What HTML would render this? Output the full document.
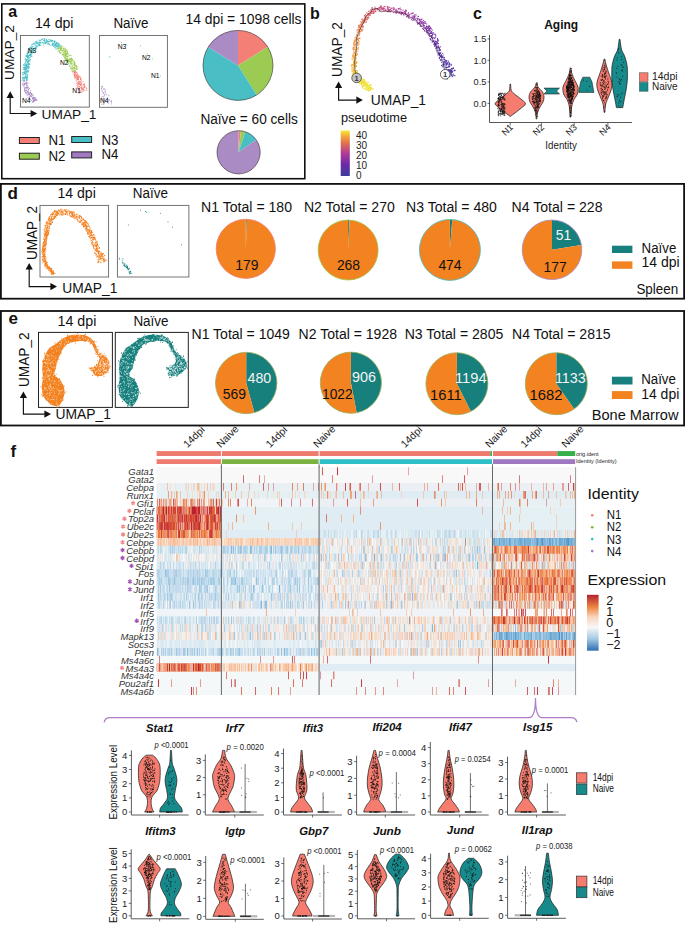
<!DOCTYPE html>
<html><head><meta charset="utf-8"><title>Figure</title>
<style>html,body{margin:0;padding:0;background:#fff;}svg{display:block;}text{font-family:"Liberation Sans",sans-serif;}</style>
</head><body>
<svg width="685" height="931" viewBox="0 0 685 931" font-family="Liberation Sans, sans-serif" fill="#111">
<rect width="685" height="931" fill="#fff"/>
<rect x="1.8" y="3.9" width="303" height="174.8" fill="none" stroke="#111" stroke-width="1.6" />
<text x="8.3" y="17" font-size="16" font-weight="bold">a</text>
<text x="35" y="28" font-size="14" textLength="38.5" lengthAdjust="spacingAndGlyphs">14 dpi</text>
<text x="113.4" y="27.7" font-size="14" textLength="35" lengthAdjust="spacingAndGlyphs">Na&#239;ve</text>
<rect x="20.5" y="35.5" width="68.8" height="71.6" fill="#fff" stroke="#666" stroke-width="0.9" />
<rect x="99.5" y="35.5" width="67.9" height="71.8" fill="#fff" stroke="#666" stroke-width="0.9" />
<path d="M30.5 96.1h0M33.0 98.7h0M26.2 87.7h0M33.5 100.8h0M27.7 91.4h0M31.1 93.5h0M33.8 101.6h0M26.3 92.4h0M34.9 100.6h0M30.6 92.3h0M35.1 99.7h0M35.7 98.8h0M30.5 92.6h0M25.0 84.5h0M33.6 98.9h0M30.0 98.8h0M24.6 89.9h0M26.9 80.9h0M26.9 90.4h0M31.0 93.4h0M26.8 79.8h0M36.0 99.5h0M26.2 83.9h0M29.4 97.7h0M34.5 97.6h0M34.6 98.6h0M32.3 94.1h0M24.2 84.8h0M32.5 98.2h0M28.6 90.0h0M26.9 89.2h0M31.3 93.7h0M25.0 91.0h0M35.2 99.6h0M33.8 100.9h0M32.7 97.8h0M27.6 87.4h0M26.8 94.9h0M28.2 97.3h0M28.5 89.7h0M28.5 92.2h0M29.8 96.5h0M23.7 85.1h0M25.7 87.5h0M29.6 98.5h0M25.3 90.8h0M25.5 92.5h0M24.7 83.4h0M27.3 86.6h0M31.8 95.2h0M27.0 80.2h0M33.1 99.7h0M30.5 92.9h0M27.6 85.5h0M33.7 98.2h0M28.1 92.4h0M34.3 101.0h0M26.2 88.2h0M24.0 87.0h0M29.4 88.8h0M26.6 83.5h0M31.0 95.6h0M24.5 88.2h0M26.3 90.7h0M24.9 90.9h0M28.7 92.3h0M27.9 83.4h0M23.4 81.9h0M30.5 91.0h0M26.3 87.7h0M34.1 100.7h0M26.2 87.4h0M27.8 88.0h0M26.4 79.8h0M24.3 84.5h0M30.9 96.4h0M28.8 94.5h0M28.4 87.3h0M35.0 100.5h0M28.3 92.8h0M30.1 99.7h0M34.8 97.9h0M33.2 101.9h0M26.5 85.8h0M33.2 100.0h0M32.9 95.8h0M29.3 94.2h0M27.4 83.2h0M34.2 101.1h0M28.3 93.9h0M27.1 91.3h0M24.9 82.9h0M26.4 84.6h0M25.6 83.5h0M31.1 96.3h0M29.8 92.9h0M29.3 94.7h0M22.8 83.2h0M26.1 80.9h0M31.5 100.6h0M33.6 97.3h0M29.9 99.2h0M29.6 99.1h0M25.7 93.0h0M25.6 90.2h0M31.5 96.9h0M37.0 100.1h0M27.9 93.7h0M29.5 94.9h0M24.8 91.1h0M24.7 81.2h0M25.2 88.0h0M27.5 91.6h0M24.5 89.9h0M24.4 88.6h0M32.3 102.3h0M26.3 82.4h0M24.1 85.9h0M26.7 82.7h0M23.1 85.0h0M27.6 95.0h0M29.6 93.8h0M35.1 98.9h0M27.3 88.0h0M33.1 101.8h0M35.8 99.7h0M33.1 97.3h0M32.4 98.7h0M31.5 94.3h0M35.9 99.6h0M36.6 100.4h0M33.2 99.0h0M32.9 101.4h0M29.8 94.6h0M36.2 100.3h0M24.2 83.4h0M29.1 88.4h0M33.8 98.3h0M33.2 95.6h0M31.8 94.2h0M28.7 94.8h0M35.3 97.9h0M22.6 84.3h0M24.2 80.2h0M27.9 92.7h0M26.2 93.4h0M34.3 99.5h0M33.5 100.3h0M31.1 94.4h0M29.6 97.4h0" stroke="#AA8BC3" stroke-width="1.0" stroke-linecap="round" fill="none" opacity="1.0"/>
<path d="M26.7 69.3h0M24.9 69.4h0M29.2 67.2h0M54.3 45.1h0M33.4 50.8h0M27.7 66.3h0M54.9 42.0h0M60.4 45.9h0M30.9 52.5h0M26.1 71.4h0M28.8 68.6h0M25.7 74.2h0M29.1 58.3h0M25.3 74.1h0M26.2 65.4h0M28.1 63.5h0M36.2 48.0h0M54.1 40.9h0M45.0 41.7h0M29.7 55.0h0M27.7 53.7h0M31.3 47.2h0M28.8 56.6h0M30.5 59.3h0M25.5 76.1h0M28.4 62.1h0M57.2 46.3h0M24.3 72.6h0M30.0 47.6h0M35.6 41.8h0M51.8 41.1h0M27.3 66.4h0M28.0 63.7h0M28.7 64.8h0M31.9 55.9h0M31.1 52.7h0M57.1 44.7h0M52.3 40.2h0M53.8 41.0h0M23.1 78.7h0M27.3 78.3h0M42.6 42.8h0M52.6 45.1h0M28.8 49.2h0M36.1 45.9h0M23.5 80.2h0M30.4 56.0h0M53.7 46.5h0M49.4 44.5h0M52.6 40.6h0M59.5 44.2h0M28.9 64.8h0M25.9 73.2h0M24.9 70.1h0M32.3 48.9h0M40.2 42.5h0M55.9 45.4h0M43.7 44.9h0M38.7 42.6h0M46.3 39.7h0M33.0 52.4h0M31.6 45.1h0M23.7 77.5h0M47.0 41.2h0M27.1 65.7h0M55.6 43.6h0M38.9 42.7h0M26.7 60.3h0M24.7 72.1h0M28.9 64.2h0M38.9 44.3h0M41.3 40.0h0M26.4 73.1h0M26.7 75.1h0M33.5 48.6h0M36.2 46.9h0M28.5 56.0h0M26.5 66.3h0M37.4 46.6h0M24.6 79.0h0M28.7 61.4h0M31.1 52.0h0M59.0 43.8h0M36.8 41.1h0M52.8 44.4h0M32.8 51.6h0M23.8 64.6h0M27.2 64.0h0M56.4 46.5h0M41.2 39.4h0M26.8 60.7h0M26.4 78.2h0M30.9 48.6h0M40.3 43.3h0M27.0 53.3h0M29.3 64.0h0M39.2 40.6h0M55.3 45.3h0M28.5 66.3h0M26.2 77.8h0M25.4 58.4h0M27.0 53.5h0M41.3 42.7h0M28.9 68.4h0M47.9 41.4h0M44.3 43.5h0M30.3 47.6h0M27.5 67.7h0M55.9 48.1h0M29.8 61.1h0M49.5 44.5h0M23.6 65.2h0M27.9 65.9h0M45.6 43.4h0M25.7 61.0h0M57.0 45.0h0M32.4 50.0h0M26.9 68.4h0M28.9 66.2h0M30.8 54.9h0M39.2 40.1h0M58.1 43.9h0M28.4 71.5h0M27.5 55.2h0M26.0 67.3h0M57.4 46.5h0M26.6 71.2h0M27.6 77.0h0M27.4 76.7h0M30.9 56.0h0M54.2 41.8h0M54.2 41.3h0M43.0 38.6h0M57.6 48.5h0M55.8 44.6h0M27.6 59.4h0M23.7 67.4h0M57.2 44.1h0M44.9 38.8h0M22.4 78.0h0M39.8 43.2h0M27.0 55.6h0M26.1 55.5h0M29.8 59.7h0M26.3 69.3h0M22.2 80.2h0M25.8 61.6h0M27.6 58.1h0M58.5 44.1h0M24.2 71.8h0M58.3 44.0h0M25.7 66.4h0M27.6 57.2h0M48.8 44.0h0M49.3 44.7h0M28.6 52.6h0M26.5 77.3h0M29.6 49.6h0M30.4 57.2h0M56.3 42.3h0M25.3 67.6h0M26.5 56.4h0M53.9 43.9h0M22.5 77.7h0M30.3 54.8h0M48.7 41.6h0M46.3 40.3h0M23.0 77.4h0M26.1 78.0h0M23.1 75.7h0M53.9 45.1h0M24.6 63.2h0M44.8 40.6h0M54.4 42.6h0M30.3 59.8h0M29.9 63.7h0M56.8 45.9h0M36.1 42.8h0M29.4 63.9h0M42.1 39.3h0M25.1 59.0h0M28.1 63.7h0M24.9 80.2h0M45.2 41.8h0M56.3 43.4h0M39.3 45.5h0M57.7 43.4h0M26.6 79.0h0M24.9 64.8h0M29.4 50.2h0M55.1 47.3h0M58.0 45.4h0M27.3 55.3h0M29.6 64.6h0M28.4 52.2h0M32.9 51.1h0M56.8 42.7h0M24.7 68.2h0M48.6 39.8h0M44.9 39.2h0M48.8 43.3h0M46.7 40.6h0M34.8 43.1h0M27.9 59.4h0M29.1 60.3h0M27.3 56.8h0M47.1 40.4h0M27.9 74.8h0M28.9 67.9h0M44.6 39.8h0M28.2 64.4h0M25.7 76.1h0M26.9 77.7h0M35.2 48.0h0M28.1 59.9h0M58.4 46.9h0M52.8 43.3h0M59.1 46.2h0M29.5 64.1h0M23.4 74.5h0M25.5 74.4h0M31.3 48.2h0M42.4 42.0h0M31.4 52.8h0M23.8 64.2h0M30.8 54.5h0M36.0 43.3h0M40.8 45.3h0M44.4 38.9h0M51.4 40.8h0M40.1 45.1h0M26.0 72.6h0M49.3 44.6h0M26.8 61.0h0M32.3 44.3h0M28.9 56.1h0M43.9 40.3h0M24.6 67.3h0M26.7 64.2h0M26.8 64.7h0M25.6 70.2h0M54.3 42.2h0M36.3 46.8h0M25.4 59.2h0M31.8 56.4h0M59.9 45.5h0M32.7 49.5h0M25.7 65.4h0M48.2 41.7h0M39.5 45.6h0M58.2 47.9h0M24.1 73.7h0M30.1 50.4h0M49.6 44.6h0M50.6 41.3h0M54.8 44.4h0M23.4 78.0h0M27.4 61.7h0M26.0 72.4h0M24.5 67.8h0M57.0 46.9h0M35.6 45.2h0M55.4 45.4h0M27.7 56.4h0M52.0 44.1h0M29.2 51.8h0M24.8 63.2h0M46.1 42.8h0M55.4 46.0h0M26.1 73.0h0M35.8 45.0h0M36.5 42.2h0M26.0 66.5h0M27.4 56.3h0M27.6 71.1h0M26.8 67.5h0M29.1 64.1h0M37.0 45.8h0M38.7 44.3h0M28.3 67.9h0M27.8 79.8h0M26.7 59.3h0M40.3 42.3h0M25.8 68.4h0M28.0 60.5h0M26.3 67.0h0M47.6 44.0h0M32.7 46.2h0M27.1 76.3h0M25.3 73.6h0M29.0 55.2h0M33.8 46.9h0M39.4 44.5h0M24.5 73.5h0M24.5 69.6h0M40.4 40.6h0M29.4 54.6h0M28.1 62.9h0M28.3 61.2h0M58.8 43.8h0M29.8 60.9h0M35.6 47.6h0M27.4 57.0h0M30.6 54.5h0M50.9 45.5h0M59.8 46.0h0M28.6 57.2h0M24.8 67.2h0M42.7 39.1h0M24.8 67.0h0M26.5 79.6h0M53.5 46.3h0M31.7 54.5h0M49.0 44.1h0M30.1 54.9h0M52.3 45.3h0M32.5 52.9h0M23.1 69.2h0M26.5 78.8h0M34.1 46.9h0M38.1 42.9h0M53.5 46.3h0M27.2 74.6h0M36.3 42.9h0M28.1 56.2h0M34.2 50.7h0M26.9 71.3h0M27.4 62.5h0M33.7 49.5h0M56.1 44.0h0M24.0 72.6h0M29.7 48.2h0M47.9 41.6h0M59.0 44.0h0M26.9 67.7h0M25.4 71.6h0M57.9 43.0h0M58.6 45.2h0M29.9 49.1h0M25.8 76.4h0M57.0 42.7h0M30.1 55.6h0M55.1 41.8h0M38.4 45.6h0M49.6 41.5h0M25.3 69.3h0M47.0 42.5h0M28.4 66.3h0M27.1 54.5h0M50.5 40.6h0M50.0 39.5h0M23.9 68.5h0M24.4 65.7h0M27.3 54.5h0M31.1 46.8h0M27.4 55.3h0M23.1 72.3h0M26.0 64.3h0M43.7 43.1h0M53.9 43.1h0M27.3 77.9h0M33.0 44.1h0M45.5 42.2h0M25.1 77.8h0M50.8 39.9h0M27.9 72.6h0M34.9 42.7h0M36.1 48.3h0M38.1 44.8h0M25.9 60.5h0M29.7 52.8h0M34.2 44.3h0M30.6 53.9h0M39.2 42.0h0M27.8 51.0h0M27.8 52.0h0M25.1 78.5h0M36.1 42.8h0M34.0 51.2h0M25.3 65.1h0M45.7 43.5h0M46.6 39.4h0M30.5 52.2h0M24.1 69.0h0M31.3 50.6h0M22.2 73.1h0M25.9 71.8h0M28.3 53.3h0M22.9 74.0h0M31.1 53.2h0M33.6 49.7h0M24.5 77.3h0M37.7 43.3h0M27.7 75.1h0M44.2 42.1h0M46.4 42.0h0M34.2 50.0h0M26.2 76.5h0M30.2 47.9h0M27.3 56.4h0M58.8 43.8h0M27.8 71.7h0M51.9 41.6h0M60.1 46.0h0M43.6 40.4h0M49.1 40.9h0M23.6 67.4h0M56.2 48.9h0M30.2 48.9h0M56.8 46.6h0M55.9 43.1h0M27.2 70.1h0M47.4 41.5h0M55.1 45.9h0M25.1 76.3h0M26.7 56.9h0M45.3 43.1h0M26.2 69.8h0M55.0 41.1h0M25.8 62.2h0M48.9 41.5h0M28.1 70.8h0M32.5 49.8h0M54.3 45.3h0M28.0 67.0h0M26.1 62.9h0M31.7 48.5h0M28.8 60.2h0M26.4 77.8h0M26.8 68.3h0M27.3 70.4h0M54.6 47.2h0M40.4 42.3h0M54.5 41.2h0M25.8 69.6h0M47.5 40.9h0M24.6 72.5h0M32.2 47.1h0M36.8 41.8h0M27.8 57.2h0M52.3 42.0h0M36.4 47.9h0M34.2 44.7h0M52.6 43.9h0M25.2 73.2h0M60.3 45.5h0M36.3 42.2h0M28.1 55.8h0M48.0 43.2h0M28.8 63.7h0M58.0 47.9h0M34.3 44.1h0M29.5 57.7h0M45.9 42.8h0M31.5 52.8h0M26.1 69.2h0M44.7 40.8h0M25.8 76.9h0M49.3 44.8h0M26.7 64.2h0M37.5 42.3h0M58.7 46.6h0M33.4 43.3h0M39.2 41.7h0M30.0 61.0h0M23.8 80.2h0M27.1 78.3h0M28.4 70.5h0M36.8 43.8h0M28.1 52.9h0M30.8 47.4h0M53.2 43.9h0M26.4 72.4h0M23.6 65.3h0M39.4 43.7h0M24.6 78.4h0M22.8 79.8h0M28.2 57.9h0M25.4 73.6h0M25.9 56.4h0" stroke="#49BFC5" stroke-width="1.05" stroke-linecap="round" fill="none" opacity="1.0"/>
<path d="M63.0 54.2h0M70.1 63.0h0M66.4 59.9h0M67.8 56.2h0M66.8 53.2h0M69.6 55.7h0M68.5 63.5h0M70.7 67.1h0M74.3 68.6h0M63.6 49.6h0M67.0 51.4h0M67.0 57.3h0M69.3 59.9h0M67.5 52.9h0M65.3 49.0h0M61.7 47.9h0M65.9 53.4h0M69.9 55.3h0M76.5 68.8h0M74.8 68.3h0M76.4 66.3h0M77.0 69.5h0M74.4 70.2h0M70.5 61.3h0M74.2 65.5h0M61.0 48.2h0M70.8 62.4h0M69.8 60.9h0M63.0 55.1h0M71.2 58.7h0M77.2 69.3h0M66.6 59.1h0M73.7 60.7h0M63.8 54.6h0M63.7 56.5h0M72.1 68.9h0M59.7 48.2h0M65.0 50.0h0M71.0 63.2h0M65.4 58.2h0M60.3 49.1h0M68.4 63.2h0M65.5 56.0h0M70.5 59.1h0M66.9 56.4h0M66.6 60.3h0M66.2 61.3h0M67.2 56.4h0M59.5 52.2h0M61.1 53.3h0M74.1 67.5h0M66.6 60.3h0M61.0 50.1h0M70.7 68.3h0M65.6 51.2h0M61.7 49.8h0M71.3 58.1h0M63.1 53.9h0M67.5 59.0h0M66.7 61.0h0M65.4 51.0h0M70.8 60.1h0M59.2 51.8h0M67.5 59.3h0M67.6 61.4h0M59.6 50.3h0M67.9 54.8h0M60.8 47.5h0M65.0 57.8h0M71.7 68.2h0M71.1 58.3h0M71.0 63.8h0M74.4 63.1h0M59.4 52.1h0M74.7 71.2h0M74.5 62.2h0M61.4 48.7h0M75.1 66.3h0M64.7 57.7h0M63.4 48.5h0M74.7 70.0h0M71.5 58.2h0M75.0 63.5h0M63.0 48.4h0M72.4 65.3h0M57.8 50.9h0M66.0 50.4h0M66.0 55.8h0M61.2 45.7h0M71.6 60.1h0M65.9 49.9h0M67.5 51.4h0M74.6 62.0h0M68.6 55.9h0M72.3 68.8h0M72.6 59.9h0M77.0 66.4h0M71.1 58.5h0M73.9 68.7h0M75.3 66.7h0M63.8 49.5h0M71.9 64.8h0M65.0 55.3h0M73.9 64.0h0M70.6 62.5h0M76.0 65.5h0M60.7 50.4h0M66.0 55.5h0M72.1 63.5h0M72.8 70.1h0M74.1 62.7h0M60.9 47.7h0M72.6 59.5h0M60.6 49.7h0M71.6 58.3h0M75.3 64.7h0M63.2 47.9h0M75.5 68.3h0M73.5 60.7h0M64.4 51.9h0M63.6 50.7h0M70.2 54.9h0M72.3 67.6h0M68.1 61.3h0M61.0 50.1h0M58.6 48.5h0M59.6 51.5h0M72.0 66.4h0M62.2 51.5h0M68.1 60.8h0M65.5 53.0h0M70.0 63.3h0M68.6 53.8h0M62.1 50.3h0M72.4 68.1h0M68.2 59.4h0M73.8 61.3h0M74.0 65.1h0M71.8 70.9h0M58.6 48.2h0M67.4 53.0h0M60.2 53.1h0M67.3 58.0h0M71.6 68.4h0M70.8 66.8h0M60.2 47.6h0M63.7 50.4h0M74.5 65.3h0M72.2 61.8h0M65.9 56.4h0M66.9 58.4h0M62.2 50.3h0M76.4 65.7h0M64.4 56.9h0M71.0 69.3h0M69.1 61.7h0M61.7 47.4h0M66.4 53.6h0M62.9 52.4h0M76.6 67.1h0M72.3 59.1h0M58.3 50.8h0M62.6 50.4h0M67.2 54.0h0M65.1 59.2h0M70.6 59.7h0M66.5 55.5h0M66.0 54.4h0M60.5 45.9h0M69.1 61.1h0M65.0 54.9h0M59.0 47.2h0M71.1 55.5h0M75.3 70.7h0M60.4 48.6h0M60.2 52.6h0M71.9 61.4h0M65.4 51.8h0M62.7 55.1h0M67.1 59.4h0M65.8 51.6h0M71.0 59.8h0M71.4 57.9h0M76.4 69.2h0M74.0 70.7h0M59.9 48.4h0M68.5 60.1h0M72.6 65.2h0M73.4 67.8h0M69.2 66.4h0M68.0 62.4h0M69.9 61.4h0M66.5 55.3h0M64.0 54.2h0M74.5 64.7h0M74.0 67.3h0M76.8 68.2h0M71.9 62.7h0M64.8 53.7h0M74.6 63.3h0M70.8 64.7h0M69.1 58.2h0M71.4 61.1h0M63.9 56.4h0M70.1 59.1h0M65.4 57.4h0M58.3 50.6h0M65.8 53.9h0M65.2 54.1h0M72.4 71.4h0M66.0 59.1h0M66.1 55.6h0M64.0 52.6h0M66.6 49.8h0M64.1 55.7h0M63.1 48.6h0M58.1 49.0h0M74.4 67.2h0M65.2 58.5h0M65.2 58.5h0M71.1 58.3h0M64.9 53.3h0M65.0 48.6h0M62.9 46.3h0M65.9 52.6h0M67.4 52.0h0M69.4 65.2h0M69.4 59.5h0M73.2 69.4h0M67.1 53.5h0M77.2 67.7h0M71.2 59.6h0M60.9 48.1h0M65.2 48.9h0M67.3 61.8h0M73.5 71.2h0M66.3 54.8h0M74.8 63.8h0M65.1 58.0h0M73.8 67.3h0M60.5 49.1h0M65.3 59.4h0M74.2 68.6h0M63.6 53.9h0M67.1 50.9h0M61.3 46.5h0M64.8 48.1h0M62.4 54.4h0M74.1 62.1h0M64.3 51.3h0M64.7 57.0h0M64.9 49.6h0M67.2 62.1h0M74.1 67.3h0M67.9 63.5h0M61.3 52.9h0M74.9 62.4h0M76.0 69.2h0M72.1 59.9h0M61.2 48.2h0" stroke="#9CCB54" stroke-width="1.05" stroke-linecap="round" fill="none" opacity="1.0"/>
<path d="M76.1 80.0h0M83.2 91.2h0M84.3 84.2h0M83.4 84.4h0M78.3 76.7h0M74.0 75.1h0M78.9 83.9h0M79.5 89.0h0M78.3 90.0h0M78.9 77.4h0M75.2 74.9h0M78.6 81.7h0M83.1 89.5h0M74.6 75.1h0M79.7 86.9h0M74.4 75.0h0M76.7 78.3h0M72.9 72.8h0M74.7 77.8h0M77.5 79.5h0M86.7 90.0h0M81.4 92.2h0M76.6 75.0h0M77.5 77.3h0M80.2 91.7h0M76.3 75.7h0M77.6 78.1h0M80.9 79.3h0M74.2 74.0h0M75.8 76.4h0M80.5 78.4h0M76.8 79.7h0M80.0 92.7h0M75.7 77.1h0M77.8 74.7h0M82.3 90.1h0M80.6 79.5h0M86.0 87.6h0M80.9 84.4h0M78.1 89.0h0M77.8 78.0h0M74.8 74.2h0M84.0 85.5h0M79.0 81.0h0M78.7 83.2h0M77.5 87.1h0M77.9 88.7h0M77.7 76.8h0M77.6 79.2h0M83.9 90.4h0M78.1 83.3h0M75.7 77.6h0M77.1 85.3h0M77.6 76.2h0M84.7 85.6h0M74.9 71.9h0M82.4 88.2h0M80.3 82.3h0M78.6 78.1h0M84.7 90.1h0M74.7 77.4h0M76.1 75.9h0M75.0 72.4h0M77.9 83.1h0M84.3 85.1h0M81.1 85.2h0M78.8 79.1h0M82.0 88.0h0M77.0 72.8h0M80.0 76.4h0M80.4 84.3h0M86.8 90.0h0M78.4 85.2h0M79.3 86.5h0M83.2 86.8h0M77.2 79.9h0M78.8 92.8h0M84.6 84.7h0M77.9 78.5h0M78.3 79.0h0M84.7 86.8h0M80.1 77.1h0M74.7 75.5h0M78.4 91.0h0M77.8 82.4h0M79.1 81.6h0M84.1 83.3h0M86.8 88.5h0M77.3 73.9h0M77.2 77.4h0M75.1 72.4h0M80.7 78.3h0M79.2 82.1h0M81.6 89.4h0M77.3 86.3h0M81.1 82.1h0M78.4 79.6h0M79.3 83.4h0M75.6 77.9h0M83.1 88.9h0M81.3 87.7h0M79.2 89.4h0M76.0 74.5h0M81.6 84.6h0M80.3 87.6h0M81.6 80.3h0M80.7 90.7h0M83.5 89.1h0M82.0 86.2h0M81.3 88.6h0M81.9 83.8h0M82.0 89.9h0M74.7 74.1h0M78.1 87.8h0M81.2 85.7h0M80.2 84.4h0M77.6 76.8h0M76.5 72.3h0M81.8 82.7h0M84.8 87.2h0M78.2 76.3h0M76.0 75.8h0M78.8 75.3h0M75.1 73.2h0M80.6 85.5h0M82.2 92.0h0M78.5 89.6h0M77.1 78.6h0M77.1 87.4h0M76.4 72.3h0M82.3 88.8h0M78.6 77.7h0M73.7 71.4h0M80.8 83.9h0M75.8 74.1h0M76.6 77.1h0M75.4 72.1h0M80.9 79.7h0M79.2 82.7h0M78.3 89.3h0M74.4 72.8h0M83.9 87.5h0M75.0 73.7h0M74.6 76.4h0M80.1 84.2h0M77.3 78.9h0M79.4 76.8h0M78.3 84.1h0M76.7 75.0h0M81.4 87.4h0M77.2 75.3h0M84.3 87.9h0M81.7 88.3h0M76.9 83.7h0M74.1 72.3h0M78.6 89.0h0M75.6 71.2h0M80.4 81.3h0M76.2 81.2h0M74.5 72.5h0M79.5 84.6h0M79.2 86.9h0M83.0 81.6h0M80.8 78.4h0M76.8 83.4h0M78.1 84.3h0M77.2 76.4h0M83.4 88.9h0M79.5 93.0h0M84.8 86.6h0" stroke="#F47F77" stroke-width="1.0" stroke-linecap="round" fill="none" opacity="1.0"/>
<text x="27.7" y="53.2" font-size="6.6" fill="#000" textLength="8.6" lengthAdjust="spacingAndGlyphs">N3</text>
<text x="59.9" y="65" font-size="6.6" fill="#000" textLength="8.6" lengthAdjust="spacingAndGlyphs">N2</text>
<text x="72.3" y="93.4" font-size="6.6" fill="#000" textLength="8.6" lengthAdjust="spacingAndGlyphs">N1</text>
<text x="21.9" y="103" font-size="6.6" fill="#000" textLength="8.6" lengthAdjust="spacingAndGlyphs">N4</text>
<path d="M121.5 42.6h0M125.5 44.5h0M126.8 44.7h0M140.5 45.8h0M109.8 56.9h0" stroke="#49BFC5" stroke-width="1.1" stroke-linecap="round" fill="none" opacity="1"/>
<path d="M147.5 54.0h0M152.5 59.0h0" stroke="#9CCB54" stroke-width="1.0" stroke-linecap="round" fill="none" opacity="1"/>
<path d="M160.5 76.0h0" stroke="#F47F77" stroke-width="1.0" stroke-linecap="round" fill="none" opacity="1"/>
<path d="M107.3 99.8h0M111.6 101.8h0M103.7 104.0h0M104.7 89.0h0M103.0 98.5h0M104.0 100.3h0M103.5 92.7h0M107.4 97.8h0M104.1 89.0h0M106.0 99.3h0M109.6 100.0h0M102.5 86.7h0M108.7 100.1h0M103.1 99.6h0M111.3 104.0h0M103.9 92.7h0M103.9 104.0h0M108.9 95.9h0M104.1 103.2h0M105.2 100.9h0M109.2 99.9h0M102.3 90.4h0M102.8 92.3h0M101.7 87.8h0M104.6 95.8h0M103.5 89.1h0M108.5 103.7h0M106.5 95.0h0M102.7 96.4h0M101.5 97.1h0M103.0 100.1h0M108.5 95.2h0M110.6 101.4h0M107.7 99.6h0M111.6 100.5h0M105.5 91.9h0M103.0 94.0h0M108.3 102.1h0M111.6 102.5h0M103.2 98.8h0M102.7 87.0h0M104.2 100.8h0M101.3 88.9h0M104.9 91.4h0M101.8 86.4h0M105.8 93.3h0M101.5 104.3h0M105.4 90.1h0M103.2 104.1h0M105.0 94.6h0M104.2 94.3h0M103.5 97.0h0M101.6 88.4h0M101.8 91.2h0M108.2 99.3h0" stroke="#AA8BC3" stroke-width="0.9" stroke-linecap="round" fill="none" opacity="1"/>
<text x="117.7" y="49" font-size="6.6" fill="#000" textLength="8.6" lengthAdjust="spacingAndGlyphs">N3</text>
<text x="142" y="60.2" font-size="6.6" fill="#000" textLength="8.6" lengthAdjust="spacingAndGlyphs">N2</text>
<text x="151" y="78.2" font-size="6.6" fill="#000" textLength="8.6" lengthAdjust="spacingAndGlyphs">N1</text>
<text x="100" y="103.3" font-size="6.6" fill="#000" textLength="8.6" lengthAdjust="spacingAndGlyphs">N4</text>
<text x="0" y="0" transform="translate(13.8 80) rotate(-90)" font-size="13.5" textLength="55" lengthAdjust="spacingAndGlyphs" >UMAP_2</text>
<path d="M10.2 97.4V113.5H31.1" fill="none" stroke="#111" stroke-width="1.15"/>
<path d="M10.2 91.3L6.6 97.9L13.8 97.9Z" fill="#111"/>
<path d="M37.2 113.5L30.6 109.9L30.6 117.1Z" fill="#111"/>
<text x="41.6" y="119" font-size="13.5" textLength="54.8" lengthAdjust="spacingAndGlyphs">UMAP_1</text>
<rect x="19.4" y="137.5" width="19.9" height="6" fill="#F47F77" stroke="#222" stroke-width="1" />
<text x="48.4" y="145" font-size="14" textLength="17" lengthAdjust="spacingAndGlyphs">N1</text>
<rect x="19.4" y="153.2" width="19.9" height="6" fill="#9CCB54" stroke="#222" stroke-width="1" />
<text x="48.4" y="160.8" font-size="14" textLength="17" lengthAdjust="spacingAndGlyphs">N2</text>
<rect x="71.7" y="136.5" width="19.9" height="6" fill="#49BFC5" stroke="#222" stroke-width="1" />
<text x="101.5" y="144.7" font-size="14" textLength="17" lengthAdjust="spacingAndGlyphs">N3</text>
<rect x="71.7" y="151.9" width="19.9" height="6" fill="#A27AC2" stroke="#222" stroke-width="1" />
<text x="101.5" y="159.3" font-size="14" textLength="17" lengthAdjust="spacingAndGlyphs">N4</text>
<text x="185.5" y="23.7" font-size="14" textLength="116" lengthAdjust="spacingAndGlyphs">14 dpi = 1098 cells</text>
<path d="M238.00 65.40L238.00 30.40A35.00 35.00 0 0 1 267.68 46.85Z" fill="#F47F77"/>
<path d="M238.00 65.40L267.68 46.85A35.00 35.00 0 0 1 256.70 94.98Z" fill="#9CCB54"/>
<path d="M238.00 65.40L256.70 94.98A35.00 35.00 0 0 1 208.16 47.11Z" fill="#49BFC5"/>
<path d="M238.00 65.40L208.16 47.11A35.00 35.00 0 0 1 238.00 30.40Z" fill="#AA8BC3"/>
<circle cx="238" cy="65.4" r="35" fill="none" stroke="#333" stroke-width="0.6"/>
<text x="200.4" y="123.7" font-size="14" textLength="97.4" lengthAdjust="spacingAndGlyphs">Na&#239;ve = 60 cells</text>
<path d="M238.60 152.30L238.60 130.70A21.60 21.60 0 0 1 240.86 130.82Z" fill="#F47F77"/>
<path d="M238.60 152.30L240.86 130.82A21.60 21.60 0 0 1 245.27 131.76Z" fill="#9CCB54"/>
<path d="M238.60 152.30L245.27 131.76A21.60 21.60 0 0 1 256.16 139.73Z" fill="#49BFC5"/>
<path d="M238.60 152.30L256.16 139.73A21.60 21.60 0 1 1 238.60 130.70Z" fill="#AA8BC3"/>
<circle cx="238.6" cy="152.3" r="21.6" fill="none" stroke="#333" stroke-width="0.6"/>
<text x="310" y="18.6" font-size="16" font-weight="bold">b</text>
<path d="M373.2 88.8h0M357.7 75.9h0M368.8 88.4h0M352.9 73.7h0M360.4 78.9h0M355.9 75.4h0M358.3 78.6h0M360.8 79.4h0M364.5 81.8h0M359.1 80.6h0M362.4 80.8h0M356.6 76.3h0M358.3 81.6h0M358.5 78.5h0M362.9 81.9h0M362.9 79.1h0M362.7 81.3h0M365.4 86.2h0M359.9 76.9h0M359.4 76.8h0M355.0 77.6h0M356.5 77.1h0M353.3 75.4h0M366.3 83.8h0M367.6 89.1h0M363.2 79.6h0M359.3 78.4h0M356.2 76.1h0M364.2 81.6h0M361.6 80.8h0M360.3 76.2h0M360.7 79.5h0M369.9 88.0h0M369.3 87.8h0M354.6 75.1h0M361.1 80.5h0M365.1 84.2h0M370.9 85.2h0M371.9 89.3h0M361.6 82.3h0M370.4 88.7h0M371.5 87.6h0M354.3 75.1h0M367.8 86.5h0M372.5 88.9h0M355.6 73.2h0M370.2 90.4h0M358.4 76.8h0M352.6 76.5h0M360.0 78.3h0M362.2 81.1h0M362.8 82.7h0M367.9 85.7h0M356.8 75.0h0M368.2 82.5h0M370.3 88.5h0M362.7 85.9h0M364.9 83.2h0M354.8 73.9h0M368.8 86.7h0M370.5 89.6h0M370.5 88.4h0M367.6 86.7h0M352.7 72.0h0M366.5 85.3h0M357.5 76.1h0M355.8 77.0h0M361.2 84.4h0M364.0 84.0h0M367.6 87.7h0M365.7 82.1h0M356.1 75.3h0M362.0 80.3h0M361.9 82.7h0M366.2 86.5h0M358.8 79.2h0M363.4 83.7h0M361.9 81.8h0M370.7 84.6h0M359.9 77.8h0M355.6 71.9h0M357.9 79.1h0M355.2 77.3h0M365.1 83.6h0M357.7 76.8h0M362.2 81.9h0M364.7 81.2h0M362.5 82.7h0M369.8 88.0h0M360.6 80.4h0M359.7 81.6h0M367.2 85.4h0M364.4 83.1h0M363.9 81.3h0M367.9 86.1h0M357.5 74.1h0M356.0 72.8h0M367.3 85.0h0M353.2 74.9h0M361.4 80.5h0M366.4 84.3h0M365.2 81.4h0M370.2 88.1h0M356.7 76.6h0M363.7 81.0h0M366.8 82.1h0M356.4 73.0h0M369.4 88.0h0M367.7 87.6h0M364.4 80.8h0M358.5 76.5h0M361.6 81.7h0M366.3 85.2h0M362.0 80.3h0M359.6 77.2h0M366.9 85.9h0M363.8 79.1h0M354.3 72.0h0M361.4 79.4h0M356.9 75.3h0M360.3 76.6h0M362.3 79.7h0M360.3 79.1h0M364.1 79.7h0M369.0 86.9h0M368.1 89.0h0M363.4 82.1h0M359.4 75.9h0M367.4 84.3h0M360.6 80.0h0M368.3 85.6h0M363.6 81.4h0M359.5 77.2h0M362.4 81.9h0M363.7 86.3h0M370.4 87.2h0M363.7 82.0h0M352.0 74.2h0M366.3 86.0h0M372.2 88.7h0M371.5 88.0h0M363.9 84.2h0M361.8 82.3h0M369.1 87.5h0M366.1 83.9h0M357.7 75.5h0M356.7 79.4h0M357.0 75.8h0M363.5 81.2h0M369.3 84.7h0M369.4 85.0h0M364.4 79.7h0M364.3 82.4h0M358.6 80.7h0M366.2 89.5h0M356.1 74.4h0M356.5 73.9h0M361.6 77.9h0M363.4 83.6h0M370.0 89.9h0" stroke="#eee436" stroke-width="1.3" stroke-linecap="round" fill="none" opacity="0.95"/>
<path d="M359.2 41.3h0M357.2 48.4h0M356.4 63.2h0" stroke="#f0a041" stroke-width="1.25" stroke-linecap="round" fill="none" opacity="0.95"/>
<path d="M435.2 41.9h0M434.8 38.7h0M429.0 29.4h0M430.6 33.1h0" stroke="#702aa7" stroke-width="1.25" stroke-linecap="round" fill="none" opacity="0.95"/>
<path d="M428.5 30.5h0M426.2 29.0h0M425.8 28.2h0" stroke="#802ca5" stroke-width="1.25" stroke-linecap="round" fill="none" opacity="0.95"/>
<path d="M361.7 24.9h0M362.7 26.1h0M361.1 29.4h0M358.5 26.6h0M364.0 20.0h0M363.6 21.5h0M359.5 26.2h0" stroke="#e67856" stroke-width="1.25" stroke-linecap="round" fill="none" opacity="0.95"/>
<path d="M385.2 9.7h0" stroke="#ba418a" stroke-width="1.25" stroke-linecap="round" fill="none" opacity="0.95"/>
<path d="M354.4 56.3h0M355.0 60.4h0" stroke="#f0b43d" stroke-width="1.25" stroke-linecap="round" fill="none" opacity="0.95"/>
<path d="M450.9 64.0h0M451.1 71.1h0M443.3 57.1h0M445.4 62.1h0M444.6 61.5h0M451.0 65.1h0M448.8 66.1h0M448.6 69.7h0M447.5 63.0h0M452.0 71.4h0" stroke="#5032a4" stroke-width="1.25" stroke-linecap="round" fill="none" opacity="0.95"/>
<path d="M399.0 13.2h0" stroke="#ad3a94" stroke-width="1.25" stroke-linecap="round" fill="none" opacity="0.95"/>
<path d="M361.5 82.8h0M357.0 75.7h0M364.9 85.4h0M356.7 77.5h0M367.0 83.4h0M356.7 76.0h0M359.6 82.8h0M371.0 85.5h0M369.0 88.9h0M370.2 85.1h0M361.4 81.2h0M368.2 91.3h0M363.1 83.8h0M365.1 89.7h0M368.0 88.4h0M366.6 86.8h0" stroke="#f0e832" stroke-width="1.25" stroke-linecap="round" fill="none" opacity="0.95"/>
<path d="M354.7 63.6h0M355.1 53.5h0M354.9 37.8h0" stroke="#f09e42" stroke-width="1.25" stroke-linecap="round" fill="none" opacity="0.95"/>
<path d="M424.9 23.2h0M427.2 26.6h0M428.9 25.7h0" stroke="#822da4" stroke-width="1.25" stroke-linecap="round" fill="none" opacity="0.95"/>
<path d="M366.5 17.2h0" stroke="#dc6566" stroke-width="1.25" stroke-linecap="round" fill="none" opacity="0.95"/>
<path d="M427.2 28.4h0M420.9 20.0h0M426.3 27.7h0M423.5 20.5h0" stroke="#862da4" stroke-width="1.25" stroke-linecap="round" fill="none" opacity="0.95"/>
<path d="M353.3 47.5h0M353.4 55.6h0M354.4 62.6h0M356.0 52.8h0M355.0 62.7h0M354.1 49.0h0M353.7 56.2h0" stroke="#f0a340" stroke-width="1.25" stroke-linecap="round" fill="none" opacity="0.95"/>
<path d="M434.1 43.7h0M435.4 41.1h0M436.3 44.1h0M429.2 35.2h0M435.4 43.3h0" stroke="#6628a9" stroke-width="1.25" stroke-linecap="round" fill="none" opacity="0.95"/>
<path d="M436.3 43.8h0M436.4 43.7h0M434.6 46.0h0M436.7 46.6h0" stroke="#6228a9" stroke-width="1.25" stroke-linecap="round" fill="none" opacity="0.95"/>
<path d="M356.7 75.6h0M365.1 83.8h0M355.3 77.6h0" stroke="#f0d735" stroke-width="1.25" stroke-linecap="round" fill="none" opacity="0.95"/>
<path d="M405.2 11.2h0M401.8 13.3h0M396.7 13.0h0M397.5 11.1h0M405.7 9.8h0" stroke="#a93798" stroke-width="1.25" stroke-linecap="round" fill="none" opacity="0.95"/>
<path d="M426.4 26.5h0" stroke="#782ba6" stroke-width="1.25" stroke-linecap="round" fill="none" opacity="0.95"/>
<path d="M435.6 44.5h0M437.5 38.7h0M438.2 47.1h0M435.2 44.2h0M432.0 42.1h0M436.4 50.2h0M435.0 45.9h0" stroke="#6129a9" stroke-width="1.25" stroke-linecap="round" fill="none" opacity="0.95"/>
<path d="M437.6 40.6h0M436.1 43.6h0M435.5 37.3h0" stroke="#6428a9" stroke-width="1.25" stroke-linecap="round" fill="none" opacity="0.95"/>
<path d="M353.5 47.1h0M353.7 49.3h0M355.1 57.4h0M355.4 53.0h0M353.1 48.9h0" stroke="#f0a540" stroke-width="1.25" stroke-linecap="round" fill="none" opacity="0.95"/>
<path d="M419.5 19.9h0M419.8 19.2h0M410.8 18.1h0M417.0 22.6h0" stroke="#912fa2" stroke-width="1.25" stroke-linecap="round" fill="none" opacity="0.95"/>
<path d="M401.1 9.5h0M406.5 16.5h0" stroke="#a6369a" stroke-width="1.25" stroke-linecap="round" fill="none" opacity="0.95"/>
<path d="M353.9 66.9h0M353.8 72.3h0M352.7 67.3h0" stroke="#f0b83c" stroke-width="1.25" stroke-linecap="round" fill="none" opacity="0.95"/>
<path d="M356.3 55.6h0M355.4 57.7h0" stroke="#f0a141" stroke-width="1.25" stroke-linecap="round" fill="none" opacity="0.95"/>
<path d="M403.4 14.8h0" stroke="#ab3897" stroke-width="1.25" stroke-linecap="round" fill="none" opacity="0.95"/>
<path d="M353.6 73.7h0" stroke="#f0c539" stroke-width="1.25" stroke-linecap="round" fill="none" opacity="0.95"/>
<path d="M414.9 15.6h0" stroke="#a1329f" stroke-width="1.25" stroke-linecap="round" fill="none" opacity="0.95"/>
<path d="M355.2 45.3h0M355.7 54.5h0M355.5 49.9h0M355.1 59.1h0M356.8 61.7h0M354.1 61.0h0" stroke="#f09d42" stroke-width="1.25" stroke-linecap="round" fill="none" opacity="0.95"/>
<path d="M358.1 42.0h0M357.8 38.9h0" stroke="#f08d45" stroke-width="1.25" stroke-linecap="round" fill="none" opacity="0.95"/>
<path d="M371.2 10.6h0M371.0 11.5h0M373.7 12.9h0M372.9 11.7h0" stroke="#d85c6d" stroke-width="1.25" stroke-linecap="round" fill="none" opacity="0.95"/>
<path d="M394.2 8.8h0M396.9 10.8h0M399.3 12.8h0M401.3 14.6h0M396.1 10.5h0" stroke="#ae3a94" stroke-width="1.25" stroke-linecap="round" fill="none" opacity="0.95"/>
<path d="M429.6 28.4h0M427.0 32.8h0M423.7 25.7h0M426.5 29.8h0M429.8 26.8h0" stroke="#7c2ca5" stroke-width="1.25" stroke-linecap="round" fill="none" opacity="0.95"/>
<path d="M430.5 27.7h0M428.2 27.3h0M429.8 30.9h0M427.7 31.9h0M423.4 29.1h0M420.6 26.1h0" stroke="#7d2ca5" stroke-width="1.25" stroke-linecap="round" fill="none" opacity="0.95"/>
<path d="M359.1 35.3h0M359.7 33.6h0M356.1 50.1h0M359.5 34.0h0M356.6 45.2h0M358.5 31.7h0" stroke="#ee8848" stroke-width="1.25" stroke-linecap="round" fill="none" opacity="0.95"/>
<path d="M412.9 20.6h0M417.6 19.8h0M417.1 20.0h0M419.7 22.1h0" stroke="#932fa2" stroke-width="1.25" stroke-linecap="round" fill="none" opacity="0.95"/>
<path d="M424.0 23.7h0M427.5 28.3h0M423.5 29.4h0M429.8 31.8h0M432.7 34.8h0" stroke="#7e2ca5" stroke-width="1.25" stroke-linecap="round" fill="none" opacity="0.95"/>
<path d="M410.9 13.9h0M411.6 19.7h0" stroke="#9d31a0" stroke-width="1.25" stroke-linecap="round" fill="none" opacity="0.95"/>
<path d="M443.3 64.0h0M439.4 48.7h0" stroke="#562ea6" stroke-width="1.25" stroke-linecap="round" fill="none" opacity="0.95"/>
<path d="M354.7 52.9h0M355.9 52.3h0M356.4 43.4h0M353.7 51.0h0" stroke="#f09943" stroke-width="1.25" stroke-linecap="round" fill="none" opacity="0.95"/>
<path d="M359.0 30.8h0M361.5 26.2h0M360.4 28.4h0" stroke="#e97f50" stroke-width="1.25" stroke-linecap="round" fill="none" opacity="0.95"/>
<path d="M419.2 19.9h0M420.2 23.6h0" stroke="#8b2ea3" stroke-width="1.25" stroke-linecap="round" fill="none" opacity="0.95"/>
<path d="M355.3 40.9h0M357.3 32.0h0M358.6 40.5h0M356.1 46.9h0" stroke="#f08e45" stroke-width="1.25" stroke-linecap="round" fill="none" opacity="0.95"/>
<path d="M353.3 62.8h0M354.6 70.0h0M352.1 64.4h0M353.9 57.8h0M355.3 63.5h0" stroke="#f0ad3e" stroke-width="1.25" stroke-linecap="round" fill="none" opacity="0.95"/>
<path d="M353.4 48.1h0M355.6 41.4h0M353.0 55.3h0" stroke="#f09a42" stroke-width="1.25" stroke-linecap="round" fill="none" opacity="0.95"/>
<path d="M432.4 38.5h0M435.8 36.0h0M429.1 34.2h0M430.0 36.3h0M434.2 34.2h0M431.4 28.8h0" stroke="#6f29a8" stroke-width="1.25" stroke-linecap="round" fill="none" opacity="0.95"/>
<path d="M439.2 48.2h0M441.6 57.1h0" stroke="#582da7" stroke-width="1.25" stroke-linecap="round" fill="none" opacity="0.95"/>
<path d="M429.1 26.7h0M434.0 37.5h0M432.6 37.3h0M430.3 30.5h0M428.8 35.2h0M427.2 32.0h0M429.6 28.9h0M428.9 27.0h0" stroke="#752aa7" stroke-width="1.25" stroke-linecap="round" fill="none" opacity="0.95"/>
<path d="M454.2 70.7h0M445.1 66.0h0M454.3 70.1h0M441.8 65.7h0M450.4 71.3h0" stroke="#4935a3" stroke-width="1.25" stroke-linecap="round" fill="none" opacity="0.95"/>
<path d="M438.6 40.8h0M435.3 43.8h0M432.9 41.7h0" stroke="#6728a9" stroke-width="1.25" stroke-linecap="round" fill="none" opacity="0.95"/>
<path d="M357.0 30.4h0M356.6 35.3h0M357.3 29.8h0" stroke="#e97e51" stroke-width="1.25" stroke-linecap="round" fill="none" opacity="0.95"/>
<path d="M358.7 29.8h0M360.3 27.7h0M358.2 27.8h0M354.4 40.4h0M359.3 38.1h0M359.1 32.2h0M359.6 30.4h0M361.8 27.3h0" stroke="#ec854b" stroke-width="1.25" stroke-linecap="round" fill="none" opacity="0.95"/>
<path d="M425.0 31.2h0M431.4 31.6h0M426.7 23.9h0M426.6 26.0h0" stroke="#792ba6" stroke-width="1.25" stroke-linecap="round" fill="none" opacity="0.95"/>
<path d="M360.1 82.9h0M358.1 77.1h0M357.0 76.5h0M354.0 77.3h0" stroke="#f0db34" stroke-width="1.25" stroke-linecap="round" fill="none" opacity="0.95"/>
<path d="M409.4 14.3h0M409.0 15.2h0" stroke="#9e31a0" stroke-width="1.25" stroke-linecap="round" fill="none" opacity="0.95"/>
<path d="M358.8 75.8h0" stroke="#f0d037" stroke-width="1.25" stroke-linecap="round" fill="none" opacity="0.95"/>
<path d="M361.5 83.6h0M362.4 81.1h0M363.2 85.2h0" stroke="#f0d935" stroke-width="1.25" stroke-linecap="round" fill="none" opacity="0.95"/>
<path d="M389.8 10.0h0M393.7 7.5h0M390.3 9.7h0" stroke="#b8408c" stroke-width="1.25" stroke-linecap="round" fill="none" opacity="0.95"/>
<path d="M355.1 64.2h0" stroke="#f0a640" stroke-width="1.25" stroke-linecap="round" fill="none" opacity="0.95"/>
<path d="M446.6 70.7h0M448.3 62.2h0" stroke="#4f33a4" stroke-width="1.25" stroke-linecap="round" fill="none" opacity="0.95"/>
<path d="M444.5 57.3h0M437.0 51.9h0M440.9 60.5h0M449.4 63.9h0M443.8 59.7h0M439.3 57.1h0M439.5 53.7h0" stroke="#572ea6" stroke-width="1.25" stroke-linecap="round" fill="none" opacity="0.95"/>
<path d="M379.0 7.9h0M381.2 6.1h0M382.1 9.4h0M382.3 9.4h0" stroke="#c74980" stroke-width="1.25" stroke-linecap="round" fill="none" opacity="0.95"/>
<path d="M355.6 70.7h0" stroke="#f0b53c" stroke-width="1.25" stroke-linecap="round" fill="none" opacity="0.95"/>
<path d="M388.3 10.7h0M387.4 11.5h0" stroke="#be4487" stroke-width="1.25" stroke-linecap="round" fill="none" opacity="0.95"/>
<path d="M391.4 10.3h0M387.8 8.0h0M388.8 11.8h0" stroke="#b9418b" stroke-width="1.25" stroke-linecap="round" fill="none" opacity="0.95"/>
<path d="M363.4 20.8h0M368.1 14.1h0M362.0 19.4h0M363.5 22.0h0M364.7 18.6h0" stroke="#e06d5f" stroke-width="1.25" stroke-linecap="round" fill="none" opacity="0.95"/>
<path d="M393.3 9.3h0M384.7 6.7h0" stroke="#c14585" stroke-width="1.25" stroke-linecap="round" fill="none" opacity="0.95"/>
<path d="M431.0 40.2h0M438.7 46.6h0M438.5 47.1h0M437.2 42.0h0M433.6 41.3h0M437.0 47.9h0M439.0 47.7h0M436.7 46.4h0" stroke="#6328a9" stroke-width="1.25" stroke-linecap="round" fill="none" opacity="0.95"/>
<path d="M356.8 72.8h0M354.2 69.2h0" stroke="#f0c838" stroke-width="1.25" stroke-linecap="round" fill="none" opacity="0.95"/>
<path d="M359.1 79.8h0M361.9 84.3h0M364.2 85.8h0" stroke="#f0d635" stroke-width="1.25" stroke-linecap="round" fill="none" opacity="0.95"/>
<path d="M368.6 18.1h0M365.5 14.3h0M363.8 20.9h0M373.6 12.9h0M366.6 19.8h0" stroke="#db6268" stroke-width="1.25" stroke-linecap="round" fill="none" opacity="0.95"/>
<path d="M383.6 8.6h0M382.2 8.9h0M388.2 7.5h0" stroke="#c24684" stroke-width="1.25" stroke-linecap="round" fill="none" opacity="0.95"/>
<path d="M358.9 43.2h0M358.1 49.6h0M354.6 47.9h0M355.4 55.5h0M357.9 51.2h0M354.0 49.3h0M354.5 46.1h0" stroke="#f09c42" stroke-width="1.25" stroke-linecap="round" fill="none" opacity="0.95"/>
<path d="M421.4 19.4h0M420.2 24.5h0M420.3 25.9h0M419.0 23.0h0M419.7 19.9h0" stroke="#892ea3" stroke-width="1.25" stroke-linecap="round" fill="none" opacity="0.95"/>
<path d="M356.2 49.4h0M358.7 44.2h0M355.1 44.5h0M353.9 42.5h0M354.4 40.1h0M355.9 44.6h0M353.6 44.9h0" stroke="#f09643" stroke-width="1.25" stroke-linecap="round" fill="none" opacity="0.95"/>
<path d="M359.5 29.4h0M363.0 21.2h0M360.7 24.1h0M362.1 26.7h0" stroke="#e67955" stroke-width="1.25" stroke-linecap="round" fill="none" opacity="0.95"/>
<path d="M425.0 28.9h0M417.6 23.0h0M423.2 24.5h0M418.2 16.4h0M413.2 18.0h0M419.1 22.7h0M421.2 22.9h0M419.4 23.7h0M415.4 18.8h0" stroke="#8c2ea3" stroke-width="1.25" stroke-linecap="round" fill="none" opacity="0.95"/>
<path d="M365.3 19.7h0M367.1 18.7h0M365.2 15.7h0M364.5 20.2h0M362.3 18.8h0M368.3 15.3h0" stroke="#de6863" stroke-width="1.25" stroke-linecap="round" fill="none" opacity="0.95"/>
<path d="M375.9 8.4h0M380.5 7.5h0M377.8 8.8h0" stroke="#cd4d7b" stroke-width="1.25" stroke-linecap="round" fill="none" opacity="0.95"/>
<path d="M448.1 67.2h0M442.2 56.7h0M441.7 55.6h0M449.3 73.1h0M448.1 60.9h0M449.8 72.3h0M443.9 63.8h0M444.8 64.8h0" stroke="#5131a5" stroke-width="1.25" stroke-linecap="round" fill="none" opacity="0.95"/>
<path d="M447.9 69.7h0M444.9 62.2h0M446.0 69.1h0M450.5 69.5h0M452.4 68.4h0M449.2 71.2h0M449.6 71.6h0M447.8 69.8h0M451.9 74.9h0M445.7 62.3h0" stroke="#4c34a3" stroke-width="1.25" stroke-linecap="round" fill="none" opacity="0.95"/>
<path d="M412.1 13.2h0M408.5 12.7h0M411.8 13.6h0M412.2 18.0h0" stroke="#9b31a0" stroke-width="1.25" stroke-linecap="round" fill="none" opacity="0.95"/>
<path d="M357.5 72.8h0M358.6 79.4h0" stroke="#f0cc37" stroke-width="1.25" stroke-linecap="round" fill="none" opacity="0.95"/>
<path d="M377.8 8.7h0M380.5 7.4h0" stroke="#c54882" stroke-width="1.25" stroke-linecap="round" fill="none" opacity="0.95"/>
<path d="M414.8 16.8h0M407.9 15.5h0M413.3 13.0h0M418.2 23.6h0M408.1 13.5h0" stroke="#9930a1" stroke-width="1.25" stroke-linecap="round" fill="none" opacity="0.95"/>
<path d="M355.9 37.2h0M355.1 50.9h0M355.1 43.5h0M356.2 47.1h0M353.1 48.9h0" stroke="#f09543" stroke-width="1.25" stroke-linecap="round" fill="none" opacity="0.95"/>
<path d="M362.8 85.9h0M359.9 80.7h0" stroke="#f0da34" stroke-width="1.25" stroke-linecap="round" fill="none" opacity="0.95"/>
<path d="M449.7 76.5h0M449.1 64.7h0M452.7 75.9h0M448.2 72.7h0M448.4 75.4h0" stroke="#4736a2" stroke-width="1.25" stroke-linecap="round" fill="none" opacity="0.95"/>
<path d="M443.6 65.9h0M442.6 66.8h0M447.3 70.0h0M446.4 67.0h0M446.2 64.8h0M449.3 63.7h0M451.9 70.0h0M444.6 69.2h0" stroke="#4e33a4" stroke-width="1.25" stroke-linecap="round" fill="none" opacity="0.95"/>
<path d="M351.7 69.0h0M354.3 71.4h0M353.7 64.8h0" stroke="#f0b63c" stroke-width="1.25" stroke-linecap="round" fill="none" opacity="0.95"/>
<path d="M380.0 9.5h0M375.2 9.6h0" stroke="#d35276" stroke-width="1.25" stroke-linecap="round" fill="none" opacity="0.95"/>
<path d="M412.2 13.4h0" stroke="#a3349c" stroke-width="1.25" stroke-linecap="round" fill="none" opacity="0.95"/>
<path d="M357.6 81.4h0M355.1 79.6h0" stroke="#f0d536" stroke-width="1.25" stroke-linecap="round" fill="none" opacity="0.95"/>
<path d="M432.9 33.1h0M427.7 32.6h0M429.4 29.9h0M428.2 26.5h0M427.0 32.6h0M432.3 30.1h0" stroke="#772ba6" stroke-width="1.25" stroke-linecap="round" fill="none" opacity="0.95"/>
<path d="M433.0 38.1h0M428.9 33.3h0M431.4 33.5h0M433.2 32.6h0M426.4 31.5h0M432.5 34.4h0" stroke="#712aa7" stroke-width="1.25" stroke-linecap="round" fill="none" opacity="0.95"/>
<path d="M375.5 11.7h0" stroke="#d45473" stroke-width="1.25" stroke-linecap="round" fill="none" opacity="0.95"/>
<path d="M355.5 76.1h0" stroke="#f0d236" stroke-width="1.25" stroke-linecap="round" fill="none" opacity="0.95"/>
<path d="M452.3 72.2h0" stroke="#4737a2" stroke-width="1.25" stroke-linecap="round" fill="none" opacity="0.95"/>
<path d="M362.7 81.2h0M361.4 81.8h0" stroke="#f0d336" stroke-width="1.25" stroke-linecap="round" fill="none" opacity="0.95"/>
<path d="M355.2 67.5h0M355.5 65.9h0M351.9 71.2h0M354.8 66.2h0" stroke="#f0b33d" stroke-width="1.25" stroke-linecap="round" fill="none" opacity="0.95"/>
<path d="M356.4 72.9h0M357.1 73.4h0M354.4 75.2h0" stroke="#f0ce37" stroke-width="1.25" stroke-linecap="round" fill="none" opacity="0.95"/>
<path d="M357.7 80.8h0M356.1 82.1h0M370.0 86.9h0" stroke="#f0dc34" stroke-width="1.25" stroke-linecap="round" fill="none" opacity="0.95"/>
<path d="M354.9 61.5h0M354.6 61.9h0" stroke="#f0be3a" stroke-width="1.25" stroke-linecap="round" fill="none" opacity="0.95"/>
<path d="M393.8 9.3h0M394.0 8.3h0" stroke="#b73f8d" stroke-width="1.25" stroke-linecap="round" fill="none" opacity="0.95"/>
<path d="M438.1 50.1h0M437.1 43.5h0M440.4 46.8h0M440.3 49.7h0" stroke="#6029a9" stroke-width="1.25" stroke-linecap="round" fill="none" opacity="0.95"/>
<path d="M352.7 59.3h0M354.7 60.4h0M353.8 68.4h0M353.7 63.2h0" stroke="#f0a740" stroke-width="1.25" stroke-linecap="round" fill="none" opacity="0.95"/>
<path d="M435.6 35.0h0M434.9 45.2h0M434.5 42.4h0M431.8 35.6h0M437.4 39.0h0" stroke="#6c29a8" stroke-width="1.25" stroke-linecap="round" fill="none" opacity="0.95"/>
<path d="M373.5 13.0h0M373.4 10.1h0M374.4 11.9h0M371.3 11.5h0" stroke="#d75b6e" stroke-width="1.25" stroke-linecap="round" fill="none" opacity="0.95"/>
<path d="M361.7 25.9h0M364.8 21.5h0M361.5 26.1h0" stroke="#e77a54" stroke-width="1.25" stroke-linecap="round" fill="none" opacity="0.95"/>
<path d="M355.0 44.8h0M359.8 38.5h0M358.6 45.0h0" stroke="#f09244" stroke-width="1.25" stroke-linecap="round" fill="none" opacity="0.95"/>
<path d="M451.0 73.3h0" stroke="#4537a2" stroke-width="1.25" stroke-linecap="round" fill="none" opacity="0.95"/>
<path d="M354.5 41.0h0M357.9 35.5h0M358.4 38.3h0M361.4 30.7h0M353.9 43.4h0M358.7 27.9h0" stroke="#ef8a47" stroke-width="1.25" stroke-linecap="round" fill="none" opacity="0.95"/>
<path d="M441.6 62.2h0M440.9 59.5h0M443.3 62.0h0M441.3 54.7h0M441.3 55.5h0M443.0 64.4h0M438.8 54.2h0" stroke="#552fa6" stroke-width="1.25" stroke-linecap="round" fill="none" opacity="0.95"/>
<path d="M445.5 63.0h0M449.2 73.5h0M445.1 67.3h0M451.4 73.0h0M447.0 64.4h0M451.6 70.9h0M452.1 69.8h0M449.7 66.6h0M443.9 63.1h0M446.8 67.5h0M446.2 67.8h0" stroke="#4f32a4" stroke-width="1.25" stroke-linecap="round" fill="none" opacity="0.95"/>
<path d="M408.0 14.7h0M414.9 16.7h0M418.2 16.4h0" stroke="#9f31a0" stroke-width="1.25" stroke-linecap="round" fill="none" opacity="0.95"/>
<path d="M379.8 8.6h0" stroke="#ce4d7a" stroke-width="1.25" stroke-linecap="round" fill="none" opacity="0.95"/>
<path d="M352.2 68.9h0M356.1 77.6h0" stroke="#f0c23a" stroke-width="1.25" stroke-linecap="round" fill="none" opacity="0.95"/>
<path d="M354.7 55.2h0M358.4 47.3h0" stroke="#f09e41" stroke-width="1.25" stroke-linecap="round" fill="none" opacity="0.95"/>
<path d="M452.7 71.6h0M449.0 73.0h0M449.8 76.2h0M453.3 74.0h0M441.8 65.4h0" stroke="#4b34a3" stroke-width="1.25" stroke-linecap="round" fill="none" opacity="0.95"/>
<path d="M354.7 73.5h0M354.5 75.1h0" stroke="#f0cb38" stroke-width="1.25" stroke-linecap="round" fill="none" opacity="0.95"/>
<path d="M438.1 45.6h0M438.3 53.4h0M439.0 52.1h0M439.8 57.6h0M439.6 49.3h0M442.6 57.7h0M439.8 53.0h0" stroke="#592da7" stroke-width="1.25" stroke-linecap="round" fill="none" opacity="0.95"/>
<path d="M354.0 42.1h0M358.2 48.6h0M353.1 57.2h0M354.5 40.8h0M355.8 55.3h0M353.3 53.7h0" stroke="#f09b42" stroke-width="1.25" stroke-linecap="round" fill="none" opacity="0.95"/>
<path d="M448.5 70.8h0M447.5 78.2h0M451.0 71.9h0M446.2 70.4h0M450.1 70.4h0M449.1 65.0h0M446.4 65.1h0M446.9 70.6h0M447.3 63.9h0M447.2 78.7h0" stroke="#4a35a3" stroke-width="1.25" stroke-linecap="round" fill="none" opacity="0.95"/>
<path d="M352.3 64.6h0M355.0 62.3h0M356.7 62.9h0" stroke="#f0b03e" stroke-width="1.25" stroke-linecap="round" fill="none" opacity="0.95"/>
<path d="M442.7 53.3h0M438.0 54.9h0M440.4 56.4h0" stroke="#5a2ca7" stroke-width="1.25" stroke-linecap="round" fill="none" opacity="0.95"/>
<path d="M355.1 59.7h0M356.5 65.7h0M353.1 67.2h0M354.5 66.1h0M353.7 60.6h0M354.4 70.2h0" stroke="#f0b23d" stroke-width="1.25" stroke-linecap="round" fill="none" opacity="0.95"/>
<path d="M360.9 24.6h0" stroke="#e2705c" stroke-width="1.25" stroke-linecap="round" fill="none" opacity="0.95"/>
<path d="M352.6 56.3h0M356.7 62.2h0M356.3 58.1h0" stroke="#f0a83f" stroke-width="1.25" stroke-linecap="round" fill="none" opacity="0.95"/>
<path d="M370.8 11.9h0" stroke="#dc6467" stroke-width="1.25" stroke-linecap="round" fill="none" opacity="0.95"/>
<path d="M437.5 47.7h0" stroke="#5d2ba8" stroke-width="1.25" stroke-linecap="round" fill="none" opacity="0.95"/>
<path d="M443.1 55.0h0M435.9 48.4h0" stroke="#5c2ba8" stroke-width="1.25" stroke-linecap="round" fill="none" opacity="0.95"/>
<path d="M402.4 12.4h0M406.2 10.8h0" stroke="#a83699" stroke-width="1.25" stroke-linecap="round" fill="none" opacity="0.95"/>
<path d="M367.5 89.7h0M354.3 78.1h0M362.0 82.8h0M369.8 88.3h0" stroke="#f0dd34" stroke-width="1.25" stroke-linecap="round" fill="none" opacity="0.95"/>
<path d="M431.5 37.2h0M433.9 40.3h0M431.5 32.9h0M433.9 44.5h0M432.4 40.8h0" stroke="#6828a9" stroke-width="1.25" stroke-linecap="round" fill="none" opacity="0.95"/>
<path d="M408.2 15.6h0" stroke="#a3339d" stroke-width="1.25" stroke-linecap="round" fill="none" opacity="0.95"/>
<path d="M359.4 27.4h0" stroke="#e47558" stroke-width="1.25" stroke-linecap="round" fill="none" opacity="0.95"/>
<path d="M356.5 40.1h0M354.0 44.2h0M356.6 42.8h0M353.9 53.2h0M356.5 38.0h0" stroke="#f09144" stroke-width="1.25" stroke-linecap="round" fill="none" opacity="0.95"/>
<path d="M363.6 20.3h0M371.3 13.3h0" stroke="#df6a61" stroke-width="1.25" stroke-linecap="round" fill="none" opacity="0.95"/>
<path d="M365.4 19.1h0M370.3 15.5h0" stroke="#dd6664" stroke-width="1.25" stroke-linecap="round" fill="none" opacity="0.95"/>
<path d="M360.8 21.9h0M362.1 23.7h0M362.4 20.3h0" stroke="#e2705d" stroke-width="1.25" stroke-linecap="round" fill="none" opacity="0.95"/>
<path d="M367.2 19.4h0M363.2 26.1h0M364.2 22.0h0" stroke="#e2715c" stroke-width="1.25" stroke-linecap="round" fill="none" opacity="0.95"/>
<path d="M357.1 71.7h0M356.9 73.6h0M354.5 71.7h0" stroke="#f0cd37" stroke-width="1.25" stroke-linecap="round" fill="none" opacity="0.95"/>
<path d="M446.6 63.6h0M451.5 70.1h0M446.2 60.7h0M451.4 64.8h0M440.6 53.3h0M449.1 66.7h0" stroke="#5231a5" stroke-width="1.25" stroke-linecap="round" fill="none" opacity="0.95"/>
<path d="M368.5 11.4h0M364.5 15.3h0" stroke="#db6367" stroke-width="1.25" stroke-linecap="round" fill="none" opacity="0.95"/>
<path d="M414.6 16.7h0M413.9 15.9h0M408.6 17.1h0" stroke="#9830a1" stroke-width="1.25" stroke-linecap="round" fill="none" opacity="0.95"/>
<path d="M444.4 59.7h0M446.4 61.1h0M440.3 60.2h0M446.5 70.2h0M442.7 57.2h0M446.4 70.4h0M450.6 70.5h0M444.0 58.3h0M445.4 60.0h0" stroke="#5330a5" stroke-width="1.25" stroke-linecap="round" fill="none" opacity="0.95"/>
<path d="M438.3 43.4h0" stroke="#5c2ca7" stroke-width="1.25" stroke-linecap="round" fill="none" opacity="0.95"/>
<path d="M428.6 30.2h0M422.1 21.6h0M426.8 30.0h0M423.9 25.9h0" stroke="#7b2ba6" stroke-width="1.25" stroke-linecap="round" fill="none" opacity="0.95"/>
<path d="M429.8 36.3h0M428.3 30.6h0M432.7 33.9h0M430.4 39.2h0M431.5 36.8h0" stroke="#722aa7" stroke-width="1.25" stroke-linecap="round" fill="none" opacity="0.95"/>
<path d="M436.5 46.2h0M439.4 50.4h0" stroke="#5e2ba8" stroke-width="1.25" stroke-linecap="round" fill="none" opacity="0.95"/>
<path d="M364.3 16.9h0" stroke="#de6963" stroke-width="1.25" stroke-linecap="round" fill="none" opacity="0.95"/>
<path d="M354.3 67.8h0M355.0 76.7h0" stroke="#f0c13a" stroke-width="1.25" stroke-linecap="round" fill="none" opacity="0.95"/>
<path d="M395.3 9.9h0M400.8 11.3h0" stroke="#b33d90" stroke-width="1.25" stroke-linecap="round" fill="none" opacity="0.95"/>
<path d="M359.2 25.0h0M363.1 21.6h0" stroke="#e87d51" stroke-width="1.25" stroke-linecap="round" fill="none" opacity="0.95"/>
<path d="M362.2 24.4h0M362.0 21.6h0M361.5 22.9h0M358.8 25.7h0M362.8 23.3h0" stroke="#e47459" stroke-width="1.25" stroke-linecap="round" fill="none" opacity="0.95"/>
<path d="M440.7 52.5h0M436.1 47.6h0" stroke="#5e2aa8" stroke-width="1.25" stroke-linecap="round" fill="none" opacity="0.95"/>
<path d="M355.4 66.6h0M351.5 65.6h0M356.9 70.5h0" stroke="#f0bb3b" stroke-width="1.25" stroke-linecap="round" fill="none" opacity="0.95"/>
<path d="M449.2 69.5h0M452.2 76.6h0M449.1 66.4h0M446.7 67.5h0M445.3 60.7h0" stroke="#4d33a4" stroke-width="1.25" stroke-linecap="round" fill="none" opacity="0.95"/>
<path d="M430.3 33.2h0" stroke="#762ba6" stroke-width="1.25" stroke-linecap="round" fill="none" opacity="0.95"/>
<path d="M417.6 18.6h0M412.9 17.3h0M416.8 18.1h0" stroke="#902fa2" stroke-width="1.25" stroke-linecap="round" fill="none" opacity="0.95"/>
<path d="M362.4 82.8h0M368.6 90.7h0" stroke="#f0d835" stroke-width="1.25" stroke-linecap="round" fill="none" opacity="0.95"/>
<path d="M363.2 26.3h0" stroke="#e57658" stroke-width="1.25" stroke-linecap="round" fill="none" opacity="0.95"/>
<path d="M360.9 24.9h0" stroke="#e57756" stroke-width="1.25" stroke-linecap="round" fill="none" opacity="0.95"/>
<path d="M357.8 81.5h0M365.1 88.3h0M360.5 83.1h0" stroke="#f0e432" stroke-width="1.25" stroke-linecap="round" fill="none" opacity="0.95"/>
<path d="M357.4 54.6h0M356.0 47.3h0M356.2 54.4h0" stroke="#f09f41" stroke-width="1.25" stroke-linecap="round" fill="none" opacity="0.95"/>
<path d="M379.3 11.2h0M378.7 9.2h0M377.2 9.6h0" stroke="#cc4c7c" stroke-width="1.25" stroke-linecap="round" fill="none" opacity="0.95"/>
<path d="M360.1 31.6h0M362.2 22.3h0M361.9 26.2h0M362.1 30.4h0" stroke="#e77b53" stroke-width="1.25" stroke-linecap="round" fill="none" opacity="0.95"/>
<path d="M380.8 7.8h0" stroke="#c84a7f" stroke-width="1.25" stroke-linecap="round" fill="none" opacity="0.95"/>
<path d="M360.9 31.5h0M357.3 34.5h0M357.4 43.8h0" stroke="#ed864a" stroke-width="1.25" stroke-linecap="round" fill="none" opacity="0.95"/>
<path d="M356.6 72.9h0M354.4 73.3h0" stroke="#f0c639" stroke-width="1.25" stroke-linecap="round" fill="none" opacity="0.95"/>
<path d="M405.8 11.1h0M405.1 13.6h0M396.2 9.3h0" stroke="#a7369a" stroke-width="1.25" stroke-linecap="round" fill="none" opacity="0.95"/>
<path d="M391.1 8.6h0" stroke="#b53f8e" stroke-width="1.25" stroke-linecap="round" fill="none" opacity="0.95"/>
<path d="M383.9 6.9h0M382.4 7.8h0M383.7 8.5h0M391.2 8.1h0M384.1 11.3h0" stroke="#c34783" stroke-width="1.25" stroke-linecap="round" fill="none" opacity="0.95"/>
<path d="M363.8 21.1h0M364.2 20.9h0M365.1 17.8h0M370.7 12.4h0" stroke="#dd6665" stroke-width="1.25" stroke-linecap="round" fill="none" opacity="0.95"/>
<path d="M366.2 22.1h0M365.5 16.5h0" stroke="#df6b61" stroke-width="1.25" stroke-linecap="round" fill="none" opacity="0.95"/>
<path d="M451.5 72.5h0M454.9 75.7h0M448.9 70.4h0M449.7 72.4h0M446.8 78.6h0M447.5 78.7h0M453.5 68.4h0" stroke="#4836a2" stroke-width="1.25" stroke-linecap="round" fill="none" opacity="0.95"/>
<path d="M353.7 69.7h0" stroke="#f0c03a" stroke-width="1.25" stroke-linecap="round" fill="none" opacity="0.95"/>
<path d="M405.5 13.7h0M400.7 13.6h0" stroke="#a6359a" stroke-width="1.25" stroke-linecap="round" fill="none" opacity="0.95"/>
<path d="M372.6 9.3h0M372.8 13.2h0M372.0 9.6h0" stroke="#d45573" stroke-width="1.25" stroke-linecap="round" fill="none" opacity="0.95"/>
<path d="M373.5 11.8h0" stroke="#da606a" stroke-width="1.25" stroke-linecap="round" fill="none" opacity="0.95"/>
<path d="M392.2 8.2h0M385.6 10.1h0" stroke="#c04585" stroke-width="1.25" stroke-linecap="round" fill="none" opacity="0.95"/>
<path d="M430.5 33.2h0M435.2 34.4h0" stroke="#732aa7" stroke-width="1.25" stroke-linecap="round" fill="none" opacity="0.95"/>
<path d="M447.2 77.4h0M446.3 72.2h0M451.9 74.6h0M449.8 73.6h0" stroke="#4438a1" stroke-width="1.25" stroke-linecap="round" fill="none" opacity="0.95"/>
<path d="M357.5 53.9h0M355.8 52.5h0M353.4 65.4h0M356.5 55.6h0M356.2 54.8h0" stroke="#f0a241" stroke-width="1.25" stroke-linecap="round" fill="none" opacity="0.95"/>
<path d="M359.7 33.2h0" stroke="#e87c52" stroke-width="1.25" stroke-linecap="round" fill="none" opacity="0.95"/>
<path d="M354.5 56.7h0M353.5 64.6h0M356.3 63.4h0" stroke="#f0ae3e" stroke-width="1.25" stroke-linecap="round" fill="none" opacity="0.95"/>
<path d="M396.7 11.4h0M396.6 12.8h0M387.7 8.9h0" stroke="#b7408d" stroke-width="1.25" stroke-linecap="round" fill="none" opacity="0.95"/>
<path d="M387.4 6.6h0M389.8 9.9h0M389.2 10.1h0" stroke="#bc4389" stroke-width="1.25" stroke-linecap="round" fill="none" opacity="0.95"/>
<path d="M356.5 66.0h0M353.7 58.2h0" stroke="#f0aa3f" stroke-width="1.25" stroke-linecap="round" fill="none" opacity="0.95"/>
<path d="M436.9 41.8h0M439.1 53.8h0" stroke="#5b2ca7" stroke-width="1.25" stroke-linecap="round" fill="none" opacity="0.95"/>
<path d="M398.4 8.5h0" stroke="#b03b92" stroke-width="1.25" stroke-linecap="round" fill="none" opacity="0.95"/>
<path d="M432.1 35.9h0M435.8 41.5h0" stroke="#6928a9" stroke-width="1.25" stroke-linecap="round" fill="none" opacity="0.95"/>
<path d="M364.2 21.5h0M365.7 17.1h0M368.3 14.4h0" stroke="#e06c60" stroke-width="1.25" stroke-linecap="round" fill="none" opacity="0.95"/>
<path d="M387.3 11.6h0" stroke="#ba418b" stroke-width="1.25" stroke-linecap="round" fill="none" opacity="0.95"/>
<path d="M446.3 60.9h0M451.4 68.4h0M439.4 58.4h0M449.4 62.8h0" stroke="#5430a5" stroke-width="1.25" stroke-linecap="round" fill="none" opacity="0.95"/>
<path d="M389.1 11.0h0M385.4 10.5h0" stroke="#bf4487" stroke-width="1.25" stroke-linecap="round" fill="none" opacity="0.95"/>
<path d="M400.4 8.1h0" stroke="#b23d90" stroke-width="1.25" stroke-linecap="round" fill="none" opacity="0.95"/>
<path d="M370.8 9.8h0M375.1 10.9h0" stroke="#d75a6f" stroke-width="1.25" stroke-linecap="round" fill="none" opacity="0.95"/>
<path d="M380.2 6.1h0" stroke="#cf4e79" stroke-width="1.25" stroke-linecap="round" fill="none" opacity="0.95"/>
<path d="M361.6 25.3h0M365.2 20.0h0" stroke="#e57757" stroke-width="1.25" stroke-linecap="round" fill="none" opacity="0.95"/>
<path d="M428.0 27.7h0M424.8 21.6h0M426.9 30.2h0M423.7 25.5h0M426.0 27.1h0" stroke="#7f2ca5" stroke-width="1.25" stroke-linecap="round" fill="none" opacity="0.95"/>
<path d="M354.4 46.0h0M357.4 42.5h0M359.5 38.4h0" stroke="#f09344" stroke-width="1.25" stroke-linecap="round" fill="none" opacity="0.95"/>
<path d="M354.8 42.1h0M356.1 37.9h0" stroke="#f09044" stroke-width="1.25" stroke-linecap="round" fill="none" opacity="0.95"/>
<path d="M390.2 11.7h0M389.4 10.5h0M390.4 11.6h0" stroke="#bf4486" stroke-width="1.25" stroke-linecap="round" fill="none" opacity="0.95"/>
<path d="M407.1 16.2h0M399.0 8.7h0M406.7 14.1h0" stroke="#a5359b" stroke-width="1.25" stroke-linecap="round" fill="none" opacity="0.95"/>
<path d="M404.0 14.9h0M405.7 13.7h0M405.6 13.0h0M402.0 12.7h0M403.1 12.3h0" stroke="#a0329f" stroke-width="1.25" stroke-linecap="round" fill="none" opacity="0.95"/>
<path d="M428.2 28.6h0M421.6 26.3h0M422.2 24.9h0M419.4 22.3h0M418.7 23.6h0M425.2 23.1h0" stroke="#882ea3" stroke-width="1.25" stroke-linecap="round" fill="none" opacity="0.95"/>
<path d="M357.3 38.8h0" stroke="#eb834d" stroke-width="1.25" stroke-linecap="round" fill="none" opacity="0.95"/>
<path d="M440.2 50.5h0M437.5 42.0h0M432.8 41.7h0M436.7 46.5h0M438.0 43.9h0" stroke="#5f2aa8" stroke-width="1.25" stroke-linecap="round" fill="none" opacity="0.95"/>
<path d="M374.9 7.0h0M371.5 12.8h0" stroke="#d45474" stroke-width="1.25" stroke-linecap="round" fill="none" opacity="0.95"/>
<path d="M357.4 81.3h0" stroke="#f0d535" stroke-width="1.25" stroke-linecap="round" fill="none" opacity="0.95"/>
<path d="M414.5 17.9h0M408.8 17.6h0M417.6 24.1h0M421.9 21.4h0" stroke="#9430a1" stroke-width="1.25" stroke-linecap="round" fill="none" opacity="0.95"/>
<path d="M446.1 77.4h0M446.7 74.7h0" stroke="#403aa0" stroke-width="1.25" stroke-linecap="round" fill="none" opacity="0.95"/>
<path d="M354.0 54.0h0M353.6 56.9h0M355.2 60.7h0M353.6 57.3h0" stroke="#f0ac3e" stroke-width="1.25" stroke-linecap="round" fill="none" opacity="0.95"/>
<path d="M370.0 13.8h0M369.2 14.9h0M371.1 13.3h0" stroke="#d95e6c" stroke-width="1.25" stroke-linecap="round" fill="none" opacity="0.95"/>
<path d="M355.2 62.0h0M355.8 54.5h0" stroke="#f0b73c" stroke-width="1.25" stroke-linecap="round" fill="none" opacity="0.95"/>
<path d="M352.3 55.1h0M351.9 59.0h0M353.7 62.0h0" stroke="#f0a440" stroke-width="1.25" stroke-linecap="round" fill="none" opacity="0.95"/>
<path d="M382.9 8.1h0" stroke="#c94b7e" stroke-width="1.25" stroke-linecap="round" fill="none" opacity="0.95"/>
<path d="M375.1 10.1h0M373.1 13.3h0" stroke="#d55771" stroke-width="1.25" stroke-linecap="round" fill="none" opacity="0.95"/>
<path d="M383.9 10.9h0M379.3 7.4h0M386.0 10.0h0" stroke="#cb4b7d" stroke-width="1.25" stroke-linecap="round" fill="none" opacity="0.95"/>
<path d="M381.2 9.9h0" stroke="#c14684" stroke-width="1.25" stroke-linecap="round" fill="none" opacity="0.95"/>
<path d="M370.0 14.9h0M373.2 10.8h0" stroke="#d55672" stroke-width="1.25" stroke-linecap="round" fill="none" opacity="0.95"/>
<path d="M371.2 9.9h0M374.4 9.2h0M380.8 7.8h0" stroke="#d14f78" stroke-width="1.25" stroke-linecap="round" fill="none" opacity="0.95"/>
<path d="M361.8 22.6h0" stroke="#e2715b" stroke-width="1.25" stroke-linecap="round" fill="none" opacity="0.95"/>
<path d="M368.9 17.1h0M366.8 16.1h0M362.9 29.1h0" stroke="#e16e5e" stroke-width="1.25" stroke-linecap="round" fill="none" opacity="0.95"/>
<path d="M355.1 64.0h0M352.3 65.0h0M356.5 66.2h0M353.2 56.7h0M355.7 62.3h0" stroke="#f0ab3f" stroke-width="1.25" stroke-linecap="round" fill="none" opacity="0.95"/>
<path d="M369.3 88.0h0M365.4 88.5h0M368.0 88.9h0M359.2 82.9h0M362.3 81.6h0" stroke="#f0df33" stroke-width="1.25" stroke-linecap="round" fill="none" opacity="0.95"/>
<path d="M439.0 53.4h0M441.5 59.8h0M438.2 53.2h0" stroke="#5a2da7" stroke-width="1.25" stroke-linecap="round" fill="none" opacity="0.95"/>
<path d="M363.5 22.9h0" stroke="#e16f5d" stroke-width="1.25" stroke-linecap="round" fill="none" opacity="0.95"/>
<path d="M421.6 22.1h0M416.2 20.9h0" stroke="#8d2ea3" stroke-width="1.25" stroke-linecap="round" fill="none" opacity="0.95"/>
<path d="M453.3 67.8h0M447.8 67.0h0" stroke="#4d34a3" stroke-width="1.25" stroke-linecap="round" fill="none" opacity="0.95"/>
<path d="M366.6 12.9h0M367.8 14.7h0" stroke="#dc6466" stroke-width="1.25" stroke-linecap="round" fill="none" opacity="0.95"/>
<path d="M354.4 71.7h0M358.1 74.1h0" stroke="#f0c339" stroke-width="1.25" stroke-linecap="round" fill="none" opacity="0.95"/>
<path d="M366.5 84.0h0M359.6 81.9h0" stroke="#f0e333" stroke-width="1.25" stroke-linecap="round" fill="none" opacity="0.95"/>
<path d="M382.7 9.8h0" stroke="#c44782" stroke-width="1.25" stroke-linecap="round" fill="none" opacity="0.95"/>
<path d="M386.0 10.7h0" stroke="#c64980" stroke-width="1.25" stroke-linecap="round" fill="none" opacity="0.95"/>
<path d="M413.4 19.7h0M420.3 21.0h0M413.3 16.2h0M419.3 19.5h0M416.1 14.9h0M414.3 20.1h0" stroke="#922fa2" stroke-width="1.25" stroke-linecap="round" fill="none" opacity="0.95"/>
<path d="M363.0 27.7h0M359.1 25.1h0" stroke="#e57657" stroke-width="1.25" stroke-linecap="round" fill="none" opacity="0.95"/>
<path d="M367.5 17.4h0" stroke="#db6368" stroke-width="1.25" stroke-linecap="round" fill="none" opacity="0.95"/>
<path d="M395.0 11.4h0" stroke="#b23d91" stroke-width="1.25" stroke-linecap="round" fill="none" opacity="0.95"/>
<path d="M353.7 62.2h0" stroke="#f0b03d" stroke-width="1.25" stroke-linecap="round" fill="none" opacity="0.95"/>
<path d="M359.1 82.7h0M363.9 88.3h0M355.8 77.2h0" stroke="#f0e632" stroke-width="1.25" stroke-linecap="round" fill="none" opacity="0.95"/>
<path d="M447.9 62.8h0M439.5 55.4h0M439.3 55.1h0M446.7 62.9h0M441.5 56.6h0" stroke="#562fa6" stroke-width="1.25" stroke-linecap="round" fill="none" opacity="0.95"/>
<path d="M372.1 7.9h0" stroke="#d95f6b" stroke-width="1.25" stroke-linecap="round" fill="none" opacity="0.95"/>
<path d="M367.9 18.0h0M367.1 18.8h0M365.2 19.2h0M365.1 19.6h0" stroke="#de6962" stroke-width="1.25" stroke-linecap="round" fill="none" opacity="0.95"/>
<path d="M358.5 75.1h0" stroke="#f0da35" stroke-width="1.25" stroke-linecap="round" fill="none" opacity="0.95"/>
<path d="M353.4 69.9h0M355.2 65.6h0M355.0 61.9h0M352.9 71.2h0" stroke="#f0b13d" stroke-width="1.25" stroke-linecap="round" fill="none" opacity="0.95"/>
<path d="M365.7 87.8h0M360.0 79.8h0M366.1 90.2h0" stroke="#f0e233" stroke-width="1.25" stroke-linecap="round" fill="none" opacity="0.95"/>
<path d="M414.9 14.3h0M412.1 16.1h0" stroke="#9630a1" stroke-width="1.25" stroke-linecap="round" fill="none" opacity="0.95"/>
<path d="M355.7 71.8h0" stroke="#f0c739" stroke-width="1.25" stroke-linecap="round" fill="none" opacity="0.95"/>
<path d="M408.2 17.1h0M409.0 18.2h0" stroke="#9730a1" stroke-width="1.25" stroke-linecap="round" fill="none" opacity="0.95"/>
<path d="M420.5 21.8h0M422.7 23.0h0M423.6 22.4h0" stroke="#852da4" stroke-width="1.25" stroke-linecap="round" fill="none" opacity="0.95"/>
<path d="M372.2 7.9h0" stroke="#d25177" stroke-width="1.25" stroke-linecap="round" fill="none" opacity="0.95"/>
<path d="M368.3 16.9h0" stroke="#dc6565" stroke-width="1.25" stroke-linecap="round" fill="none" opacity="0.95"/>
<path d="M447.1 74.3h0" stroke="#4239a1" stroke-width="1.25" stroke-linecap="round" fill="none" opacity="0.95"/>
<path d="M424.8 27.3h0M425.3 22.0h0" stroke="#8a2ea3" stroke-width="1.25" stroke-linecap="round" fill="none" opacity="0.95"/>
<path d="M354.0 58.1h0" stroke="#f0a73f" stroke-width="1.25" stroke-linecap="round" fill="none" opacity="0.95"/>
<path d="M354.3 64.0h0M355.9 59.2h0" stroke="#f0a93f" stroke-width="1.25" stroke-linecap="round" fill="none" opacity="0.95"/>
<path d="M360.4 81.8h0M356.1 74.1h0M359.1 76.6h0" stroke="#f0d136" stroke-width="1.25" stroke-linecap="round" fill="none" opacity="0.95"/>
<path d="M422.1 22.6h0M430.6 28.7h0M424.5 30.5h0M418.1 18.7h0" stroke="#842da4" stroke-width="1.25" stroke-linecap="round" fill="none" opacity="0.95"/>
<path d="M362.5 87.7h0M359.1 79.7h0" stroke="#f0e033" stroke-width="1.25" stroke-linecap="round" fill="none" opacity="0.95"/>
<path d="M436.0 41.3h0M430.6 39.4h0M434.7 45.0h0M436.5 42.1h0" stroke="#6a29a8" stroke-width="1.25" stroke-linecap="round" fill="none" opacity="0.95"/>
<path d="M402.2 13.7h0M400.1 9.8h0" stroke="#aa3897" stroke-width="1.25" stroke-linecap="round" fill="none" opacity="0.95"/>
<path d="M376.9 8.6h0M381.6 8.3h0" stroke="#ca4b7d" stroke-width="1.25" stroke-linecap="round" fill="none" opacity="0.95"/>
<path d="M367.5 15.2h0M364.0 19.3h0" stroke="#df6b60" stroke-width="1.25" stroke-linecap="round" fill="none" opacity="0.95"/>
<path d="M390.1 9.7h0M387.2 7.8h0M387.8 6.6h0M383.4 9.1h0" stroke="#bd4388" stroke-width="1.25" stroke-linecap="round" fill="none" opacity="0.95"/>
<path d="M369.1 11.0h0" stroke="#d75a6e" stroke-width="1.25" stroke-linecap="round" fill="none" opacity="0.95"/>
<path d="M401.4 12.3h0M405.3 13.2h0" stroke="#a1339e" stroke-width="1.25" stroke-linecap="round" fill="none" opacity="0.95"/>
<path d="M369.4 13.4h0M375.9 11.4h0" stroke="#d65870" stroke-width="1.25" stroke-linecap="round" fill="none" opacity="0.95"/>
<path d="M454.9 70.6h0M455.1 70.4h0" stroke="#4b35a3" stroke-width="1.25" stroke-linecap="round" fill="none" opacity="0.95"/>
<path d="M362.2 30.9h0" stroke="#eb824e" stroke-width="1.25" stroke-linecap="round" fill="none" opacity="0.95"/>
<path d="M365.4 18.6h0M365.8 18.9h0" stroke="#e3725b" stroke-width="1.25" stroke-linecap="round" fill="none" opacity="0.95"/>
<path d="M357.8 39.7h0M357.6 32.8h0M356.8 34.9h0" stroke="#ed8749" stroke-width="1.25" stroke-linecap="round" fill="none" opacity="0.95"/>
<path d="M438.0 39.7h0M431.6 36.6h0M430.2 38.6h0" stroke="#6d29a8" stroke-width="1.25" stroke-linecap="round" fill="none" opacity="0.95"/>
<path d="M359.1 29.3h0" stroke="#e97e50" stroke-width="1.25" stroke-linecap="round" fill="none" opacity="0.95"/>
<path d="M409.1 15.8h0M402.1 13.2h0" stroke="#a1329e" stroke-width="1.25" stroke-linecap="round" fill="none" opacity="0.95"/>
<path d="M385.0 6.3h0M381.2 6.2h0" stroke="#cb4c7d" stroke-width="1.25" stroke-linecap="round" fill="none" opacity="0.95"/>
<path d="M431.5 35.7h0M439.0 47.7h0" stroke="#6528a9" stroke-width="1.25" stroke-linecap="round" fill="none" opacity="0.95"/>
<path d="M356.3 42.1h0" stroke="#f08f45" stroke-width="1.25" stroke-linecap="round" fill="none" opacity="0.95"/>
<path d="M355.8 75.2h0M365.3 84.0h0" stroke="#f0d436" stroke-width="1.25" stroke-linecap="round" fill="none" opacity="0.95"/>
<path d="M401.3 13.7h0M405.6 12.0h0" stroke="#a2339e" stroke-width="1.25" stroke-linecap="round" fill="none" opacity="0.95"/>
<path d="M378.0 10.0h0" stroke="#d35275" stroke-width="1.25" stroke-linecap="round" fill="none" opacity="0.95"/>
<path d="M440.7 55.9h0" stroke="#542fa6" stroke-width="1.25" stroke-linecap="round" fill="none" opacity="0.95"/>
<path d="M395.3 12.0h0" stroke="#af3b93" stroke-width="1.25" stroke-linecap="round" fill="none" opacity="0.95"/>
<path d="M428.0 33.8h0" stroke="#6e29a8" stroke-width="1.25" stroke-linecap="round" fill="none" opacity="0.95"/>
<path d="M356.9 77.2h0" stroke="#f0de33" stroke-width="1.25" stroke-linecap="round" fill="none" opacity="0.95"/>
<path d="M362.4 87.5h0M367.8 87.9h0" stroke="#f0e133" stroke-width="1.25" stroke-linecap="round" fill="none" opacity="0.95"/>
<path d="M379.8 10.8h0" stroke="#c94a7f" stroke-width="1.25" stroke-linecap="round" fill="none" opacity="0.95"/>
<path d="M444.9 64.0h0M442.2 57.2h0M443.6 62.0h0M439.7 54.4h0" stroke="#582ea6" stroke-width="1.25" stroke-linecap="round" fill="none" opacity="0.95"/>
<path d="M393.6 12.5h0M389.2 9.6h0" stroke="#b7408c" stroke-width="1.25" stroke-linecap="round" fill="none" opacity="0.95"/>
<path d="M375.1 8.0h0" stroke="#ce4e7a" stroke-width="1.25" stroke-linecap="round" fill="none" opacity="0.95"/>
<path d="M421.8 23.4h0" stroke="#9530a1" stroke-width="1.25" stroke-linecap="round" fill="none" opacity="0.95"/>
<path d="M399.0 8.4h0M392.1 10.8h0" stroke="#b13c91" stroke-width="1.25" stroke-linecap="round" fill="none" opacity="0.95"/>
<path d="M367.8 13.0h0" stroke="#d85d6d" stroke-width="1.25" stroke-linecap="round" fill="none" opacity="0.95"/>
<path d="M356.9 39.8h0" stroke="#f09843" stroke-width="1.25" stroke-linecap="round" fill="none" opacity="0.95"/>
<path d="M398.0 11.8h0M395.7 12.8h0" stroke="#b13c92" stroke-width="1.25" stroke-linecap="round" fill="none" opacity="0.95"/>
<path d="M449.9 74.1h0" stroke="#3f3ba0" stroke-width="1.25" stroke-linecap="round" fill="none" opacity="0.95"/>
<path d="M351.5 66.7h0M354.3 72.3h0" stroke="#f0bd3b" stroke-width="1.25" stroke-linecap="round" fill="none" opacity="0.95"/>
<path d="M404.0 12.5h0" stroke="#b43e8f" stroke-width="1.25" stroke-linecap="round" fill="none" opacity="0.95"/>
<path d="M358.2 29.9h0" stroke="#ee8849" stroke-width="1.25" stroke-linecap="round" fill="none" opacity="0.95"/>
<path d="M353.0 70.0h0" stroke="#f0c439" stroke-width="1.25" stroke-linecap="round" fill="none" opacity="0.95"/>
<path d="M357.6 36.4h0M359.1 34.8h0" stroke="#ee8948" stroke-width="1.25" stroke-linecap="round" fill="none" opacity="0.95"/>
<path d="M399.7 12.9h0M398.3 8.9h0" stroke="#ad3995" stroke-width="1.25" stroke-linecap="round" fill="none" opacity="0.95"/>
<path d="M363.9 21.2h0" stroke="#e47559" stroke-width="1.25" stroke-linecap="round" fill="none" opacity="0.95"/>
<path d="M397.7 12.2h0M399.4 11.9h0M404.4 11.6h0" stroke="#ab3896" stroke-width="1.25" stroke-linecap="round" fill="none" opacity="0.95"/>
<path d="M388.4 10.8h0" stroke="#b03c92" stroke-width="1.25" stroke-linecap="round" fill="none" opacity="0.95"/>
<path d="M369.4 89.8h0M362.3 87.0h0" stroke="#f0e732" stroke-width="1.25" stroke-linecap="round" fill="none" opacity="0.95"/>
<path d="M372.5 11.3h0" stroke="#d85d6c" stroke-width="1.25" stroke-linecap="round" fill="none" opacity="0.95"/>
<path d="M453.9 75.4h0M447.2 75.9h0M450.9 74.6h0" stroke="#4936a2" stroke-width="1.25" stroke-linecap="round" fill="none" opacity="0.95"/>
<path d="M355.4 39.5h0M354.6 52.3h0" stroke="#f09444" stroke-width="1.25" stroke-linecap="round" fill="none" opacity="0.95"/>
<path d="M449.4 70.1h0" stroke="#4339a1" stroke-width="1.25" stroke-linecap="round" fill="none" opacity="0.95"/>
<path d="M368.8 13.7h0M374.4 9.3h0" stroke="#d6596f" stroke-width="1.25" stroke-linecap="round" fill="none" opacity="0.95"/>
<path d="M354.1 72.9h0" stroke="#f0c33a" stroke-width="1.25" stroke-linecap="round" fill="none" opacity="0.95"/>
<path d="M358.1 39.5h0M359.6 31.7h0M360.9 25.6h0" stroke="#ea804f" stroke-width="1.25" stroke-linecap="round" fill="none" opacity="0.95"/>
<path d="M370.5 13.5h0" stroke="#d95e6b" stroke-width="1.25" stroke-linecap="round" fill="none" opacity="0.95"/>
<path d="M354.1 77.0h0" stroke="#f0e532" stroke-width="1.25" stroke-linecap="round" fill="none" opacity="0.95"/>
<path d="M355.2 49.2h0" stroke="#f09045" stroke-width="1.25" stroke-linecap="round" fill="none" opacity="0.95"/>
<path d="M407.2 16.5h0" stroke="#a3349d" stroke-width="1.25" stroke-linecap="round" fill="none" opacity="0.95"/>
<path d="M358.1 80.7h0" stroke="#f0de34" stroke-width="1.25" stroke-linecap="round" fill="none" opacity="0.95"/>
<path d="M353.0 70.3h0M354.2 56.9h0" stroke="#f0ba3b" stroke-width="1.25" stroke-linecap="round" fill="none" opacity="0.95"/>
<path d="M388.5 8.9h0M383.5 8.2h0" stroke="#c64881" stroke-width="1.25" stroke-linecap="round" fill="none" opacity="0.95"/>
<path d="M431.6 31.9h0M422.7 28.4h0" stroke="#7a2ba6" stroke-width="1.25" stroke-linecap="round" fill="none" opacity="0.95"/>
<path d="M389.6 7.4h0" stroke="#c54881" stroke-width="1.25" stroke-linecap="round" fill="none" opacity="0.95"/>
<path d="M372.0 8.0h0" stroke="#d25077" stroke-width="1.25" stroke-linecap="round" fill="none" opacity="0.95"/>
<path d="M355.8 76.6h0" stroke="#f0be3b" stroke-width="1.25" stroke-linecap="round" fill="none" opacity="0.95"/>
<path d="M447.8 70.7h0" stroke="#4338a1" stroke-width="1.25" stroke-linecap="round" fill="none" opacity="0.95"/>
<path d="M361.2 26.3h0" stroke="#ec844b" stroke-width="1.25" stroke-linecap="round" fill="none" opacity="0.95"/>
<path d="M423.2 23.8h0M424.3 25.5h0" stroke="#832da4" stroke-width="1.25" stroke-linecap="round" fill="none" opacity="0.95"/>
<path d="M384.7 8.5h0" stroke="#bc4388" stroke-width="1.25" stroke-linecap="round" fill="none" opacity="0.95"/>
<path d="M421.9 19.2h0" stroke="#872da4" stroke-width="1.25" stroke-linecap="round" fill="none" opacity="0.95"/>
<path d="M381.4 7.1h0" stroke="#c64981" stroke-width="1.25" stroke-linecap="round" fill="none" opacity="0.95"/>
<path d="M361.4 85.1h0" stroke="#f0e332" stroke-width="1.25" stroke-linecap="round" fill="none" opacity="0.95"/>
<path d="M429.3 26.2h0" stroke="#742aa7" stroke-width="1.25" stroke-linecap="round" fill="none" opacity="0.95"/>
<path d="M360.6 29.0h0M357.8 42.5h0" stroke="#ec844c" stroke-width="1.25" stroke-linecap="round" fill="none" opacity="0.95"/>
<path d="M366.0 21.2h0M363.6 23.1h0M366.0 22.6h0M359.8 26.1h0" stroke="#e3735a" stroke-width="1.25" stroke-linecap="round" fill="none" opacity="0.95"/>
<path d="M451.3 75.5h0" stroke="#4538a1" stroke-width="1.25" stroke-linecap="round" fill="none" opacity="0.95"/>
<path d="M450.5 72.1h0" stroke="#4637a2" stroke-width="1.25" stroke-linecap="round" fill="none" opacity="0.95"/>
<path d="M406.1 10.8h0" stroke="#a4349c" stroke-width="1.25" stroke-linecap="round" fill="none" opacity="0.95"/>
<path d="M359.8 38.3h0" stroke="#eb834c" stroke-width="1.25" stroke-linecap="round" fill="none" opacity="0.95"/>
<path d="M387.8 9.5h0" stroke="#c04586" stroke-width="1.25" stroke-linecap="round" fill="none" opacity="0.95"/>
<path d="M393.7 9.7h0" stroke="#b53e8f" stroke-width="1.25" stroke-linecap="round" fill="none" opacity="0.95"/>
<path d="M368.7 14.4h0" stroke="#d95f6a" stroke-width="1.25" stroke-linecap="round" fill="none" opacity="0.95"/>
<path d="M355.9 51.3h0M353.3 47.5h0" stroke="#ee8947" stroke-width="1.25" stroke-linecap="round" fill="none" opacity="0.95"/>
<path d="M377.0 9.5h0" stroke="#d04f79" stroke-width="1.25" stroke-linecap="round" fill="none" opacity="0.95"/>
<path d="M414.1 17.2h0" stroke="#8e2fa2" stroke-width="1.25" stroke-linecap="round" fill="none" opacity="0.95"/>
<path d="M362.1 26.3h0" stroke="#e87d52" stroke-width="1.25" stroke-linecap="round" fill="none" opacity="0.95"/>
<path d="M357.0 39.4h0M359.8 31.1h0" stroke="#f08c45" stroke-width="1.25" stroke-linecap="round" fill="none" opacity="0.95"/>
<path d="M357.4 37.0h0" stroke="#eb824d" stroke-width="1.25" stroke-linecap="round" fill="none" opacity="0.95"/>
<path d="M356.9 70.6h0" stroke="#f0bc3b" stroke-width="1.25" stroke-linecap="round" fill="none" opacity="0.95"/>
<path d="M406.0 14.7h0M404.7 12.9h0" stroke="#ac3996" stroke-width="1.25" stroke-linecap="round" fill="none" opacity="0.95"/>
<path d="M403.0 10.2h0" stroke="#a73699" stroke-width="1.25" stroke-linecap="round" fill="none" opacity="0.95"/>
<path d="M361.8 29.4h0" stroke="#e87c53" stroke-width="1.25" stroke-linecap="round" fill="none" opacity="0.95"/>
<path d="M357.0 78.0L355.0 70.0L354.5 62.0L356.0 52.0L357.0 44.0L356.5 38.0L359.0 32.0L361.0 27.0L364.0 22.0L366.0 16.0L371.0 12.0L373.0 9.0L378.0 8.5L381.0 12.0L384.0 11.0L390.0 11.5L395.0 12.0L400.0 12.5L405.0 14.0L410.0 17.0L416.0 20.0L419.0 24.0L423.0 27.0L427.0 30.0L430.0 35.0L433.0 40.0L436.0 46.0L438.0 52.0L441.0 57.0L443.0 62.0L445.2 74.3" fill="none" stroke="#222" stroke-width="0.55"/>
<circle cx="356.6" cy="77.9" r="4.8" fill="#c4c4c4" stroke="#444" stroke-width="0.8"/>
<text x="356.6" y="80.7" font-size="7.5" text-anchor="middle" font-weight="bold" fill="#333">1</text>
<circle cx="445.2" cy="74.3" r="4.8" fill="#fff" stroke="#444" stroke-width="0.8"/>
<text x="445.2" y="77.1" font-size="7.5" text-anchor="middle" font-weight="bold" fill="#333">1</text>
<text x="0" y="0" transform="translate(342.4 77) rotate(-90)" font-size="14" textLength="55" lengthAdjust="spacingAndGlyphs" >UMAP_2</text>
<path d="M338.6 87.5V100.1H356.8" fill="none" stroke="#111" stroke-width="1.15"/>
<path d="M338.6 81.4L335 88L342.2 88Z" fill="#111"/>
<path d="M362.9 100.1L356.3 96.5L356.3 103.7Z" fill="#111"/>
<text x="370.8" y="105.4" font-size="14" textLength="55.2" lengthAdjust="spacingAndGlyphs">UMAP_1</text>
<text x="341" y="122" font-size="13" textLength="66" lengthAdjust="spacingAndGlyphs">pseudotime</text>
<defs><linearGradient id="pl" x1="0" y1="1" x2="0" y2="0"><stop offset="0" stop-color="#3d3c9c"/><stop offset="0.25" stop-color="#6a2aa8"/><stop offset="0.5" stop-color="#b33a98"/><stop offset="0.72" stop-color="#e0704f"/><stop offset="0.88" stop-color="#f7a93a"/><stop offset="1" stop-color="#f2ea3a"/></linearGradient></defs>
<rect x="340.7" y="130.5" width="9.1" height="45.5" fill="url(#pl)" />
<text x="356" y="139.2" font-size="10" fill="#222">40</text>
<text x="356" y="149.2" font-size="10" fill="#222">30</text>
<text x="356" y="159.2" font-size="10" fill="#222">20</text>
<text x="356" y="169" font-size="10" fill="#222">10</text>
<text x="356" y="179" font-size="10" fill="#222">0</text>
<text x="473" y="19" font-size="16" font-weight="bold">c</text>
<text x="544.2" y="29.4" font-size="12.5" font-weight="bold" textLength="34" lengthAdjust="spacingAndGlyphs">Aging</text>
<path d="M489.5 35V122.5H632" fill="none" stroke="#444" stroke-width="0.9"/>
<line x1="487.5" y1="38.9" x2="490" y2="38.9" stroke="#333" stroke-width="0.7" />
<text x="486.3" y="42.2" font-size="9.2" text-anchor="end" fill="#222">1.5</text>
<line x1="487.5" y1="60.3" x2="490" y2="60.3" stroke="#333" stroke-width="0.7" />
<text x="486.3" y="63.6" font-size="9.2" text-anchor="end" fill="#222">1.0</text>
<line x1="487.5" y1="81.9" x2="490" y2="81.9" stroke="#333" stroke-width="0.7" />
<text x="486.3" y="85.2" font-size="9.2" text-anchor="end" fill="#222">0.5</text>
<line x1="487.5" y1="103.4" x2="490" y2="103.4" stroke="#333" stroke-width="0.7" />
<text x="486.3" y="106.7" font-size="9.2" text-anchor="end" fill="#222">0.0</text>
<line x1="510.2" y1="123" x2="510.2" y2="125.5" stroke="#333" stroke-width="0.7" />
<text transform="translate(513.7 128) rotate(-45)" x="0" y="0" font-size="9.2" text-anchor="end" fill="#222">N1</text>
<line x1="541.4" y1="123" x2="541.4" y2="125.5" stroke="#333" stroke-width="0.7" />
<text transform="translate(544.9 128) rotate(-45)" x="0" y="0" font-size="9.2" text-anchor="end" fill="#222">N2</text>
<line x1="574.2" y1="123" x2="574.2" y2="125.5" stroke="#333" stroke-width="0.7" />
<text transform="translate(577.7 128) rotate(-45)" x="0" y="0" font-size="9.2" text-anchor="end" fill="#222">N3</text>
<line x1="607.9" y1="123" x2="607.9" y2="125.5" stroke="#333" stroke-width="0.7" />
<text transform="translate(611.4 128) rotate(-45)" x="0" y="0" font-size="9.2" text-anchor="end" fill="#222">N4</text>
<text x="545.3" y="149" font-size="10" fill="#222" textLength="31.5" lengthAdjust="spacingAndGlyphs">Identity</text>
<path d="M510.3 84.0L510.6 84.0C510.7 85.0 510.7 88.5 511.1 90.0C511.6 91.5 512.1 91.8 513.3 93.0C514.5 94.2 516.7 95.8 518.3 97.0C519.9 98.2 521.6 99.3 522.8 100.5C524.0 101.7 525.8 102.8 525.5 104.0C525.2 105.2 522.8 106.7 521.3 108.0C519.8 109.3 517.8 110.8 516.3 112.0C514.8 113.2 513.2 114.3 512.3 115.0C511.3 115.7 510.9 116.1 510.6 116.3L510.0 116.3C509.7 116.1 509.2 115.7 508.3 115.0C507.4 114.3 505.8 113.2 504.3 112.0C502.8 110.8 500.8 109.3 499.3 108.0C497.8 106.7 495.4 105.2 495.1 104.0C494.9 102.8 496.6 101.7 497.8 100.5C499.0 99.3 500.7 98.2 502.3 97.0C503.9 95.8 506.1 94.2 507.3 93.0C508.5 91.8 509.1 91.5 509.5 90.0C509.9 88.5 509.9 85.0 510.0 84.0Z" fill="#F57C6E" stroke="#222" stroke-width="0.75"/>
<path d="M499.0 104.0h0M501.0 104.7h0M498.9 94.4h0M502.6 113.3h0M500.9 96.4h0M500.9 110.4h0M499.9 102.3h0M498.9 114.9h0M503.1 105.6h0M500.5 93.9h0M501.0 114.3h0M499.9 100.3h0M503.0 108.4h0M501.9 99.7h0M501.0 109.5h0M499.0 95.0h0M502.7 97.2h0M499.6 100.8h0M498.9 98.7h0M499.7 108.7h0M501.0 111.6h0M501.1 107.0h0M504.7 95.1h0M498.5 101.6h0M500.6 110.8h0M499.7 101.6h0M502.8 97.8h0M504.8 104.7h0M503.9 113.1h0M504.9 93.6h0M502.4 113.1h0M498.9 103.0h0M498.8 105.6h0M504.2 113.0h0M499.9 99.8h0M502.6 112.1h0M498.5 105.8h0M503.8 104.2h0M500.1 97.7h0M502.5 111.5h0M503.0 93.7h0M501.3 104.4h0M501.9 114.6h0M498.2 102.7h0M500.4 113.3h0M504.6 99.5h0M502.2 112.3h0M498.1 105.7h0M502.0 109.9h0M499.1 93.4h0M505.0 108.0h0M498.0 108.2h0M504.1 115.0h0M501.3 94.0h0M498.4 98.0h0M503.0 106.4h0M502.3 97.0h0M500.0 109.4h0M504.3 108.7h0M502.2 112.0h0M504.9 99.0h0M503.8 114.8h0M503.7 108.6h0M503.6 103.5h0M504.2 108.1h0M501.2 93.7h0M498.5 95.2h0M498.9 113.3h0M500.9 110.3h0M504.7 106.7h0M501.2 104.7h0M498.7 102.5h0M503.4 108.9h0M498.6 105.5h0M504.2 95.1h0M503.3 112.9h0M504.1 111.6h0M501.6 97.3h0M500.1 109.7h0M500.9 112.9h0M503.0 98.1h0M501.5 101.3h0M500.0 93.3h0M499.4 105.6h0M499.0 94.5h0M498.2 112.6h0M499.2 99.2h0M501.1 100.0h0M498.7 98.4h0M498.5 105.0h0M503.3 105.6h0M502.3 107.2h0M503.0 97.2h0M500.9 111.6h0M504.2 99.5h0M503.4 105.9h0M500.6 99.4h0M502.7 103.9h0M499.1 96.9h0M505.0 100.2h0M498.2 101.4h0M498.2 115.0h0M503.3 110.5h0M500.5 93.2h0M500.4 94.9h0M504.8 110.0h0M504.5 112.4h0M501.7 113.6h0M499.5 96.9h0M500.2 97.5h0M503.9 110.7h0M501.6 95.0h0M502.9 107.5h0M502.1 102.3h0M503.3 96.2h0M501.8 93.4h0M501.3 109.4h0M498.4 104.0h0M502.1 104.7h0M499.6 99.0h0M504.2 113.6h0M501.9 109.9h0M502.4 93.2h0M501.5 95.6h0M504.5 108.4h0M503.8 107.3h0M503.0 113.3h0M498.4 112.8h0M503.7 112.2h0M504.4 108.8h0M504.8 111.5h0M502.7 106.2h0M501.6 102.2h0M504.0 98.0h0M502.9 112.5h0M502.7 104.7h0M504.9 93.2h0M498.5 97.7h0M498.1 98.9h0M504.2 111.4h0M500.6 98.9h0M501.8 103.4h0M497.9 108.7h0M503.8 99.1h0M502.8 98.7h0M500.2 97.4h0M503.9 105.1h0M502.9 111.1h0M500.2 100.8h0M498.9 110.0h0M498.0 98.5h0M498.9 94.0h0M503.3 113.4h0M501.8 111.3h0M500.7 115.8h0M504.8 115.4h0M500.2 100.1h0M502.9 108.0h0M503.1 97.2h0M498.7 104.6h0M503.5 106.8h0M501.3 108.5h0M500.8 99.2h0M502.1 103.5h0M499.9 113.5h0M504.0 97.2h0M500.5 114.1h0M504.9 113.8h0M498.4 115.8h0M498.0 98.7h0M502.8 98.8h0M500.3 96.6h0M498.6 95.1h0M498.2 111.4h0M502.6 111.5h0M498.5 99.9h0M499.5 94.1h0M498.2 114.1h0M499.0 95.2h0M499.6 108.3h0M504.2 104.0h0M502.4 107.5h0M503.5 94.4h0M501.4 104.8h0M499.9 110.4h0M497.9 104.9h0M503.1 105.0h0M502.1 97.8h0M501.6 106.3h0M501.6 108.8h0M498.8 111.0h0M500.4 99.0h0M505.1 104.3h0M502.9 109.9h0M502.4 114.3h0M504.2 115.1h0M498.9 111.5h0M500.4 111.5h0M504.3 103.7h0M499.2 114.1h0" stroke="#111" stroke-width="0.9" stroke-linecap="round" fill="none" opacity="1"/>
<path d="M536.5 82.8L536.8 82.8C537.0 83.5 537.0 85.5 538.0 87.0C539.0 88.5 541.5 90.3 542.5 92.0C543.5 93.7 543.9 95.3 544.0 97.0C544.1 98.7 543.6 100.5 543.0 102.0C542.4 103.5 541.2 104.7 540.5 106.0C539.8 107.3 539.0 108.7 538.5 110.0C538.0 111.3 537.6 112.5 537.3 114.0C537.0 115.5 536.9 118.2 536.8 119.0L536.2 119.0C536.1 118.2 536.0 115.5 535.7 114.0C535.4 112.5 535.0 111.3 534.5 110.0C534.0 108.7 533.2 107.3 532.5 106.0C531.8 104.7 530.6 103.5 530.0 102.0C529.4 100.5 528.9 98.7 529.0 97.0C529.1 95.3 529.5 93.7 530.5 92.0C531.5 90.3 534.0 88.5 535.0 87.0C536.0 85.5 536.0 83.5 536.2 82.8Z" fill="#F57C6E" stroke="#222" stroke-width="0.75"/>
<path d="M533.9 96.2h0M536.3 95.1h0M538.1 97.7h0M539.3 94.7h0M538.0 93.4h0M535.9 109.9h0M537.0 112.0h0M535.3 102.5h0M536.0 110.4h0M537.3 108.3h0M538.1 92.1h0M534.7 107.6h0M539.9 101.6h0M535.6 97.8h0M538.0 90.8h0M536.5 113.4h0M540.6 96.8h0M537.1 95.3h0M538.0 97.4h0M537.7 110.1h0M534.5 103.8h0M538.4 92.0h0M535.9 102.1h0M537.2 111.6h0M535.0 90.4h0M540.3 98.0h0M532.2 98.3h0M533.3 98.0h0M536.1 112.1h0M532.8 101.8h0M536.3 97.5h0M536.7 92.1h0M532.9 96.5h0M538.8 97.2h0M533.8 96.6h0M534.8 105.1h0M537.5 89.1h0M532.5 99.0h0M535.6 110.9h0M538.0 101.7h0M536.2 107.2h0M532.9 99.7h0M539.5 92.9h0M537.0 95.9h0M535.2 91.6h0M536.7 112.8h0M536.9 95.1h0M538.5 103.2h0M540.0 100.4h0M536.2 102.7h0M537.3 91.1h0M536.9 116.3h0M536.0 103.9h0M540.4 101.7h0M539.1 95.1h0M533.4 100.9h0M536.4 90.9h0M538.5 100.8h0M539.5 101.6h0M537.3 87.8h0M533.3 94.0h0M535.0 90.7h0M534.9 90.3h0M536.7 101.6h0M540.1 94.2h0M538.0 98.4h0M537.9 90.9h0M537.0 99.1h0M539.3 92.4h0M535.3 99.1h0M534.3 93.6h0M539.3 94.4h0M535.4 98.5h0M534.9 101.9h0M532.2 97.2h0M536.6 87.5h0M536.7 101.7h0M537.3 82.9h0M536.8 114.9h0M539.2 101.2h0M533.0 101.8h0M538.1 102.3h0M538.5 95.2h0M540.1 96.6h0M536.4 96.2h0M537.7 93.2h0M535.8 101.0h0M539.7 103.5h0M533.5 104.1h0M537.5 91.7h0M537.9 92.6h0M537.5 101.5h0M540.1 100.3h0M534.2 95.5h0M538.0 106.3h0M536.5 98.9h0M538.2 96.3h0M535.3 105.5h0M535.5 93.4h0M535.7 87.5h0M538.0 98.9h0M535.6 114.9h0M540.5 96.0h0M537.0 106.1h0M537.6 87.9h0M539.2 96.1h0M534.9 98.3h0M535.7 99.8h0M540.6 98.1h0M536.7 96.8h0M540.7 95.7h0M536.4 100.7h0M535.5 94.9h0M538.1 107.2h0M535.9 96.6h0M536.8 104.7h0M537.2 116.4h0M536.6 90.7h0M536.1 96.0h0M537.1 96.6h0M537.6 107.3h0M540.5 100.7h0M539.5 92.9h0M539.1 101.8h0M535.3 95.9h0M539.4 95.2h0M537.8 106.0h0M534.5 100.9h0M533.8 99.0h0M536.8 103.6h0M538.5 94.6h0M538.6 95.9h0M539.5 96.4h0M537.8 102.8h0M538.7 105.1h0M539.4 97.7h0M532.8 94.0h0M536.0 89.0h0M537.3 106.0h0M536.8 88.2h0M535.1 109.0h0M538.3 107.0h0M536.2 107.8h0M536.2 84.8h0M537.5 103.9h0M539.2 100.8h0M537.9 93.7h0M534.0 98.5h0M533.8 95.6h0M537.1 100.1h0M536.5 110.8h0M535.4 107.3h0M539.6 93.8h0M533.8 97.1h0M533.0 93.7h0M535.9 109.7h0M539.1 104.4h0M537.0 95.9h0M535.7 110.8h0M537.2 94.4h0M538.2 99.1h0M537.2 101.1h0M539.5 99.0h0M538.2 102.9h0M534.4 90.7h0M532.4 99.3h0M533.3 101.9h0M536.2 97.3h0M539.5 98.6h0M532.4 96.5h0M538.8 90.2h0M540.3 94.0h0M539.5 92.6h0M538.5 104.4h0M537.3 106.5h0M535.6 110.4h0M537.0 89.4h0M537.8 94.5h0M535.1 106.9h0M538.6 106.0h0M536.5 92.9h0M534.4 102.5h0M537.2 106.4h0M539.2 95.4h0M540.6 99.0h0M537.6 106.7h0M538.1 107.7h0M540.1 99.9h0M536.0 108.0h0M535.4 108.3h0M536.3 99.3h0M537.1 106.1h0M534.2 102.7h0M537.5 100.1h0M539.1 91.6h0M532.5 101.4h0M536.1 99.3h0M537.1 84.7h0M536.1 110.3h0M536.5 101.7h0M534.0 103.3h0M538.1 107.1h0M537.4 84.8h0M537.4 97.5h0M539.0 96.2h0M536.4 107.9h0M540.7 95.4h0M539.4 99.5h0M538.2 94.3h0M538.8 97.9h0M538.6 91.7h0M537.3 96.2h0M533.9 101.7h0M537.0 93.3h0M538.1 105.3h0M533.4 102.6h0M533.7 94.7h0M537.5 104.4h0M538.8 97.2h0M536.7 92.9h0" stroke="#111" stroke-width="0.9" stroke-linecap="round" fill="none" opacity="1"/>
<path d="M544 88.1H559.5L556.5 91L559.5 94H544L547 91Z" fill="#178A8C" stroke="#222" stroke-width="0.6"/>
<path d="M570.5 67.9L570.8 67.9C571.0 68.9 571.3 71.9 572.0 74.0C572.7 76.1 574.0 78.7 575.0 80.7C576.0 82.7 577.2 84.5 577.7 86.0C578.2 87.5 578.2 88.5 578.1 90.0C578.0 91.5 577.7 93.4 577.0 95.0C576.3 96.6 574.8 97.7 574.0 99.4C573.2 101.1 572.5 103.1 572.0 105.0C571.5 106.9 571.5 109.0 571.3 111.0C571.1 113.0 570.9 116.0 570.8 117.0L570.2 117.0C570.1 116.0 569.9 113.0 569.7 111.0C569.5 109.0 569.5 106.9 569.0 105.0C568.5 103.1 567.8 101.1 567.0 99.4C566.2 97.7 564.7 96.6 564.0 95.0C563.3 93.4 563.0 91.5 562.9 90.0C562.8 88.5 562.8 87.5 563.3 86.0C563.8 84.5 565.0 82.7 566.0 80.7C567.0 78.7 568.3 76.1 569.0 74.0C569.7 71.9 570.0 68.9 570.2 67.9Z" fill="#F57C6E" stroke="#222" stroke-width="0.75"/>
<path d="M571.1 109.4h0M569.7 87.9h0M571.2 72.2h0M566.5 87.8h0M566.8 88.9h0M570.1 80.5h0M570.1 102.7h0M570.0 92.6h0M569.8 95.9h0M568.3 95.4h0M571.2 110.9h0M571.4 94.7h0M571.0 83.8h0M573.4 84.8h0M567.3 90.8h0M571.3 99.3h0M569.1 82.5h0M566.8 91.9h0M573.0 90.5h0M573.2 94.1h0M570.3 81.2h0M571.5 82.1h0M572.6 98.6h0M570.4 81.7h0M569.0 96.1h0M573.4 85.3h0M566.8 87.1h0M570.9 93.9h0M573.9 87.1h0M569.6 84.3h0M570.6 101.3h0M570.8 95.7h0M572.1 98.3h0M574.2 93.8h0M573.7 86.8h0M573.5 92.5h0M566.6 90.8h0M571.4 87.6h0M573.5 85.3h0M566.5 88.1h0M567.2 89.6h0M568.3 91.1h0M569.3 82.4h0M571.7 78.4h0M572.2 97.6h0M570.5 94.1h0M571.9 91.0h0M570.5 105.5h0M571.9 84.1h0M567.6 93.6h0M570.0 88.0h0M567.7 90.8h0M569.2 79.7h0M569.1 101.6h0M571.8 96.5h0M571.7 82.2h0M573.7 93.0h0M574.1 86.4h0M572.8 92.0h0M571.7 78.3h0M570.3 81.3h0M570.4 75.7h0M570.2 101.4h0M573.6 88.4h0M573.4 82.5h0M571.4 83.0h0M570.0 84.3h0M572.3 83.9h0M572.0 93.7h0M571.4 103.1h0M572.4 84.8h0M574.5 90.6h0M573.1 96.4h0M571.0 95.3h0M570.7 102.9h0M571.1 106.0h0M569.1 93.6h0M568.2 95.1h0M571.6 99.0h0M571.1 96.8h0M571.1 99.7h0M571.3 100.7h0M571.4 98.1h0M568.6 84.8h0M568.4 91.9h0M570.7 103.8h0M568.5 87.9h0M566.6 91.4h0M567.7 86.1h0M573.1 88.1h0M568.9 79.2h0M568.3 86.0h0M568.7 97.8h0M568.1 89.4h0M569.5 86.1h0M571.8 81.0h0M573.6 89.2h0M569.7 75.5h0M567.3 95.4h0M568.5 89.3h0M569.0 88.7h0M570.7 79.9h0M568.8 94.9h0M571.7 99.0h0M571.7 82.4h0M568.8 95.4h0M568.4 85.2h0M568.9 90.7h0M568.1 97.6h0M572.7 97.0h0M570.3 89.2h0M568.6 94.5h0M570.6 95.7h0M569.9 114.8h0M570.6 77.8h0M569.7 85.2h0M569.0 80.4h0M571.2 85.8h0M571.6 84.5h0M568.9 88.8h0M570.7 112.4h0M571.1 87.1h0M568.6 89.9h0M567.3 95.9h0M573.9 89.5h0M568.7 81.9h0M570.9 80.8h0M572.9 83.3h0M566.6 86.0h0M570.9 95.0h0M569.2 98.3h0M572.6 94.6h0M570.4 76.2h0M569.7 84.4h0M570.5 111.0h0M573.6 84.0h0M572.1 84.5h0M569.3 86.8h0M570.7 79.3h0M569.9 76.3h0M574.3 86.2h0M569.8 93.7h0M570.7 94.8h0M568.1 93.1h0M569.7 78.4h0M572.1 96.0h0M569.9 90.1h0M566.8 86.1h0M572.8 89.2h0M566.9 87.5h0M570.1 108.1h0M572.4 88.2h0M570.2 84.5h0M570.4 96.7h0M571.3 92.1h0M570.0 82.8h0M568.5 88.8h0M567.3 91.5h0M568.9 77.5h0M569.8 91.1h0M567.9 96.8h0M567.4 89.8h0M568.7 87.2h0M569.6 87.6h0M566.7 87.3h0M570.9 80.9h0M569.9 100.6h0M568.8 96.5h0M570.4 100.7h0M572.2 98.8h0M569.1 86.7h0M573.0 89.1h0M571.6 81.8h0M569.7 76.0h0M571.9 92.6h0M567.4 89.6h0M569.9 79.8h0M569.6 100.3h0M570.9 79.1h0M570.7 89.9h0M572.3 84.9h0M571.2 115.4h0M572.5 90.1h0M568.9 84.5h0M569.3 96.9h0M571.7 87.3h0M566.9 86.7h0M570.5 87.3h0M573.6 93.2h0M571.2 98.6h0M571.4 75.4h0M568.2 90.6h0M573.0 91.0h0M569.9 97.2h0M571.2 78.3h0M569.8 83.2h0M569.5 90.1h0M567.7 87.4h0M567.3 91.1h0M571.3 91.3h0M572.6 84.8h0M567.1 87.8h0M571.3 107.5h0M569.3 94.4h0M570.4 85.9h0M567.3 89.4h0M567.8 91.0h0M570.7 93.6h0M569.9 92.4h0M568.4 87.5h0M570.3 81.6h0M572.0 80.8h0M571.1 70.5h0M574.1 93.2h0M568.3 90.7h0M568.6 82.8h0M571.7 95.4h0M570.0 99.4h0M571.6 89.6h0M569.1 93.9h0M572.7 82.1h0M569.0 100.6h0M567.6 86.2h0M569.2 77.0h0M569.2 96.3h0M571.1 93.2h0M569.0 94.9h0M568.9 83.8h0M567.4 83.1h0M571.9 100.8h0M571.4 89.2h0M572.5 92.9h0M572.8 81.0h0M572.4 97.7h0M568.3 87.3h0M567.7 86.2h0M571.2 103.3h0M569.9 110.2h0M571.6 96.4h0M573.4 88.3h0M570.3 103.1h0M572.7 80.5h0M570.7 116.6h0M569.8 74.7h0M568.1 93.1h0M570.9 91.9h0M568.5 90.6h0M571.7 86.1h0M572.6 91.9h0M569.6 88.3h0M570.3 101.0h0M570.2 116.8h0M570.0 75.2h0M572.2 98.3h0M567.2 89.0h0M570.5 93.7h0M570.5 92.7h0M569.7 72.0h0M568.9 93.9h0M572.4 96.5h0M571.1 101.6h0M570.2 83.9h0M570.1 107.5h0M571.6 84.2h0M571.3 81.4h0M568.5 99.1h0M570.0 86.9h0M570.0 74.3h0M568.3 86.5h0M573.8 88.6h0M571.9 95.7h0M574.3 87.1h0M572.8 82.6h0M570.6 95.0h0M572.1 77.5h0M567.3 84.1h0M573.6 86.6h0M569.0 100.5h0M569.5 99.8h0M569.7 77.1h0M567.9 81.7h0M573.0 83.0h0M572.4 99.4h0M571.6 102.2h0M567.9 97.2h0M573.9 90.1h0M569.2 85.8h0M571.5 98.7h0M571.7 81.8h0M570.0 108.6h0M569.3 92.3h0M572.1 97.4h0M571.2 78.3h0M567.3 87.6h0M568.5 94.0h0M570.3 72.1h0M572.4 82.3h0M568.0 96.9h0M568.5 78.7h0M571.1 71.5h0M572.1 86.3h0M567.9 94.0h0M570.0 112.4h0M570.4 93.7h0M567.5 92.5h0M567.5 88.5h0M571.0 94.3h0M570.2 82.6h0M573.3 94.9h0M568.1 85.2h0M572.7 79.9h0M570.2 95.2h0M573.4 93.5h0M572.5 88.5h0M573.1 91.5h0M570.3 88.8h0M572.2 82.9h0M569.0 85.0h0M570.5 97.8h0M568.6 96.9h0M572.1 87.5h0M568.5 81.2h0M573.7 84.1h0M567.7 96.1h0M570.7 81.2h0M571.7 81.9h0M570.6 79.0h0M569.4 87.5h0M571.1 76.0h0M568.7 94.1h0M567.4 87.8h0M569.1 97.3h0M571.4 82.8h0M567.7 87.9h0M573.9 93.6h0M573.3 85.1h0M574.2 89.3h0M569.3 77.8h0M569.8 82.8h0M569.2 90.5h0M570.4 92.9h0M567.0 92.2h0M572.3 84.2h0M567.8 94.4h0M572.0 95.1h0M571.0 112.2h0M569.5 83.7h0M569.5 75.2h0M566.5 86.6h0M571.3 82.5h0M571.3 78.1h0M569.2 79.6h0M569.4 79.0h0M569.7 100.5h0M566.8 88.5h0M570.8 72.3h0M570.0 82.9h0M568.2 83.7h0M570.1 74.9h0M566.7 89.9h0M568.7 82.2h0M572.3 80.1h0M573.5 88.8h0M568.6 78.9h0M569.3 81.3h0M572.9 85.2h0M570.6 85.7h0M571.0 92.8h0M572.1 89.6h0M573.1 89.5h0M570.9 85.9h0M573.0 90.8h0M569.5 102.8h0M569.4 98.1h0M572.8 84.9h0M570.9 86.6h0M571.2 79.2h0M569.6 75.5h0M569.8 96.9h0M568.4 96.1h0M572.2 83.7h0M571.0 70.3h0M573.5 87.4h0M569.9 78.2h0M567.3 85.2h0M573.0 84.3h0M570.4 89.8h0M566.9 86.2h0M574.4 90.2h0M567.6 89.6h0M570.0 106.7h0M570.3 100.2h0M570.5 75.3h0M566.9 94.5h0M570.9 85.3h0M570.4 116.5h0M570.8 77.8h0M573.0 95.3h0M569.9 73.7h0M571.7 85.7h0M569.8 96.3h0M569.3 80.9h0M568.4 88.1h0M570.4 87.7h0M570.1 82.3h0M568.9 82.1h0M570.2 91.5h0M567.6 90.5h0M569.0 92.4h0M571.2 85.0h0M570.5 102.8h0M571.6 100.4h0M571.2 113.3h0M572.8 85.4h0M571.3 68.6h0M569.0 78.7h0M571.2 90.6h0M573.2 96.6h0M571.3 95.9h0M568.3 83.4h0" stroke="#111" stroke-width="0.9" stroke-linecap="round" fill="none" opacity="1"/>
<path d="M582.8 77.2H589.8L592 82L593.9 92.4H578.7L580.6 82Z" fill="#178A8C" stroke="#222" stroke-width="0.6"/>
<path d="M589.7 86.4h0M589.4 86.6h0M587.0 81.2h0M583.5 80.2h0M587.1 90.0h0" stroke="#111" stroke-width="0.8" stroke-linecap="round" fill="none" opacity="1"/>
<path d="M604.4 59.1L604.8 59.1C605.0 59.9 605.3 61.9 605.9 64.0C606.5 66.2 607.5 69.3 608.4 72.0C609.3 74.7 610.6 77.8 611.2 80.0C611.8 82.2 612.1 83.4 612.0 85.4C611.9 87.4 611.2 89.7 610.4 92.0C609.6 94.3 608.2 97.4 607.4 99.4C606.6 101.4 606.1 102.6 605.7 104.0C605.3 105.4 605.4 106.6 605.2 108.0C605.0 109.4 604.8 111.6 604.7 112.3L604.1 112.3C604.0 111.6 603.8 109.4 603.6 108.0C603.4 106.6 603.5 105.4 603.1 104.0C602.7 102.6 602.2 101.4 601.4 99.4C600.6 97.4 599.2 94.3 598.4 92.0C597.6 89.7 596.9 87.4 596.8 85.4C596.7 83.4 597.0 82.2 597.6 80.0C598.2 77.8 599.5 74.7 600.4 72.0C601.3 69.3 602.3 66.2 602.9 64.0C603.5 61.9 603.8 59.9 604.0 59.1Z" fill="#F57C6E" stroke="#222" stroke-width="0.75"/>
<path d="M608.0 88.0h0M602.5 89.6h0M603.0 67.3h0M601.5 79.9h0M602.8 95.7h0M602.4 79.3h0M602.4 77.2h0M602.7 74.2h0M606.0 97.0h0M607.3 94.7h0M602.6 98.5h0M604.0 86.4h0M604.7 73.2h0M601.5 86.2h0M603.3 83.9h0M604.6 69.0h0M604.5 69.4h0M604.5 77.5h0M604.2 77.4h0M606.1 91.9h0M601.3 92.7h0M604.9 87.1h0M605.4 71.3h0M602.2 80.2h0M601.0 92.6h0M603.2 96.5h0M603.5 96.5h0M604.8 67.2h0M605.8 73.0h0M605.1 77.5h0M606.7 94.7h0M603.0 91.2h0M604.9 76.8h0M603.0 92.0h0M605.9 87.2h0M605.9 82.8h0M608.6 87.6h0M601.3 85.6h0M604.7 87.0h0M604.5 94.7h0M602.5 95.9h0M607.8 79.8h0M601.9 93.1h0M604.9 84.4h0M603.5 93.1h0M602.8 69.0h0M602.3 79.4h0M602.7 75.0h0M604.2 93.9h0M607.6 90.3h0M600.2 84.5h0M601.2 76.3h0M602.4 82.5h0M602.6 85.0h0M605.0 87.5h0M604.9 91.6h0M606.2 91.9h0M603.3 83.2h0M605.1 88.6h0M603.3 91.2h0M604.0 94.0h0M605.4 79.3h0M605.3 93.7h0M601.4 94.4h0M605.4 78.4h0M606.3 93.8h0M606.1 85.1h0M604.6 65.5h0M606.6 71.1h0M603.2 87.2h0M602.8 71.1h0M607.9 78.2h0M605.1 106.4h0M600.2 82.5h0M607.4 89.8h0M602.5 89.7h0M603.5 71.6h0M606.1 86.1h0M602.2 75.7h0M603.6 70.0h0M600.9 80.0h0M602.3 76.5h0M604.1 80.3h0M603.8 69.9h0M606.3 98.2h0M602.2 91.8h0M605.0 111.0h0M604.8 69.7h0M605.2 99.0h0M604.5 67.9h0M602.9 86.3h0M603.7 84.1h0M608.6 82.8h0M602.7 75.3h0M606.5 85.7h0M604.3 75.0h0M608.4 86.8h0M604.9 76.2h0M601.0 84.9h0M600.4 85.6h0M608.6 81.8h0M604.1 92.8h0M603.5 81.6h0M601.5 80.4h0M602.8 97.2h0M600.2 83.7h0M606.4 96.3h0M607.5 84.4h0M602.4 74.7h0M605.2 104.3h0M608.0 87.5h0M602.4 89.4h0M607.8 84.2h0M605.9 97.5h0M602.4 97.1h0M606.7 96.1h0M604.2 67.2h0M603.2 76.3h0M601.5 88.3h0M603.6 100.5h0M604.2 81.8h0M606.1 75.1h0M605.0 76.3h0M604.3 112.0h0M605.1 94.0h0M605.4 76.6h0M605.8 92.7h0M605.1 63.1h0M604.7 89.4h0M604.7 82.3h0M608.0 81.6h0M604.6 92.1h0M608.2 84.0h0M603.4 80.4h0M605.2 73.7h0M606.6 86.7h0M602.3 85.8h0M605.5 88.8h0M605.4 98.8h0M601.5 90.1h0M606.2 72.2h0M604.7 73.6h0M603.4 100.9h0M606.5 97.2h0M604.5 74.7h0M600.8 88.6h0M605.9 67.7h0M605.2 92.5h0M605.2 72.3h0M604.8 65.1h0M602.7 99.0h0M604.8 60.0h0M603.8 107.4h0M606.5 76.2h0M605.6 66.0h0M605.3 73.3h0M603.8 95.5h0M604.5 102.7h0M604.0 100.6h0M601.1 90.8h0" stroke="#111" stroke-width="0.8" stroke-linecap="round" fill="none" opacity="1"/>
<path d="M619.6 39.3L620.0 39.3C620.1 40.1 620.3 42.2 620.6 44.0C620.9 45.8 621.0 48.2 621.6 50.0C622.2 51.8 623.4 53.2 624.1 55.0C624.9 56.8 625.6 58.8 626.1 61.0C626.6 63.2 627.1 64.8 627.3 68.0C627.5 71.2 627.5 76.3 627.3 80.0C627.1 83.7 626.6 86.7 626.1 90.0C625.6 93.3 624.6 97.1 624.1 100.0C623.6 102.9 623.0 106.3 622.8 107.6L616.4 107.6C616.2 106.3 615.6 102.9 615.1 100.0C614.6 97.1 613.6 93.3 613.1 90.0C612.6 86.7 612.1 83.7 611.9 80.0C611.7 76.3 611.7 71.2 611.9 68.0C612.1 64.8 612.6 63.2 613.1 61.0C613.6 58.8 614.4 56.8 615.1 55.0C615.9 53.2 617.0 51.8 617.6 50.0C618.2 48.2 618.3 45.8 618.6 44.0C618.9 42.2 619.1 40.1 619.2 39.3Z" fill="#178A8C" stroke="#222" stroke-width="0.75"/>
<path d="M618.5 48.9h0M619.9 101.5h0M621.2 79.7h0M617.8 94.4h0M623.2 67.4h0M621.7 79.7h0M618.5 49.6h0M619.3 78.7h0M616.9 77.1h0M619.6 79.3h0M620.8 101.8h0M618.3 52.2h0M618.7 103.1h0M622.4 92.9h0M618.9 81.5h0M617.3 96.4h0M619.3 82.1h0M620.4 83.9h0M623.5 62.6h0M622.6 71.1h0M620.6 97.4h0M621.8 59.7h0M616.2 72.5h0M622.8 66.9h0M619.4 100.1h0M618.8 105.6h0M621.2 94.1h0M617.1 96.4h0M619.4 83.6h0M616.7 68.5h0M620.2 107.1h0M616.5 73.7h0M616.9 60.1h0M621.8 64.8h0M620.5 80.7h0M621.1 65.5h0M621.6 56.6h0M619.7 83.9h0M618.9 95.1h0M622.8 76.4h0M621.5 70.4h0M617.8 66.7h0M619.0 52.8h0M622.4 70.1h0M617.1 57.9h0" stroke="#111" stroke-width="0.8" stroke-linecap="round" fill="none" opacity="1"/>
<rect x="639.4" y="72.8" width="8.6" height="8.7" fill="#F57C6E" stroke="#444" stroke-width="0.5" />
<rect x="639.4" y="82.5" width="8.6" height="8.7" fill="#178A8C" stroke="#444" stroke-width="0.5" />
<text x="651.9" y="80.4" font-size="10" fill="#222" textLength="25.7" lengthAdjust="spacingAndGlyphs">14dpi</text>
<text x="651.9" y="89.7" font-size="10" fill="#222" textLength="25.7" lengthAdjust="spacingAndGlyphs">Naive</text>
<rect x="0.9" y="183.9" width="683.2" height="114.8" fill="none" stroke="#111" stroke-width="1.8" />
<text x="7.4" y="199" font-size="17" font-weight="bold">d</text>
<text x="57.5" y="198.1" font-size="14" textLength="38.3" lengthAdjust="spacingAndGlyphs">14 dpi</text>
<text x="132.8" y="198" font-size="14" textLength="35.1" lengthAdjust="spacingAndGlyphs">Na&#239;ve</text>
<rect x="40" y="205.4" width="68.6" height="71.6" fill="#fff" stroke="#666" stroke-width="0.9" />
<rect x="117.4" y="205.4" width="71.5" height="71.6" fill="#fff" stroke="#666" stroke-width="0.9" />
<path d="M58.7 213.7h0M97.1 241.5h0M51.3 273.2h0M42.9 249.3h0M45.8 266.7h0M92.4 241.4h0M81.2 221.3h0M44.9 242.3h0M97.3 249.2h0M45.0 252.0h0M57.9 211.3h0M89.2 225.9h0M74.1 214.4h0M47.3 266.8h0M50.6 268.0h0M44.2 251.1h0M103.0 253.6h0M99.0 247.9h0M44.3 234.3h0M48.0 268.9h0M77.9 216.0h0M44.6 248.7h0M95.5 249.1h0M94.6 253.0h0M91.6 233.7h0M88.2 234.4h0M92.5 232.2h0M93.9 239.8h0M47.7 222.0h0M86.6 226.4h0M52.1 272.2h0M86.4 221.6h0M54.6 216.3h0M98.9 261.3h0M90.1 234.6h0M54.9 215.1h0M85.1 224.7h0M70.4 216.2h0M76.6 214.5h0M53.0 272.6h0M43.4 244.9h0M44.6 240.1h0M86.3 222.7h0M99.0 250.9h0M75.2 218.3h0M86.9 231.5h0M78.2 217.2h0M42.0 256.7h0M45.0 240.8h0M72.7 211.8h0M89.5 229.7h0M53.3 219.2h0M84.6 222.4h0M48.6 230.3h0M47.0 232.0h0M44.2 253.0h0M49.1 217.5h0M71.4 213.6h0M44.0 261.3h0M98.4 253.5h0M52.5 273.5h0M86.9 227.5h0M46.7 227.9h0M101.6 253.3h0M44.7 236.2h0M50.8 271.1h0M83.4 222.7h0M49.7 224.1h0M93.5 238.3h0M80.3 221.6h0M54.8 217.1h0M81.7 217.7h0M84.5 220.2h0M46.6 230.3h0M43.3 249.3h0M81.4 218.0h0M70.3 212.4h0M49.7 268.1h0M42.9 254.1h0M53.5 218.2h0M45.8 264.1h0M63.7 213.0h0M52.3 222.5h0M44.7 234.8h0M88.5 230.1h0M86.2 228.6h0M47.9 266.4h0M73.1 215.2h0M98.4 262.5h0M73.7 216.5h0M103.1 259.9h0M45.5 244.0h0M44.3 245.4h0M45.9 230.8h0M46.0 243.9h0M42.7 254.2h0M46.1 241.9h0M60.3 213.7h0M94.8 237.2h0M91.4 232.3h0M51.0 269.0h0M89.0 232.4h0M77.4 218.8h0M43.8 238.8h0M51.5 274.3h0M95.8 244.8h0M44.6 258.0h0M44.9 241.5h0M48.8 234.2h0M89.7 237.0h0M102.6 253.6h0M98.2 250.7h0M95.7 242.3h0M96.1 242.0h0M56.0 212.8h0M48.9 267.7h0M46.2 244.2h0M45.7 257.0h0M45.8 260.2h0M44.1 257.7h0M47.9 232.1h0M49.0 268.4h0M47.8 235.4h0M97.1 242.7h0M43.2 242.6h0M61.2 214.4h0M96.9 242.1h0M53.5 270.8h0M87.1 226.6h0M66.1 211.1h0M50.8 270.5h0M97.0 248.4h0M89.3 236.7h0M46.2 261.4h0M99.6 257.2h0M71.1 211.6h0M76.4 219.1h0M44.1 246.5h0M51.5 269.4h0M84.2 225.1h0M85.4 225.4h0M44.9 251.9h0M50.1 269.5h0M71.0 211.7h0M45.5 233.3h0M46.0 227.8h0M95.9 244.8h0M69.7 213.2h0M43.0 260.3h0M85.8 222.0h0M85.8 226.1h0M69.8 212.4h0M98.5 256.9h0M57.2 212.9h0M81.3 216.6h0M48.2 267.7h0M44.9 234.3h0M46.3 234.3h0M52.1 216.8h0M62.3 211.5h0M42.8 260.6h0M82.3 224.2h0M49.5 267.0h0M45.8 241.3h0M71.7 213.7h0M51.8 271.0h0M47.1 230.0h0M92.8 237.4h0M86.6 227.3h0M46.2 223.1h0M41.9 252.9h0M87.6 229.8h0M96.3 245.2h0M47.0 264.2h0M51.1 218.1h0M66.7 211.9h0M85.7 221.8h0M43.4 247.8h0M94.4 238.6h0M73.9 217.6h0M91.8 235.8h0M102.0 254.6h0M82.3 222.5h0M83.6 219.1h0M45.1 235.5h0M46.9 238.9h0M46.6 223.5h0M91.7 237.3h0M72.7 215.0h0M46.9 237.8h0M96.7 249.9h0M62.3 212.5h0M103.0 258.8h0M78.6 221.1h0M86.9 228.3h0M48.8 228.8h0M98.9 261.8h0M56.0 211.1h0M82.9 220.1h0M48.5 219.8h0M62.7 212.3h0M44.8 251.7h0M49.5 225.1h0M52.0 219.4h0M87.6 229.6h0M43.8 254.6h0M42.7 248.5h0M79.1 217.2h0M57.9 213.8h0M98.3 246.3h0M50.9 271.9h0M53.8 216.7h0M92.7 240.0h0M90.2 230.0h0M49.2 227.4h0M61.7 210.8h0M50.7 221.4h0M53.4 272.9h0M47.2 264.0h0M44.7 244.5h0M96.0 245.5h0M44.4 249.8h0M47.0 236.9h0M67.9 210.0h0M83.2 225.0h0M79.7 217.1h0M45.5 233.0h0M44.8 227.9h0M52.2 273.1h0M89.7 236.0h0M51.0 224.2h0M44.5 235.2h0M42.6 247.5h0M59.1 210.7h0M44.1 255.9h0M49.2 231.1h0M44.3 261.5h0M43.6 249.9h0M64.4 210.8h0M44.1 229.6h0M44.6 261.5h0M97.0 245.7h0M48.8 267.1h0M49.6 218.3h0M46.6 235.9h0M46.8 268.7h0M47.7 235.2h0M53.7 216.7h0M85.3 221.2h0M46.6 240.7h0M50.7 224.4h0M99.1 248.4h0M79.1 215.8h0M54.6 217.2h0M42.7 246.5h0M89.9 234.9h0M99.7 252.7h0M43.5 242.2h0M92.2 243.3h0M46.8 223.7h0M56.8 211.2h0M50.8 270.9h0M46.3 243.1h0M44.3 242.6h0M42.7 248.1h0M91.5 240.7h0M102.7 254.3h0M48.5 232.4h0M94.3 235.0h0M45.3 234.2h0M71.2 213.1h0M43.6 249.1h0M96.3 251.0h0M61.7 213.9h0M71.1 216.6h0M90.4 236.0h0M63.4 213.0h0M58.5 214.0h0M87.8 223.8h0M55.2 211.6h0M71.3 212.1h0M45.1 234.4h0M44.2 255.8h0M43.0 245.1h0M101.8 258.5h0M73.0 212.6h0M52.1 271.6h0M42.8 250.2h0M72.2 212.7h0M61.3 209.5h0M104.0 261.0h0M96.5 250.3h0M46.0 266.4h0M90.0 238.1h0M103.7 259.5h0M87.5 229.5h0M100.3 256.7h0M46.1 222.2h0M76.3 217.4h0M82.6 222.9h0M92.4 235.3h0M86.2 225.7h0M90.8 240.0h0M46.7 229.5h0M91.3 235.8h0M74.3 212.3h0M100.3 257.7h0M44.1 230.6h0M75.0 216.8h0M92.2 245.3h0M89.4 231.1h0M84.1 224.0h0M42.1 256.9h0M44.9 254.6h0M46.4 232.1h0M79.6 218.2h0M49.8 271.7h0M79.9 220.9h0M45.7 260.3h0M42.2 249.3h0M43.9 237.3h0M67.5 212.1h0M86.5 225.5h0M103.5 253.5h0M44.9 244.4h0M44.6 265.3h0M95.2 243.5h0M72.6 213.6h0M98.1 252.0h0M85.6 225.7h0M43.8 258.3h0M45.9 225.1h0M43.6 245.8h0M56.1 217.3h0M46.0 237.1h0M94.5 244.4h0M97.8 248.3h0M42.4 250.1h0M103.2 262.0h0M104.7 255.4h0M50.2 223.0h0M97.9 245.6h0M97.5 256.5h0M89.0 226.5h0M47.5 225.1h0M77.2 216.8h0M89.3 231.8h0M46.3 228.6h0M54.6 210.5h0M46.2 263.1h0M45.1 254.6h0M93.4 234.9h0M47.1 232.9h0M86.9 222.4h0M51.4 216.6h0M83.3 226.3h0M47.2 236.5h0M45.4 264.6h0M81.8 220.2h0M45.0 240.5h0M43.3 247.7h0M55.7 213.9h0M60.0 211.7h0M97.6 247.8h0M84.2 223.2h0M54.2 217.8h0M55.0 217.2h0M72.9 216.3h0M44.7 258.2h0M46.1 235.4h0M74.4 214.2h0M100.1 254.4h0M73.8 215.7h0M42.9 246.6h0M100.7 258.5h0M92.4 235.5h0M45.2 245.4h0M48.1 224.3h0M50.6 270.5h0M91.3 230.2h0M44.2 246.2h0M95.5 239.1h0M88.2 224.1h0M88.9 233.5h0M69.2 211.2h0M43.2 242.6h0M50.0 270.3h0M72.8 214.4h0M52.6 272.7h0M62.2 214.5h0M90.8 232.5h0M43.4 256.7h0M52.4 215.8h0M65.8 214.2h0M43.8 255.4h0M43.2 248.3h0M75.3 215.2h0M44.9 252.3h0M43.4 255.4h0M43.0 245.2h0M98.9 254.3h0M99.5 247.6h0M43.2 261.7h0M70.9 211.3h0M51.1 219.6h0M51.4 270.3h0M44.1 241.5h0M78.0 221.0h0M51.6 271.8h0M100.2 257.1h0M44.3 236.9h0M47.8 227.9h0M103.1 254.2h0M42.6 256.9h0M46.1 258.8h0M56.3 212.3h0M45.5 231.5h0M47.3 231.5h0M71.8 212.9h0M99.0 256.3h0M49.4 217.6h0M49.7 268.5h0M50.2 225.0h0M96.3 242.8h0M54.2 218.5h0M47.4 267.9h0M44.8 242.2h0M46.0 244.2h0M49.7 228.8h0M44.5 231.8h0M83.3 219.2h0M85.3 225.8h0M48.5 270.4h0M42.2 256.7h0M94.2 238.4h0M96.4 245.9h0M91.4 234.3h0M43.2 251.6h0M83.2 223.6h0M47.1 265.7h0M83.8 219.7h0M44.4 245.9h0M92.4 241.8h0M92.5 242.2h0M57.0 214.5h0M86.5 227.1h0M103.0 253.7h0M96.2 249.0h0M80.9 216.7h0M76.5 214.8h0M48.2 226.7h0M85.0 220.6h0M45.2 256.7h0M53.5 213.3h0M44.8 265.2h0M45.5 263.4h0M81.2 220.4h0M51.1 216.8h0M43.4 247.7h0M100.4 255.9h0M46.9 236.0h0M65.4 214.6h0M58.1 212.5h0M42.9 250.8h0M100.2 262.0h0M89.2 230.7h0M96.5 248.5h0M45.6 234.4h0M98.0 251.3h0M96.8 251.3h0M98.8 255.3h0M43.6 251.9h0M43.0 253.9h0M44.8 265.6h0M45.3 263.8h0M86.0 222.6h0M48.3 268.1h0M54.5 212.8h0M45.5 226.1h0M87.9 226.2h0M50.5 268.7h0M86.4 226.2h0M100.7 256.6h0M47.7 234.9h0M48.8 219.3h0M87.1 228.5h0M46.4 233.6h0M95.4 242.6h0M97.8 262.5h0M43.5 245.5h0M57.6 214.7h0M42.8 256.6h0M67.8 214.9h0M48.8 221.1h0M102.3 258.3h0M86.1 227.4h0M105.1 260.8h0M92.8 237.5h0M93.8 239.5h0M46.7 221.8h0M81.9 220.5h0M45.6 261.1h0M47.0 228.2h0M95.3 253.6h0M104.3 258.8h0M42.3 251.9h0M58.6 213.5h0M48.5 218.8h0M74.3 218.1h0M71.9 215.2h0M44.1 239.8h0M93.5 247.1h0M53.8 214.8h0M88.4 233.7h0M86.4 226.0h0M98.3 261.2h0M62.0 211.2h0M72.2 214.6h0M92.0 231.8h0M44.0 244.2h0M49.3 268.5h0M94.1 237.1h0M83.9 223.4h0M89.0 229.3h0M89.7 237.3h0M45.6 248.3h0M97.0 245.8h0M79.8 215.6h0M97.5 256.5h0M67.6 214.3h0M93.6 245.3h0M49.4 266.9h0M44.1 253.6h0M67.9 211.3h0M79.3 222.2h0M47.2 221.9h0M46.8 266.1h0M93.8 248.5h0M47.8 265.3h0M96.3 248.1h0M45.2 243.7h0M85.9 223.3h0M72.6 214.7h0M44.3 243.4h0M47.3 230.0h0M46.1 242.7h0M64.6 214.1h0M46.2 238.2h0M66.2 211.7h0M47.0 237.2h0M44.8 259.7h0M83.9 223.9h0M46.3 239.9h0M97.7 256.6h0M51.6 220.4h0M43.8 239.5h0M88.2 224.5h0M95.5 250.4h0M49.8 225.1h0M85.6 228.9h0M48.8 230.7h0M98.2 262.7h0M46.5 234.4h0M51.9 268.8h0M52.0 274.0h0M65.7 210.2h0M76.6 216.8h0M46.9 236.9h0M52.5 219.3h0M48.9 218.4h0M47.7 225.9h0M42.8 249.8h0M66.4 211.2h0M83.4 219.3h0M51.5 270.4h0M96.7 246.7h0M46.5 240.4h0M57.3 213.0h0M44.2 245.5h0M80.5 222.4h0M48.7 219.4h0M73.1 211.2h0M49.1 218.7h0M60.9 212.8h0M46.6 263.3h0M104.4 259.2h0M49.8 216.5h0M47.5 230.4h0M95.4 242.4h0M46.3 235.3h0M93.5 234.2h0M49.1 217.0h0M42.8 260.5h0M70.3 212.7h0M47.0 237.6h0M44.3 248.1h0M105.5 260.3h0M97.1 255.6h0M56.4 212.8h0M90.8 237.9h0M79.9 222.5h0M43.9 233.3h0M45.0 258.9h0M70.0 215.6h0M45.9 250.1h0M87.8 230.9h0M72.8 215.3h0M44.5 245.7h0M87.5 233.7h0M103.1 257.2h0M57.2 212.6h0M100.5 258.9h0M53.0 213.8h0M51.6 272.6h0M57.0 215.6h0M46.9 227.2h0M99.0 250.7h0M62.5 214.9h0M104.4 255.3h0M42.7 253.9h0M51.4 224.1h0M53.3 272.2h0M48.4 268.1h0M85.5 225.0h0M50.8 270.5h0M45.6 245.4h0M50.7 214.5h0M99.9 251.4h0M43.1 243.2h0M52.7 273.5h0M84.2 224.7h0M82.6 224.8h0M44.6 257.4h0M98.7 253.2h0M97.5 243.7h0M100.5 253.7h0M92.9 240.0h0M65.7 212.9h0M85.5 223.2h0M45.4 259.0h0M77.7 219.5h0M47.7 227.0h0M47.8 230.2h0M45.2 232.2h0M46.8 264.9h0M93.4 237.5h0M87.5 232.9h0M53.0 272.9h0M61.2 212.3h0M52.0 270.8h0M66.4 212.8h0M44.8 253.7h0M98.2 258.9h0M46.8 232.3h0M63.2 210.8h0M44.0 239.2h0M94.9 251.9h0M52.3 273.2h0M47.3 234.1h0M42.8 244.8h0M86.0 230.8h0M49.8 224.5h0M97.1 243.9h0M47.3 231.2h0M42.8 259.7h0M52.2 212.8h0M46.7 264.2h0M43.4 254.8h0M62.9 213.0h0M69.4 213.5h0M43.9 246.5h0M44.6 251.2h0M62.7 213.4h0M55.2 216.3h0M57.6 211.5h0M83.1 219.5h0M45.5 256.5h0M53.2 271.7h0M47.6 267.3h0M90.4 235.8h0M83.3 225.4h0M44.3 255.5h0M47.9 230.9h0M45.8 232.8h0M99.3 251.3h0M49.8 218.9h0M83.7 226.9h0M45.2 263.1h0M49.0 269.8h0M43.4 244.7h0M77.6 219.0h0M55.6 216.5h0M96.9 245.5h0M95.0 237.7h0M79.6 222.1h0M104.8 261.8h0M101.7 257.0h0M96.3 247.1h0M46.6 262.4h0M51.6 221.9h0M43.9 256.6h0M74.6 215.4h0M60.8 209.1h0M45.8 263.4h0M47.1 264.2h0M56.4 214.7h0M76.1 217.3h0M51.8 220.8h0M57.0 213.6h0M78.9 215.8h0M85.2 221.7h0M86.0 224.3h0M49.1 217.4h0M45.0 252.3h0M96.2 245.0h0M51.2 268.2h0M44.1 247.9h0M43.1 249.8h0M72.2 214.9h0M75.0 218.0h0M45.7 262.0h0M61.6 215.0h0M71.5 211.5h0M81.9 224.2h0M46.4 266.3h0M88.9 225.7h0M45.0 238.7h0M50.4 223.7h0M42.2 259.5h0M95.9 240.6h0M74.4 218.2h0M93.5 237.0h0M61.7 214.8h0M44.5 261.4h0M49.1 220.5h0M46.9 264.4h0M45.2 262.1h0M92.1 236.9h0M54.9 273.5h0M47.0 221.4h0M49.4 269.6h0M87.5 232.5h0M104.8 260.4h0M51.2 270.1h0M49.6 226.6h0M99.2 259.4h0M44.5 240.9h0M48.7 233.1h0M105.4 260.0h0M98.6 252.2h0M51.3 223.6h0M83.1 218.9h0M93.5 234.5h0M45.0 225.6h0M54.0 273.4h0M48.0 224.1h0M84.9 222.0h0M102.4 256.4h0M51.8 213.9h0M49.8 219.0h0M48.8 223.4h0M72.7 217.3h0M50.9 271.8h0M97.6 251.2h0M100.2 256.3h0M51.1 270.7h0M53.8 272.2h0M48.2 232.8h0M43.5 256.4h0M91.7 231.2h0M96.0 245.3h0M66.1 211.0h0M99.8 254.7h0M45.8 244.8h0M42.2 249.0h0M48.9 223.0h0M53.3 213.5h0M45.5 248.7h0M96.1 253.2h0M88.1 230.2h0M45.7 235.7h0M45.3 245.0h0M46.0 237.1h0M50.6 221.7h0M81.7 218.2h0M90.6 233.2h0M101.5 255.2h0M45.9 265.7h0M44.6 249.3h0M49.2 223.3h0M98.5 257.3h0M53.5 213.6h0M88.2 224.8h0M95.1 239.4h0M55.3 214.1h0M49.6 223.7h0M91.3 232.8h0M79.7 216.3h0M103.6 260.8h0M45.5 238.1h0M101.1 255.7h0M58.3 210.1h0M95.9 245.3h0M80.4 215.9h0M69.4 212.0h0M92.1 244.1h0M47.1 264.6h0M46.5 236.7h0M58.5 210.0h0M94.8 238.6h0M44.2 250.6h0M91.8 232.5h0M44.6 265.0h0M45.8 226.4h0M55.9 214.0h0M86.0 225.7h0M63.3 211.1h0M93.7 242.7h0M85.6 221.1h0M50.7 223.7h0M62.8 209.8h0M49.2 222.1h0M95.1 245.6h0M47.9 233.9h0M41.9 251.2h0M44.0 241.5h0M45.3 241.4h0M91.9 237.7h0M81.8 223.8h0M44.7 241.9h0M52.4 218.8h0M95.8 249.3h0M100.0 258.6h0M44.5 245.5h0M101.2 253.7h0M47.5 267.9h0M100.9 262.7h0M46.6 231.6h0M101.2 255.8h0M51.4 270.1h0M84.8 221.6h0M98.1 252.7h0M94.0 238.4h0M69.6 214.6h0M44.1 254.9h0M46.5 243.4h0M96.6 257.0h0M96.7 244.6h0M45.2 245.2h0M49.3 228.8h0M74.6 215.7h0M45.1 233.9h0M44.3 246.5h0M93.8 245.9h0M44.0 261.2h0M76.2 219.0h0M50.2 220.1h0M54.6 211.5h0M93.4 246.4h0M86.7 229.9h0M90.2 232.7h0M52.4 271.7h0M90.8 238.1h0M90.5 235.2h0M53.3 274.3h0M44.9 245.1h0M85.1 228.0h0M96.0 245.1h0M65.5 214.0h0M94.6 248.9h0M46.2 264.1h0M44.3 240.3h0M92.6 238.9h0M88.6 236.5h0M45.7 245.8h0M70.5 211.7h0M51.6 214.6h0M86.0 229.5h0M49.9 221.0h0M46.7 231.8h0M88.3 232.0h0M82.7 225.0h0M45.9 224.9h0M84.1 226.3h0M45.0 240.0h0M60.0 214.1h0M44.9 250.6h0M46.1 227.9h0M51.7 218.1h0M44.5 265.2h0M46.0 233.3h0M47.7 227.5h0M47.5 230.9h0M60.7 209.6h0M95.9 249.7h0M91.7 243.6h0M47.1 235.6h0M44.3 257.9h0M45.8 264.0h0M97.6 247.7h0M90.0 230.6h0M89.9 227.2h0M96.2 250.8h0M52.6 221.7h0M43.2 252.5h0M47.4 262.5h0M48.1 219.4h0M90.2 231.6h0M45.3 265.1h0M50.7 215.1h0M47.0 263.9h0M45.4 246.9h0M67.3 213.0h0M79.3 217.9h0M101.1 254.1h0M48.7 232.5h0M44.0 243.8h0M46.8 268.1h0M42.8 250.3h0M50.0 270.3h0M52.6 274.2h0M45.1 260.6h0M65.3 211.6h0M56.0 215.8h0M97.7 250.2h0M57.7 211.9h0M45.2 264.4h0M44.9 256.6h0M83.9 224.3h0M103.6 258.9h0M90.1 228.2h0M45.2 243.7h0M45.9 227.7h0M54.7 218.0h0M54.3 218.4h0M46.8 236.7h0M42.5 254.6h0M51.0 271.2h0M95.1 246.5h0M101.0 259.7h0M104.2 258.8h0M47.4 222.9h0M83.9 222.3h0M43.8 247.7h0M44.5 261.4h0M53.6 272.6h0M47.0 229.6h0M92.3 235.7h0M63.2 214.6h0M45.1 244.2h0M55.9 210.2h0M65.7 211.3h0M42.5 249.2h0M55.3 216.7h0M96.7 254.5h0M52.8 212.9h0M106.8 260.1h0M87.1 225.9h0M43.7 258.8h0M98.8 251.6h0M84.0 222.5h0M52.4 214.6h0M44.0 250.1h0M80.5 219.8h0M42.6 250.0h0M56.3 215.1h0M44.8 255.7h0M51.2 219.0h0M99.4 258.9h0M71.8 216.6h0M61.4 211.6h0M77.2 214.3h0M81.5 216.9h0M73.1 215.0h0M46.8 237.0h0M45.9 247.0h0M74.7 214.5h0M101.0 252.5h0M97.6 244.8h0M58.1 213.3h0M46.9 234.8h0M70.8 216.1h0M49.8 268.0h0M59.7 210.6h0M90.1 233.8h0M104.6 255.7h0M46.0 262.9h0M44.9 249.2h0M57.7 213.1h0M74.4 215.7h0M98.1 259.3h0M42.8 262.2h0M42.7 258.8h0M57.8 214.0h0M91.8 234.8h0M51.2 270.4h0M48.6 223.7h0M87.5 223.5h0M53.4 218.9h0M43.3 251.1h0M45.7 267.1h0M91.7 230.7h0M61.7 211.5h0M65.3 210.1h0M84.4 220.3h0M89.3 231.8h0M48.6 219.4h0M47.7 225.4h0M97.9 252.1h0M45.8 266.6h0M91.2 232.2h0M55.9 214.3h0M64.5 209.8h0M44.9 241.4h0M99.8 255.2h0M48.3 234.1h0M45.7 231.9h0M48.5 266.8h0M99.3 247.6h0M91.4 240.8h0M49.0 268.3h0M43.7 256.4h0M45.3 236.1h0M50.7 271.5h0M59.8 212.1h0M92.1 243.2h0M84.8 226.4h0M59.8 214.9h0M97.9 260.3h0M47.3 234.5h0M48.5 232.4h0M45.1 239.3h0M72.7 217.3h0M53.7 211.8h0M44.2 260.0h0M58.5 210.3h0M103.6 256.8h0M96.3 246.3h0M76.2 216.4h0M93.4 245.7h0M57.7 211.8h0M59.5 210.4h0M83.6 223.7h0M43.1 248.3h0M72.4 215.4h0M60.4 211.7h0M46.2 234.4h0M59.9 210.4h0M43.6 251.2h0M77.6 220.7h0M43.7 260.9h0M53.3 214.3h0M48.1 267.4h0M66.2 209.5h0M44.8 263.1h0M92.8 239.3h0M52.5 271.0h0M91.2 237.6h0M46.0 234.9h0M102.4 255.5h0M48.0 229.9h0M43.5 256.3h0M82.7 218.8h0M45.2 242.5h0M92.9 237.7h0M58.0 212.4h0M46.0 238.9h0M73.7 213.3h0M45.8 245.2h0M43.8 239.5h0M45.3 264.9h0M44.0 242.9h0M43.1 245.8h0M44.2 254.5h0M52.7 219.7h0M55.9 217.0h0M74.0 212.8h0M66.2 214.1h0M81.4 224.0h0M76.5 213.9h0M57.5 214.8h0M92.9 244.4h0M45.6 256.7h0M46.0 238.6h0M53.5 272.0h0M96.2 251.1h0M93.6 247.4h0M50.2 219.6h0M91.7 242.6h0M69.0 210.3h0M95.9 255.0h0M97.3 249.3h0M45.1 229.5h0M46.7 238.3h0M51.9 219.2h0M101.2 256.5h0M54.1 211.8h0M46.3 225.1h0M52.2 271.0h0M47.7 222.2h0" stroke="#F38221" stroke-width="1.05" stroke-linecap="round" fill="none" opacity="1.0"/>
<path d="M124.6 266.2h0M124.0 265.6h0M122.2 260.3h0M130.2 273.1h0M125.9 267.0h0M126.7 267.6h0M125.7 266.2h0M124.0 263.8h0M127.1 267.5h0M119.7 259.2h0M129.4 273.8h0M131.7 273.3h0M129.1 272.1h0M127.2 266.8h0M127.4 266.5h0M130.6 271.3h0M122.3 262.2h0M122.8 262.7h0M130.8 271.5h0M123.0 258.8h0M129.9 272.7h0M129.5 268.6h0M128.3 269.5h0M125.2 266.5h0M127.2 268.5h0M124.1 265.2h0M128.7 268.3h0M126.2 265.1h0M128.1 269.8h0M128.6 269.7h0M125.0 264.0h0M130.7 273.3h0M126.8 266.9h0M127.3 267.7h0M127.0 265.3h0M126.9 266.9h0M127.4 268.1h0M127.8 268.8h0M119.6 258.2h0M129.8 272.2h0M127.1 267.2h0M129.9 271.3h0M123.0 263.0h0M124.1 264.2h0M124.6 265.3h0" stroke="#17807D" stroke-width="0.95" stroke-linecap="round" fill="none" opacity="1"/>
<path d="M140.5 210.2h0M145.5 211.5h0M146.8 212.2h0M160.3 213.3h0M168.0 222.0h0M172.6 227.2h0M181.5 244.8h0M128.3 225.0h0" stroke="#17807D" stroke-width="1.0" stroke-linecap="round" fill="none" opacity="1"/>
<text x="0" y="0" transform="translate(36.5 260) rotate(-90)" font-size="14" textLength="54" lengthAdjust="spacingAndGlyphs" >UMAP_2</text>
<path d="M29.2 269.1V286.6H50.9" fill="none" stroke="#111" stroke-width="1.15"/>
<path d="M29.2 263L25.6 269.6L32.8 269.6Z" fill="#111"/>
<path d="M57 286.6L50.4 283L50.4 290.2Z" fill="#111"/>
<text x="62.2" y="293" font-size="14" textLength="55.2" lengthAdjust="spacingAndGlyphs">UMAP_1</text>
<text x="201.1" y="211.9" font-size="14" textLength="90.9" lengthAdjust="spacingAndGlyphs">N1 Total = 180</text>
<path d="M245.80 248.80L245.80 219.20A29.60 29.60 0 0 1 246.83 219.22Z" fill="#17807D"/>
<path d="M245.80 248.80L246.83 219.22A29.60 29.60 0 1 1 245.80 219.20Z" fill="#F38221"/>
<circle cx="245.8" cy="248.8" r="29.6" fill="none" stroke="#F47F77" stroke-width="0.8"/>
<text x="235.3" y="270.3" font-size="14" textLength="23.2" lengthAdjust="spacingAndGlyphs">179</text>
<text x="303.9" y="211.9" font-size="14" textLength="90.9" lengthAdjust="spacingAndGlyphs">N2 Total = 270</text>
<path d="M348.10 250.00L348.10 220.00A30.00 30.00 0 0 1 349.50 220.03Z" fill="#17807D"/>
<path d="M348.10 250.00L349.50 220.03A30.00 30.00 0 1 1 348.10 220.00Z" fill="#F38221"/>
<circle cx="348.1" cy="250" r="30" fill="none" stroke="#9CCB54" stroke-width="0.8"/>
<text x="336.9" y="270.3" font-size="14" textLength="23.2" lengthAdjust="spacingAndGlyphs">268</text>
<text x="406" y="211.9" font-size="14" textLength="90.9" lengthAdjust="spacingAndGlyphs">N3 Total = 480</text>
<path d="M449.90 249.90L449.90 219.40A30.50 30.50 0 0 1 452.29 219.49Z" fill="#17807D"/>
<path d="M449.90 249.90L452.29 219.49A30.50 30.50 0 1 1 449.90 219.40Z" fill="#F38221"/>
<circle cx="449.9" cy="249.9" r="30.5" fill="none" stroke="#49BFC5" stroke-width="0.8"/>
<text x="438.4" y="270.3" font-size="14" textLength="23.2" lengthAdjust="spacingAndGlyphs">474</text>
<text x="511.6" y="211.9" font-size="14" textLength="90.9" lengthAdjust="spacingAndGlyphs">N4 Total = 228</text>
<path d="M552.00 249.80L552.00 220.00A29.80 29.80 0 0 1 581.39 244.90Z" fill="#17807D"/>
<path d="M552.00 249.80L581.39 244.90A29.80 29.80 0 1 1 552.00 220.00Z" fill="#F38221"/>
<circle cx="552" cy="249.8" r="29.8" fill="none" stroke="#AA8BC3" stroke-width="0.8"/>
<text x="543.5" y="271.7" font-size="14" textLength="23.2" lengthAdjust="spacingAndGlyphs">177</text>
<text x="555.8" y="239.9" font-size="14" fill="#f4f4f4" textLength="15.5" lengthAdjust="spacingAndGlyphs">51</text>
<rect x="612" y="245.7" width="20.4" height="7.3" fill="#17807D" />
<rect x="612" y="261.4" width="20.4" height="7.4" fill="#F38221" />
<text x="641.6" y="252.8" font-size="14" textLength="34.7" lengthAdjust="spacingAndGlyphs">Na&#239;ve</text>
<text x="641.6" y="267.2" font-size="14" textLength="38.1" lengthAdjust="spacingAndGlyphs">14 dpi</text>
<text x="636.4" y="293.5" font-size="14" textLength="41.8" lengthAdjust="spacingAndGlyphs">Spleen</text>
<rect x="0.9" y="311" width="683.2" height="114.5" fill="none" stroke="#111" stroke-width="1.8" />
<text x="8.6" y="324.2" font-size="17" font-weight="bold">e</text>
<text x="57.5" y="325.7" font-size="14" textLength="38.9" lengthAdjust="spacingAndGlyphs">14 dpi</text>
<text x="133.4" y="325.7" font-size="14" textLength="35.1" lengthAdjust="spacingAndGlyphs">Na&#239;ve</text>
<rect x="38.5" y="332.4" width="73.9" height="75" fill="#fff" stroke="#222" stroke-width="1" />
<rect x="115.3" y="332.4" width="73" height="75" fill="#fff" stroke="#222" stroke-width="1" />
<path d="M41.8 386.0C41.8 383.1 42.9 380.6 43.0 377.9C43.1 375.2 42.4 372.4 42.4 369.7C42.4 367.0 42.5 364.0 43.0 361.5C43.5 359.0 44.1 356.8 45.3 354.5C46.5 352.2 48.2 349.2 50.0 347.5C51.8 345.8 53.9 345.4 55.9 344.0C57.9 342.6 59.6 340.7 61.7 339.3C63.8 337.9 66.4 336.6 68.7 335.8C71.0 335.0 73.0 334.8 75.7 334.7C78.4 334.6 82.5 334.6 85.0 335.3C87.5 336.0 89.3 337.6 90.9 338.8C92.5 340.0 93.5 341.0 94.4 342.3C95.3 343.6 95.5 345.0 96.1 346.4C96.7 347.8 97.0 349.1 97.9 350.4C98.8 351.7 100.0 352.9 101.4 354.0C102.8 355.1 104.8 355.6 106.1 356.9C107.4 358.1 108.4 359.8 109.0 361.5C109.6 363.2 109.9 365.5 109.6 367.4C109.3 369.2 108.4 371.2 107.2 372.6C106.0 374.0 104.3 374.9 102.6 375.5C100.8 376.1 98.2 376.4 96.7 376.1C95.2 375.8 94.6 374.8 93.8 373.8C93.0 372.8 92.8 371.3 92.1 370.3C91.4 369.3 89.5 368.5 89.7 368.0C89.9 367.5 92.0 367.9 93.2 367.4C94.4 366.9 95.7 366.2 96.7 365.0C97.7 363.8 98.7 361.8 99.1 360.4C99.5 359.0 99.5 358.0 99.1 356.9C98.7 355.8 97.4 355.0 96.7 353.9C96.0 352.8 95.6 351.6 95.0 350.4C94.4 349.1 94.0 347.7 93.2 346.4C92.4 345.1 91.7 343.7 90.3 342.8C88.9 341.9 87.2 341.3 85.0 341.1C82.8 340.9 79.6 341.0 76.9 341.4C74.2 341.8 70.9 342.3 68.7 343.3C66.5 344.3 65.4 345.8 64.0 347.5C62.6 349.2 61.6 351.2 60.5 353.4C59.4 355.5 58.4 358.1 57.6 360.4C56.8 362.7 56.4 365.0 55.9 367.4C55.4 369.8 53.9 373.1 54.5 375.0C55.1 376.9 57.9 377.2 59.4 379.0C60.9 380.8 62.6 383.6 63.5 386.0C64.3 388.4 64.7 390.8 64.5 393.1C64.3 395.4 63.5 397.9 62.5 400.0C61.5 402.1 60.1 405.1 58.2 405.9C56.3 406.7 53.2 405.7 51.2 404.7C49.2 403.7 47.9 401.7 46.5 400.1C45.1 398.6 43.8 397.8 43.0 395.4C42.2 393.0 41.8 388.9 41.8 386.0Z" fill="#F38221"/>
<path d="M54.9 380.9h0M51.0 370.5h0M50.5 390.7h0M78.4 338.2h0M99.7 358.2h0M60.6 391.3h0M102.9 374.8h0M45.9 376.9h0M48.9 375.7h0M47.0 354.9h0M68.3 342.8h0M56.2 384.1h0M106.8 366.5h0M59.6 390.4h0M50.5 363.9h0M74.0 335.7h0M47.6 384.2h0M64.7 344.8h0M44.8 388.8h0M49.4 378.9h0M101.0 356.6h0M64.2 346.9h0M51.2 349.0h0M80.3 339.3h0M58.5 380.9h0M49.5 359.9h0M56.5 403.8h0M77.0 339.0h0M99.0 353.5h0M92.4 369.0h0M89.9 341.9h0M55.4 367.3h0M48.2 376.0h0M105.4 373.5h0M53.7 356.5h0M104.6 364.6h0M46.8 354.8h0M54.2 368.0h0M53.7 374.9h0M53.9 372.6h0M60.5 344.1h0M50.5 374.8h0M88.6 339.5h0M59.2 346.4h0M50.0 386.3h0M61.2 343.5h0M53.8 360.7h0M46.3 394.4h0M47.1 365.0h0M48.9 378.7h0M103.9 364.0h0M105.2 357.7h0M53.4 387.3h0M51.1 399.5h0M100.2 363.7h0M96.2 366.8h0M98.0 371.8h0M47.3 390.3h0M55.6 376.1h0M83.0 337.6h0M54.1 399.5h0M51.1 390.3h0M85.6 338.7h0M71.1 338.6h0M90.2 342.4h0M52.3 397.6h0M55.2 348.0h0M45.9 375.1h0M46.5 363.4h0M53.0 390.2h0M47.0 367.7h0M51.1 354.5h0M61.4 390.7h0M52.5 362.0h0M50.2 384.1h0M49.9 372.2h0M44.7 359.5h0M55.8 361.8h0M55.1 358.6h0M64.4 344.0h0M44.3 366.7h0M48.8 355.5h0M51.7 388.1h0M49.5 370.5h0M45.6 363.2h0M52.9 380.1h0M70.6 337.5h0M44.5 357.5h0M50.4 386.8h0M51.5 358.2h0M90.9 340.6h0M56.3 401.7h0M48.8 369.2h0M47.7 393.3h0M53.1 399.5h0M95.6 372.7h0M59.1 381.9h0M93.7 368.5h0M51.9 392.6h0M44.4 396.8h0M103.5 363.1h0M46.9 359.5h0M49.9 385.7h0M48.0 399.4h0M48.3 368.8h0M90.7 339.3h0M51.2 366.2h0M56.4 362.9h0M44.7 389.3h0M46.1 373.1h0M58.5 394.0h0M66.1 341.7h0M63.5 347.5h0M48.7 386.9h0M54.0 366.8h0M46.0 387.6h0M65.0 339.2h0M58.3 385.1h0M100.3 354.4h0M78.9 336.6h0M50.4 387.1h0M47.5 357.2h0M61.2 345.4h0M59.6 343.4h0M60.7 393.8h0M51.0 348.7h0M47.7 355.7h0M49.2 380.3h0M87.4 340.3h0M56.0 357.0h0M53.2 352.7h0M47.8 376.8h0M102.1 358.5h0M58.7 378.6h0M51.3 381.4h0M47.0 369.9h0M47.9 366.8h0M56.7 351.0h0M54.7 391.9h0M95.2 348.7h0M59.6 392.8h0M94.2 343.4h0M60.9 399.8h0M75.4 335.3h0M109.2 363.8h0M95.4 373.6h0M44.5 359.0h0M101.0 360.4h0M57.4 405.4h0M44.8 362.4h0M43.8 383.7h0M54.5 381.7h0M62.5 339.6h0M97.5 376.0h0M99.0 368.1h0M80.0 336.1h0M104.7 363.5h0M58.7 390.5h0M48.0 363.3h0M100.7 362.6h0M52.9 367.4h0M106.3 369.2h0M49.1 375.7h0M49.1 360.6h0M57.8 403.8h0M95.9 349.8h0M45.4 362.7h0M45.9 388.9h0M64.8 339.4h0M56.6 399.1h0M51.4 346.8h0M101.8 355.1h0M44.1 377.2h0M60.8 383.6h0M92.0 369.0h0M49.7 393.6h0M47.8 374.9h0M61.8 351.0h0M54.9 396.7h0M53.2 399.8h0M65.9 342.1h0M79.7 339.3h0M46.4 359.8h0M102.2 373.5h0M49.2 395.6h0M49.5 389.0h0M52.9 348.7h0M48.7 358.9h0M52.5 377.5h0M50.5 384.9h0M47.0 397.0h0M105.0 366.8h0M88.6 340.1h0M57.0 396.8h0M61.6 341.3h0M68.6 341.9h0M53.6 405.0h0M48.8 388.1h0M61.1 341.7h0M62.3 390.1h0M57.2 346.9h0M48.8 370.7h0M54.0 383.7h0M104.6 373.8h0M58.9 350.2h0M92.6 342.9h0M51.6 362.1h0M63.9 393.1h0M109.3 364.3h0M97.1 375.6h0M86.0 338.8h0M50.4 400.1h0M45.0 378.9h0M49.0 356.5h0M97.1 351.0h0M98.5 369.8h0M106.7 366.6h0M70.4 342.5h0M44.9 362.5h0M43.0 376.9h0M83.7 339.3h0M48.8 376.8h0M102.3 358.2h0M52.1 388.7h0M49.7 392.8h0M102.3 364.9h0M50.6 363.5h0M49.6 379.6h0M45.6 354.1h0M44.8 370.7h0M87.8 340.4h0M82.5 336.7h0M48.0 398.4h0M44.5 387.3h0M47.8 362.0h0M53.5 363.6h0M56.9 388.9h0M50.5 394.8h0M53.6 374.8h0M43.6 371.3h0M54.2 388.7h0M46.4 371.8h0M79.4 335.4h0M104.8 365.4h0M49.5 370.1h0M51.8 355.6h0M53.7 395.4h0M104.9 364.8h0M54.4 393.6h0M43.8 379.2h0M47.8 370.5h0M58.2 390.8h0M51.6 403.4h0M46.5 381.5h0M68.1 341.2h0M50.0 363.1h0M51.4 372.3h0M102.5 367.2h0M104.6 366.9h0M42.8 390.7h0" stroke="#ffffff" stroke-width="0.9" stroke-linecap="round" fill="none" opacity="0.75"/>
<path d="M98.2 352.3h0M96.8 353.6h0M109.5 367.0h0M99.0 352.0h0M96.8 350.0h0M108.8 366.9h0M94.1 368.9h0M99.1 355.5h0M103.3 361.7h0M98.5 373.4h0M100.3 371.5h0M105.3 357.9h0M97.7 365.4h0M108.1 364.7h0M105.8 361.1h0M99.2 352.0h0M107.7 361.4h0M107.1 363.8h0M103.4 365.9h0M104.3 370.9h0M96.1 371.4h0M103.8 371.1h0M102.1 361.1h0M99.8 374.2h0M97.3 363.8h0M98.8 362.8h0M108.2 369.5h0M101.5 354.7h0M103.2 363.5h0M97.5 363.7h0M105.6 364.2h0M101.3 365.2h0M102.5 368.2h0M102.3 374.0h0M96.7 371.1h0M100.4 374.2h0M104.4 374.1h0M101.1 355.5h0M103.7 368.7h0M109.3 366.0h0M106.3 372.0h0M95.6 371.8h0M103.6 359.0h0M103.5 371.3h0M99.7 364.5h0M107.2 362.6h0M100.4 365.9h0M104.2 356.3h0M108.6 365.2h0M101.8 359.3h0M103.7 369.2h0M99.3 370.4h0M100.2 355.6h0M99.0 351.9h0M98.3 353.8h0M99.0 353.5h0M106.2 370.6h0M100.9 369.8h0M108.3 364.5h0M101.0 373.6h0M94.3 368.7h0M105.4 370.5h0M100.4 364.6h0M105.9 369.9h0M99.8 363.3h0M98.3 369.7h0M100.8 361.4h0M100.9 369.0h0M99.6 366.4h0M108.8 367.5h0M104.4 370.7h0M94.0 369.6h0M97.2 353.5h0M108.7 362.1h0M104.6 368.1h0M99.1 366.4h0M105.4 364.3h0M98.6 361.4h0M107.6 363.2h0M104.4 363.7h0M107.0 371.5h0M103.3 361.8h0M96.5 366.9h0M107.3 360.2h0M103.8 366.1h0M101.2 354.1h0M106.6 363.5h0M106.9 365.9h0M104.6 363.8h0M100.4 366.6h0" stroke="#ffffff" stroke-width="1.0" stroke-linecap="round" fill="none" opacity="0.8"/>
<path d="M118.6 386.0C118.6 383.1 119.7 380.6 119.8 377.9C119.9 375.2 119.2 372.4 119.2 369.7C119.2 367.0 119.3 364.0 119.8 361.5C120.3 359.0 120.9 356.8 122.1 354.5C123.3 352.2 125.0 349.2 126.8 347.5C128.6 345.8 130.8 345.4 132.7 344.0C134.6 342.6 136.4 340.7 138.5 339.3C140.6 337.9 143.2 336.6 145.5 335.8C147.8 335.0 149.8 334.8 152.5 334.7C155.2 334.6 159.3 334.6 161.8 335.3C164.3 336.0 166.1 337.6 167.7 338.8C169.3 340.0 170.3 341.0 171.2 342.3C172.1 343.6 172.3 345.0 172.9 346.4C173.5 347.8 173.8 349.1 174.7 350.4C175.6 351.7 176.8 352.9 178.2 354.0C179.6 355.1 181.6 355.6 182.9 356.9C184.2 358.1 185.2 359.8 185.8 361.5C186.4 363.2 187.1 365.5 186.4 367.4C185.7 369.2 183.1 371.2 181.5 372.6C179.9 374.0 178.6 374.9 176.9 375.5C175.1 376.1 172.5 376.4 171.0 376.1C169.5 375.8 168.4 374.8 168.1 373.8C167.8 372.8 169.2 371.3 168.9 370.3C168.6 369.3 166.3 368.5 166.5 368.0C166.7 367.5 168.8 367.9 170.0 367.4C171.2 366.9 172.5 366.2 173.5 365.0C174.5 363.8 175.5 361.8 175.9 360.4C176.3 359.0 176.3 358.0 175.9 356.9C175.5 355.8 174.2 355.0 173.5 353.9C172.8 352.8 172.4 351.6 171.8 350.4C171.2 349.1 170.8 347.7 170.0 346.4C169.2 345.1 168.5 343.7 167.1 342.8C165.7 341.9 164.0 341.3 161.8 341.1C159.6 340.9 156.4 341.0 153.7 341.4C151.0 341.8 147.7 342.3 145.5 343.3C143.3 344.3 142.2 345.8 140.8 347.5C139.4 349.2 138.4 351.2 137.3 353.4C136.2 355.5 135.2 358.1 134.4 360.4C133.6 362.7 133.6 365.0 132.7 367.4C131.8 369.8 128.6 373.1 128.8 375.0C129.0 376.9 132.2 377.2 133.7 379.0C135.2 380.8 137.0 383.6 137.8 386.0C138.7 388.4 139.0 390.8 138.8 393.1C138.6 395.4 137.9 397.9 136.8 400.0C135.8 402.1 134.0 405.1 132.5 405.9C131.0 406.7 129.5 405.7 128.0 404.7C126.5 403.7 124.7 401.7 123.3 400.1C121.9 398.6 120.6 397.8 119.8 395.4C119.0 393.0 118.6 388.9 118.6 386.0Z" fill="#17807D"/>
<path d="M129.7 385.2h0M144.3 340.2h0M127.3 355.5h0M124.4 371.6h0M140.9 347.3h0M127.2 368.8h0M133.9 395.8h0M126.2 350.9h0M177.6 370.5h0M121.9 395.8h0M176.9 358.0h0M160.3 338.0h0M130.6 405.2h0M124.6 352.6h0M131.7 363.7h0M126.4 357.2h0M130.5 354.6h0M128.5 383.1h0M126.4 394.3h0M121.7 365.7h0M181.3 357.2h0M142.0 338.2h0M172.9 350.2h0M130.5 387.7h0M174.6 365.8h0M124.5 371.1h0M122.8 360.7h0M128.1 371.9h0M123.8 390.1h0M120.4 389.1h0M128.6 367.8h0M143.9 337.1h0M119.6 393.5h0M129.8 378.2h0M158.8 337.8h0M181.3 367.8h0M120.7 388.9h0M142.4 343.0h0M135.7 395.9h0M124.2 368.5h0M129.9 403.4h0M163.0 337.5h0M140.3 344.2h0M127.6 358.9h0M133.1 350.3h0M120.7 375.6h0M162.9 337.1h0M126.8 368.0h0M161.8 337.4h0M153.8 337.9h0M144.2 338.6h0M147.0 335.7h0M132.0 364.1h0M135.4 394.4h0M133.0 403.4h0M129.2 400.0h0M127.7 383.7h0M135.2 357.2h0M171.5 372.9h0M128.0 381.1h0M128.2 394.1h0M125.4 372.3h0M163.3 339.3h0M131.2 355.3h0M167.1 340.2h0M160.8 337.6h0M172.4 350.2h0M170.0 342.5h0M132.4 381.5h0M161.3 338.3h0M120.6 371.4h0M160.5 335.7h0M180.5 361.1h0M170.2 368.3h0M161.2 338.0h0M168.6 373.0h0M172.4 349.2h0M168.8 372.3h0M125.0 367.0h0M123.2 398.5h0M133.1 347.6h0M184.0 369.3h0M159.6 340.7h0M128.0 368.0h0M138.1 393.5h0M126.9 369.9h0M145.9 342.7h0M125.6 351.7h0M180.8 366.5h0M160.1 339.5h0M137.3 351.2h0M128.9 377.4h0M138.6 350.3h0M121.9 393.8h0M123.3 390.2h0M164.4 341.7h0M132.0 363.3h0M136.0 388.2h0M123.9 354.3h0M133.1 364.1h0M126.6 371.0h0M182.9 369.0h0M124.5 389.6h0M125.0 387.5h0M138.5 345.0h0M128.8 390.8h0M120.3 393.9h0M124.3 382.5h0M137.7 393.9h0M155.3 335.4h0M154.5 335.3h0M174.0 368.0h0M171.1 366.9h0M131.3 382.8h0M179.5 368.3h0M124.6 357.8h0M122.1 388.2h0M177.4 369.7h0M125.9 362.7h0M141.4 343.9h0M176.3 359.4h0M127.1 366.5h0M131.1 367.1h0M181.5 362.6h0M132.1 387.1h0M174.0 353.0h0M163.7 339.1h0M127.9 401.4h0M176.9 367.3h0M125.0 375.0h0M130.6 398.2h0M128.3 348.8h0M169.5 371.4h0M121.6 362.4h0M156.9 337.0h0M129.9 366.8h0M168.4 341.6h0M134.0 350.8h0M143.4 340.7h0M138.1 391.8h0M124.0 393.7h0M179.3 366.7h0M129.0 383.5h0M129.5 403.1h0M176.9 368.2h0M179.9 366.1h0M121.0 363.9h0M127.3 354.5h0M120.5 376.5h0M181.1 363.3h0M173.0 371.3h0M154.3 340.9h0M131.3 385.9h0M127.5 377.9h0M126.4 373.8h0M162.3 336.5h0M120.6 364.1h0M128.9 363.8h0M126.3 394.4h0M131.0 399.4h0M137.8 391.7h0M167.4 367.9h0M132.5 357.4h0M127.9 380.3h0M136.7 342.3h0M128.4 394.5h0M128.7 367.4h0M124.3 374.4h0M133.2 364.5h0M175.7 366.1h0M179.8 364.6h0M134.2 352.0h0M181.6 357.3h0M170.5 373.1h0M120.5 390.8h0M123.8 381.3h0M131.9 392.7h0M129.9 355.6h0M123.0 360.6h0M168.7 373.0h0M125.3 353.9h0M182.7 358.0h0M145.0 337.2h0M173.2 371.7h0M132.3 366.0h0M164.6 338.9h0M142.7 345.3h0M124.2 378.7h0M147.5 340.6h0M122.7 369.0h0M123.4 367.1h0M182.4 356.9h0M157.5 340.6h0M123.4 361.5h0M132.3 399.2h0M120.6 384.1h0M127.5 393.6h0M129.1 380.5h0M169.7 368.3h0M164.1 339.9h0M138.9 345.3h0M133.7 385.3h0M135.3 391.2h0M122.1 398.3h0M127.5 363.8h0M182.1 368.8h0M131.7 367.9h0M176.0 368.6h0M152.6 339.4h0M185.7 364.9h0M120.3 369.2h0M168.9 344.0h0M144.9 339.7h0M169.5 368.8h0M156.0 341.0h0M120.8 393.7h0M137.4 387.4h0M128.3 366.7h0M146.8 340.4h0M119.7 379.0h0M168.6 340.1h0M171.2 342.7h0M128.4 386.3h0M181.3 362.2h0M168.3 343.8h0M136.7 388.8h0M126.9 348.1h0M150.5 341.9h0M176.5 363.8h0M148.8 339.7h0M147.4 339.3h0M134.2 348.5h0M126.3 373.9h0M135.6 346.4h0M134.1 392.9h0M130.7 346.8h0M182.1 363.8h0M166.7 340.4h0M127.7 363.2h0M125.2 400.9h0M140.0 342.9h0M122.8 362.4h0M137.1 394.3h0M119.2 384.2h0M127.5 349.7h0M123.9 373.2h0M176.9 373.6h0M124.6 351.5h0M123.9 360.9h0M152.4 339.9h0M134.0 347.8h0M172.8 371.1h0M183.3 358.2h0M120.4 383.8h0M151.5 339.9h0M122.7 364.2h0M134.7 350.7h0M137.5 393.9h0M145.4 340.8h0M136.9 353.9h0M129.2 404.0h0M170.7 371.4h0M178.9 360.5h0M184.9 366.7h0M177.0 359.7h0M129.3 396.6h0M152.4 339.9h0M165.5 338.7h0M174.4 365.1h0M129.9 364.3h0M181.9 356.6h0M137.0 343.6h0M126.5 385.3h0M128.1 373.6h0M144.5 338.6h0M127.1 400.7h0M128.5 396.7h0M184.4 367.9h0M133.6 396.4h0M184.2 363.1h0M135.4 395.0h0M127.1 373.9h0M131.8 389.9h0M126.8 376.4h0M134.1 392.9h0M126.1 357.2h0M120.6 392.0h0M127.1 376.8h0M123.1 391.2h0M121.9 355.2h0M177.2 363.9h0M124.1 381.4h0M121.5 391.3h0M172.3 370.4h0M128.7 354.3h0M126.6 357.7h0M129.7 404.7h0M129.1 379.9h0M121.3 357.3h0M176.7 372.9h0M137.0 342.7h0M121.0 383.5h0M131.1 399.4h0M165.7 338.5h0M130.4 381.1h0M128.5 386.3h0M136.0 395.8h0M159.7 338.9h0M180.0 370.5h0M128.4 367.2h0M135.8 388.5h0M141.5 342.2h0M135.9 388.4h0M146.4 339.5h0M128.7 387.0h0M134.7 352.7h0M181.0 355.8h0M178.9 354.7h0M162.4 338.6h0M119.9 366.2h0M145.8 342.2h0M136.3 397.8h0M131.2 392.3h0M133.2 396.5h0M182.1 368.8h0M134.7 402.2h0M127.5 374.3h0M127.6 373.8h0M177.3 357.8h0M126.4 361.4h0M133.5 348.4h0M121.6 356.6h0M121.3 372.0h0M122.1 376.8h0M119.6 384.5h0M121.8 358.3h0M135.8 357.0h0M124.5 394.3h0M121.6 357.0h0M125.4 371.6h0M129.3 358.5h0M131.6 363.5h0M134.5 381.3h0M148.8 340.6h0M119.6 370.7h0M164.5 339.2h0M132.4 360.6h0M164.4 339.8h0M145.5 339.4h0M166.1 340.6h0M128.9 384.5h0M181.9 358.5h0M130.9 380.2h0M129.4 346.1h0M175.2 372.5h0M139.5 345.2h0M127.2 379.1h0M136.2 347.6h0M128.9 359.7h0M132.6 351.6h0M159.6 335.6h0M135.9 395.0h0M124.5 397.4h0M156.0 335.5h0M125.7 362.0h0M182.0 366.1h0M133.3 403.6h0M123.0 382.3h0M174.1 349.7h0M132.7 401.0h0M127.9 391.8h0M184.6 367.6h0M146.5 340.2h0M132.2 385.2h0M121.9 376.5h0M121.7 386.4h0M121.4 373.2h0M173.9 374.3h0M180.1 364.3h0M174.4 354.2h0M173.2 365.9h0M131.7 354.4h0M124.7 383.8h0M125.4 399.8h0M133.2 354.1h0M128.6 357.1h0M129.6 353.6h0M133.4 398.5h0M124.2 361.9h0M122.4 358.3h0M129.7 394.3h0M173.6 366.0h0M177.2 353.6h0M149.1 340.4h0M122.7 378.4h0M132.6 392.8h0M123.7 358.7h0M157.1 340.0h0M136.4 384.7h0M174.6 366.5h0M131.9 347.2h0M133.6 347.5h0M128.0 368.7h0M178.2 361.9h0M176.6 374.9h0M126.7 367.0h0M174.7 371.0h0M125.9 364.0h0M132.1 379.2h0M124.1 385.3h0M130.7 401.5h0M145.6 339.8h0M175.5 375.6h0M130.9 347.1h0M135.6 356.0h0M175.7 374.9h0M119.5 369.9h0M133.8 346.6h0M119.5 386.3h0M130.6 383.6h0" stroke="#ffffff" stroke-width="0.9" stroke-linecap="round" fill="none" opacity="0.75"/>
<path d="M173.7 352.8h0M170.4 369.5h0M175.4 371.7h0M170.4 375.4h0M170.7 368.5h0M184.6 367.1h0M182.2 368.4h0M170.7 371.7h0M175.0 353.6h0M175.0 369.1h0M174.8 373.9h0M178.4 372.9h0M183.5 365.3h0M177.1 366.1h0M181.5 364.7h0M173.1 366.3h0M182.8 369.4h0M179.0 356.4h0M177.7 370.8h0M172.7 369.6h0M185.7 367.6h0M171.9 373.1h0M175.7 374.9h0M183.7 362.8h0M177.1 354.9h0M177.1 362.9h0M180.4 369.1h0M175.1 369.0h0M174.3 370.2h0M178.5 360.8h0M173.0 373.9h0M174.1 370.2h0M177.4 361.8h0M178.2 371.1h0M175.8 367.9h0M171.8 368.2h0M179.2 358.1h0M177.8 358.0h0M170.4 367.4h0M179.7 359.6h0M173.0 367.1h0M184.2 367.7h0M177.3 375.1h0M175.5 362.1h0M173.1 370.0h0M185.4 365.6h0M175.5 371.6h0M178.7 366.6h0M178.2 366.3h0M177.8 368.9h0M169.2 369.4h0M180.9 364.2h0M170.0 371.9h0M176.9 367.0h0M185.0 361.3h0M181.8 356.8h0M178.3 357.1h0M169.3 373.5h0M183.7 358.3h0M177.6 356.5h0M174.6 363.3h0M180.8 362.7h0M179.9 361.0h0M183.1 357.5h0M182.5 363.8h0M178.9 354.9h0M174.8 370.6h0M171.3 368.6h0M176.8 359.4h0M182.1 360.2h0M180.1 368.9h0M180.2 363.8h0M172.9 375.7h0M182.0 358.0h0M173.4 371.9h0M169.1 370.1h0M174.5 375.2h0M177.1 373.0h0M181.4 363.5h0M173.3 365.8h0M175.7 368.6h0M181.1 372.8h0M179.4 368.9h0M173.7 367.7h0M177.5 365.7h0M171.4 369.2h0M170.1 374.0h0M175.7 374.7h0M177.1 375.3h0M170.1 375.0h0" stroke="#ffffff" stroke-width="1.0" stroke-linecap="round" fill="none" opacity="0.8"/>
<path d="M42.4 396.2h0M41.7 394.7h0M42.5 395.8h0M42.1 387.7h0M42.6 385.9h0M40.9 386.7h0M42.2 377.8h0M42.7 378.6h0M42.7 377.3h0M43.1 368.4h0M42.7 369.6h0M43.6 369.1h0M43.1 361.7h0M42.6 360.9h0M42.7 361.6h0M44.6 354.0h0M44.5 353.6h0M44.6 353.1h0M50.5 347.6h0M49.8 348.5h0M50.5 347.6h0M54.4 343.8h0M55.1 342.9h0M55.7 345.1h0M62.5 340.4h0M61.9 338.3h0M62.1 340.1h0M67.5 335.0h0M68.1 335.2h0M67.5 335.8h0M76.7 335.8h0M77.5 333.6h0M76.1 335.4h0M84.4 335.0h0M85.2 334.5h0M85.2 334.0h0M90.4 338.1h0M90.7 339.8h0M89.9 339.3h0M96.1 342.0h0M94.6 341.3h0M93.9 341.2h0M95.3 345.6h0M97.9 346.6h0M96.2 346.4h0M97.4 349.9h0M97.6 349.9h0M98.6 349.9h0M101.3 353.2h0M100.4 353.9h0M104.2 353.8h0M106.2 357.8h0M105.9 355.5h0M105.4 357.6h0M107.8 363.3h0M108.0 362.6h0M108.9 361.1h0M110.3 366.5h0M108.4 367.2h0M109.3 367.2h0M108.1 372.6h0M106.0 372.1h0M105.1 371.9h0M101.2 375.2h0M104.0 376.4h0M101.6 375.0h0M98.7 375.2h0M97.5 375.4h0M97.4 376.7h0M92.8 375.2h0M92.7 375.5h0M94.7 374.4h0M91.9 370.7h0M90.8 370.0h0M91.7 371.0h0M89.1 367.8h0M89.7 368.8h0M91.7 367.4h0M95.2 367.8h0M94.6 366.1h0M93.7 368.6h0M96.7 364.3h0M96.8 364.7h0M96.3 364.9h0M99.5 360.1h0M98.7 362.4h0M97.6 360.8h0M101.0 358.3h0M99.2 357.0h0M97.5 356.5h0M96.3 354.6h0M95.3 353.4h0M97.4 353.3h0M96.3 351.7h0M95.8 349.4h0M95.0 349.6h0M93.5 345.8h0M94.0 346.9h0M93.7 345.5h0M90.0 343.8h0M90.6 342.0h0M90.5 343.7h0M85.3 341.6h0M84.6 341.7h0M85.2 340.0h0M77.4 340.0h0M77.5 340.4h0M75.3 343.3h0M68.5 343.4h0M69.3 342.9h0M66.6 344.2h0M62.8 347.5h0M65.0 346.4h0M63.3 346.4h0M59.7 353.7h0M61.5 353.0h0M60.6 353.9h0M58.8 359.4h0M57.9 362.1h0M56.9 359.2h0M55.5 368.1h0M53.5 366.6h0M55.3 368.7h0M55.3 375.7h0M54.7 375.6h0M56.2 374.2h0M58.5 379.7h0M59.4 379.4h0M59.2 378.5h0M64.0 386.3h0M63.9 386.0h0M62.5 385.7h0M66.1 391.9h0M64.9 393.2h0M64.6 393.0h0M62.7 400.6h0M61.8 401.1h0M63.5 399.9h0M59.8 404.7h0M57.1 407.1h0M59.2 406.5h0M53.3 404.7h0M51.1 404.6h0M53.2 403.9h0M46.1 399.8h0M46.2 399.1h0M46.4 400.2h0" stroke="#F38221" stroke-width="1.0" stroke-linecap="round" fill="none" opacity="1"/>
<path d="M119.8 394.8h0M119.1 394.5h0M120.5 395.4h0M118.0 385.4h0M117.6 386.9h0M119.2 385.1h0M119.3 378.2h0M120.7 377.4h0M121.2 378.1h0M119.6 369.7h0M120.4 370.1h0M119.3 369.3h0M120.4 362.2h0M118.6 360.7h0M119.3 361.8h0M122.9 356.3h0M121.6 353.0h0M121.5 353.1h0M126.3 349.3h0M127.1 348.8h0M126.2 348.1h0M131.6 344.4h0M133.2 343.0h0M133.4 343.9h0M138.5 338.6h0M137.7 338.5h0M139.5 338.2h0M144.7 335.0h0M143.3 336.3h0M143.8 337.2h0M152.9 334.5h0M154.3 335.2h0M153.2 334.4h0M161.8 334.5h0M160.0 335.7h0M162.3 335.4h0M168.4 338.6h0M167.6 337.6h0M166.6 338.5h0M172.5 342.3h0M172.6 342.0h0M171.6 342.8h0M173.3 345.8h0M170.6 348.0h0M173.2 347.3h0M176.2 349.7h0M174.8 351.2h0M173.3 349.6h0M178.6 353.7h0M177.4 356.1h0M177.5 352.6h0M181.9 357.6h0M183.6 356.2h0M183.4 356.2h0M187.3 361.6h0M186.2 362.8h0M185.8 363.5h0M186.8 366.9h0M186.0 366.0h0M187.5 368.1h0M182.3 371.5h0M181.7 373.0h0M180.9 372.1h0M176.7 375.1h0M176.9 376.4h0M177.7 375.4h0M169.9 377.4h0M171.2 377.0h0M169.5 377.5h0M168.5 375.2h0M168.3 373.5h0M168.2 373.4h0M169.5 370.2h0M168.0 369.4h0M169.3 370.3h0M166.5 367.6h0M167.9 367.5h0M166.6 369.1h0M170.8 367.2h0M170.0 365.7h0M172.2 365.4h0M174.0 365.2h0M173.5 365.4h0M175.3 365.5h0M176.0 359.3h0M177.0 360.1h0M176.2 359.5h0M175.4 356.6h0M175.9 356.7h0M175.0 357.9h0M174.8 352.7h0M174.0 354.6h0M173.9 352.8h0M171.3 350.9h0M171.2 349.3h0M170.9 351.1h0M170.1 346.3h0M169.8 346.9h0M169.0 345.7h0M167.8 343.2h0M166.5 341.6h0M167.6 342.3h0M162.7 342.4h0M160.7 342.1h0M161.3 340.6h0M154.0 341.5h0M153.6 341.2h0M152.5 341.4h0M145.4 344.1h0M146.2 343.3h0M146.2 343.9h0M140.3 347.8h0M141.3 347.5h0M141.6 347.4h0M137.0 352.5h0M136.5 352.7h0M136.3 354.5h0M134.6 360.0h0M135.4 360.0h0M133.5 359.4h0M132.1 368.7h0M132.3 366.6h0M131.8 367.7h0M129.0 374.4h0M128.2 374.7h0M129.5 375.0h0M134.6 379.6h0M134.2 378.7h0M134.0 381.3h0M136.6 384.0h0M136.4 385.5h0M136.4 385.6h0M140.5 393.3h0M138.1 393.4h0M139.7 392.0h0M136.8 399.4h0M137.0 398.3h0M135.6 401.0h0M131.9 406.4h0M130.5 407.1h0M132.7 405.8h0M127.8 406.7h0M128.2 405.3h0M127.6 405.6h0M123.3 399.9h0M122.3 401.5h0M124.8 399.1h0" stroke="#17807D" stroke-width="1.0" stroke-linecap="round" fill="none" opacity="1"/>
<text x="0" y="0" transform="translate(29.2 387) rotate(-90)" font-size="14" textLength="54.6" lengthAdjust="spacingAndGlyphs" >UMAP_2</text>
<path d="M23.4 397.5V414.1H44.9" fill="none" stroke="#111" stroke-width="1.15"/>
<path d="M23.4 391.4L19.8 398L27 398Z" fill="#111"/>
<path d="M51 414.1L44.4 410.5L44.4 417.7Z" fill="#111"/>
<text x="55.5" y="419.3" font-size="14" textLength="55.5" lengthAdjust="spacingAndGlyphs">UMAP_1</text>
<text x="191.5" y="339.3" font-size="14" textLength="98.4" lengthAdjust="spacingAndGlyphs">N1 Total = 1049</text>
<path d="M246.20 383.00L246.20 352.30A30.70 30.70 0 0 1 254.29 412.62Z" fill="#17807D"/>
<path d="M246.20 383.00L254.29 412.62A30.70 30.70 0 1 1 246.20 352.30Z" fill="#F38221"/>
<circle cx="246.2" cy="383" r="30.7" fill="none" stroke="#9DB05A" stroke-width="0.8"/>
<text x="247.5" y="383" font-size="14" fill="#f4f4f4" textLength="23.7" lengthAdjust="spacingAndGlyphs">480</text>
<text x="222.7" y="399" font-size="14" textLength="23.3" lengthAdjust="spacingAndGlyphs">569</text>
<text x="298.6" y="339.3" font-size="14" textLength="98.4" lengthAdjust="spacingAndGlyphs">N2 Total = 1928</text>
<path d="M350.90 382.70L350.90 352.10A30.60 30.60 0 0 1 356.65 412.75Z" fill="#17807D"/>
<path d="M350.90 382.70L356.65 412.75A30.60 30.60 0 1 1 350.90 352.10Z" fill="#F38221"/>
<circle cx="350.9" cy="382.7" r="30.6" fill="none" stroke="#9DB05A" stroke-width="0.8"/>
<text x="352" y="381.5" font-size="14" fill="#f4f4f4" textLength="24" lengthAdjust="spacingAndGlyphs">906</text>
<text x="322" y="399" font-size="14" textLength="30.6" lengthAdjust="spacingAndGlyphs">1022</text>
<text x="404.7" y="339.3" font-size="14" textLength="98.6" lengthAdjust="spacingAndGlyphs">N3 Total = 2805</text>
<path d="M456.90 383.70L456.90 352.70A31.00 31.00 0 0 1 470.86 411.38Z" fill="#17807D"/>
<path d="M456.90 383.70L470.86 411.38A31.00 31.00 0 1 1 456.90 352.70Z" fill="#F38221"/>
<circle cx="456.9" cy="383.7" r="31" fill="none" stroke="#9DB05A" stroke-width="0.8"/>
<text x="455" y="383.2" font-size="14" fill="#f4f4f4" textLength="31.6" lengthAdjust="spacingAndGlyphs">1194</text>
<text x="430" y="399.9" font-size="14" textLength="31.7" lengthAdjust="spacingAndGlyphs">1611</text>
<text x="512" y="339.3" font-size="14" textLength="98.6" lengthAdjust="spacingAndGlyphs">N4 Total = 2815</text>
<path d="M556.30 383.70L556.30 352.70A31.00 31.00 0 0 1 574.13 409.06Z" fill="#17807D"/>
<path d="M556.30 383.70L574.13 409.06A31.00 31.00 0 1 1 556.30 352.70Z" fill="#F38221"/>
<circle cx="556.3" cy="383.7" r="31" fill="none" stroke="#9DB05A" stroke-width="0.8"/>
<text x="555" y="383" font-size="14" fill="#f4f4f4" textLength="30.6" lengthAdjust="spacingAndGlyphs">1133</text>
<text x="529.5" y="399.9" font-size="14" textLength="32.9" lengthAdjust="spacingAndGlyphs">1682</text>
<rect x="611.9" y="376.7" width="20.6" height="7.8" fill="#17807D" />
<rect x="611.9" y="391.1" width="20.6" height="7.9" fill="#F38221" />
<text x="641.2" y="384.1" font-size="14" textLength="34.7" lengthAdjust="spacingAndGlyphs">Na&#239;ve</text>
<text x="641.2" y="398.6" font-size="14" textLength="38.1" lengthAdjust="spacingAndGlyphs">14 dpi</text>
<text x="591.7" y="419.6" font-size="14" textLength="86.8" lengthAdjust="spacingAndGlyphs">Bone Marrow</text>
<text x="10.5" y="456.8" font-size="17" font-weight="bold">f</text>
<rect x="156.6" y="451.1" width="64.3" height="4.9" fill="#EE7B6F" />
<rect x="221.9" y="451.1" width="96.7" height="4.9" fill="#EE7B6F" />
<rect x="319.6" y="451.1" width="170.7" height="4.9" fill="#EE7B6F" />
<rect x="490.3" y="451.1" width="1.7" height="4.9" fill="#35B04A" />
<rect x="493" y="451.1" width="64.3" height="4.9" fill="#EE7B6F" />
<rect x="557.3" y="451.1" width="17.9" height="4.9" fill="#35B04A" />
<rect x="156.6" y="459.2" width="64.3" height="4.8" fill="#EE7B6F" />
<rect x="221.9" y="459.2" width="96.7" height="4.8" fill="#7CB342" />
<rect x="319.6" y="459.2" width="172.4" height="4.8" fill="#2FBFC6" />
<rect x="493" y="459.2" width="82.2" height="4.8" fill="#9F78C0" />
<text x="576" y="455.6" font-size="5.5" fill="#222">orig.ident</text>
<text x="576" y="463.4" font-size="5.5" fill="#222">Identity (Identity)</text>
<text transform="translate(187.5 448.3) rotate(-45)" x="0" y="0" font-size="10.3" fill="#1a1a1a">14dpi</text>
<text transform="translate(220.8 448.3) rotate(-45)" x="0" y="0" font-size="10.3" fill="#1a1a1a">Naive</text>
<text transform="translate(270.1 448.3) rotate(-45)" x="0" y="0" font-size="10.3" fill="#1a1a1a">14dpi</text>
<text transform="translate(317.4 448.3) rotate(-45)" x="0" y="0" font-size="10.3" fill="#1a1a1a">Naive</text>
<text transform="translate(405.0 448.3) rotate(-45)" x="0" y="0" font-size="10.3" fill="#1a1a1a">14dpi</text>
<text transform="translate(489.5 448.3) rotate(-45)" x="0" y="0" font-size="10.3" fill="#1a1a1a">Naive</text>
<text transform="translate(524.8 448.3) rotate(-45)" x="0" y="0" font-size="10.3" fill="#1a1a1a">14dpi</text>
<text transform="translate(565.8 448.3) rotate(-45)" x="0" y="0" font-size="10.3" fill="#1a1a1a">Naive</text>
<path d="M156.6 467.30H221.4v7.85H156.6zM221.4 467.30H319.1v7.85H221.4zM319.1 467.30H492.5v7.85H319.1zM492.5 467.30H575.2v7.85H492.5zM156.6 475.15H221.4v7.85H156.6zM221.4 475.15H319.1v7.85H221.4zM319.1 475.15H492.5v7.85H319.1zM492.5 475.15H575.2v7.85H492.5zM319.1 545.80H492.5v7.85H319.1zM319.1 561.50H492.5v7.85H319.1zM319.1 569.35H492.5v7.85H319.1zM319.1 600.75H492.5v7.85H319.1zM492.5 608.60H575.2v7.85H492.5zM221.4 624.30H319.1v7.85H221.4zM319.1 624.30H492.5v7.85H319.1zM221.4 632.15H319.1v7.85H221.4z" fill="#f8f8f8"/>
<path d="M156.6 483.00H221.4v7.85H156.6zM221.4 483.00H319.1v7.85H221.4zM492.5 498.70H575.2v7.85H492.5z" fill="#e8f0f4"/>
<path d="M319.1 483.00H492.5v7.85H319.1zM492.5 483.00H575.2v7.85H492.5zM319.1 498.70H492.5v7.85H319.1zM221.4 553.65H319.1v7.85H221.4zM319.1 553.65H492.5v7.85H319.1zM156.6 624.30H221.4v7.85H156.6z" fill="#ecf0f4"/>
<path d="M156.6 490.85H221.4v7.85H156.6zM221.4 490.85H319.1v7.85H221.4zM221.4 506.55H319.1v7.85H221.4zM492.5 506.55H575.2v7.85H492.5zM221.4 514.40H319.1v7.85H221.4zM492.5 514.40H575.2v7.85H492.5zM221.4 522.25H319.1v7.85H221.4zM492.5 522.25H575.2v7.85H492.5zM221.4 600.75H319.1v7.85H221.4zM221.4 616.45H319.1v7.85H221.4zM221.4 640.00H319.1v7.85H221.4z" fill="#e4f0f4"/>
<path d="M319.1 490.85H492.5v7.85H319.1zM492.5 490.85H575.2v7.85H492.5zM319.1 506.55H492.5v7.85H319.1zM319.1 514.40H492.5v7.85H319.1zM319.1 522.25H492.5v7.85H319.1zM221.4 530.10H319.1v7.85H221.4zM492.5 530.10H575.2v7.85H492.5zM221.4 561.50H319.1v7.85H221.4zM221.4 592.90H319.1v7.85H221.4zM156.6 640.00H221.4v7.85H156.6zM319.1 663.55H492.5v7.85H319.1zM492.5 663.55H575.2v7.85H492.5z" fill="#e0ecf4"/>
<path d="M156.6 498.70H221.4v7.85H156.6zM492.5 624.30H575.2v7.85H492.5z" fill="#f8e4d8"/>
<path d="M221.4 498.70H319.1v7.85H221.4zM319.1 537.95H492.5v7.85H319.1zM156.6 553.65H221.4v7.85H156.6zM156.6 608.60H221.4v7.85H156.6zM221.4 608.60H319.1v7.85H221.4zM319.1 608.60H492.5v7.85H319.1zM319.1 640.00H492.5v7.85H319.1z" fill="#f0f4f8"/>
<path d="M156.6 506.55H221.4v7.85H156.6z" fill="#d04438"/>
<path d="M156.6 514.40H221.4v7.85H156.6zM156.6 522.25H221.4v7.85H156.6z" fill="#d8543c"/>
<path d="M156.6 530.10H221.4v7.85H156.6z" fill="#e87c44"/>
<path d="M319.1 530.10H492.5v7.85H319.1zM156.6 545.80H221.4v7.85H156.6zM156.6 561.50H221.4v7.85H156.6z" fill="#dce8f0"/>
<path d="M156.6 537.95H221.4v7.85H156.6zM492.5 553.65H575.2v7.85H492.5z" fill="#f8ccb0"/>
<path d="M221.4 537.95H319.1v7.85H221.4z" fill="#f8d4b8"/>
<path d="M492.5 537.95H575.2v7.85H492.5z" fill="#7cb4d8"/>
<path d="M221.4 545.80H319.1v7.85H221.4zM156.6 569.35H221.4v7.85H156.6z" fill="#c0d8ec"/>
<path d="M492.5 545.80H575.2v7.85H492.5z" fill="#f09858"/>
<path d="M492.5 561.50H575.2v7.85H492.5zM319.1 632.15H492.5v7.85H319.1z" fill="#f8ece4"/>
<path d="M221.4 569.35H319.1v7.85H221.4zM221.4 585.05H319.1v7.85H221.4zM156.6 592.90H221.4v7.85H156.6zM156.6 616.45H221.4v7.85H156.6z" fill="#d4e8f0"/>
<path d="M492.5 569.35H575.2v7.85H492.5z" fill="#f4a068"/>
<path d="M156.6 577.20H221.4v7.85H156.6z" fill="#bcd8e8"/>
<path d="M221.4 577.20H319.1v7.85H221.4zM156.6 647.85H221.4v7.85H156.6z" fill="#c8e0ec"/>
<path d="M319.1 577.20H492.5v7.85H319.1zM319.1 585.05H492.5v7.85H319.1z" fill="#f8f4f4"/>
<path d="M492.5 577.20H575.2v7.85H492.5zM492.5 585.05H575.2v7.85H492.5zM492.5 616.45H575.2v7.85H492.5z" fill="#f08c50"/>
<path d="M156.6 585.05H221.4v7.85H156.6z" fill="#cce0f0"/>
<path d="M319.1 592.90H492.5v7.85H319.1zM156.6 632.15H221.4v7.85H156.6z" fill="#f8f4f0"/>
<path d="M492.5 592.90H575.2v7.85H492.5zM492.5 640.00H575.2v7.85H492.5z" fill="#f8b488"/>
<path d="M156.6 600.75H221.4v7.85H156.6z" fill="#d8e8f0"/>
<path d="M492.5 600.75H575.2v7.85H492.5z" fill="#f8e0cc"/>
<path d="M319.1 616.45H492.5v7.85H319.1zM319.1 647.85H492.5v7.85H319.1z" fill="#f8f0e8"/>
<path d="M492.5 632.15H575.2v7.85H492.5z" fill="#90c0e0"/>
<path d="M221.4 647.85H319.1v7.85H221.4z" fill="#d0e4f0"/>
<path d="M492.5 647.85H575.2v7.85H492.5z" fill="#f8c8a8"/>
<path d="M156.6 655.70H221.4v7.85H156.6zM221.4 655.70H319.1v7.85H221.4zM319.1 655.70H492.5v7.85H319.1zM492.5 655.70H575.2v7.85H492.5zM156.6 671.40H221.4v7.85H156.6zM221.4 671.40H319.1v7.85H221.4zM319.1 671.40H492.5v7.85H319.1zM492.5 671.40H575.2v7.85H492.5zM156.6 679.25H221.4v7.85H156.6zM221.4 679.25H319.1v7.85H221.4zM319.1 679.25H492.5v7.85H319.1zM492.5 679.25H575.2v7.85H492.5zM156.6 687.10H221.4v7.85H156.6zM221.4 687.10H319.1v7.85H221.4zM319.1 687.10H492.5v7.85H319.1zM492.5 687.10H575.2v7.85H492.5z" fill="#f4f8f8"/>
<path d="M156.6 663.55H221.4v7.85H156.6z" fill="#e47040"/>
<path d="M221.4 663.55H319.1v7.85H221.4z" fill="#f8d8c4"/>
<path d="M322.5 467.3v7.85M480.5 483.0v7.85M159.5 498.7v7.85M213.5 498.7v7.85M281.5 498.7v7.85M292.5 655.7v7.85" stroke="#d06060" stroke-width="1.05" fill="none"/>
<path d="M337.5 467.3v7.85M573.5 483.0v7.85M158.5 679.2v7.85M191.5 687.1v7.85" stroke="#c04050" stroke-width="1.05" fill="none"/>
<path d="M408.5 467.3v7.85M397.5 679.2v7.85M458.5 679.2v7.85" stroke="#e0a8b0" stroke-width="1.05" fill="none"/>
<path d="M467.5 467.3v7.85M372.5 475.2v7.85M563.5 483.0v7.85M273.5 655.7v7.85M488.5 679.2v7.85" stroke="#e0a0a8" stroke-width="1.05" fill="none"/>
<path d="M243.5 475.2v7.85" stroke="#d86868" stroke-width="1.05" fill="none"/>
<path d="M259.5 475.2v7.85M570.5 475.2v7.85M231.5 483.0v7.85M161.5 506.6v7.85M158.5 522.2v7.85M504.5 553.6v7.85M529.5 616.5v7.85" stroke="#d88080" stroke-width="1.05" fill="none"/>
<path d="M264.5 475.2v7.85M476.5 483.0v7.85M247.5 498.7v7.85" stroke="#e0b0b0" stroke-width="1.05" fill="none"/>
<path d="M332.5 475.2v7.85M170.5 506.6v7.85M497.5 585.0v7.85M567.5 585.0v7.85M571.5 592.9v7.85M568.5 600.8v7.85M226.5 671.4v7.85" stroke="#e08878" stroke-width="1.05" fill="none"/>
<path d="M442.5 475.2v7.85M534.5 616.5v7.85M522.5 640.0v7.85M559.5 647.9v7.85M453.5 687.1v7.85M549.5 687.1v7.85" stroke="#e08888" stroke-width="1.05" fill="none"/>
<path d="M464.5 475.2v7.85M525.5 608.6v7.85" stroke="#d05860" stroke-width="1.05" fill="none"/>
<path d="M519.5 475.2v7.85M235.5 679.2v7.85M534.5 687.1v7.85M548.5 687.1v7.85" stroke="#d07880" stroke-width="1.05" fill="none"/>
<path d="M159.5 483.0v7.85M172.5 483.0v7.85M196.5 498.7v7.85M207.5 498.7v7.85M244.5 538.0v7.85M334.5 538.0v7.85M352.5 538.0v7.85M356.5 538.0v7.85M396.5 538.0v7.85M417.5 538.0v7.85M460.5 538.0v7.85M490.5 538.0v7.85M336.5 545.8v7.85M384.5 545.8v7.85M415.5 545.8v7.85M417.5 545.8v7.85M423.5 545.8v7.85M439.5 545.8v7.85M450.5 545.8v7.85M466.5 545.8v7.85M469.5 545.8v7.85M173.5 553.6v7.85M174.5 553.6v7.85M195.5 553.6v7.85M233.5 553.6v7.85M241.5 553.6v7.85M250.5 553.6v7.85M269.5 553.6v7.85M284.5 553.6v7.85M328.5 553.6v7.85M370.5 553.6v7.85M401.5 553.6v7.85M414.5 553.6v7.85M441.5 553.6v7.85M461.5 553.6v7.85M482.5 553.6v7.85M520.5 553.6v7.85M235.5 561.5v7.85M335.5 561.5v7.85M366.5 561.5v7.85M387.5 561.5v7.85M420.5 561.5v7.85M422.5 561.5v7.85M432.5 561.5v7.85M465.5 561.5v7.85M471.5 561.5v7.85M498.5 561.5v7.85M553.5 561.5v7.85M328.5 569.4v7.85M330.5 569.4v7.85M338.5 569.4v7.85M339.5 569.4v7.85M353.5 569.4v7.85M364.5 569.4v7.85M445.5 569.4v7.85M476.5 569.4v7.85M342.5 577.2v7.85M343.5 577.2v7.85M359.5 577.2v7.85M370.5 577.2v7.85M413.5 577.2v7.85M442.5 577.2v7.85M447.5 577.2v7.85M448.5 577.2v7.85M478.5 577.2v7.85M486.5 577.2v7.85M274.5 585.0v7.85M320.5 585.0v7.85M339.5 585.0v7.85M354.5 585.0v7.85M372.5 585.0v7.85M403.5 585.0v7.85M421.5 585.0v7.85M453.5 585.0v7.85M463.5 585.0v7.85M464.5 585.0v7.85M473.5 585.0v7.85M478.5 585.0v7.85M489.5 585.0v7.85M334.5 592.9v7.85M349.5 592.9v7.85M359.5 592.9v7.85M380.5 592.9v7.85M402.5 592.9v7.85M411.5 592.9v7.85M422.5 592.9v7.85M479.5 592.9v7.85M488.5 592.9v7.85M527.5 592.9v7.85M554.5 592.9v7.85M162.5 600.8v7.85M300.5 600.8v7.85M305.5 600.8v7.85M363.5 600.8v7.85M396.5 600.8v7.85M410.5 600.8v7.85M419.5 600.8v7.85M436.5 600.8v7.85M553.5 600.8v7.85M557.5 600.8v7.85M571.5 600.8v7.85M232.5 616.5v7.85M175.5 624.3v7.85M177.5 624.3v7.85M194.5 624.3v7.85M200.5 624.3v7.85M279.5 624.3v7.85M282.5 624.3v7.85M297.5 624.3v7.85M308.5 624.3v7.85M350.5 624.3v7.85M359.5 624.3v7.85M368.5 624.3v7.85M377.5 624.3v7.85M392.5 624.3v7.85M394.5 624.3v7.85M395.5 624.3v7.85M398.5 624.3v7.85M401.5 624.3v7.85M412.5 624.3v7.85M440.5 624.3v7.85M443.5 624.3v7.85M461.5 624.3v7.85M483.5 624.3v7.85M516.5 624.3v7.85M529.5 624.3v7.85M556.5 624.3v7.85M195.5 632.1v7.85M203.5 632.1v7.85M205.5 632.1v7.85M226.5 632.1v7.85M240.5 632.1v7.85M254.5 632.1v7.85M256.5 632.1v7.85M277.5 632.1v7.85M283.5 632.1v7.85M328.5 632.1v7.85M352.5 632.1v7.85M370.5 632.1v7.85M373.5 632.1v7.85M383.5 632.1v7.85M432.5 632.1v7.85M487.5 632.1v7.85M341.5 640.0v7.85M349.5 640.0v7.85M365.5 640.0v7.85M369.5 640.0v7.85M394.5 640.0v7.85M438.5 640.0v7.85M554.5 640.0v7.85M493.5 647.9v7.85M539.5 647.9v7.85M225.5 663.5v7.85M246.5 663.5v7.85M303.5 663.5v7.85" stroke="#f8f0e8" stroke-width="1.05" fill="none"/>
<path d="M164.5 483.0v7.85M175.5 483.0v7.85M196.5 483.0v7.85M210.5 490.9v7.85M306.5 490.9v7.85M453.5 490.9v7.85M158.5 498.7v7.85M179.5 498.7v7.85M554.5 506.6v7.85M539.5 530.1v7.85M321.5 538.0v7.85M379.5 538.0v7.85M430.5 538.0v7.85M468.5 538.0v7.85M489.5 538.0v7.85M491.5 538.0v7.85M215.5 545.8v7.85M346.5 545.8v7.85M395.5 545.8v7.85M441.5 545.8v7.85M471.5 545.8v7.85M482.5 545.8v7.85M160.5 553.6v7.85M237.5 553.6v7.85M248.5 553.6v7.85M342.5 553.6v7.85M456.5 553.6v7.85M457.5 553.6v7.85M265.5 561.5v7.85M348.5 561.5v7.85M365.5 569.4v7.85M393.5 569.4v7.85M403.5 569.4v7.85M408.5 569.4v7.85M435.5 569.4v7.85M451.5 569.4v7.85M460.5 569.4v7.85M329.5 577.2v7.85M354.5 577.2v7.85M371.5 577.2v7.85M393.5 577.2v7.85M409.5 577.2v7.85M410.5 577.2v7.85M435.5 577.2v7.85M437.5 577.2v7.85M444.5 577.2v7.85M366.5 585.0v7.85M371.5 585.0v7.85M374.5 585.0v7.85M472.5 585.0v7.85M329.5 592.9v7.85M353.5 592.9v7.85M393.5 592.9v7.85M438.5 592.9v7.85M329.5 600.8v7.85M414.5 600.8v7.85M429.5 600.8v7.85M454.5 600.8v7.85M357.5 616.5v7.85M371.5 616.5v7.85M377.5 616.5v7.85M405.5 616.5v7.85M455.5 616.5v7.85M188.5 624.3v7.85M198.5 624.3v7.85M199.5 624.3v7.85M220.5 624.3v7.85M223.5 624.3v7.85M276.5 624.3v7.85M314.5 624.3v7.85M320.5 624.3v7.85M341.5 624.3v7.85M406.5 624.3v7.85M468.5 624.3v7.85M470.5 624.3v7.85M566.5 624.3v7.85M357.5 632.1v7.85M362.5 632.1v7.85M379.5 632.1v7.85M392.5 632.1v7.85M434.5 640.0v7.85M491.5 640.0v7.85M375.5 647.9v7.85M401.5 647.9v7.85M424.5 647.9v7.85M444.5 647.9v7.85M468.5 647.9v7.85M313.5 663.5v7.85" stroke="#f0e8e0" stroke-width="1.05" fill="none"/>
<path d="M167.5 483.0v7.85M465.5 483.0v7.85M574.5 483.0v7.85M177.5 490.9v7.85M343.5 490.9v7.85M208.5 506.6v7.85M502.5 506.6v7.85M203.5 514.4v7.85M463.5 561.5v7.85M507.5 585.0v7.85M509.5 585.0v7.85M547.5 585.0v7.85M266.5 632.1v7.85" stroke="#f0c0a8" stroke-width="1.05" fill="none"/>
<path d="M170.5 483.0v7.85M185.5 483.0v7.85M201.5 483.0v7.85M212.5 483.0v7.85M172.5 490.9v7.85M197.5 490.9v7.85M299.5 490.9v7.85M362.5 538.0v7.85M293.5 553.6v7.85M373.5 553.6v7.85M558.5 553.6v7.85M327.5 561.5v7.85M423.5 561.5v7.85M443.5 561.5v7.85M448.5 561.5v7.85M469.5 561.5v7.85M480.5 561.5v7.85M483.5 561.5v7.85M549.5 561.5v7.85M354.5 569.4v7.85M362.5 569.4v7.85M350.5 577.2v7.85M398.5 577.2v7.85M345.5 585.0v7.85M479.5 585.0v7.85M330.5 592.9v7.85M413.5 592.9v7.85M431.5 592.9v7.85M275.5 600.8v7.85M477.5 600.8v7.85M161.5 624.3v7.85M442.5 624.3v7.85M474.5 624.3v7.85M487.5 624.3v7.85M502.5 624.3v7.85M555.5 624.3v7.85M355.5 632.1v7.85M388.5 632.1v7.85M436.5 632.1v7.85M393.5 640.0v7.85M435.5 640.0v7.85M452.5 640.0v7.85M490.5 640.0v7.85M335.5 647.9v7.85M456.5 647.9v7.85M463.5 647.9v7.85" stroke="#f0e0d8" stroke-width="1.05" fill="none"/>
<path d="M186.5 483.0v7.85M193.5 483.0v7.85M216.5 490.9v7.85M295.5 490.9v7.85M541.5 530.1v7.85M327.5 545.8v7.85M513.5 553.6v7.85M487.5 561.5v7.85M402.5 600.8v7.85M398.5 632.1v7.85" stroke="#f0d8d0" stroke-width="1.05" fill="none"/>
<path d="M188.5 483.0v7.85M194.5 483.0v7.85M199.5 483.0v7.85M204.5 483.0v7.85M213.5 483.0v7.85M208.5 490.9v7.85M254.5 490.9v7.85M267.5 490.9v7.85M279.5 490.9v7.85M304.5 490.9v7.85M401.5 490.9v7.85M520.5 506.6v7.85M556.5 522.2v7.85M527.5 530.1v7.85M548.5 530.1v7.85M458.5 545.8v7.85M321.5 569.4v7.85M399.5 569.4v7.85M415.5 569.4v7.85M418.5 577.2v7.85M415.5 585.0v7.85M341.5 616.5v7.85M354.5 616.5v7.85M381.5 616.5v7.85M485.5 616.5v7.85M185.5 624.3v7.85M311.5 632.1v7.85M433.5 632.1v7.85M443.5 632.1v7.85M461.5 632.1v7.85M366.5 640.0v7.85M352.5 647.9v7.85M470.5 647.9v7.85" stroke="#f0d8c8" stroke-width="1.05" fill="none"/>
<path d="M191.5 483.0v7.85M214.5 483.0v7.85M192.5 490.9v7.85M258.5 490.9v7.85M425.5 538.0v7.85M381.5 545.8v7.85M409.5 553.6v7.85M553.5 553.6v7.85M336.5 561.5v7.85M341.5 561.5v7.85M399.5 561.5v7.85M512.5 561.5v7.85M369.5 569.4v7.85M381.5 569.4v7.85M415.5 577.2v7.85M474.5 577.2v7.85M490.5 577.2v7.85M325.5 592.9v7.85M395.5 600.8v7.85M451.5 600.8v7.85M462.5 600.8v7.85M353.5 616.5v7.85M454.5 616.5v7.85M396.5 624.3v7.85M397.5 624.3v7.85M438.5 624.3v7.85M509.5 624.3v7.85M163.5 632.1v7.85M220.5 632.1v7.85M232.5 632.1v7.85M271.5 632.1v7.85M488.5 632.1v7.85M475.5 640.0v7.85M334.5 647.9v7.85M338.5 647.9v7.85M343.5 647.9v7.85M526.5 647.9v7.85" stroke="#f0e0d0" stroke-width="1.05" fill="none"/>
<path d="M197.5 483.0v7.85M199.5 490.9v7.85M321.5 490.9v7.85M364.5 490.9v7.85M482.5 490.9v7.85M160.5 498.7v7.85M279.5 498.7v7.85M519.5 514.4v7.85M528.5 530.1v7.85M436.5 553.6v7.85M512.5 553.6v7.85M396.5 577.2v7.85M559.5 585.0v7.85M206.5 608.6v7.85M380.5 608.6v7.85M252.5 624.3v7.85M568.5 624.3v7.85M478.5 632.1v7.85M541.5 640.0v7.85M551.5 647.9v7.85M204.5 663.5v7.85M210.5 663.5v7.85M334.5 671.4v7.85" stroke="#f0c8b0" stroke-width="1.05" fill="none"/>
<path d="M198.5 483.0v7.85M225.5 490.9v7.85M363.5 490.9v7.85M469.5 490.9v7.85M193.5 498.7v7.85M510.5 506.6v7.85M353.5 514.4v7.85M232.5 522.2v7.85M574.5 530.1v7.85M538.5 577.2v7.85M542.5 592.9v7.85M571.5 647.9v7.85M558.5 679.2v7.85" stroke="#f0b890" stroke-width="1.05" fill="none"/>
<path d="M206.5 483.0v7.85M341.5 538.0v7.85M351.5 538.0v7.85M400.5 538.0v7.85M403.5 538.0v7.85M412.5 538.0v7.85M422.5 538.0v7.85M433.5 538.0v7.85M434.5 538.0v7.85M437.5 538.0v7.85M191.5 545.8v7.85M220.5 545.8v7.85M338.5 545.8v7.85M343.5 545.8v7.85M369.5 545.8v7.85M374.5 545.8v7.85M375.5 545.8v7.85M398.5 545.8v7.85M400.5 545.8v7.85M438.5 545.8v7.85M446.5 545.8v7.85M457.5 545.8v7.85M161.5 553.6v7.85M167.5 553.6v7.85M209.5 553.6v7.85M214.5 553.6v7.85M218.5 553.6v7.85M551.5 553.6v7.85M166.5 561.5v7.85M208.5 561.5v7.85M224.5 561.5v7.85M227.5 561.5v7.85M233.5 561.5v7.85M245.5 561.5v7.85M266.5 561.5v7.85M268.5 561.5v7.85M310.5 561.5v7.85M334.5 561.5v7.85M359.5 561.5v7.85M386.5 561.5v7.85M413.5 561.5v7.85M414.5 561.5v7.85M437.5 561.5v7.85M454.5 561.5v7.85M460.5 561.5v7.85M489.5 561.5v7.85M514.5 561.5v7.85M540.5 561.5v7.85M556.5 561.5v7.85M558.5 561.5v7.85M355.5 569.4v7.85M391.5 569.4v7.85M414.5 569.4v7.85M423.5 569.4v7.85M461.5 569.4v7.85M356.5 577.2v7.85M365.5 577.2v7.85M373.5 577.2v7.85M381.5 577.2v7.85M397.5 577.2v7.85M417.5 577.2v7.85M449.5 577.2v7.85M463.5 577.2v7.85M473.5 577.2v7.85M481.5 577.2v7.85M326.5 585.0v7.85M328.5 585.0v7.85M329.5 585.0v7.85M369.5 585.0v7.85M392.5 585.0v7.85M416.5 585.0v7.85M430.5 585.0v7.85M436.5 585.0v7.85M446.5 585.0v7.85M457.5 585.0v7.85M476.5 585.0v7.85M222.5 592.9v7.85M232.5 592.9v7.85M243.5 592.9v7.85M260.5 592.9v7.85M263.5 592.9v7.85M266.5 592.9v7.85M292.5 592.9v7.85M326.5 592.9v7.85M327.5 592.9v7.85M332.5 592.9v7.85M364.5 592.9v7.85M366.5 592.9v7.85M403.5 592.9v7.85M425.5 592.9v7.85M455.5 592.9v7.85M186.5 600.8v7.85M191.5 600.8v7.85M226.5 600.8v7.85M237.5 600.8v7.85M245.5 600.8v7.85M324.5 600.8v7.85M353.5 600.8v7.85M366.5 600.8v7.85M403.5 600.8v7.85M423.5 600.8v7.85M432.5 600.8v7.85M445.5 600.8v7.85M470.5 600.8v7.85M508.5 600.8v7.85M227.5 616.5v7.85M230.5 616.5v7.85M235.5 616.5v7.85M256.5 616.5v7.85M260.5 616.5v7.85M294.5 616.5v7.85M314.5 616.5v7.85M330.5 616.5v7.85M375.5 616.5v7.85M383.5 616.5v7.85M422.5 616.5v7.85M437.5 616.5v7.85M466.5 616.5v7.85M479.5 616.5v7.85M486.5 616.5v7.85M272.5 624.3v7.85M280.5 624.3v7.85M301.5 624.3v7.85M325.5 624.3v7.85M329.5 624.3v7.85M333.5 624.3v7.85M360.5 624.3v7.85M369.5 624.3v7.85M382.5 624.3v7.85M384.5 624.3v7.85M409.5 624.3v7.85M418.5 624.3v7.85M557.5 624.3v7.85M168.5 632.1v7.85M174.5 632.1v7.85M183.5 632.1v7.85M184.5 632.1v7.85M200.5 632.1v7.85M218.5 632.1v7.85M235.5 632.1v7.85M280.5 632.1v7.85M303.5 632.1v7.85M314.5 632.1v7.85M344.5 632.1v7.85M346.5 632.1v7.85M390.5 632.1v7.85M408.5 632.1v7.85M467.5 632.1v7.85M481.5 632.1v7.85M483.5 632.1v7.85M334.5 640.0v7.85M356.5 640.0v7.85M363.5 640.0v7.85M391.5 640.0v7.85M407.5 640.0v7.85M419.5 640.0v7.85M464.5 640.0v7.85M471.5 640.0v7.85M486.5 640.0v7.85M234.5 647.9v7.85M243.5 647.9v7.85M249.5 647.9v7.85M256.5 647.9v7.85M294.5 647.9v7.85M320.5 647.9v7.85M351.5 647.9v7.85M376.5 647.9v7.85M392.5 647.9v7.85M408.5 647.9v7.85M464.5 647.9v7.85M465.5 647.9v7.85M483.5 647.9v7.85M489.5 647.9v7.85M513.5 647.9v7.85" stroke="#f0f0f0" stroke-width="1.05" fill="none"/>
<path d="M207.5 483.0v7.85M228.5 490.9v7.85M292.5 490.9v7.85M336.5 490.9v7.85M572.5 490.9v7.85M360.5 498.7v7.85M504.5 514.4v7.85M502.5 530.1v7.85M532.5 545.8v7.85M536.5 553.6v7.85M573.5 553.6v7.85M533.5 569.4v7.85M379.5 577.2v7.85M334.5 585.0v7.85M514.5 592.9v7.85M352.5 608.6v7.85M520.5 616.5v7.85M534.5 624.3v7.85M257.5 632.1v7.85M384.5 632.1v7.85M551.5 640.0v7.85" stroke="#f0c0a0" stroke-width="1.05" fill="none"/>
<path d="M210.5 483.0v7.85M277.5 490.9v7.85M335.5 490.9v7.85M188.5 498.7v7.85M215.5 498.7v7.85M217.5 498.7v7.85M177.5 530.1v7.85M544.5 530.1v7.85M565.5 530.1v7.85M163.5 538.0v7.85M181.5 538.0v7.85M185.5 538.0v7.85M204.5 538.0v7.85M206.5 538.0v7.85M211.5 538.0v7.85M213.5 538.0v7.85M216.5 538.0v7.85M538.5 545.8v7.85M478.5 553.6v7.85M494.5 553.6v7.85M510.5 553.6v7.85M566.5 553.6v7.85M452.5 561.5v7.85M527.5 561.5v7.85M530.5 561.5v7.85M533.5 561.5v7.85M380.5 569.4v7.85M386.5 569.4v7.85M431.5 569.4v7.85M495.5 569.4v7.85M328.5 577.2v7.85M345.5 577.2v7.85M483.5 577.2v7.85M444.5 585.0v7.85M456.5 585.0v7.85M423.5 592.9v7.85M459.5 592.9v7.85M480.5 592.9v7.85M564.5 592.9v7.85M572.5 592.9v7.85M241.5 600.8v7.85M393.5 600.8v7.85M543.5 608.6v7.85M265.5 616.5v7.85M323.5 616.5v7.85M370.5 616.5v7.85M386.5 616.5v7.85M419.5 616.5v7.85M439.5 616.5v7.85M547.5 616.5v7.85M186.5 624.3v7.85M288.5 624.3v7.85M424.5 624.3v7.85M469.5 624.3v7.85M476.5 624.3v7.85M522.5 624.3v7.85M574.5 624.3v7.85M284.5 632.1v7.85M350.5 632.1v7.85M353.5 632.1v7.85M369.5 632.1v7.85M412.5 632.1v7.85M420.5 632.1v7.85M450.5 632.1v7.85M452.5 632.1v7.85M454.5 632.1v7.85M485.5 632.1v7.85M381.5 640.0v7.85M505.5 640.0v7.85M544.5 640.0v7.85M572.5 640.0v7.85M386.5 647.9v7.85M400.5 647.9v7.85M425.5 647.9v7.85M514.5 647.9v7.85M574.5 647.9v7.85M157.5 663.5v7.85M232.5 663.5v7.85M249.5 663.5v7.85M301.5 663.5v7.85M302.5 663.5v7.85M310.5 663.5v7.85" stroke="#f8d0b8" stroke-width="1.05" fill="none"/>
<path d="M223.5 483.0v7.85M520.5 647.9v7.85M302.5 679.2v7.85" stroke="#d88078" stroke-width="1.05" fill="none"/>
<path d="M236.5 483.0v7.85M170.5 498.7v7.85M188.5 530.1v7.85M196.5 530.1v7.85M215.5 530.1v7.85M504.5 545.8v7.85M527.5 553.6v7.85M522.5 577.2v7.85M565.5 585.0v7.85M528.5 592.9v7.85M537.5 608.6v7.85M502.5 616.5v7.85M506.5 616.5v7.85M513.5 616.5v7.85M563.5 616.5v7.85M495.5 640.0v7.85M165.5 663.5v7.85" stroke="#f0a068" stroke-width="1.05" fill="none"/>
<path d="M249.5 483.0v7.85M531.5 483.0v7.85" stroke="#e0b8b0" stroke-width="1.05" fill="none"/>
<path d="M263.5 483.0v7.85M174.5 514.4v7.85" stroke="#d06870" stroke-width="1.05" fill="none"/>
<path d="M268.5 483.0v7.85" stroke="#e0a090" stroke-width="1.05" fill="none"/>
<path d="M273.5 483.0v7.85" stroke="#d8a0b0" stroke-width="1.05" fill="none"/>
<path d="M292.5 483.0v7.85M519.5 498.7v7.85M527.5 498.7v7.85" stroke="#e08868" stroke-width="1.05" fill="none"/>
<path d="M297.5 483.0v7.85" stroke="#e8a880" stroke-width="1.05" fill="none"/>
<path d="M303.5 483.0v7.85" stroke="#e08058" stroke-width="1.05" fill="none"/>
<path d="M313.5 483.0v7.85M290.5 687.1v7.85" stroke="#e0a8a8" stroke-width="1.05" fill="none"/>
<path d="M318.5 483.0v7.85M507.5 608.6v7.85" stroke="#e09888" stroke-width="1.05" fill="none"/>
<path d="M321.5 483.0v7.85M441.5 498.7v7.85M185.5 506.6v7.85M255.5 506.6v7.85M539.5 545.8v7.85M470.5 608.6v7.85M525.5 640.0v7.85" stroke="#e89870" stroke-width="1.05" fill="none"/>
<path d="M324.5 483.0v7.85M376.5 490.9v7.85M444.5 490.9v7.85M466.5 490.9v7.85M543.5 490.9v7.85M503.5 498.7v7.85M380.5 538.0v7.85M494.5 561.5v7.85M391.5 585.0v7.85M374.5 600.8v7.85M538.5 600.8v7.85M388.5 624.3v7.85M507.5 624.3v7.85M270.5 632.1v7.85M371.5 647.9v7.85" stroke="#e8c0a8" stroke-width="1.05" fill="none"/>
<path d="M325.5 483.0v7.85M527.5 545.8v7.85M510.5 569.4v7.85M528.5 577.2v7.85M546.5 585.0v7.85M573.5 647.9v7.85M203.5 663.5v7.85" stroke="#f09868" stroke-width="1.05" fill="none"/>
<path d="M336.5 483.0v7.85" stroke="#d88898" stroke-width="1.05" fill="none"/>
<path d="M337.5 483.0v7.85M174.5 490.9v7.85M203.5 490.9v7.85M235.5 490.9v7.85M560.5 498.7v7.85M228.5 522.2v7.85M301.5 522.2v7.85M567.5 530.1v7.85M343.5 553.6v7.85M354.5 561.5v7.85M349.5 608.6v7.85M353.5 608.6v7.85M406.5 608.6v7.85M410.5 616.5v7.85M425.5 624.3v7.85M242.5 632.1v7.85M417.5 632.1v7.85" stroke="#f0d0b8" stroke-width="1.05" fill="none"/>
<path d="M345.5 483.0v7.85" stroke="#c84850" stroke-width="1.05" fill="none"/>
<path d="M349.5 483.0v7.85M548.5 490.9v7.85" stroke="#e8a890" stroke-width="1.05" fill="none"/>
<path d="M350.5 483.0v7.85M347.5 498.7v7.85M208.5 522.2v7.85M518.5 569.4v7.85M539.5 624.3v7.85M503.5 640.0v7.85M562.5 640.0v7.85M185.5 663.5v7.85" stroke="#d86050" stroke-width="1.05" fill="none"/>
<path d="M359.5 483.0v7.85M203.5 498.7v7.85M520.5 545.8v7.85M551.5 545.8v7.85M563.5 561.5v7.85M548.5 577.2v7.85M551.5 592.9v7.85M535.5 608.6v7.85M540.5 640.0v7.85M574.5 640.0v7.85M504.5 647.9v7.85" stroke="#f0a078" stroke-width="1.05" fill="none"/>
<path d="M360.5 483.0v7.85M312.5 498.7v7.85M165.5 506.6v7.85M558.5 569.4v7.85M516.5 608.6v7.85M331.5 679.2v7.85" stroke="#d87070" stroke-width="1.05" fill="none"/>
<path d="M368.5 483.0v7.85M493.5 561.5v7.85M413.5 647.9v7.85" stroke="#e8b8a0" stroke-width="1.05" fill="none"/>
<path d="M380.5 483.0v7.85M303.5 671.4v7.85" stroke="#c85058" stroke-width="1.05" fill="none"/>
<path d="M392.5 483.0v7.85M171.5 490.9v7.85M177.5 498.7v7.85M520.5 498.7v7.85M341.5 514.4v7.85M510.5 522.2v7.85M200.5 530.1v7.85M448.5 545.8v7.85M517.5 545.8v7.85M514.5 577.2v7.85M539.5 577.2v7.85M548.5 585.0v7.85M519.5 600.8v7.85M546.5 616.5v7.85M546.5 647.9v7.85" stroke="#f0b898" stroke-width="1.05" fill="none"/>
<path d="M399.5 483.0v7.85M501.5 592.9v7.85M551.5 608.6v7.85M508.5 640.0v7.85M556.5 640.0v7.85" stroke="#e07060" stroke-width="1.05" fill="none"/>
<path d="M424.5 483.0v7.85M187.5 506.6v7.85M519.5 585.0v7.85M515.5 679.2v7.85" stroke="#e8b0a0" stroke-width="1.05" fill="none"/>
<path d="M427.5 483.0v7.85M176.5 506.6v7.85M201.5 514.4v7.85M181.5 522.2v7.85M190.5 663.5v7.85M191.5 663.5v7.85M205.5 663.5v7.85" stroke="#e8b0a8" stroke-width="1.05" fill="none"/>
<path d="M438.5 483.0v7.85M219.5 498.7v7.85" stroke="#e07858" stroke-width="1.05" fill="none"/>
<path d="M458.5 483.0v7.85M572.5 545.8v7.85M559.5 600.8v7.85M527.5 640.0v7.85" stroke="#d86860" stroke-width="1.05" fill="none"/>
<path d="M460.5 483.0v7.85M499.5 490.9v7.85M508.5 553.6v7.85M569.5 624.3v7.85M552.5 647.9v7.85" stroke="#e8b098" stroke-width="1.05" fill="none"/>
<path d="M462.5 483.0v7.85M173.5 498.7v7.85M238.5 498.7v7.85M465.5 687.1v7.85" stroke="#d05858" stroke-width="1.05" fill="none"/>
<path d="M479.5 483.0v7.85M523.5 608.6v7.85M527.5 687.1v7.85" stroke="#d06068" stroke-width="1.05" fill="none"/>
<path d="M488.5 483.0v7.85M183.5 522.2v7.85M198.5 530.1v7.85M410.5 553.6v7.85M518.5 608.6v7.85M466.5 632.1v7.85M482.5 647.9v7.85" stroke="#f0b8a0" stroke-width="1.05" fill="none"/>
<path d="M497.5 483.0v7.85M377.5 490.9v7.85M497.5 490.9v7.85M574.5 490.9v7.85M209.5 514.4v7.85M535.5 545.8v7.85M499.5 553.6v7.85M516.5 569.4v7.85M511.5 577.2v7.85M509.5 592.9v7.85M527.5 600.8v7.85M541.5 600.8v7.85M548.5 600.8v7.85M266.5 608.6v7.85M483.5 608.6v7.85M502.5 608.6v7.85M500.5 616.5v7.85M357.5 647.9v7.85M494.5 647.9v7.85" stroke="#f0b088" stroke-width="1.05" fill="none"/>
<path d="M498.5 483.0v7.85M515.5 553.6v7.85M528.5 647.9v7.85" stroke="#d87060" stroke-width="1.05" fill="none"/>
<path d="M501.5 483.0v7.85M177.5 522.2v7.85M200.5 679.2v7.85M432.5 687.1v7.85" stroke="#e0a0a0" stroke-width="1.05" fill="none"/>
<path d="M510.5 483.0v7.85M157.5 498.7v7.85M521.5 569.4v7.85M498.5 577.2v7.85M553.5 679.2v7.85" stroke="#e08870" stroke-width="1.05" fill="none"/>
<path d="M515.5 483.0v7.85M260.5 655.7v7.85" stroke="#d898a0" stroke-width="1.05" fill="none"/>
<path d="M519.5 483.0v7.85M194.5 498.7v7.85M205.5 522.2v7.85" stroke="#e8a8a0" stroke-width="1.05" fill="none"/>
<path d="M543.5 483.0v7.85" stroke="#e8b8b0" stroke-width="1.05" fill="none"/>
<path d="M546.5 483.0v7.85M532.5 553.6v7.85" stroke="#e0a898" stroke-width="1.05" fill="none"/>
<path d="M553.5 483.0v7.85M351.5 490.9v7.85" stroke="#e8a888" stroke-width="1.05" fill="none"/>
<path d="M562.5 483.0v7.85M179.5 522.2v7.85M207.5 530.1v7.85M574.5 569.4v7.85M546.5 592.9v7.85M164.5 663.5v7.85M171.5 679.2v7.85" stroke="#e8a088" stroke-width="1.05" fill="none"/>
<path d="M568.5 483.0v7.85" stroke="#d06860" stroke-width="1.05" fill="none"/>
<path d="M168.5 490.9v7.85M535.5 490.9v7.85M373.5 498.7v7.85M497.5 577.2v7.85M573.5 577.2v7.85M550.5 585.0v7.85M567.5 592.9v7.85" stroke="#e8a080" stroke-width="1.05" fill="none"/>
<path d="M176.5 490.9v7.85M505.5 490.9v7.85M180.5 530.1v7.85M214.5 530.1v7.85M518.5 545.8v7.85M533.5 545.8v7.85M549.5 545.8v7.85M561.5 545.8v7.85M531.5 553.6v7.85M516.5 561.5v7.85M534.5 569.4v7.85M547.5 569.4v7.85M523.5 577.2v7.85M493.5 585.0v7.85M520.5 592.9v7.85M521.5 616.5v7.85M533.5 616.5v7.85M568.5 616.5v7.85M494.5 640.0v7.85M515.5 640.0v7.85M542.5 640.0v7.85M549.5 647.9v7.85M160.5 663.5v7.85M180.5 663.5v7.85M248.5 663.5v7.85M312.5 663.5v7.85" stroke="#f0a878" stroke-width="1.05" fill="none"/>
<path d="M180.5 490.9v7.85M556.5 490.9v7.85M565.5 490.9v7.85M503.5 530.1v7.85M360.5 577.2v7.85M343.5 592.9v7.85M345.5 592.9v7.85M451.5 592.9v7.85M353.5 647.9v7.85M415.5 647.9v7.85" stroke="#e8c8b0" stroke-width="1.05" fill="none"/>
<path d="M187.5 490.9v7.85M189.5 530.1v7.85M277.5 538.0v7.85M288.5 538.0v7.85M298.5 538.0v7.85M520.5 561.5v7.85M371.5 569.4v7.85M387.5 569.4v7.85M462.5 569.4v7.85M428.5 577.2v7.85M359.5 585.0v7.85M387.5 585.0v7.85M482.5 592.9v7.85M378.5 600.8v7.85M336.5 616.5v7.85M528.5 624.3v7.85M393.5 647.9v7.85M458.5 647.9v7.85M471.5 647.9v7.85M243.5 663.5v7.85M315.5 663.5v7.85" stroke="#f8d0c0" stroke-width="1.05" fill="none"/>
<path d="M189.5 490.9v7.85M232.5 490.9v7.85M384.5 538.0v7.85M413.5 600.8v7.85M473.5 600.8v7.85M249.5 624.3v7.85M306.5 632.1v7.85M364.5 640.0v7.85" stroke="#f0e8d8" stroke-width="1.05" fill="none"/>
<path d="M196.5 490.9v7.85M206.5 498.7v7.85M220.5 498.7v7.85M526.5 530.1v7.85M223.5 538.0v7.85M309.5 538.0v7.85M344.5 538.0v7.85M374.5 538.0v7.85M383.5 538.0v7.85M408.5 538.0v7.85M439.5 538.0v7.85M443.5 538.0v7.85M445.5 538.0v7.85M464.5 538.0v7.85M352.5 545.8v7.85M353.5 545.8v7.85M358.5 545.8v7.85M365.5 545.8v7.85M370.5 545.8v7.85M371.5 545.8v7.85M430.5 545.8v7.85M435.5 545.8v7.85M481.5 545.8v7.85M488.5 545.8v7.85M159.5 553.6v7.85M180.5 553.6v7.85M199.5 553.6v7.85M205.5 553.6v7.85M220.5 553.6v7.85M244.5 553.6v7.85M247.5 553.6v7.85M275.5 553.6v7.85M283.5 553.6v7.85M317.5 553.6v7.85M330.5 553.6v7.85M363.5 553.6v7.85M378.5 553.6v7.85M405.5 553.6v7.85M428.5 553.6v7.85M440.5 553.6v7.85M446.5 553.6v7.85M487.5 553.6v7.85M488.5 553.6v7.85M505.5 553.6v7.85M540.5 553.6v7.85M289.5 561.5v7.85M324.5 561.5v7.85M343.5 561.5v7.85M357.5 561.5v7.85M375.5 561.5v7.85M393.5 561.5v7.85M401.5 561.5v7.85M409.5 561.5v7.85M416.5 561.5v7.85M442.5 561.5v7.85M451.5 561.5v7.85M323.5 569.4v7.85M326.5 569.4v7.85M351.5 569.4v7.85M384.5 569.4v7.85M406.5 569.4v7.85M428.5 569.4v7.85M450.5 569.4v7.85M478.5 569.4v7.85M483.5 569.4v7.85M504.5 569.4v7.85M320.5 577.2v7.85M333.5 577.2v7.85M336.5 577.2v7.85M348.5 577.2v7.85M377.5 577.2v7.85M392.5 577.2v7.85M403.5 577.2v7.85M408.5 577.2v7.85M416.5 577.2v7.85M425.5 577.2v7.85M426.5 577.2v7.85M487.5 577.2v7.85M324.5 585.0v7.85M325.5 585.0v7.85M332.5 585.0v7.85M335.5 585.0v7.85M344.5 585.0v7.85M363.5 585.0v7.85M390.5 585.0v7.85M397.5 585.0v7.85M402.5 585.0v7.85M419.5 585.0v7.85M427.5 585.0v7.85M429.5 585.0v7.85M447.5 585.0v7.85M328.5 592.9v7.85M341.5 592.9v7.85M354.5 592.9v7.85M371.5 592.9v7.85M375.5 592.9v7.85M381.5 592.9v7.85M392.5 592.9v7.85M394.5 592.9v7.85M398.5 592.9v7.85M400.5 592.9v7.85M469.5 592.9v7.85M516.5 592.9v7.85M555.5 592.9v7.85M233.5 600.8v7.85M234.5 600.8v7.85M328.5 600.8v7.85M346.5 600.8v7.85M357.5 600.8v7.85M369.5 600.8v7.85M373.5 600.8v7.85M381.5 600.8v7.85M426.5 600.8v7.85M447.5 600.8v7.85M458.5 600.8v7.85M464.5 600.8v7.85M472.5 600.8v7.85M564.5 600.8v7.85M282.5 608.6v7.85M272.5 616.5v7.85M297.5 616.5v7.85M325.5 616.5v7.85M334.5 616.5v7.85M359.5 616.5v7.85M367.5 616.5v7.85M382.5 616.5v7.85M399.5 616.5v7.85M416.5 616.5v7.85M429.5 616.5v7.85M431.5 616.5v7.85M436.5 616.5v7.85M451.5 616.5v7.85M452.5 616.5v7.85M457.5 616.5v7.85M460.5 616.5v7.85M463.5 616.5v7.85M464.5 616.5v7.85M473.5 616.5v7.85M482.5 616.5v7.85M490.5 616.5v7.85M170.5 624.3v7.85M181.5 624.3v7.85M187.5 624.3v7.85M226.5 624.3v7.85M261.5 624.3v7.85M262.5 624.3v7.85M267.5 624.3v7.85M271.5 624.3v7.85M277.5 624.3v7.85M316.5 624.3v7.85M332.5 624.3v7.85M335.5 624.3v7.85M354.5 624.3v7.85M356.5 624.3v7.85M421.5 624.3v7.85M428.5 624.3v7.85M455.5 624.3v7.85M458.5 624.3v7.85M475.5 624.3v7.85M481.5 624.3v7.85M167.5 632.1v7.85M185.5 632.1v7.85M189.5 632.1v7.85M191.5 632.1v7.85M206.5 632.1v7.85M219.5 632.1v7.85M292.5 632.1v7.85M301.5 632.1v7.85M321.5 632.1v7.85M345.5 632.1v7.85M347.5 632.1v7.85M365.5 632.1v7.85M434.5 632.1v7.85M444.5 632.1v7.85M344.5 640.0v7.85M348.5 640.0v7.85M413.5 640.0v7.85M455.5 640.0v7.85M504.5 640.0v7.85M323.5 647.9v7.85M330.5 647.9v7.85M331.5 647.9v7.85M345.5 647.9v7.85M346.5 647.9v7.85M347.5 647.9v7.85M396.5 647.9v7.85M480.5 647.9v7.85M495.5 647.9v7.85M535.5 647.9v7.85M545.5 647.9v7.85M227.5 663.5v7.85M236.5 663.5v7.85M264.5 663.5v7.85M276.5 663.5v7.85M307.5 663.5v7.85" stroke="#f8e8e0" stroke-width="1.05" fill="none"/>
<path d="M200.5 490.9v7.85M323.5 490.9v7.85M507.5 506.6v7.85M556.5 514.4v7.85M494.5 530.1v7.85M550.5 530.1v7.85M419.5 545.8v7.85M177.5 553.6v7.85M454.5 553.6v7.85M533.5 577.2v7.85M291.5 592.9v7.85M295.5 608.6v7.85M357.5 608.6v7.85M353.5 624.3v7.85M456.5 624.3v7.85M491.5 624.3v7.85M542.5 624.3v7.85M407.5 647.9v7.85" stroke="#f0d0c0" stroke-width="1.05" fill="none"/>
<path d="M202.5 490.9v7.85M182.5 498.7v7.85M178.5 538.0v7.85M184.5 538.0v7.85M188.5 538.0v7.85M198.5 538.0v7.85M201.5 538.0v7.85M205.5 538.0v7.85M220.5 538.0v7.85M222.5 538.0v7.85M224.5 538.0v7.85M237.5 538.0v7.85M245.5 538.0v7.85M246.5 538.0v7.85M249.5 538.0v7.85M254.5 538.0v7.85M255.5 538.0v7.85M256.5 538.0v7.85M259.5 538.0v7.85M268.5 538.0v7.85M272.5 538.0v7.85M274.5 538.0v7.85M276.5 538.0v7.85M289.5 538.0v7.85M291.5 538.0v7.85M292.5 538.0v7.85M296.5 538.0v7.85M333.5 538.0v7.85M450.5 538.0v7.85M484.5 538.0v7.85M377.5 545.8v7.85M388.5 545.8v7.85M397.5 545.8v7.85M432.5 545.8v7.85M452.5 545.8v7.85M503.5 545.8v7.85M260.5 553.6v7.85M387.5 553.6v7.85M407.5 553.6v7.85M518.5 553.6v7.85M548.5 553.6v7.85M569.5 553.6v7.85M346.5 561.5v7.85M351.5 561.5v7.85M363.5 561.5v7.85M455.5 561.5v7.85M467.5 561.5v7.85M515.5 561.5v7.85M537.5 561.5v7.85M545.5 561.5v7.85M468.5 569.4v7.85M563.5 569.4v7.85M330.5 577.2v7.85M439.5 577.2v7.85M491.5 577.2v7.85M353.5 585.0v7.85M408.5 585.0v7.85M470.5 585.0v7.85M480.5 585.0v7.85M337.5 592.9v7.85M342.5 592.9v7.85M478.5 592.9v7.85M243.5 600.8v7.85M355.5 600.8v7.85M463.5 600.8v7.85M465.5 600.8v7.85M507.5 600.8v7.85M510.5 600.8v7.85M556.5 600.8v7.85M346.5 616.5v7.85M363.5 616.5v7.85M388.5 616.5v7.85M400.5 616.5v7.85M407.5 616.5v7.85M424.5 616.5v7.85M449.5 616.5v7.85M484.5 616.5v7.85M296.5 624.3v7.85M299.5 624.3v7.85M345.5 624.3v7.85M364.5 624.3v7.85M383.5 624.3v7.85M546.5 624.3v7.85M172.5 632.1v7.85M186.5 632.1v7.85M198.5 632.1v7.85M202.5 632.1v7.85M265.5 632.1v7.85M288.5 632.1v7.85M340.5 632.1v7.85M354.5 632.1v7.85M356.5 632.1v7.85M364.5 632.1v7.85M372.5 632.1v7.85M399.5 632.1v7.85M405.5 632.1v7.85M426.5 632.1v7.85M462.5 632.1v7.85M473.5 632.1v7.85M496.5 640.0v7.85M546.5 640.0v7.85M394.5 647.9v7.85M405.5 647.9v7.85M438.5 647.9v7.85M466.5 647.9v7.85M503.5 647.9v7.85M518.5 647.9v7.85M522.5 647.9v7.85" stroke="#f8d8c0" stroke-width="1.05" fill="none"/>
<path d="M204.5 490.9v7.85M327.5 490.9v7.85M236.5 514.4v7.85" stroke="#e89060" stroke-width="1.05" fill="none"/>
<path d="M218.5 490.9v7.85M330.5 490.9v7.85M360.5 490.9v7.85M566.5 490.9v7.85M385.5 592.9v7.85M383.5 600.8v7.85M384.5 600.8v7.85M238.5 616.5v7.85M327.5 624.3v7.85M291.5 632.1v7.85" stroke="#e8d8c8" stroke-width="1.05" fill="none"/>
<path d="M241.5 490.9v7.85M446.5 490.9v7.85M374.5 561.5v7.85M407.5 569.4v7.85M361.5 616.5v7.85M371.5 624.3v7.85" stroke="#e8d0c0" stroke-width="1.05" fill="none"/>
<path d="M242.5 490.9v7.85M289.5 490.9v7.85M330.5 538.0v7.85M463.5 538.0v7.85M355.5 545.8v7.85M356.5 545.8v7.85M373.5 545.8v7.85M387.5 545.8v7.85M426.5 545.8v7.85M455.5 545.8v7.85M207.5 553.6v7.85M299.5 553.6v7.85M300.5 553.6v7.85M302.5 553.6v7.85M339.5 553.6v7.85M345.5 553.6v7.85M449.5 553.6v7.85M464.5 553.6v7.85M514.5 553.6v7.85M226.5 561.5v7.85M237.5 561.5v7.85M240.5 561.5v7.85M272.5 561.5v7.85M285.5 561.5v7.85M342.5 561.5v7.85M421.5 561.5v7.85M433.5 561.5v7.85M441.5 561.5v7.85M484.5 561.5v7.85M507.5 561.5v7.85M385.5 569.4v7.85M446.5 569.4v7.85M341.5 577.2v7.85M367.5 577.2v7.85M427.5 577.2v7.85M330.5 585.0v7.85M349.5 585.0v7.85M352.5 585.0v7.85M382.5 585.0v7.85M414.5 585.0v7.85M432.5 585.0v7.85M434.5 585.0v7.85M486.5 585.0v7.85M491.5 585.0v7.85M323.5 592.9v7.85M445.5 592.9v7.85M457.5 592.9v7.85M477.5 592.9v7.85M192.5 600.8v7.85M293.5 600.8v7.85M385.5 600.8v7.85M406.5 600.8v7.85M425.5 600.8v7.85M440.5 600.8v7.85M442.5 600.8v7.85M194.5 616.5v7.85M234.5 616.5v7.85M251.5 616.5v7.85M269.5 616.5v7.85M276.5 616.5v7.85M296.5 616.5v7.85M312.5 616.5v7.85M327.5 616.5v7.85M380.5 616.5v7.85M402.5 616.5v7.85M406.5 616.5v7.85M480.5 616.5v7.85M219.5 624.3v7.85M278.5 624.3v7.85M284.5 624.3v7.85M340.5 624.3v7.85M343.5 624.3v7.85M376.5 624.3v7.85M389.5 624.3v7.85M536.5 624.3v7.85M550.5 624.3v7.85M565.5 624.3v7.85M212.5 632.1v7.85M269.5 632.1v7.85M290.5 632.1v7.85M332.5 632.1v7.85M333.5 632.1v7.85M366.5 632.1v7.85M367.5 632.1v7.85M381.5 632.1v7.85M391.5 632.1v7.85M435.5 632.1v7.85M455.5 632.1v7.85M324.5 640.0v7.85M331.5 640.0v7.85M340.5 640.0v7.85M358.5 640.0v7.85M416.5 640.0v7.85M423.5 640.0v7.85M425.5 640.0v7.85M440.5 640.0v7.85M443.5 640.0v7.85M450.5 640.0v7.85M328.5 647.9v7.85M363.5 647.9v7.85M382.5 647.9v7.85M436.5 647.9v7.85M554.5 647.9v7.85" stroke="#f0e8e8" stroke-width="1.05" fill="none"/>
<path d="M245.5 490.9v7.85M165.5 538.0v7.85M264.5 538.0v7.85M453.5 538.0v7.85M488.5 538.0v7.85M320.5 545.8v7.85M345.5 545.8v7.85M366.5 545.8v7.85M454.5 545.8v7.85M246.5 553.6v7.85M408.5 553.6v7.85M463.5 553.6v7.85M379.5 561.5v7.85M551.5 561.5v7.85M570.5 561.5v7.85M332.5 569.4v7.85M474.5 569.4v7.85M331.5 577.2v7.85M386.5 577.2v7.85M322.5 585.0v7.85M425.5 585.0v7.85M449.5 585.0v7.85M368.5 592.9v7.85M426.5 592.9v7.85M447.5 592.9v7.85M465.5 592.9v7.85M337.5 600.8v7.85M399.5 600.8v7.85M409.5 600.8v7.85M424.5 600.8v7.85M497.5 600.8v7.85M347.5 616.5v7.85M391.5 616.5v7.85M396.5 616.5v7.85M420.5 616.5v7.85M212.5 624.3v7.85M244.5 624.3v7.85M405.5 624.3v7.85M408.5 624.3v7.85M447.5 624.3v7.85M500.5 624.3v7.85M180.5 632.1v7.85M213.5 632.1v7.85M317.5 632.1v7.85M377.5 632.1v7.85M442.5 632.1v7.85M489.5 632.1v7.85M490.5 632.1v7.85M339.5 640.0v7.85M404.5 640.0v7.85M436.5 640.0v7.85M484.5 640.0v7.85M327.5 647.9v7.85M332.5 647.9v7.85M435.5 647.9v7.85M453.5 647.9v7.85M457.5 647.9v7.85M481.5 647.9v7.85M244.5 663.5v7.85M260.5 663.5v7.85M269.5 663.5v7.85M281.5 663.5v7.85M314.5 663.5v7.85" stroke="#f8e8d8" stroke-width="1.05" fill="none"/>
<path d="M248.5 490.9v7.85M222.5 498.7v7.85M243.5 514.4v7.85M531.5 530.1v7.85M414.5 592.9v7.85M543.5 600.8v7.85M343.5 616.5v7.85M519.5 624.3v7.85M158.5 632.1v7.85M360.5 632.1v7.85M361.5 632.1v7.85M356.5 647.9v7.85" stroke="#f0c8a8" stroke-width="1.05" fill="none"/>
<path d="M273.5 490.9v7.85M476.5 538.0v7.85M208.5 553.6v7.85M355.5 577.2v7.85M391.5 577.2v7.85M484.5 585.0v7.85M365.5 616.5v7.85M394.5 616.5v7.85M400.5 624.3v7.85M552.5 624.3v7.85M554.5 624.3v7.85M246.5 632.1v7.85M360.5 640.0v7.85M462.5 640.0v7.85" stroke="#e8e8e0" stroke-width="1.05" fill="none"/>
<path d="M318.5 490.9v7.85M385.5 538.0v7.85M452.5 538.0v7.85M333.5 545.8v7.85M337.5 545.8v7.85M194.5 553.6v7.85M210.5 553.6v7.85M249.5 553.6v7.85M244.5 561.5v7.85M367.5 561.5v7.85M418.5 561.5v7.85M418.5 569.4v7.85M429.5 569.4v7.85M383.5 577.2v7.85M466.5 577.2v7.85M395.5 585.0v7.85M272.5 600.8v7.85M555.5 600.8v7.85M268.5 616.5v7.85M287.5 616.5v7.85M379.5 616.5v7.85M191.5 624.3v7.85M231.5 624.3v7.85M334.5 624.3v7.85M403.5 624.3v7.85M413.5 624.3v7.85M446.5 624.3v7.85M482.5 624.3v7.85M166.5 632.1v7.85M228.5 632.1v7.85M295.5 632.1v7.85M403.5 632.1v7.85M469.5 632.1v7.85M476.5 632.1v7.85M488.5 640.0v7.85M265.5 647.9v7.85M379.5 647.9v7.85" stroke="#f0f0e8" stroke-width="1.05" fill="none"/>
<path d="M328.5 490.9v7.85M180.5 498.7v7.85M215.5 506.6v7.85M522.5 530.1v7.85M231.5 538.0v7.85M233.5 538.0v7.85M242.5 538.0v7.85M253.5 538.0v7.85M262.5 538.0v7.85M265.5 538.0v7.85M266.5 538.0v7.85M271.5 538.0v7.85M279.5 538.0v7.85M285.5 538.0v7.85M300.5 538.0v7.85M304.5 538.0v7.85M307.5 538.0v7.85M308.5 538.0v7.85M311.5 538.0v7.85M316.5 538.0v7.85M420.5 538.0v7.85M499.5 545.8v7.85M541.5 545.8v7.85M569.5 545.8v7.85M472.5 561.5v7.85M539.5 561.5v7.85M377.5 569.4v7.85M443.5 569.4v7.85M458.5 569.4v7.85M340.5 577.2v7.85M372.5 577.2v7.85M424.5 577.2v7.85M523.5 585.0v7.85M440.5 592.9v7.85M534.5 592.9v7.85M536.5 600.8v7.85M528.5 616.5v7.85M504.5 624.3v7.85M563.5 624.3v7.85M287.5 632.1v7.85M327.5 632.1v7.85M512.5 640.0v7.85M550.5 640.0v7.85M553.5 640.0v7.85M557.5 640.0v7.85M531.5 647.9v7.85M548.5 647.9v7.85M560.5 647.9v7.85M567.5 647.9v7.85M223.5 663.5v7.85M233.5 663.5v7.85M263.5 663.5v7.85M273.5 663.5v7.85M295.5 663.5v7.85" stroke="#f8d0b0" stroke-width="1.05" fill="none"/>
<path d="M350.5 490.9v7.85M184.5 498.7v7.85M190.5 498.7v7.85M204.5 498.7v7.85M213.5 522.2v7.85M162.5 530.1v7.85M174.5 530.1v7.85M521.5 545.8v7.85M504.5 561.5v7.85M493.5 577.2v7.85M524.5 577.2v7.85M536.5 577.2v7.85M549.5 577.2v7.85M561.5 577.2v7.85M503.5 585.0v7.85M519.5 592.9v7.85M561.5 592.9v7.85M565.5 592.9v7.85M515.5 616.5v7.85M508.5 647.9v7.85M516.5 647.9v7.85M530.5 647.9v7.85M537.5 647.9v7.85M194.5 663.5v7.85M212.5 663.5v7.85M292.5 663.5v7.85" stroke="#f0a070" stroke-width="1.05" fill="none"/>
<path d="M355.5 490.9v7.85M327.5 655.7v7.85" stroke="#d07078" stroke-width="1.05" fill="none"/>
<path d="M368.5 490.9v7.85M504.5 530.1v7.85M363.5 538.0v7.85M429.5 545.8v7.85M489.5 545.8v7.85M483.5 553.6v7.85M340.5 561.5v7.85M405.5 561.5v7.85M459.5 585.0v7.85M357.5 592.9v7.85M475.5 592.9v7.85M489.5 592.9v7.85M324.5 616.5v7.85M364.5 616.5v7.85M398.5 616.5v7.85M393.5 624.3v7.85M526.5 624.3v7.85M176.5 632.1v7.85M343.5 632.1v7.85M375.5 632.1v7.85M380.5 632.1v7.85M339.5 647.9v7.85M349.5 647.9v7.85M412.5 647.9v7.85M541.5 647.9v7.85M550.5 647.9v7.85" stroke="#e8e0d8" stroke-width="1.05" fill="none"/>
<path d="M381.5 490.9v7.85M482.5 506.6v7.85M327.5 585.0v7.85M411.5 585.0v7.85M369.5 592.9v7.85M335.5 616.5v7.85" stroke="#e0c0b0" stroke-width="1.05" fill="none"/>
<path d="M423.5 490.9v7.85M292.5 522.2v7.85M533.5 522.2v7.85M389.5 561.5v7.85M450.5 577.2v7.85M501.5 640.0v7.85" stroke="#e8d0b8" stroke-width="1.05" fill="none"/>
<path d="M434.5 490.9v7.85M228.5 498.7v7.85M529.5 600.8v7.85M517.5 616.5v7.85M532.5 647.9v7.85" stroke="#e89068" stroke-width="1.05" fill="none"/>
<path d="M435.5 490.9v7.85M532.5 624.3v7.85" stroke="#e0b098" stroke-width="1.05" fill="none"/>
<path d="M476.5 490.9v7.85M535.5 530.1v7.85M519.5 545.8v7.85M539.5 569.4v7.85M541.5 592.9v7.85M556.5 616.5v7.85M557.5 647.9v7.85" stroke="#f0b080" stroke-width="1.05" fill="none"/>
<path d="M508.5 490.9v7.85M532.5 490.9v7.85M167.5 506.6v7.85M204.5 514.4v7.85M542.5 545.8v7.85M530.5 553.6v7.85M544.5 553.6v7.85M525.5 569.4v7.85M535.5 577.2v7.85M557.5 577.2v7.85M520.5 585.0v7.85M540.5 585.0v7.85M510.5 592.9v7.85M556.5 592.9v7.85M506.5 600.8v7.85M564.5 616.5v7.85M571.5 624.3v7.85M427.5 632.1v7.85M545.5 640.0v7.85M534.5 647.9v7.85" stroke="#f0a880" stroke-width="1.05" fill="none"/>
<path d="M511.5 490.9v7.85M300.5 498.7v7.85M380.5 522.2v7.85" stroke="#e09880" stroke-width="1.05" fill="none"/>
<path d="M514.5 490.9v7.85M195.5 498.7v7.85M209.5 498.7v7.85M499.5 522.2v7.85M226.5 530.1v7.85M557.5 530.1v7.85M326.5 538.0v7.85M331.5 538.0v7.85M347.5 561.5v7.85M353.5 561.5v7.85M372.5 561.5v7.85M372.5 569.4v7.85M419.5 569.4v7.85M368.5 577.2v7.85M342.5 585.0v7.85M387.5 592.9v7.85M420.5 592.9v7.85M558.5 600.8v7.85M322.5 616.5v7.85M448.5 624.3v7.85M367.5 647.9v7.85M437.5 647.9v7.85" stroke="#e8d8d0" stroke-width="1.05" fill="none"/>
<path d="M523.5 490.9v7.85" stroke="#e0a080" stroke-width="1.05" fill="none"/>
<path d="M524.5 490.9v7.85M186.5 498.7v7.85M251.5 498.7v7.85M540.5 577.2v7.85M528.5 585.0v7.85" stroke="#e88858" stroke-width="1.05" fill="none"/>
<path d="M525.5 490.9v7.85M193.5 530.1v7.85M534.5 577.2v7.85M543.5 592.9v7.85M509.5 600.8v7.85" stroke="#d87870" stroke-width="1.05" fill="none"/>
<path d="M536.5 490.9v7.85" stroke="#d87860" stroke-width="1.05" fill="none"/>
<path d="M570.5 490.9v7.85M505.5 522.2v7.85M334.5 569.4v7.85M511.5 616.5v7.85M524.5 647.9v7.85M272.5 663.5v7.85" stroke="#e8c0a0" stroke-width="1.05" fill="none"/>
<path d="M161.5 498.7v7.85M217.5 514.4v7.85M209.5 522.2v7.85M185.5 530.1v7.85M497.5 545.8v7.85M521.5 647.9v7.85" stroke="#e89878" stroke-width="1.05" fill="none"/>
<path d="M162.5 498.7v7.85M321.5 577.2v7.85M443.5 577.2v7.85M569.5 600.8v7.85M320.5 616.5v7.85M208.5 624.3v7.85M259.5 624.3v7.85M255.5 632.1v7.85M408.5 640.0v7.85" stroke="#f0e0e0" stroke-width="1.05" fill="none"/>
<path d="M163.5 498.7v7.85M214.5 522.2v7.85M525.5 577.2v7.85M496.5 647.9v7.85" stroke="#e89880" stroke-width="1.05" fill="none"/>
<path d="M164.5 498.7v7.85M172.5 538.0v7.85M175.5 538.0v7.85M196.5 538.0v7.85M230.5 538.0v7.85M273.5 538.0v7.85M297.5 538.0v7.85M521.5 553.6v7.85M556.5 553.6v7.85M559.5 553.6v7.85M568.5 553.6v7.85M570.5 553.6v7.85M229.5 561.5v7.85M565.5 561.5v7.85M373.5 569.4v7.85M392.5 569.4v7.85M426.5 569.4v7.85M407.5 577.2v7.85M323.5 585.0v7.85M477.5 585.0v7.85M405.5 592.9v7.85M408.5 592.9v7.85M416.5 592.9v7.85M508.5 592.9v7.85M562.5 592.9v7.85M411.5 608.6v7.85M344.5 616.5v7.85M418.5 616.5v7.85M560.5 616.5v7.85M358.5 624.3v7.85M378.5 624.3v7.85M402.5 632.1v7.85M449.5 640.0v7.85M462.5 647.9v7.85M506.5 647.9v7.85M267.5 663.5v7.85M284.5 663.5v7.85M287.5 663.5v7.85" stroke="#f8c8b0" stroke-width="1.05" fill="none"/>
<path d="M165.5 498.7v7.85M563.5 577.2v7.85" stroke="#f0b0a0" stroke-width="1.05" fill="none"/>
<path d="M166.5 498.7v7.85M157.5 506.6v7.85M167.5 514.4v7.85M190.5 522.2v7.85M573.5 561.5v7.85M493.5 569.4v7.85M570.5 585.0v7.85M549.5 600.8v7.85M499.5 624.3v7.85" stroke="#e8a090" stroke-width="1.05" fill="none"/>
<path d="M167.5 498.7v7.85M326.5 530.1v7.85M340.5 530.1v7.85M342.5 530.1v7.85M346.5 530.1v7.85M349.5 530.1v7.85M350.5 530.1v7.85M355.5 530.1v7.85M364.5 530.1v7.85M370.5 530.1v7.85M390.5 530.1v7.85M392.5 530.1v7.85M405.5 530.1v7.85M412.5 530.1v7.85M421.5 530.1v7.85M427.5 530.1v7.85M447.5 530.1v7.85M451.5 530.1v7.85M452.5 530.1v7.85M459.5 530.1v7.85M464.5 530.1v7.85M466.5 530.1v7.85M470.5 530.1v7.85M475.5 530.1v7.85M478.5 530.1v7.85M481.5 530.1v7.85M482.5 530.1v7.85M495.5 530.1v7.85M496.5 530.1v7.85M497.5 530.1v7.85M501.5 530.1v7.85M506.5 530.1v7.85M507.5 530.1v7.85M509.5 530.1v7.85M517.5 530.1v7.85M536.5 530.1v7.85M538.5 530.1v7.85M546.5 530.1v7.85M558.5 530.1v7.85M560.5 530.1v7.85M569.5 530.1v7.85M353.5 538.0v7.85M355.5 538.0v7.85M364.5 538.0v7.85M377.5 538.0v7.85M391.5 538.0v7.85M404.5 538.0v7.85M467.5 538.0v7.85M481.5 538.0v7.85M162.5 545.8v7.85M181.5 545.8v7.85M183.5 545.8v7.85M184.5 545.8v7.85M187.5 545.8v7.85M193.5 545.8v7.85M195.5 545.8v7.85M200.5 545.8v7.85M204.5 545.8v7.85M205.5 545.8v7.85M206.5 545.8v7.85M212.5 545.8v7.85M213.5 545.8v7.85M234.5 545.8v7.85M242.5 545.8v7.85M255.5 545.8v7.85M258.5 545.8v7.85M293.5 545.8v7.85M300.5 545.8v7.85M312.5 545.8v7.85M314.5 545.8v7.85M404.5 545.8v7.85M410.5 545.8v7.85M442.5 545.8v7.85M451.5 545.8v7.85M491.5 545.8v7.85M157.5 553.6v7.85M168.5 553.6v7.85M170.5 553.6v7.85M179.5 553.6v7.85M186.5 553.6v7.85M235.5 553.6v7.85M252.5 553.6v7.85M262.5 553.6v7.85M295.5 553.6v7.85M298.5 553.6v7.85M305.5 553.6v7.85M308.5 553.6v7.85M310.5 553.6v7.85M318.5 553.6v7.85M355.5 553.6v7.85M357.5 553.6v7.85M375.5 553.6v7.85M396.5 553.6v7.85M420.5 553.6v7.85M450.5 553.6v7.85M455.5 553.6v7.85M465.5 553.6v7.85M476.5 553.6v7.85M555.5 553.6v7.85M158.5 561.5v7.85M168.5 561.5v7.85M169.5 561.5v7.85M177.5 561.5v7.85M181.5 561.5v7.85M185.5 561.5v7.85M192.5 561.5v7.85M194.5 561.5v7.85M198.5 561.5v7.85M202.5 561.5v7.85M203.5 561.5v7.85M211.5 561.5v7.85M216.5 561.5v7.85M217.5 561.5v7.85M218.5 561.5v7.85M251.5 561.5v7.85M261.5 561.5v7.85M263.5 561.5v7.85M275.5 561.5v7.85M276.5 561.5v7.85M286.5 561.5v7.85M287.5 561.5v7.85M292.5 561.5v7.85M298.5 561.5v7.85M302.5 561.5v7.85M308.5 561.5v7.85M309.5 561.5v7.85M317.5 561.5v7.85M329.5 561.5v7.85M330.5 561.5v7.85M390.5 561.5v7.85M404.5 561.5v7.85M411.5 561.5v7.85M478.5 561.5v7.85M528.5 561.5v7.85M184.5 569.4v7.85M185.5 569.4v7.85M204.5 569.4v7.85M211.5 569.4v7.85M223.5 569.4v7.85M224.5 569.4v7.85M241.5 569.4v7.85M246.5 569.4v7.85M261.5 569.4v7.85M264.5 569.4v7.85M267.5 569.4v7.85M268.5 569.4v7.85M270.5 569.4v7.85M272.5 569.4v7.85M274.5 569.4v7.85M277.5 569.4v7.85M279.5 569.4v7.85M280.5 569.4v7.85M283.5 569.4v7.85M302.5 569.4v7.85M306.5 569.4v7.85M314.5 569.4v7.85M327.5 569.4v7.85M360.5 569.4v7.85M388.5 569.4v7.85M411.5 569.4v7.85M421.5 569.4v7.85M452.5 569.4v7.85M484.5 569.4v7.85M163.5 577.2v7.85M230.5 577.2v7.85M240.5 577.2v7.85M261.5 577.2v7.85M263.5 577.2v7.85M271.5 577.2v7.85M298.5 577.2v7.85M300.5 577.2v7.85M302.5 577.2v7.85M303.5 577.2v7.85M305.5 577.2v7.85M349.5 577.2v7.85M385.5 577.2v7.85M414.5 577.2v7.85M419.5 577.2v7.85M429.5 577.2v7.85M454.5 577.2v7.85M460.5 577.2v7.85M461.5 577.2v7.85M465.5 577.2v7.85M159.5 585.0v7.85M168.5 585.0v7.85M174.5 585.0v7.85M183.5 585.0v7.85M184.5 585.0v7.85M186.5 585.0v7.85M192.5 585.0v7.85M203.5 585.0v7.85M217.5 585.0v7.85M218.5 585.0v7.85M219.5 585.0v7.85M226.5 585.0v7.85M233.5 585.0v7.85M234.5 585.0v7.85M240.5 585.0v7.85M248.5 585.0v7.85M270.5 585.0v7.85M282.5 585.0v7.85M291.5 585.0v7.85M302.5 585.0v7.85M309.5 585.0v7.85M310.5 585.0v7.85M316.5 585.0v7.85M343.5 585.0v7.85M406.5 585.0v7.85M437.5 585.0v7.85M162.5 592.9v7.85M173.5 592.9v7.85M174.5 592.9v7.85M193.5 592.9v7.85M197.5 592.9v7.85M200.5 592.9v7.85M203.5 592.9v7.85M208.5 592.9v7.85M254.5 592.9v7.85M264.5 592.9v7.85M267.5 592.9v7.85M268.5 592.9v7.85M270.5 592.9v7.85M294.5 592.9v7.85M304.5 592.9v7.85M308.5 592.9v7.85M320.5 592.9v7.85M376.5 592.9v7.85M424.5 592.9v7.85M448.5 592.9v7.85M472.5 592.9v7.85M222.5 600.8v7.85M224.5 600.8v7.85M227.5 600.8v7.85M228.5 600.8v7.85M235.5 600.8v7.85M242.5 600.8v7.85M259.5 600.8v7.85M263.5 600.8v7.85M278.5 600.8v7.85M280.5 600.8v7.85M294.5 600.8v7.85M343.5 600.8v7.85M358.5 600.8v7.85M437.5 600.8v7.85M459.5 600.8v7.85M485.5 600.8v7.85M552.5 600.8v7.85M167.5 616.5v7.85M170.5 616.5v7.85M175.5 616.5v7.85M182.5 616.5v7.85M187.5 616.5v7.85M237.5 616.5v7.85M242.5 616.5v7.85M263.5 616.5v7.85M264.5 616.5v7.85M280.5 616.5v7.85M285.5 616.5v7.85M300.5 616.5v7.85M306.5 616.5v7.85M307.5 616.5v7.85M360.5 616.5v7.85M428.5 616.5v7.85M461.5 616.5v7.85M157.5 624.3v7.85M160.5 624.3v7.85M165.5 624.3v7.85M203.5 624.3v7.85M225.5 624.3v7.85M234.5 624.3v7.85M248.5 624.3v7.85M302.5 624.3v7.85M339.5 624.3v7.85M357.5 624.3v7.85M379.5 624.3v7.85M415.5 624.3v7.85M431.5 624.3v7.85M436.5 624.3v7.85M441.5 624.3v7.85M540.5 624.3v7.85M173.5 632.1v7.85M178.5 632.1v7.85M248.5 632.1v7.85M335.5 632.1v7.85M410.5 632.1v7.85M468.5 632.1v7.85M157.5 640.0v7.85M161.5 640.0v7.85M162.5 640.0v7.85M163.5 640.0v7.85M166.5 640.0v7.85M170.5 640.0v7.85M171.5 640.0v7.85M185.5 640.0v7.85M190.5 640.0v7.85M199.5 640.0v7.85M200.5 640.0v7.85M201.5 640.0v7.85M202.5 640.0v7.85M204.5 640.0v7.85M229.5 640.0v7.85M244.5 640.0v7.85M247.5 640.0v7.85M252.5 640.0v7.85M254.5 640.0v7.85M256.5 640.0v7.85M293.5 640.0v7.85M298.5 640.0v7.85M308.5 640.0v7.85M336.5 640.0v7.85M354.5 640.0v7.85M367.5 640.0v7.85M375.5 640.0v7.85M420.5 640.0v7.85M424.5 640.0v7.85M431.5 640.0v7.85M442.5 640.0v7.85M451.5 640.0v7.85M468.5 640.0v7.85M472.5 640.0v7.85M482.5 640.0v7.85M193.5 647.9v7.85M208.5 647.9v7.85M215.5 647.9v7.85M216.5 647.9v7.85M252.5 647.9v7.85M266.5 647.9v7.85M279.5 647.9v7.85M283.5 647.9v7.85M301.5 647.9v7.85M305.5 647.9v7.85M306.5 647.9v7.85M315.5 647.9v7.85M402.5 647.9v7.85M433.5 647.9v7.85" stroke="#d8e8f0" stroke-width="1.05" fill="none"/>
<path d="M168.5 498.7v7.85M323.5 538.0v7.85M479.5 538.0v7.85M383.5 545.8v7.85M465.5 545.8v7.85M476.5 545.8v7.85M282.5 553.6v7.85M383.5 553.6v7.85M386.5 553.6v7.85M547.5 553.6v7.85M369.5 561.5v7.85M417.5 561.5v7.85M572.5 561.5v7.85M361.5 577.2v7.85M355.5 592.9v7.85M295.5 600.8v7.85M337.5 616.5v7.85M427.5 640.0v7.85M454.5 640.0v7.85M450.5 647.9v7.85M454.5 647.9v7.85" stroke="#d8e0e0" stroke-width="1.05" fill="none"/>
<path d="M169.5 498.7v7.85M202.5 522.2v7.85M531.5 569.4v7.85M555.5 569.4v7.85M443.5 585.0v7.85M538.5 592.9v7.85M546.5 600.8v7.85M493.5 624.3v7.85M531.5 624.3v7.85M566.5 647.9v7.85M214.5 663.5v7.85" stroke="#f0a888" stroke-width="1.05" fill="none"/>
<path d="M171.5 498.7v7.85M157.5 530.1v7.85M208.5 530.1v7.85M160.5 538.0v7.85M173.5 538.0v7.85M179.5 538.0v7.85M190.5 538.0v7.85M236.5 538.0v7.85M250.5 538.0v7.85M261.5 538.0v7.85M301.5 538.0v7.85M306.5 538.0v7.85M546.5 553.6v7.85M502.5 561.5v7.85M559.5 561.5v7.85M375.5 569.4v7.85M512.5 569.4v7.85M560.5 569.4v7.85M570.5 569.4v7.85M512.5 585.0v7.85M545.5 585.0v7.85M415.5 592.9v7.85M500.5 592.9v7.85M523.5 592.9v7.85M530.5 592.9v7.85M551.5 600.8v7.85M554.5 600.8v7.85M433.5 616.5v7.85M459.5 616.5v7.85M542.5 616.5v7.85M559.5 624.3v7.85M334.5 632.1v7.85M409.5 632.1v7.85M464.5 632.1v7.85M521.5 640.0v7.85M560.5 640.0v7.85M563.5 640.0v7.85M432.5 647.9v7.85M501.5 647.9v7.85M505.5 647.9v7.85M510.5 647.9v7.85M572.5 647.9v7.85M237.5 663.5v7.85M241.5 663.5v7.85M245.5 663.5v7.85M266.5 663.5v7.85M275.5 663.5v7.85" stroke="#f8c098" stroke-width="1.05" fill="none"/>
<path d="M172.5 498.7v7.85M340.5 538.0v7.85M350.5 538.0v7.85M360.5 538.0v7.85M431.5 538.0v7.85M459.5 538.0v7.85M321.5 545.8v7.85M330.5 545.8v7.85M331.5 545.8v7.85M360.5 545.8v7.85M385.5 545.8v7.85M386.5 545.8v7.85M422.5 545.8v7.85M424.5 545.8v7.85M467.5 545.8v7.85M486.5 545.8v7.85M187.5 553.6v7.85M200.5 553.6v7.85M224.5 553.6v7.85M379.5 553.6v7.85M384.5 553.6v7.85M402.5 553.6v7.85M419.5 553.6v7.85M432.5 553.6v7.85M451.5 553.6v7.85M452.5 553.6v7.85M501.5 553.6v7.85M200.5 561.5v7.85M209.5 561.5v7.85M262.5 561.5v7.85M274.5 561.5v7.85M297.5 561.5v7.85M304.5 561.5v7.85M320.5 561.5v7.85M323.5 561.5v7.85M368.5 561.5v7.85M397.5 561.5v7.85M424.5 561.5v7.85M438.5 561.5v7.85M458.5 561.5v7.85M461.5 561.5v7.85M468.5 561.5v7.85M490.5 561.5v7.85M496.5 561.5v7.85M500.5 561.5v7.85M509.5 561.5v7.85M518.5 561.5v7.85M523.5 561.5v7.85M412.5 569.4v7.85M469.5 569.4v7.85M472.5 569.4v7.85M251.5 600.8v7.85M262.5 600.8v7.85M394.5 600.8v7.85M411.5 600.8v7.85M415.5 600.8v7.85M431.5 600.8v7.85M435.5 600.8v7.85M439.5 600.8v7.85M446.5 600.8v7.85M572.5 600.8v7.85M222.5 616.5v7.85M266.5 616.5v7.85M316.5 616.5v7.85M373.5 616.5v7.85M397.5 616.5v7.85M413.5 616.5v7.85M415.5 616.5v7.85M467.5 616.5v7.85M217.5 624.3v7.85M222.5 624.3v7.85M235.5 624.3v7.85M264.5 624.3v7.85M281.5 624.3v7.85M313.5 624.3v7.85M342.5 624.3v7.85M374.5 624.3v7.85M420.5 624.3v7.85M450.5 624.3v7.85M465.5 624.3v7.85M512.5 624.3v7.85M514.5 624.3v7.85M541.5 624.3v7.85M551.5 624.3v7.85M272.5 632.1v7.85M273.5 632.1v7.85M320.5 632.1v7.85M349.5 632.1v7.85M465.5 632.1v7.85M475.5 632.1v7.85M482.5 632.1v7.85M328.5 640.0v7.85M330.5 640.0v7.85M346.5 640.0v7.85M362.5 640.0v7.85M373.5 640.0v7.85M378.5 640.0v7.85M382.5 640.0v7.85M401.5 640.0v7.85M403.5 640.0v7.85M415.5 640.0v7.85M430.5 640.0v7.85M432.5 640.0v7.85M457.5 640.0v7.85M470.5 640.0v7.85M489.5 640.0v7.85M568.5 640.0v7.85M361.5 647.9v7.85M397.5 647.9v7.85M418.5 647.9v7.85M423.5 647.9v7.85M440.5 647.9v7.85M240.5 663.5v7.85M268.5 663.5v7.85" stroke="#f8f0f0" stroke-width="1.05" fill="none"/>
<path d="M174.5 498.7v7.85M158.5 514.4v7.85M165.5 514.4v7.85M216.5 514.4v7.85M213.5 530.1v7.85M503.5 569.4v7.85M543.5 577.2v7.85M554.5 585.0v7.85M569.5 592.9v7.85M566.5 600.8v7.85M544.5 608.6v7.85" stroke="#e8a898" stroke-width="1.05" fill="none"/>
<path d="M175.5 498.7v7.85M502.5 600.8v7.85M375.5 687.1v7.85" stroke="#e09898" stroke-width="1.05" fill="none"/>
<path d="M176.5 498.7v7.85M502.5 545.8v7.85M567.5 553.6v7.85M506.5 561.5v7.85M512.5 577.2v7.85M500.5 585.0v7.85M510.5 616.5v7.85M544.5 624.3v7.85M493.5 640.0v7.85M569.5 640.0v7.85M192.5 663.5v7.85" stroke="#f8b898" stroke-width="1.05" fill="none"/>
<path d="M178.5 498.7v7.85M205.5 498.7v7.85M351.5 530.1v7.85M352.5 530.1v7.85M357.5 530.1v7.85M389.5 530.1v7.85M393.5 530.1v7.85M400.5 530.1v7.85M489.5 530.1v7.85M209.5 545.8v7.85M325.5 545.8v7.85M334.5 545.8v7.85M380.5 545.8v7.85M403.5 545.8v7.85M431.5 545.8v7.85M261.5 553.6v7.85M267.5 553.6v7.85M268.5 553.6v7.85M291.5 553.6v7.85M324.5 553.6v7.85M337.5 553.6v7.85M340.5 553.6v7.85M425.5 553.6v7.85M448.5 553.6v7.85M171.5 561.5v7.85M184.5 561.5v7.85M186.5 561.5v7.85M247.5 561.5v7.85M259.5 561.5v7.85M352.5 561.5v7.85M235.5 569.4v7.85M298.5 569.4v7.85M300.5 569.4v7.85M317.5 569.4v7.85M340.5 569.4v7.85M457.5 569.4v7.85M466.5 569.4v7.85M482.5 569.4v7.85M259.5 577.2v7.85M270.5 577.2v7.85M306.5 577.2v7.85M468.5 577.2v7.85M193.5 585.0v7.85M211.5 585.0v7.85M258.5 585.0v7.85M264.5 585.0v7.85M286.5 585.0v7.85M298.5 585.0v7.85M301.5 585.0v7.85M331.5 585.0v7.85M338.5 585.0v7.85M360.5 585.0v7.85M373.5 585.0v7.85M422.5 585.0v7.85M246.5 592.9v7.85M269.5 592.9v7.85M307.5 592.9v7.85M311.5 592.9v7.85M350.5 592.9v7.85M356.5 592.9v7.85M370.5 592.9v7.85M406.5 592.9v7.85M468.5 592.9v7.85M486.5 592.9v7.85M168.5 600.8v7.85M247.5 600.8v7.85M338.5 600.8v7.85M362.5 600.8v7.85M408.5 600.8v7.85M333.5 616.5v7.85M376.5 616.5v7.85M378.5 616.5v7.85M430.5 616.5v7.85M474.5 616.5v7.85M489.5 616.5v7.85M238.5 624.3v7.85M274.5 624.3v7.85M306.5 624.3v7.85M310.5 624.3v7.85M346.5 624.3v7.85M426.5 624.3v7.85M437.5 624.3v7.85M445.5 624.3v7.85M452.5 624.3v7.85M473.5 624.3v7.85M193.5 632.1v7.85M278.5 632.1v7.85M423.5 632.1v7.85M167.5 640.0v7.85M173.5 640.0v7.85M180.5 640.0v7.85M236.5 640.0v7.85M250.5 640.0v7.85M270.5 640.0v7.85M285.5 640.0v7.85M301.5 640.0v7.85M160.5 647.9v7.85M200.5 647.9v7.85M404.5 647.9v7.85M445.5 647.9v7.85M486.5 647.9v7.85" stroke="#f0f0f8" stroke-width="1.05" fill="none"/>
<path d="M181.5 498.7v7.85M167.5 538.0v7.85M192.5 538.0v7.85M225.5 538.0v7.85M232.5 538.0v7.85M234.5 538.0v7.85M239.5 538.0v7.85M251.5 538.0v7.85M270.5 538.0v7.85M280.5 538.0v7.85M282.5 538.0v7.85M293.5 538.0v7.85M302.5 538.0v7.85M303.5 538.0v7.85M310.5 538.0v7.85M376.5 538.0v7.85M405.5 538.0v7.85M407.5 538.0v7.85M448.5 538.0v7.85M457.5 538.0v7.85M349.5 545.8v7.85M421.5 545.8v7.85M433.5 545.8v7.85M485.5 545.8v7.85M240.5 553.6v7.85M304.5 553.6v7.85M313.5 553.6v7.85M331.5 553.6v7.85M467.5 553.6v7.85M542.5 553.6v7.85M388.5 561.5v7.85M427.5 561.5v7.85M446.5 561.5v7.85M522.5 561.5v7.85M550.5 561.5v7.85M324.5 569.4v7.85M410.5 569.4v7.85M416.5 569.4v7.85M425.5 569.4v7.85M427.5 569.4v7.85M436.5 569.4v7.85M526.5 569.4v7.85M346.5 577.2v7.85M384.5 577.2v7.85M458.5 577.2v7.85M462.5 577.2v7.85M479.5 577.2v7.85M482.5 577.2v7.85M333.5 585.0v7.85M364.5 585.0v7.85M399.5 585.0v7.85M410.5 585.0v7.85M438.5 585.0v7.85M468.5 585.0v7.85M513.5 585.0v7.85M435.5 592.9v7.85M460.5 592.9v7.85M471.5 592.9v7.85M513.5 592.9v7.85M531.5 592.9v7.85M540.5 592.9v7.85M229.5 600.8v7.85M335.5 600.8v7.85M340.5 600.8v7.85M352.5 600.8v7.85M379.5 600.8v7.85M380.5 600.8v7.85M382.5 600.8v7.85M420.5 600.8v7.85M421.5 600.8v7.85M441.5 600.8v7.85M449.5 600.8v7.85M452.5 600.8v7.85M480.5 600.8v7.85M326.5 616.5v7.85M352.5 616.5v7.85M355.5 616.5v7.85M362.5 616.5v7.85M412.5 616.5v7.85M427.5 616.5v7.85M432.5 616.5v7.85M446.5 616.5v7.85M475.5 616.5v7.85M476.5 616.5v7.85M228.5 624.3v7.85M242.5 624.3v7.85M266.5 624.3v7.85M275.5 624.3v7.85M311.5 624.3v7.85M457.5 624.3v7.85M478.5 624.3v7.85M530.5 624.3v7.85M545.5 624.3v7.85M570.5 624.3v7.85M170.5 632.1v7.85M177.5 632.1v7.85M194.5 632.1v7.85M225.5 632.1v7.85M231.5 632.1v7.85M244.5 632.1v7.85M307.5 632.1v7.85M358.5 632.1v7.85M378.5 632.1v7.85M395.5 632.1v7.85M437.5 632.1v7.85M446.5 632.1v7.85M448.5 632.1v7.85M453.5 632.1v7.85M457.5 632.1v7.85M470.5 632.1v7.85M480.5 632.1v7.85M491.5 632.1v7.85M385.5 640.0v7.85M433.5 640.0v7.85M459.5 640.0v7.85M467.5 640.0v7.85M523.5 640.0v7.85M538.5 640.0v7.85M333.5 647.9v7.85M381.5 647.9v7.85M388.5 647.9v7.85M442.5 647.9v7.85M474.5 647.9v7.85M497.5 647.9v7.85M238.5 663.5v7.85M242.5 663.5v7.85M252.5 663.5v7.85M254.5 663.5v7.85M262.5 663.5v7.85M282.5 663.5v7.85M298.5 663.5v7.85M299.5 663.5v7.85M304.5 663.5v7.85M318.5 663.5v7.85" stroke="#f8e0d0" stroke-width="1.05" fill="none"/>
<path d="M183.5 498.7v7.85M182.5 522.2v7.85M529.5 553.6v7.85M494.5 585.0v7.85M518.5 585.0v7.85M544.5 585.0v7.85M572.5 608.6v7.85M540.5 616.5v7.85M528.5 640.0v7.85M498.5 647.9v7.85M507.5 647.9v7.85M459.5 679.2v7.85" stroke="#e08078" stroke-width="1.05" fill="none"/>
<path d="M185.5 498.7v7.85M554.5 530.1v7.85M503.5 553.6v7.85M555.5 561.5v7.85M523.5 569.4v7.85M515.5 577.2v7.85M536.5 608.6v7.85M567.5 608.6v7.85M293.5 632.1v7.85M571.5 640.0v7.85M533.5 647.9v7.85M558.5 647.9v7.85M323.5 655.7v7.85" stroke="#f0b090" stroke-width="1.05" fill="none"/>
<path d="M187.5 498.7v7.85M571.5 530.1v7.85M157.5 538.0v7.85M159.5 538.0v7.85M162.5 538.0v7.85M199.5 538.0v7.85M210.5 538.0v7.85M218.5 538.0v7.85M226.5 538.0v7.85M247.5 538.0v7.85M260.5 538.0v7.85M269.5 538.0v7.85M278.5 538.0v7.85M283.5 538.0v7.85M290.5 538.0v7.85M305.5 538.0v7.85M314.5 538.0v7.85M392.5 538.0v7.85M416.5 538.0v7.85M423.5 538.0v7.85M478.5 538.0v7.85M324.5 545.8v7.85M376.5 545.8v7.85M230.5 553.6v7.85M539.5 553.6v7.85M562.5 553.6v7.85M355.5 561.5v7.85M479.5 561.5v7.85M481.5 561.5v7.85M531.5 561.5v7.85M567.5 561.5v7.85M347.5 569.4v7.85M401.5 569.4v7.85M440.5 569.4v7.85M444.5 569.4v7.85M363.5 577.2v7.85M395.5 577.2v7.85M423.5 577.2v7.85M456.5 577.2v7.85M378.5 585.0v7.85M386.5 585.0v7.85M423.5 585.0v7.85M433.5 585.0v7.85M482.5 585.0v7.85M467.5 592.9v7.85M332.5 600.8v7.85M334.5 600.8v7.85M407.5 600.8v7.85M288.5 616.5v7.85M470.5 616.5v7.85M491.5 616.5v7.85M414.5 624.3v7.85M435.5 624.3v7.85M523.5 624.3v7.85M553.5 624.3v7.85M162.5 632.1v7.85M253.5 632.1v7.85M376.5 632.1v7.85M400.5 632.1v7.85M401.5 632.1v7.85M449.5 632.1v7.85M451.5 632.1v7.85M479.5 632.1v7.85M323.5 640.0v7.85M411.5 640.0v7.85M529.5 640.0v7.85M567.5 640.0v7.85M366.5 647.9v7.85M387.5 647.9v7.85M391.5 647.9v7.85M395.5 647.9v7.85M447.5 647.9v7.85M449.5 647.9v7.85M476.5 647.9v7.85M499.5 647.9v7.85M564.5 647.9v7.85M228.5 663.5v7.85M256.5 663.5v7.85" stroke="#f8d8c8" stroke-width="1.05" fill="none"/>
<path d="M189.5 498.7v7.85M214.5 498.7v7.85M327.5 530.1v7.85M329.5 530.1v7.85M332.5 530.1v7.85M333.5 530.1v7.85M341.5 530.1v7.85M348.5 530.1v7.85M358.5 530.1v7.85M365.5 530.1v7.85M366.5 530.1v7.85M369.5 530.1v7.85M372.5 530.1v7.85M379.5 530.1v7.85M381.5 530.1v7.85M388.5 530.1v7.85M394.5 530.1v7.85M397.5 530.1v7.85M399.5 530.1v7.85M402.5 530.1v7.85M407.5 530.1v7.85M409.5 530.1v7.85M425.5 530.1v7.85M428.5 530.1v7.85M430.5 530.1v7.85M433.5 530.1v7.85M467.5 530.1v7.85M469.5 530.1v7.85M471.5 530.1v7.85M480.5 530.1v7.85M487.5 530.1v7.85M488.5 530.1v7.85M386.5 538.0v7.85M395.5 538.0v7.85M428.5 538.0v7.85M438.5 538.0v7.85M441.5 538.0v7.85M449.5 538.0v7.85M462.5 538.0v7.85M159.5 545.8v7.85M198.5 545.8v7.85M218.5 545.8v7.85M236.5 545.8v7.85M248.5 545.8v7.85M289.5 545.8v7.85M328.5 545.8v7.85M332.5 545.8v7.85M350.5 545.8v7.85M357.5 545.8v7.85M362.5 545.8v7.85M390.5 545.8v7.85M483.5 545.8v7.85M172.5 553.6v7.85M212.5 553.6v7.85M217.5 553.6v7.85M219.5 553.6v7.85M256.5 553.6v7.85M285.5 553.6v7.85M286.5 553.6v7.85M312.5 553.6v7.85M322.5 553.6v7.85M327.5 553.6v7.85M332.5 553.6v7.85M349.5 553.6v7.85M391.5 553.6v7.85M399.5 553.6v7.85M157.5 561.5v7.85M162.5 561.5v7.85M182.5 561.5v7.85M197.5 561.5v7.85M337.5 561.5v7.85M459.5 561.5v7.85M464.5 561.5v7.85M474.5 561.5v7.85M225.5 569.4v7.85M238.5 569.4v7.85M239.5 569.4v7.85M297.5 569.4v7.85M307.5 569.4v7.85M315.5 569.4v7.85M331.5 569.4v7.85M363.5 569.4v7.85M379.5 569.4v7.85M389.5 569.4v7.85M397.5 569.4v7.85M434.5 569.4v7.85M485.5 569.4v7.85M226.5 577.2v7.85M229.5 577.2v7.85M267.5 577.2v7.85M278.5 577.2v7.85M279.5 577.2v7.85M307.5 577.2v7.85M312.5 577.2v7.85M332.5 577.2v7.85M344.5 577.2v7.85M352.5 577.2v7.85M378.5 577.2v7.85M390.5 577.2v7.85M440.5 577.2v7.85M453.5 577.2v7.85M457.5 577.2v7.85M157.5 585.0v7.85M161.5 585.0v7.85M197.5 585.0v7.85M202.5 585.0v7.85M208.5 585.0v7.85M210.5 585.0v7.85M212.5 585.0v7.85M225.5 585.0v7.85M229.5 585.0v7.85M246.5 585.0v7.85M257.5 585.0v7.85M260.5 585.0v7.85M265.5 585.0v7.85M271.5 585.0v7.85M277.5 585.0v7.85M278.5 585.0v7.85M300.5 585.0v7.85M306.5 585.0v7.85M307.5 585.0v7.85M337.5 585.0v7.85M396.5 585.0v7.85M405.5 585.0v7.85M462.5 585.0v7.85M196.5 592.9v7.85M339.5 592.9v7.85M419.5 592.9v7.85M441.5 592.9v7.85M181.5 600.8v7.85M398.5 600.8v7.85M405.5 600.8v7.85M427.5 600.8v7.85M434.5 600.8v7.85M453.5 600.8v7.85M455.5 600.8v7.85M484.5 600.8v7.85M188.5 616.5v7.85M192.5 616.5v7.85M210.5 616.5v7.85M220.5 616.5v7.85M351.5 616.5v7.85M408.5 616.5v7.85M443.5 616.5v7.85M462.5 616.5v7.85M183.5 624.3v7.85M213.5 624.3v7.85M227.5 624.3v7.85M363.5 624.3v7.85M417.5 624.3v7.85M460.5 624.3v7.85M467.5 624.3v7.85M486.5 624.3v7.85M224.5 632.1v7.85M245.5 632.1v7.85M251.5 632.1v7.85M382.5 632.1v7.85M335.5 640.0v7.85M390.5 640.0v7.85M445.5 640.0v7.85M456.5 640.0v7.85M466.5 640.0v7.85M480.5 640.0v7.85M173.5 647.9v7.85M186.5 647.9v7.85M246.5 647.9v7.85M263.5 647.9v7.85M267.5 647.9v7.85M269.5 647.9v7.85M295.5 647.9v7.85M341.5 647.9v7.85M427.5 647.9v7.85M484.5 647.9v7.85M491.5 647.9v7.85" stroke="#e0f0f0" stroke-width="1.05" fill="none"/>
<path d="M191.5 498.7v7.85M509.5 616.5v7.85" stroke="#d87880" stroke-width="1.05" fill="none"/>
<path d="M192.5 498.7v7.85M201.5 498.7v7.85M201.5 522.2v7.85M172.5 530.1v7.85M574.5 553.6v7.85M543.5 585.0v7.85M411.5 632.1v7.85" stroke="#e89888" stroke-width="1.05" fill="none"/>
<path d="M197.5 498.7v7.85M510.5 545.8v7.85M511.5 569.4v7.85M540.5 569.4v7.85M541.5 569.4v7.85M557.5 569.4v7.85M211.5 663.5v7.85" stroke="#e88860" stroke-width="1.05" fill="none"/>
<path d="M198.5 498.7v7.85M508.5 561.5v7.85M572.5 624.3v7.85M385.5 632.1v7.85" stroke="#e0c8b8" stroke-width="1.05" fill="none"/>
<path d="M199.5 498.7v7.85M159.5 514.4v7.85M255.5 687.1v7.85" stroke="#d06868" stroke-width="1.05" fill="none"/>
<path d="M200.5 498.7v7.85M493.5 530.1v7.85M510.5 530.1v7.85M511.5 530.1v7.85M529.5 530.1v7.85M537.5 530.1v7.85M542.5 530.1v7.85M545.5 530.1v7.85M556.5 530.1v7.85M561.5 530.1v7.85M573.5 530.1v7.85M327.5 538.0v7.85M328.5 538.0v7.85M339.5 538.0v7.85M349.5 538.0v7.85M382.5 538.0v7.85M390.5 538.0v7.85M424.5 538.0v7.85M427.5 538.0v7.85M480.5 538.0v7.85M229.5 545.8v7.85M253.5 545.8v7.85M382.5 545.8v7.85M436.5 545.8v7.85M440.5 545.8v7.85M478.5 545.8v7.85M158.5 553.6v7.85M162.5 553.6v7.85M164.5 553.6v7.85M169.5 553.6v7.85M171.5 553.6v7.85M193.5 553.6v7.85M225.5 553.6v7.85M232.5 553.6v7.85M236.5 553.6v7.85M255.5 553.6v7.85M257.5 553.6v7.85M259.5 553.6v7.85M279.5 553.6v7.85M336.5 553.6v7.85M353.5 553.6v7.85M356.5 553.6v7.85M392.5 553.6v7.85M411.5 553.6v7.85M424.5 553.6v7.85M431.5 553.6v7.85M434.5 553.6v7.85M484.5 553.6v7.85M225.5 561.5v7.85M254.5 561.5v7.85M260.5 561.5v7.85M264.5 561.5v7.85M295.5 561.5v7.85M301.5 561.5v7.85M315.5 561.5v7.85M321.5 561.5v7.85M349.5 561.5v7.85M391.5 561.5v7.85M398.5 561.5v7.85M400.5 561.5v7.85M513.5 561.5v7.85M201.5 569.4v7.85M226.5 569.4v7.85M231.5 569.4v7.85M237.5 569.4v7.85M242.5 569.4v7.85M252.5 569.4v7.85M259.5 569.4v7.85M273.5 569.4v7.85M293.5 569.4v7.85M299.5 569.4v7.85M301.5 569.4v7.85M313.5 569.4v7.85M325.5 569.4v7.85M345.5 569.4v7.85M346.5 569.4v7.85M361.5 569.4v7.85M366.5 569.4v7.85M398.5 569.4v7.85M405.5 569.4v7.85M430.5 569.4v7.85M432.5 569.4v7.85M465.5 569.4v7.85M467.5 569.4v7.85M486.5 569.4v7.85M489.5 569.4v7.85M255.5 577.2v7.85M280.5 577.2v7.85M283.5 577.2v7.85M285.5 577.2v7.85M287.5 577.2v7.85M327.5 577.2v7.85M335.5 577.2v7.85M347.5 577.2v7.85M374.5 577.2v7.85M470.5 577.2v7.85M477.5 577.2v7.85M181.5 585.0v7.85M198.5 585.0v7.85M232.5 585.0v7.85M244.5 585.0v7.85M280.5 585.0v7.85M283.5 585.0v7.85M295.5 585.0v7.85M304.5 585.0v7.85M318.5 585.0v7.85M350.5 585.0v7.85M393.5 585.0v7.85M439.5 585.0v7.85M450.5 585.0v7.85M467.5 585.0v7.85M487.5 585.0v7.85M166.5 592.9v7.85M177.5 592.9v7.85M178.5 592.9v7.85M179.5 592.9v7.85M191.5 592.9v7.85M206.5 592.9v7.85M237.5 592.9v7.85M248.5 592.9v7.85M249.5 592.9v7.85M256.5 592.9v7.85M259.5 592.9v7.85M283.5 592.9v7.85M293.5 592.9v7.85M296.5 592.9v7.85M299.5 592.9v7.85M348.5 592.9v7.85M367.5 592.9v7.85M437.5 592.9v7.85M473.5 592.9v7.85M487.5 592.9v7.85M164.5 600.8v7.85M165.5 600.8v7.85M175.5 600.8v7.85M207.5 600.8v7.85M216.5 600.8v7.85M231.5 600.8v7.85M246.5 600.8v7.85M252.5 600.8v7.85M270.5 600.8v7.85M273.5 600.8v7.85M289.5 600.8v7.85M291.5 600.8v7.85M315.5 600.8v7.85M316.5 600.8v7.85M317.5 600.8v7.85M318.5 600.8v7.85M320.5 600.8v7.85M325.5 600.8v7.85M327.5 600.8v7.85M330.5 600.8v7.85M351.5 600.8v7.85M428.5 600.8v7.85M438.5 600.8v7.85M460.5 600.8v7.85M158.5 616.5v7.85M164.5 616.5v7.85M186.5 616.5v7.85M206.5 616.5v7.85M239.5 616.5v7.85M261.5 616.5v7.85M270.5 616.5v7.85M273.5 616.5v7.85M282.5 616.5v7.85M289.5 616.5v7.85M293.5 616.5v7.85M356.5 616.5v7.85M453.5 616.5v7.85M488.5 616.5v7.85M158.5 624.3v7.85M169.5 624.3v7.85M178.5 624.3v7.85M192.5 624.3v7.85M195.5 624.3v7.85M211.5 624.3v7.85M216.5 624.3v7.85M246.5 624.3v7.85M298.5 624.3v7.85M322.5 624.3v7.85M326.5 624.3v7.85M337.5 624.3v7.85M372.5 624.3v7.85M373.5 624.3v7.85M390.5 624.3v7.85M423.5 624.3v7.85M490.5 624.3v7.85M494.5 624.3v7.85M159.5 632.1v7.85M196.5 632.1v7.85M237.5 632.1v7.85M241.5 632.1v7.85M268.5 632.1v7.85M285.5 632.1v7.85M289.5 632.1v7.85M323.5 632.1v7.85M325.5 632.1v7.85M351.5 632.1v7.85M456.5 632.1v7.85M459.5 632.1v7.85M165.5 640.0v7.85M175.5 640.0v7.85M177.5 640.0v7.85M181.5 640.0v7.85M183.5 640.0v7.85M186.5 640.0v7.85M194.5 640.0v7.85M195.5 640.0v7.85M196.5 640.0v7.85M208.5 640.0v7.85M211.5 640.0v7.85M213.5 640.0v7.85M224.5 640.0v7.85M225.5 640.0v7.85M237.5 640.0v7.85M255.5 640.0v7.85M257.5 640.0v7.85M259.5 640.0v7.85M260.5 640.0v7.85M289.5 640.0v7.85M294.5 640.0v7.85M307.5 640.0v7.85M316.5 640.0v7.85M359.5 640.0v7.85M380.5 640.0v7.85M412.5 640.0v7.85M418.5 640.0v7.85M159.5 647.9v7.85M182.5 647.9v7.85M195.5 647.9v7.85M198.5 647.9v7.85M229.5 647.9v7.85M261.5 647.9v7.85M271.5 647.9v7.85M288.5 647.9v7.85M291.5 647.9v7.85M318.5 647.9v7.85M354.5 647.9v7.85M383.5 647.9v7.85M430.5 647.9v7.85" stroke="#e0e8f0" stroke-width="1.05" fill="none"/>
<path d="M208.5 498.7v7.85M158.5 538.0v7.85M170.5 538.0v7.85M177.5 538.0v7.85M183.5 538.0v7.85M195.5 538.0v7.85M209.5 538.0v7.85M212.5 538.0v7.85M318.5 538.0v7.85M351.5 545.8v7.85M500.5 545.8v7.85M555.5 545.8v7.85M560.5 545.8v7.85M176.5 553.6v7.85M325.5 553.6v7.85M511.5 553.6v7.85M554.5 553.6v7.85M505.5 561.5v7.85M554.5 561.5v7.85M515.5 569.4v7.85M548.5 569.4v7.85M508.5 577.2v7.85M521.5 585.0v7.85M533.5 585.0v7.85M436.5 592.9v7.85M499.5 592.9v7.85M511.5 592.9v7.85M537.5 592.9v7.85M566.5 592.9v7.85M376.5 600.8v7.85M521.5 600.8v7.85M547.5 600.8v7.85M507.5 616.5v7.85M526.5 616.5v7.85M537.5 616.5v7.85M570.5 616.5v7.85M572.5 616.5v7.85M286.5 624.3v7.85M505.5 624.3v7.85M518.5 624.3v7.85M562.5 624.3v7.85M564.5 624.3v7.85M567.5 624.3v7.85M229.5 632.1v7.85M438.5 632.1v7.85M555.5 640.0v7.85M385.5 647.9v7.85M500.5 647.9v7.85M544.5 647.9v7.85M563.5 647.9v7.85M229.5 663.5v7.85M231.5 663.5v7.85M234.5 663.5v7.85M235.5 663.5v7.85M258.5 663.5v7.85M285.5 663.5v7.85M291.5 663.5v7.85" stroke="#f8c0a0" stroke-width="1.05" fill="none"/>
<path d="M210.5 498.7v7.85M500.5 600.8v7.85M544.5 600.8v7.85" stroke="#e0a098" stroke-width="1.05" fill="none"/>
<path d="M211.5 498.7v7.85M160.5 506.6v7.85M173.5 530.1v7.85M186.5 530.1v7.85M195.5 530.1v7.85M202.5 530.1v7.85M203.5 530.1v7.85M565.5 545.8v7.85M570.5 545.8v7.85M542.5 569.4v7.85M549.5 569.4v7.85M553.5 569.4v7.85M566.5 569.4v7.85M569.5 569.4v7.85M568.5 577.2v7.85M525.5 585.0v7.85M539.5 585.0v7.85M522.5 592.9v7.85M535.5 600.8v7.85M497.5 616.5v7.85M500.5 640.0v7.85M177.5 663.5v7.85" stroke="#f09058" stroke-width="1.05" fill="none"/>
<path d="M212.5 498.7v7.85M367.5 538.0v7.85M464.5 545.8v7.85M460.5 553.6v7.85M232.5 600.8v7.85M332.5 616.5v7.85M395.5 616.5v7.85" stroke="#d0c8c0" stroke-width="1.05" fill="none"/>
<path d="M216.5 498.7v7.85M361.5 679.2v7.85" stroke="#c84048" stroke-width="1.05" fill="none"/>
<path d="M218.5 498.7v7.85M161.5 538.0v7.85M164.5 538.0v7.85M168.5 538.0v7.85M194.5 538.0v7.85M215.5 538.0v7.85M228.5 538.0v7.85M238.5 538.0v7.85M240.5 538.0v7.85M241.5 538.0v7.85M267.5 538.0v7.85M299.5 538.0v7.85M313.5 538.0v7.85M317.5 538.0v7.85M396.5 545.8v7.85M493.5 545.8v7.85M512.5 545.8v7.85M531.5 545.8v7.85M573.5 545.8v7.85M525.5 553.6v7.85M541.5 553.6v7.85M552.5 553.6v7.85M560.5 553.6v7.85M402.5 561.5v7.85M406.5 561.5v7.85M526.5 561.5v7.85M394.5 569.4v7.85M496.5 569.4v7.85M519.5 569.4v7.85M520.5 569.4v7.85M387.5 577.2v7.85M411.5 577.2v7.85M452.5 585.0v7.85M397.5 592.9v7.85M533.5 592.9v7.85M341.5 600.8v7.85M518.5 600.8v7.85M421.5 616.5v7.85M465.5 616.5v7.85M472.5 616.5v7.85M508.5 616.5v7.85M549.5 616.5v7.85M571.5 616.5v7.85M495.5 624.3v7.85M511.5 624.3v7.85M260.5 632.1v7.85M330.5 632.1v7.85M445.5 632.1v7.85M447.5 632.1v7.85M472.5 632.1v7.85M498.5 640.0v7.85M519.5 640.0v7.85M520.5 640.0v7.85M533.5 640.0v7.85M326.5 647.9v7.85M389.5 647.9v7.85M410.5 647.9v7.85M162.5 663.5v7.85M230.5 663.5v7.85M280.5 663.5v7.85M283.5 663.5v7.85M293.5 663.5v7.85M309.5 663.5v7.85" stroke="#f8c8a8" stroke-width="1.05" fill="none"/>
<path d="M230.5 498.7v7.85" stroke="#e09070" stroke-width="1.05" fill="none"/>
<path d="M237.5 498.7v7.85M205.5 506.6v7.85M163.5 522.2v7.85M574.5 592.9v7.85M208.5 663.5v7.85" stroke="#e09088" stroke-width="1.05" fill="none"/>
<path d="M291.5 498.7v7.85" stroke="#d08898" stroke-width="1.05" fill="none"/>
<path d="M333.5 498.7v7.85M413.5 671.4v7.85" stroke="#d8a0a8" stroke-width="1.05" fill="none"/>
<path d="M417.5 498.7v7.85" stroke="#d05058" stroke-width="1.05" fill="none"/>
<path d="M445.5 498.7v7.85M559.5 577.2v7.85M439.5 647.9v7.85" stroke="#f0c8b8" stroke-width="1.05" fill="none"/>
<path d="M476.5 498.7v7.85M528.5 569.4v7.85M567.5 569.4v7.85M535.5 616.5v7.85M509.5 640.0v7.85M271.5 687.1v7.85" stroke="#e08068" stroke-width="1.05" fill="none"/>
<path d="M546.5 498.7v7.85" stroke="#d8a0a0" stroke-width="1.05" fill="none"/>
<path d="M158.5 506.6v7.85M171.5 514.4v7.85M173.5 514.4v7.85M187.5 514.4v7.85M219.5 522.2v7.85M505.5 545.8v7.85M552.5 569.4v7.85M497.5 624.3v7.85" stroke="#e07040" stroke-width="1.05" fill="none"/>
<path d="M159.5 506.6v7.85M169.5 506.6v7.85M191.5 506.6v7.85M170.5 514.4v7.85M189.5 514.4v7.85M210.5 522.2v7.85M199.5 530.1v7.85M212.5 530.1v7.85M516.5 545.8v7.85M571.5 569.4v7.85M530.5 577.2v7.85M498.5 592.9v7.85M498.5 616.5v7.85M548.5 616.5v7.85M566.5 616.5v7.85M183.5 663.5v7.85" stroke="#e06840" stroke-width="1.05" fill="none"/>
<path d="M162.5 506.6v7.85M203.5 506.6v7.85M212.5 506.6v7.85M213.5 506.6v7.85M166.5 514.4v7.85M169.5 514.4v7.85M179.5 514.4v7.85M185.5 514.4v7.85M192.5 514.4v7.85M197.5 514.4v7.85M218.5 514.4v7.85M167.5 530.1v7.85M191.5 530.1v7.85M514.5 545.8v7.85M494.5 569.4v7.85M497.5 569.4v7.85M509.5 577.2v7.85M542.5 577.2v7.85M547.5 577.2v7.85M564.5 577.2v7.85M522.5 585.0v7.85M553.5 585.0v7.85M557.5 585.0v7.85M545.5 592.9v7.85M561.5 600.8v7.85M195.5 663.5v7.85M206.5 663.5v7.85" stroke="#e06040" stroke-width="1.05" fill="none"/>
<path d="M163.5 506.6v7.85M166.5 506.6v7.85M192.5 506.6v7.85M193.5 506.6v7.85M194.5 506.6v7.85M199.5 506.6v7.85M218.5 506.6v7.85M169.5 663.5v7.85M198.5 663.5v7.85" stroke="#b82030" stroke-width="1.05" fill="none"/>
<path d="M164.5 506.6v7.85M175.5 522.2v7.85M164.5 530.1v7.85M192.5 530.1v7.85M523.5 545.8v7.85M525.5 545.8v7.85M556.5 545.8v7.85M564.5 545.8v7.85M549.5 553.6v7.85M499.5 569.4v7.85M530.5 569.4v7.85M559.5 569.4v7.85M504.5 577.2v7.85M521.5 577.2v7.85M544.5 577.2v7.85M570.5 577.2v7.85M536.5 585.0v7.85M537.5 585.0v7.85M525.5 616.5v7.85M531.5 616.5v7.85M551.5 616.5v7.85M543.5 640.0v7.85M201.5 663.5v7.85M213.5 663.5v7.85" stroke="#f08850" stroke-width="1.05" fill="none"/>
<path d="M168.5 506.6v7.85M171.5 506.6v7.85M180.5 506.6v7.85M211.5 506.6v7.85M178.5 514.4v7.85M195.5 514.4v7.85M207.5 514.4v7.85M167.5 522.2v7.85M194.5 522.2v7.85M198.5 522.2v7.85M528.5 545.8v7.85M538.5 569.4v7.85M502.5 577.2v7.85M510.5 585.0v7.85M524.5 616.5v7.85M567.5 616.5v7.85M565.5 647.9v7.85" stroke="#c83838" stroke-width="1.05" fill="none"/>
<path d="M172.5 506.6v7.85M170.5 530.1v7.85M205.5 530.1v7.85M550.5 545.8v7.85M554.5 569.4v7.85M569.5 577.2v7.85M501.5 616.5v7.85" stroke="#f08048" stroke-width="1.05" fill="none"/>
<path d="M175.5 506.6v7.85M177.5 506.6v7.85M179.5 506.6v7.85M210.5 506.6v7.85M191.5 514.4v7.85M160.5 522.2v7.85M162.5 522.2v7.85M170.5 522.2v7.85M173.5 522.2v7.85M178.5 522.2v7.85M195.5 522.2v7.85M178.5 530.1v7.85M548.5 545.8v7.85M534.5 553.6v7.85M564.5 553.6v7.85M571.5 553.6v7.85M561.5 585.0v7.85M573.5 585.0v7.85M543.5 616.5v7.85M562.5 647.9v7.85M199.5 663.5v7.85M200.5 663.5v7.85" stroke="#d04838" stroke-width="1.05" fill="none"/>
<path d="M178.5 506.6v7.85M181.5 506.6v7.85M162.5 514.4v7.85M163.5 514.4v7.85M206.5 514.4v7.85M208.5 514.4v7.85M211.5 514.4v7.85M215.5 514.4v7.85M165.5 522.2v7.85M171.5 522.2v7.85M174.5 522.2v7.85M196.5 522.2v7.85M197.5 522.2v7.85M211.5 522.2v7.85M516.5 553.6v7.85M566.5 577.2v7.85M541.5 585.0v7.85M494.5 616.5v7.85M519.5 616.5v7.85M532.5 616.5v7.85M562.5 616.5v7.85" stroke="#d85038" stroke-width="1.05" fill="none"/>
<path d="M182.5 506.6v7.85M219.5 506.6v7.85M520.5 624.3v7.85M536.5 647.9v7.85M478.5 655.7v7.85M365.5 687.1v7.85" stroke="#d89098" stroke-width="1.05" fill="none"/>
<path d="M183.5 506.6v7.85M214.5 506.6v7.85M175.5 514.4v7.85M177.5 514.4v7.85M201.5 530.1v7.85M204.5 530.1v7.85M501.5 569.4v7.85M496.5 577.2v7.85" stroke="#e87040" stroke-width="1.05" fill="none"/>
<path d="M184.5 506.6v7.85M199.5 514.4v7.85M528.5 553.6v7.85M511.5 561.5v7.85M518.5 616.5v7.85M570.5 647.9v7.85" stroke="#d88088" stroke-width="1.05" fill="none"/>
<path d="M186.5 506.6v7.85M201.5 506.6v7.85M205.5 514.4v7.85M157.5 522.2v7.85M200.5 522.2v7.85M158.5 530.1v7.85M159.5 530.1v7.85M171.5 530.1v7.85M216.5 530.1v7.85M220.5 530.1v7.85M524.5 545.8v7.85M537.5 569.4v7.85M531.5 577.2v7.85M546.5 577.2v7.85M493.5 616.5v7.85M536.5 616.5v7.85" stroke="#e87840" stroke-width="1.05" fill="none"/>
<path d="M188.5 506.6v7.85M220.5 522.2v7.85M496.5 545.8v7.85M545.5 545.8v7.85M567.5 577.2v7.85M530.5 640.0v7.85" stroke="#f08848" stroke-width="1.05" fill="none"/>
<path d="M190.5 506.6v7.85M516.5 600.8v7.85M545.5 616.5v7.85M521.5 624.3v7.85M251.5 663.5v7.85M193.5 687.1v7.85M383.5 687.1v7.85" stroke="#e08880" stroke-width="1.05" fill="none"/>
<path d="M195.5 506.6v7.85M199.5 522.2v7.85M207.5 522.2v7.85M514.5 616.5v7.85" stroke="#c02838" stroke-width="1.05" fill="none"/>
<path d="M197.5 506.6v7.85M176.5 522.2v7.85" stroke="#e05840" stroke-width="1.05" fill="none"/>
<path d="M198.5 506.6v7.85" stroke="#c02830" stroke-width="1.05" fill="none"/>
<path d="M200.5 506.6v7.85M169.5 530.1v7.85" stroke="#e098a0" stroke-width="1.05" fill="none"/>
<path d="M202.5 506.6v7.85" stroke="#d890a0" stroke-width="1.05" fill="none"/>
<path d="M204.5 506.6v7.85M494.5 545.8v7.85M562.5 569.4v7.85M541.5 577.2v7.85M175.5 663.5v7.85M219.5 663.5v7.85" stroke="#e08070" stroke-width="1.05" fill="none"/>
<path d="M206.5 506.6v7.85" stroke="#e098a8" stroke-width="1.05" fill="none"/>
<path d="M207.5 506.6v7.85M211.5 530.1v7.85" stroke="#d03838" stroke-width="1.05" fill="none"/>
<path d="M209.5 506.6v7.85M220.5 506.6v7.85M157.5 514.4v7.85M182.5 514.4v7.85M186.5 514.4v7.85M200.5 514.4v7.85M161.5 522.2v7.85M164.5 522.2v7.85M187.5 522.2v7.85M179.5 530.1v7.85M503.5 616.5v7.85M193.5 663.5v7.85" stroke="#c83038" stroke-width="1.05" fill="none"/>
<path d="M360.5 506.6v7.85M202.5 514.4v7.85" stroke="#e09078" stroke-width="1.05" fill="none"/>
<path d="M550.5 506.6v7.85" stroke="#e8d8c0" stroke-width="1.05" fill="none"/>
<path d="M160.5 514.4v7.85M219.5 514.4v7.85M536.5 545.8v7.85M546.5 569.4v7.85M532.5 577.2v7.85M551.5 577.2v7.85M197.5 663.5v7.85" stroke="#e87850" stroke-width="1.05" fill="none"/>
<path d="M161.5 514.4v7.85M168.5 514.4v7.85M180.5 514.4v7.85M188.5 514.4v7.85M159.5 522.2v7.85M180.5 522.2v7.85M183.5 530.1v7.85M184.5 530.1v7.85M521.5 561.5v7.85M506.5 577.2v7.85M555.5 577.2v7.85M529.5 585.0v7.85M543.5 624.3v7.85M537.5 640.0v7.85M178.5 663.5v7.85M196.5 663.5v7.85M215.5 663.5v7.85" stroke="#d85840" stroke-width="1.05" fill="none"/>
<path d="M164.5 514.4v7.85M214.5 514.4v7.85M562.5 585.0v7.85" stroke="#c03038" stroke-width="1.05" fill="none"/>
<path d="M172.5 514.4v7.85M547.5 545.8v7.85M505.5 585.0v7.85M553.5 592.9v7.85M569.5 616.5v7.85M179.5 663.5v7.85M202.5 663.5v7.85" stroke="#d85848" stroke-width="1.05" fill="none"/>
<path d="M176.5 514.4v7.85M183.5 514.4v7.85M529.5 592.9v7.85M220.5 663.5v7.85" stroke="#e09080" stroke-width="1.05" fill="none"/>
<path d="M181.5 514.4v7.85" stroke="#d06070" stroke-width="1.05" fill="none"/>
<path d="M184.5 514.4v7.85M190.5 514.4v7.85M193.5 514.4v7.85M198.5 514.4v7.85M220.5 514.4v7.85M166.5 522.2v7.85M185.5 522.2v7.85M215.5 522.2v7.85M217.5 522.2v7.85M161.5 530.1v7.85M210.5 530.1v7.85M529.5 569.4v7.85M530.5 585.0v7.85M535.5 585.0v7.85M542.5 585.0v7.85M504.5 592.9v7.85M550.5 616.5v7.85M558.5 616.5v7.85M502.5 647.9v7.85M167.5 663.5v7.85M181.5 663.5v7.85" stroke="#d04038" stroke-width="1.05" fill="none"/>
<path d="M194.5 514.4v7.85M172.5 522.2v7.85M571.5 585.0v7.85M174.5 663.5v7.85M217.5 663.5v7.85" stroke="#d86048" stroke-width="1.05" fill="none"/>
<path d="M196.5 514.4v7.85M191.5 522.2v7.85" stroke="#c02030" stroke-width="1.05" fill="none"/>
<path d="M210.5 514.4v7.85M213.5 514.4v7.85M169.5 522.2v7.85M212.5 522.2v7.85M495.5 545.8v7.85M572.5 569.4v7.85M551.5 585.0v7.85M573.5 600.8v7.85M565.5 640.0v7.85M543.5 647.9v7.85" stroke="#d85838" stroke-width="1.05" fill="none"/>
<path d="M212.5 514.4v7.85M554.5 577.2v7.85M505.5 592.9v7.85M513.5 640.0v7.85M517.5 640.0v7.85M184.5 663.5v7.85" stroke="#d05040" stroke-width="1.05" fill="none"/>
<path d="M326.5 514.4v7.85" stroke="#d87868" stroke-width="1.05" fill="none"/>
<path d="M168.5 522.2v7.85M504.5 616.5v7.85" stroke="#c84038" stroke-width="1.05" fill="none"/>
<path d="M184.5 522.2v7.85M540.5 545.8v7.85M522.5 553.6v7.85M527.5 577.2v7.85M537.5 577.2v7.85M553.5 577.2v7.85M538.5 585.0v7.85M555.5 616.5v7.85M557.5 616.5v7.85M565.5 616.5v7.85M171.5 663.5v7.85M182.5 663.5v7.85" stroke="#e06848" stroke-width="1.05" fill="none"/>
<path d="M186.5 522.2v7.85M522.5 545.8v7.85M500.5 553.6v7.85M535.5 592.9v7.85" stroke="#e06850" stroke-width="1.05" fill="none"/>
<path d="M188.5 522.2v7.85M204.5 522.2v7.85M510.5 577.2v7.85M501.5 585.0v7.85M530.5 616.5v7.85M218.5 663.5v7.85M293.5 679.2v7.85" stroke="#e07050" stroke-width="1.05" fill="none"/>
<path d="M189.5 522.2v7.85M519.5 577.2v7.85M499.5 616.5v7.85M449.5 687.1v7.85" stroke="#e07058" stroke-width="1.05" fill="none"/>
<path d="M192.5 522.2v7.85M527.5 624.3v7.85M333.5 671.4v7.85" stroke="#d88888" stroke-width="1.05" fill="none"/>
<path d="M193.5 522.2v7.85M206.5 522.2v7.85M498.5 585.0v7.85M506.5 585.0v7.85M517.5 585.0v7.85M558.5 624.3v7.85M573.5 640.0v7.85" stroke="#d05038" stroke-width="1.05" fill="none"/>
<path d="M203.5 522.2v7.85M207.5 538.0v7.85M562.5 545.8v7.85M566.5 545.8v7.85M509.5 553.6v7.85M500.5 569.4v7.85M544.5 569.4v7.85M568.5 569.4v7.85M520.5 577.2v7.85M555.5 585.0v7.85M569.5 585.0v7.85M557.5 592.9v7.85M503.5 624.3v7.85M532.5 640.0v7.85M553.5 647.9v7.85" stroke="#f8b080" stroke-width="1.05" fill="none"/>
<path d="M216.5 522.2v7.85M186.5 663.5v7.85" stroke="#e07048" stroke-width="1.05" fill="none"/>
<path d="M218.5 522.2v7.85M542.5 647.9v7.85M207.5 663.5v7.85M356.5 687.1v7.85" stroke="#e09890" stroke-width="1.05" fill="none"/>
<path d="M268.5 522.2v7.85M504.5 522.2v7.85" stroke="#e8b898" stroke-width="1.05" fill="none"/>
<path d="M531.5 522.2v7.85" stroke="#e8b090" stroke-width="1.05" fill="none"/>
<path d="M160.5 530.1v7.85M187.5 530.1v7.85M537.5 545.8v7.85M536.5 592.9v7.85M547.5 624.3v7.85" stroke="#f0a060" stroke-width="1.05" fill="none"/>
<path d="M163.5 530.1v7.85M218.5 530.1v7.85M522.5 569.4v7.85" stroke="#f09050" stroke-width="1.05" fill="none"/>
<path d="M165.5 530.1v7.85M522.5 608.6v7.85M534.5 640.0v7.85" stroke="#e09090" stroke-width="1.05" fill="none"/>
<path d="M166.5 530.1v7.85M217.5 530.1v7.85M498.5 545.8v7.85M523.5 553.6v7.85M501.5 577.2v7.85M550.5 577.2v7.85M511.5 585.0v7.85M560.5 585.0v7.85M558.5 592.9v7.85M498.5 600.8v7.85M495.5 616.5v7.85M496.5 616.5v7.85M573.5 616.5v7.85M561.5 640.0v7.85M566.5 640.0v7.85M512.5 647.9v7.85M519.5 647.9v7.85M166.5 663.5v7.85M189.5 663.5v7.85M306.5 663.5v7.85" stroke="#f09860" stroke-width="1.05" fill="none"/>
<path d="M168.5 530.1v7.85M209.5 530.1v7.85M541.5 616.5v7.85M159.5 663.5v7.85" stroke="#d85040" stroke-width="1.05" fill="none"/>
<path d="M175.5 530.1v7.85M206.5 530.1v7.85" stroke="#f09858" stroke-width="1.05" fill="none"/>
<path d="M176.5 530.1v7.85M181.5 530.1v7.85M194.5 530.1v7.85M557.5 545.8v7.85M559.5 545.8v7.85M493.5 553.6v7.85M500.5 577.2v7.85M526.5 577.2v7.85M545.5 577.2v7.85M574.5 585.0v7.85M495.5 592.9v7.85M524.5 592.9v7.85M554.5 616.5v7.85M516.5 640.0v7.85M209.5 663.5v7.85" stroke="#e88048" stroke-width="1.05" fill="none"/>
<path d="M190.5 530.1v7.85M436.5 687.1v7.85" stroke="#e8b8a8" stroke-width="1.05" fill="none"/>
<path d="M219.5 530.1v7.85M557.5 553.6v7.85M561.5 553.6v7.85M572.5 553.6v7.85M532.5 569.4v7.85M507.5 592.9v7.85M561.5 608.6v7.85M540.5 647.9v7.85M163.5 663.5v7.85" stroke="#f0a890" stroke-width="1.05" fill="none"/>
<path d="M296.5 530.1v7.85M534.5 530.1v7.85M407.5 592.9v7.85M469.5 616.5v7.85M559.5 640.0v7.85" stroke="#e8d0c8" stroke-width="1.05" fill="none"/>
<path d="M320.5 530.1v7.85M336.5 530.1v7.85M375.5 530.1v7.85M408.5 530.1v7.85M438.5 530.1v7.85M440.5 530.1v7.85M463.5 530.1v7.85M476.5 530.1v7.85M520.5 530.1v7.85M157.5 545.8v7.85M168.5 545.8v7.85M179.5 545.8v7.85M203.5 545.8v7.85M274.5 545.8v7.85M284.5 545.8v7.85M401.5 545.8v7.85M468.5 545.8v7.85M166.5 553.6v7.85M191.5 553.6v7.85M242.5 553.6v7.85M266.5 553.6v7.85M271.5 553.6v7.85M189.5 561.5v7.85M228.5 561.5v7.85M241.5 561.5v7.85M253.5 561.5v7.85M305.5 561.5v7.85M318.5 561.5v7.85M475.5 561.5v7.85M182.5 569.4v7.85M217.5 569.4v7.85M348.5 569.4v7.85M228.5 577.2v7.85M245.5 577.2v7.85M250.5 577.2v7.85M325.5 577.2v7.85M431.5 577.2v7.85M455.5 577.2v7.85M265.5 592.9v7.85M313.5 592.9v7.85M389.5 592.9v7.85M187.5 600.8v7.85M194.5 600.8v7.85M205.5 600.8v7.85M210.5 600.8v7.85M444.5 600.8v7.85M504.5 600.8v7.85M257.5 616.5v7.85M292.5 616.5v7.85M168.5 624.3v7.85M173.5 624.3v7.85M254.5 624.3v7.85M273.5 624.3v7.85M290.5 624.3v7.85M209.5 632.1v7.85M313.5 632.1v7.85M316.5 632.1v7.85M179.5 640.0v7.85M274.5 640.0v7.85M332.5 640.0v7.85M347.5 640.0v7.85M164.5 647.9v7.85M175.5 647.9v7.85M206.5 647.9v7.85M350.5 647.9v7.85" stroke="#d0e8f0" stroke-width="1.05" fill="none"/>
<path d="M321.5 530.1v7.85M338.5 530.1v7.85M344.5 530.1v7.85M345.5 530.1v7.85M360.5 530.1v7.85M363.5 530.1v7.85M383.5 530.1v7.85M384.5 530.1v7.85M406.5 530.1v7.85M423.5 530.1v7.85M431.5 530.1v7.85M432.5 530.1v7.85M436.5 530.1v7.85M443.5 530.1v7.85M456.5 530.1v7.85M462.5 530.1v7.85M479.5 530.1v7.85M486.5 530.1v7.85M508.5 530.1v7.85M514.5 530.1v7.85M516.5 530.1v7.85M518.5 530.1v7.85M523.5 530.1v7.85M530.5 530.1v7.85M555.5 530.1v7.85M566.5 530.1v7.85M570.5 530.1v7.85M338.5 538.0v7.85M389.5 538.0v7.85M393.5 538.0v7.85M397.5 538.0v7.85M414.5 538.0v7.85M429.5 538.0v7.85M454.5 538.0v7.85M472.5 538.0v7.85M163.5 545.8v7.85M167.5 545.8v7.85M188.5 545.8v7.85M190.5 545.8v7.85M192.5 545.8v7.85M211.5 545.8v7.85M268.5 545.8v7.85M335.5 545.8v7.85M342.5 545.8v7.85M359.5 545.8v7.85M393.5 545.8v7.85M406.5 545.8v7.85M425.5 545.8v7.85M463.5 545.8v7.85M490.5 545.8v7.85M185.5 553.6v7.85M204.5 553.6v7.85M211.5 553.6v7.85M273.5 553.6v7.85M294.5 553.6v7.85M296.5 553.6v7.85M406.5 553.6v7.85M519.5 553.6v7.85M165.5 561.5v7.85M206.5 561.5v7.85M214.5 561.5v7.85M281.5 561.5v7.85M300.5 561.5v7.85M303.5 561.5v7.85M333.5 561.5v7.85M431.5 561.5v7.85M476.5 561.5v7.85M488.5 561.5v7.85M243.5 569.4v7.85M255.5 569.4v7.85M266.5 569.4v7.85M281.5 569.4v7.85M287.5 569.4v7.85M311.5 569.4v7.85M316.5 569.4v7.85M320.5 569.4v7.85M341.5 569.4v7.85M350.5 569.4v7.85M376.5 569.4v7.85M433.5 569.4v7.85M442.5 569.4v7.85M475.5 569.4v7.85M253.5 577.2v7.85M309.5 577.2v7.85M323.5 577.2v7.85M351.5 577.2v7.85M358.5 577.2v7.85M405.5 577.2v7.85M489.5 577.2v7.85M222.5 585.0v7.85M247.5 585.0v7.85M256.5 585.0v7.85M281.5 585.0v7.85M348.5 585.0v7.85M355.5 585.0v7.85M358.5 585.0v7.85M451.5 585.0v7.85M474.5 585.0v7.85M182.5 592.9v7.85M185.5 592.9v7.85M224.5 592.9v7.85M229.5 592.9v7.85M255.5 592.9v7.85M281.5 592.9v7.85M285.5 592.9v7.85M314.5 592.9v7.85M340.5 592.9v7.85M384.5 592.9v7.85M439.5 592.9v7.85M449.5 592.9v7.85M462.5 592.9v7.85M483.5 592.9v7.85M236.5 600.8v7.85M248.5 600.8v7.85M279.5 600.8v7.85M304.5 600.8v7.85M307.5 600.8v7.85M313.5 600.8v7.85M389.5 600.8v7.85M494.5 600.8v7.85M180.5 616.5v7.85M183.5 616.5v7.85M215.5 616.5v7.85M247.5 616.5v7.85M262.5 616.5v7.85M279.5 616.5v7.85M283.5 616.5v7.85M298.5 616.5v7.85M302.5 616.5v7.85M305.5 616.5v7.85M308.5 616.5v7.85M315.5 616.5v7.85M404.5 616.5v7.85M448.5 616.5v7.85M478.5 616.5v7.85M174.5 624.3v7.85M179.5 624.3v7.85M196.5 624.3v7.85M204.5 624.3v7.85M233.5 624.3v7.85M240.5 624.3v7.85M309.5 624.3v7.85M338.5 624.3v7.85M347.5 624.3v7.85M402.5 624.3v7.85M407.5 624.3v7.85M427.5 624.3v7.85M430.5 624.3v7.85M433.5 624.3v7.85M549.5 624.3v7.85M157.5 632.1v7.85M169.5 632.1v7.85M188.5 632.1v7.85M214.5 632.1v7.85M217.5 632.1v7.85M359.5 632.1v7.85M422.5 632.1v7.85M484.5 632.1v7.85M159.5 640.0v7.85M168.5 640.0v7.85M205.5 640.0v7.85M206.5 640.0v7.85M207.5 640.0v7.85M215.5 640.0v7.85M217.5 640.0v7.85M219.5 640.0v7.85M226.5 640.0v7.85M238.5 640.0v7.85M241.5 640.0v7.85M242.5 640.0v7.85M245.5 640.0v7.85M248.5 640.0v7.85M268.5 640.0v7.85M269.5 640.0v7.85M271.5 640.0v7.85M283.5 640.0v7.85M291.5 640.0v7.85M299.5 640.0v7.85M311.5 640.0v7.85M313.5 640.0v7.85M398.5 640.0v7.85M406.5 640.0v7.85M474.5 640.0v7.85M476.5 640.0v7.85M214.5 647.9v7.85M224.5 647.9v7.85M251.5 647.9v7.85M255.5 647.9v7.85M276.5 647.9v7.85M282.5 647.9v7.85M322.5 647.9v7.85M406.5 647.9v7.85M461.5 647.9v7.85" stroke="#e8f0f0" stroke-width="1.05" fill="none"/>
<path d="M324.5 530.1v7.85M362.5 530.1v7.85M380.5 530.1v7.85M415.5 530.1v7.85M422.5 530.1v7.85M444.5 530.1v7.85M446.5 530.1v7.85M453.5 530.1v7.85M461.5 530.1v7.85M465.5 530.1v7.85M477.5 530.1v7.85M484.5 530.1v7.85M370.5 538.0v7.85M401.5 538.0v7.85M432.5 538.0v7.85M446.5 538.0v7.85M477.5 538.0v7.85M161.5 545.8v7.85M169.5 545.8v7.85M171.5 545.8v7.85M173.5 545.8v7.85M176.5 545.8v7.85M214.5 545.8v7.85M222.5 545.8v7.85M226.5 545.8v7.85M230.5 545.8v7.85M237.5 545.8v7.85M249.5 545.8v7.85M257.5 545.8v7.85M262.5 545.8v7.85M263.5 545.8v7.85M269.5 545.8v7.85M276.5 545.8v7.85M277.5 545.8v7.85M279.5 545.8v7.85M283.5 545.8v7.85M297.5 545.8v7.85M299.5 545.8v7.85M308.5 545.8v7.85M315.5 545.8v7.85M316.5 545.8v7.85M378.5 545.8v7.85M407.5 545.8v7.85M420.5 545.8v7.85M427.5 545.8v7.85M459.5 545.8v7.85M480.5 545.8v7.85M206.5 553.6v7.85M222.5 553.6v7.85M270.5 553.6v7.85M334.5 553.6v7.85M364.5 553.6v7.85M371.5 553.6v7.85M389.5 553.6v7.85M403.5 553.6v7.85M413.5 553.6v7.85M453.5 553.6v7.85M167.5 561.5v7.85M179.5 561.5v7.85M180.5 561.5v7.85M193.5 561.5v7.85M205.5 561.5v7.85M210.5 561.5v7.85M213.5 561.5v7.85M220.5 561.5v7.85M222.5 561.5v7.85M284.5 561.5v7.85M288.5 561.5v7.85M306.5 561.5v7.85M395.5 561.5v7.85M436.5 561.5v7.85M440.5 561.5v7.85M562.5 561.5v7.85M161.5 569.4v7.85M162.5 569.4v7.85M170.5 569.4v7.85M171.5 569.4v7.85M186.5 569.4v7.85M187.5 569.4v7.85M198.5 569.4v7.85M200.5 569.4v7.85M203.5 569.4v7.85M208.5 569.4v7.85M215.5 569.4v7.85M219.5 569.4v7.85M228.5 569.4v7.85M233.5 569.4v7.85M247.5 569.4v7.85M254.5 569.4v7.85M257.5 569.4v7.85M260.5 569.4v7.85M263.5 569.4v7.85M269.5 569.4v7.85M305.5 569.4v7.85M318.5 569.4v7.85M329.5 569.4v7.85M343.5 569.4v7.85M409.5 569.4v7.85M447.5 569.4v7.85M162.5 577.2v7.85M164.5 577.2v7.85M165.5 577.2v7.85M176.5 577.2v7.85M181.5 577.2v7.85M186.5 577.2v7.85M191.5 577.2v7.85M196.5 577.2v7.85M205.5 577.2v7.85M209.5 577.2v7.85M215.5 577.2v7.85M216.5 577.2v7.85M217.5 577.2v7.85M220.5 577.2v7.85M401.5 577.2v7.85M166.5 585.0v7.85M170.5 585.0v7.85M171.5 585.0v7.85M177.5 585.0v7.85M191.5 585.0v7.85M195.5 585.0v7.85M209.5 585.0v7.85M214.5 585.0v7.85M238.5 585.0v7.85M241.5 585.0v7.85M261.5 585.0v7.85M266.5 585.0v7.85M284.5 585.0v7.85M398.5 585.0v7.85M417.5 585.0v7.85M466.5 585.0v7.85M165.5 592.9v7.85M180.5 592.9v7.85M188.5 592.9v7.85M190.5 592.9v7.85M216.5 592.9v7.85M218.5 592.9v7.85M219.5 592.9v7.85M220.5 592.9v7.85M225.5 592.9v7.85M234.5 592.9v7.85M253.5 592.9v7.85M257.5 592.9v7.85M272.5 592.9v7.85M273.5 592.9v7.85M274.5 592.9v7.85M286.5 592.9v7.85M290.5 592.9v7.85M306.5 592.9v7.85M310.5 592.9v7.85M373.5 592.9v7.85M383.5 592.9v7.85M417.5 592.9v7.85M161.5 600.8v7.85M172.5 600.8v7.85M173.5 600.8v7.85M178.5 600.8v7.85M179.5 600.8v7.85M184.5 600.8v7.85M185.5 600.8v7.85M200.5 600.8v7.85M206.5 600.8v7.85M220.5 600.8v7.85M230.5 600.8v7.85M250.5 600.8v7.85M256.5 600.8v7.85M258.5 600.8v7.85M271.5 600.8v7.85M299.5 600.8v7.85M301.5 600.8v7.85M309.5 600.8v7.85M354.5 600.8v7.85M375.5 600.8v7.85M422.5 600.8v7.85M482.5 600.8v7.85M489.5 600.8v7.85M159.5 616.5v7.85M160.5 616.5v7.85M163.5 616.5v7.85M169.5 616.5v7.85M178.5 616.5v7.85M190.5 616.5v7.85M193.5 616.5v7.85M199.5 616.5v7.85M200.5 616.5v7.85M241.5 616.5v7.85M246.5 616.5v7.85M249.5 616.5v7.85M271.5 616.5v7.85M442.5 616.5v7.85M189.5 624.3v7.85M239.5 624.3v7.85M241.5 624.3v7.85M324.5 624.3v7.85M336.5 624.3v7.85M344.5 624.3v7.85M355.5 624.3v7.85M381.5 624.3v7.85M444.5 624.3v7.85M453.5 624.3v7.85M164.5 632.1v7.85M197.5 632.1v7.85M230.5 632.1v7.85M299.5 632.1v7.85M315.5 640.0v7.85M400.5 640.0v7.85M240.5 647.9v7.85M241.5 647.9v7.85M242.5 647.9v7.85M244.5 647.9v7.85M245.5 647.9v7.85M258.5 647.9v7.85M275.5 647.9v7.85M285.5 647.9v7.85M293.5 647.9v7.85M298.5 647.9v7.85M304.5 647.9v7.85M312.5 647.9v7.85" stroke="#c8e0f0" stroke-width="1.05" fill="none"/>
<path d="M325.5 530.1v7.85M331.5 530.1v7.85M353.5 530.1v7.85M354.5 530.1v7.85M367.5 530.1v7.85M374.5 530.1v7.85M387.5 530.1v7.85M396.5 530.1v7.85M416.5 530.1v7.85M418.5 530.1v7.85M442.5 530.1v7.85M448.5 530.1v7.85M450.5 530.1v7.85M455.5 530.1v7.85M460.5 530.1v7.85M468.5 530.1v7.85M472.5 530.1v7.85M473.5 530.1v7.85M474.5 530.1v7.85M491.5 530.1v7.85M559.5 530.1v7.85M365.5 538.0v7.85M388.5 538.0v7.85M421.5 538.0v7.85M447.5 538.0v7.85M475.5 538.0v7.85M483.5 538.0v7.85M194.5 545.8v7.85M208.5 545.8v7.85M216.5 545.8v7.85M232.5 545.8v7.85M252.5 545.8v7.85M288.5 545.8v7.85M301.5 545.8v7.85M303.5 545.8v7.85M306.5 545.8v7.85M307.5 545.8v7.85M311.5 545.8v7.85M402.5 545.8v7.85M444.5 545.8v7.85M456.5 545.8v7.85M470.5 545.8v7.85M475.5 545.8v7.85M188.5 553.6v7.85M227.5 553.6v7.85M290.5 553.6v7.85M309.5 553.6v7.85M316.5 553.6v7.85M320.5 553.6v7.85M360.5 553.6v7.85M372.5 553.6v7.85M394.5 553.6v7.85M397.5 553.6v7.85M466.5 553.6v7.85M161.5 561.5v7.85M164.5 561.5v7.85M176.5 561.5v7.85M178.5 561.5v7.85M201.5 561.5v7.85M207.5 561.5v7.85M232.5 561.5v7.85M291.5 561.5v7.85M429.5 561.5v7.85M538.5 561.5v7.85M163.5 569.4v7.85M164.5 569.4v7.85M172.5 569.4v7.85M177.5 569.4v7.85M181.5 569.4v7.85M189.5 569.4v7.85M192.5 569.4v7.85M195.5 569.4v7.85M210.5 569.4v7.85M244.5 569.4v7.85M245.5 569.4v7.85M248.5 569.4v7.85M250.5 569.4v7.85M258.5 569.4v7.85M265.5 569.4v7.85M285.5 569.4v7.85M290.5 569.4v7.85M294.5 569.4v7.85M295.5 569.4v7.85M303.5 569.4v7.85M336.5 569.4v7.85M349.5 569.4v7.85M378.5 569.4v7.85M422.5 569.4v7.85M479.5 569.4v7.85M157.5 577.2v7.85M167.5 577.2v7.85M179.5 577.2v7.85M189.5 577.2v7.85M207.5 577.2v7.85M224.5 577.2v7.85M236.5 577.2v7.85M238.5 577.2v7.85M249.5 577.2v7.85M260.5 577.2v7.85M281.5 577.2v7.85M286.5 577.2v7.85M291.5 577.2v7.85M293.5 577.2v7.85M310.5 577.2v7.85M313.5 577.2v7.85M314.5 577.2v7.85M362.5 577.2v7.85M375.5 577.2v7.85M430.5 577.2v7.85M472.5 577.2v7.85M231.5 585.0v7.85M236.5 585.0v7.85M242.5 585.0v7.85M250.5 585.0v7.85M287.5 585.0v7.85M293.5 585.0v7.85M294.5 585.0v7.85M305.5 585.0v7.85M312.5 585.0v7.85M357.5 585.0v7.85M440.5 585.0v7.85M490.5 585.0v7.85M159.5 592.9v7.85M161.5 592.9v7.85M163.5 592.9v7.85M175.5 592.9v7.85M176.5 592.9v7.85M183.5 592.9v7.85M187.5 592.9v7.85M192.5 592.9v7.85M194.5 592.9v7.85M207.5 592.9v7.85M210.5 592.9v7.85M212.5 592.9v7.85M213.5 592.9v7.85M231.5 592.9v7.85M233.5 592.9v7.85M261.5 592.9v7.85M279.5 592.9v7.85M298.5 592.9v7.85M305.5 592.9v7.85M316.5 592.9v7.85M318.5 592.9v7.85M321.5 592.9v7.85M324.5 592.9v7.85M183.5 600.8v7.85M190.5 600.8v7.85M198.5 600.8v7.85M201.5 600.8v7.85M208.5 600.8v7.85M215.5 600.8v7.85M225.5 600.8v7.85M253.5 600.8v7.85M257.5 600.8v7.85M276.5 600.8v7.85M287.5 600.8v7.85M306.5 600.8v7.85M342.5 600.8v7.85M350.5 600.8v7.85M359.5 600.8v7.85M372.5 600.8v7.85M448.5 600.8v7.85M486.5 600.8v7.85M488.5 600.8v7.85M539.5 600.8v7.85M157.5 616.5v7.85M177.5 616.5v7.85M181.5 616.5v7.85M189.5 616.5v7.85M203.5 616.5v7.85M207.5 616.5v7.85M218.5 616.5v7.85M225.5 616.5v7.85M304.5 616.5v7.85M338.5 616.5v7.85M434.5 616.5v7.85M468.5 616.5v7.85M159.5 624.3v7.85M184.5 624.3v7.85M190.5 624.3v7.85M206.5 624.3v7.85M215.5 624.3v7.85M229.5 624.3v7.85M265.5 624.3v7.85M289.5 624.3v7.85M348.5 624.3v7.85M537.5 624.3v7.85M210.5 632.1v7.85M249.5 632.1v7.85M262.5 632.1v7.85M413.5 632.1v7.85M258.5 640.0v7.85M338.5 640.0v7.85M350.5 640.0v7.85M372.5 640.0v7.85M447.5 640.0v7.85M463.5 640.0v7.85M477.5 640.0v7.85M162.5 647.9v7.85M170.5 647.9v7.85M174.5 647.9v7.85M178.5 647.9v7.85M180.5 647.9v7.85M181.5 647.9v7.85M196.5 647.9v7.85M209.5 647.9v7.85M211.5 647.9v7.85" stroke="#d0e0f0" stroke-width="1.05" fill="none"/>
<path d="M328.5 530.1v7.85M395.5 530.1v7.85M267.5 561.5v7.85M326.5 561.5v7.85M271.5 569.4v7.85M296.5 569.4v7.85M251.5 577.2v7.85M277.5 577.2v7.85M176.5 585.0v7.85M190.5 585.0v7.85M224.5 585.0v7.85M169.5 592.9v7.85M466.5 592.9v7.85M167.5 600.8v7.85M263.5 624.3v7.85M217.5 647.9v7.85M268.5 647.9v7.85" stroke="#c0d8f0" stroke-width="1.05" fill="none"/>
<path d="M334.5 530.1v7.85M373.5 530.1v7.85M419.5 530.1v7.85M445.5 530.1v7.85M454.5 530.1v7.85M435.5 538.0v7.85M440.5 538.0v7.85M158.5 545.8v7.85M201.5 545.8v7.85M225.5 545.8v7.85M228.5 545.8v7.85M239.5 545.8v7.85M247.5 545.8v7.85M264.5 545.8v7.85M278.5 545.8v7.85M285.5 545.8v7.85M296.5 545.8v7.85M304.5 545.8v7.85M313.5 545.8v7.85M341.5 545.8v7.85M392.5 545.8v7.85M416.5 545.8v7.85M245.5 553.6v7.85M289.5 553.6v7.85M303.5 553.6v7.85M326.5 553.6v7.85M335.5 553.6v7.85M361.5 553.6v7.85M380.5 553.6v7.85M395.5 553.6v7.85M489.5 553.6v7.85M495.5 553.6v7.85M170.5 561.5v7.85M183.5 561.5v7.85M190.5 561.5v7.85M199.5 561.5v7.85M231.5 561.5v7.85M243.5 561.5v7.85M258.5 561.5v7.85M280.5 561.5v7.85M314.5 561.5v7.85M377.5 561.5v7.85M447.5 561.5v7.85M557.5 561.5v7.85M571.5 561.5v7.85M159.5 569.4v7.85M173.5 569.4v7.85M180.5 569.4v7.85M183.5 569.4v7.85M194.5 569.4v7.85M196.5 569.4v7.85M202.5 569.4v7.85M216.5 569.4v7.85M218.5 569.4v7.85M222.5 569.4v7.85M253.5 569.4v7.85M256.5 569.4v7.85M275.5 569.4v7.85M289.5 569.4v7.85M337.5 569.4v7.85M239.5 577.2v7.85M244.5 577.2v7.85M246.5 577.2v7.85M282.5 577.2v7.85M284.5 577.2v7.85M294.5 577.2v7.85M304.5 577.2v7.85M315.5 577.2v7.85M338.5 577.2v7.85M464.5 577.2v7.85M163.5 585.0v7.85M167.5 585.0v7.85M175.5 585.0v7.85M178.5 585.0v7.85M180.5 585.0v7.85M185.5 585.0v7.85M188.5 585.0v7.85M189.5 585.0v7.85M196.5 585.0v7.85M205.5 585.0v7.85M223.5 585.0v7.85M285.5 585.0v7.85M288.5 585.0v7.85M303.5 585.0v7.85M315.5 585.0v7.85M385.5 585.0v7.85M394.5 585.0v7.85M401.5 585.0v7.85M442.5 585.0v7.85M172.5 592.9v7.85M199.5 592.9v7.85M202.5 592.9v7.85M205.5 592.9v7.85M217.5 592.9v7.85M226.5 592.9v7.85M250.5 592.9v7.85M258.5 592.9v7.85M300.5 592.9v7.85M309.5 592.9v7.85M317.5 592.9v7.85M377.5 592.9v7.85M395.5 592.9v7.85M409.5 592.9v7.85M432.5 592.9v7.85M490.5 592.9v7.85M159.5 600.8v7.85M176.5 600.8v7.85M214.5 600.8v7.85M260.5 600.8v7.85M264.5 600.8v7.85M339.5 600.8v7.85M418.5 600.8v7.85M474.5 600.8v7.85M481.5 600.8v7.85M565.5 600.8v7.85M165.5 616.5v7.85M172.5 616.5v7.85M184.5 616.5v7.85M202.5 616.5v7.85M205.5 616.5v7.85M213.5 616.5v7.85M253.5 616.5v7.85M274.5 616.5v7.85M290.5 616.5v7.85M384.5 616.5v7.85M172.5 624.3v7.85M182.5 624.3v7.85M268.5 624.3v7.85M269.5 624.3v7.85M295.5 624.3v7.85M321.5 624.3v7.85M454.5 624.3v7.85M471.5 624.3v7.85M472.5 624.3v7.85M480.5 624.3v7.85M510.5 624.3v7.85M561.5 624.3v7.85M573.5 624.3v7.85M208.5 632.1v7.85M258.5 632.1v7.85M440.5 632.1v7.85M493.5 632.1v7.85M523.5 632.1v7.85M571.5 632.1v7.85M320.5 640.0v7.85M395.5 640.0v7.85M428.5 640.0v7.85M167.5 647.9v7.85M168.5 647.9v7.85M177.5 647.9v7.85M185.5 647.9v7.85M190.5 647.9v7.85M191.5 647.9v7.85M203.5 647.9v7.85M227.5 647.9v7.85M237.5 647.9v7.85M248.5 647.9v7.85M250.5 647.9v7.85M259.5 647.9v7.85M270.5 647.9v7.85M290.5 647.9v7.85M296.5 647.9v7.85M299.5 647.9v7.85M303.5 647.9v7.85M308.5 647.9v7.85M380.5 647.9v7.85M451.5 647.9v7.85" stroke="#c0d8e8" stroke-width="1.05" fill="none"/>
<path d="M356.5 530.1v7.85M361.5 530.1v7.85M437.5 530.1v7.85M409.5 538.0v7.85M444.5 538.0v7.85M160.5 545.8v7.85M180.5 545.8v7.85M182.5 545.8v7.85M185.5 545.8v7.85M243.5 545.8v7.85M246.5 545.8v7.85M256.5 545.8v7.85M292.5 545.8v7.85M294.5 545.8v7.85M295.5 545.8v7.85M305.5 545.8v7.85M310.5 545.8v7.85M317.5 545.8v7.85M318.5 545.8v7.85M347.5 545.8v7.85M411.5 545.8v7.85M413.5 545.8v7.85M265.5 553.6v7.85M323.5 553.6v7.85M359.5 553.6v7.85M437.5 553.6v7.85M443.5 553.6v7.85M473.5 553.6v7.85M481.5 553.6v7.85M485.5 553.6v7.85M160.5 561.5v7.85M163.5 561.5v7.85M173.5 561.5v7.85M279.5 561.5v7.85M313.5 561.5v7.85M396.5 561.5v7.85M408.5 561.5v7.85M503.5 561.5v7.85M543.5 561.5v7.85M178.5 569.4v7.85M179.5 569.4v7.85M190.5 569.4v7.85M212.5 569.4v7.85M213.5 569.4v7.85M214.5 569.4v7.85M227.5 569.4v7.85M229.5 569.4v7.85M282.5 569.4v7.85M288.5 569.4v7.85M304.5 569.4v7.85M158.5 577.2v7.85M172.5 577.2v7.85M175.5 577.2v7.85M203.5 577.2v7.85M212.5 577.2v7.85M268.5 577.2v7.85M273.5 577.2v7.85M274.5 577.2v7.85M288.5 577.2v7.85M173.5 585.0v7.85M182.5 585.0v7.85M216.5 585.0v7.85M243.5 585.0v7.85M249.5 585.0v7.85M272.5 585.0v7.85M160.5 592.9v7.85M184.5 592.9v7.85M214.5 592.9v7.85M278.5 592.9v7.85M287.5 592.9v7.85M315.5 592.9v7.85M338.5 592.9v7.85M464.5 592.9v7.85M158.5 600.8v7.85M182.5 600.8v7.85M195.5 600.8v7.85M202.5 600.8v7.85M204.5 600.8v7.85M213.5 600.8v7.85M282.5 600.8v7.85M288.5 600.8v7.85M171.5 616.5v7.85M201.5 616.5v7.85M233.5 616.5v7.85M248.5 616.5v7.85M299.5 616.5v7.85M180.5 624.3v7.85M201.5 624.3v7.85M202.5 624.3v7.85M477.5 624.3v7.85M216.5 632.1v7.85M296.5 632.1v7.85M421.5 632.1v7.85M352.5 640.0v7.85M396.5 640.0v7.85M481.5 640.0v7.85M158.5 647.9v7.85M201.5 647.9v7.85M226.5 647.9v7.85M231.5 647.9v7.85M235.5 647.9v7.85M260.5 647.9v7.85M309.5 647.9v7.85" stroke="#b8d8e8" stroke-width="1.05" fill="none"/>
<path d="M359.5 530.1v7.85M441.5 530.1v7.85M203.5 553.6v7.85M231.5 553.6v7.85M322.5 561.5v7.85M240.5 569.4v7.85M413.5 569.4v7.85M445.5 577.2v7.85M340.5 585.0v7.85M376.5 585.0v7.85M384.5 585.0v7.85M420.5 585.0v7.85M458.5 585.0v7.85M238.5 592.9v7.85M374.5 592.9v7.85M171.5 600.8v7.85M344.5 600.8v7.85M443.5 600.8v7.85M197.5 616.5v7.85M286.5 616.5v7.85M390.5 616.5v7.85M218.5 624.3v7.85M305.5 624.3v7.85M386.5 624.3v7.85M227.5 632.1v7.85M236.5 632.1v7.85M309.5 632.1v7.85M338.5 632.1v7.85M231.5 640.0v7.85M444.5 640.0v7.85M465.5 640.0v7.85M207.5 647.9v7.85M429.5 647.9v7.85M467.5 647.9v7.85" stroke="#f0f8f8" stroke-width="1.05" fill="none"/>
<path d="M368.5 530.1v7.85M377.5 530.1v7.85M386.5 530.1v7.85M391.5 530.1v7.85M429.5 530.1v7.85M439.5 530.1v7.85M490.5 530.1v7.85M381.5 538.0v7.85M322.5 545.8v7.85M329.5 545.8v7.85M462.5 553.6v7.85M242.5 561.5v7.85M383.5 561.5v7.85M495.5 561.5v7.85M160.5 569.4v7.85M169.5 569.4v7.85M209.5 569.4v7.85M249.5 569.4v7.85M251.5 569.4v7.85M370.5 569.4v7.85M171.5 577.2v7.85M178.5 577.2v7.85M184.5 577.2v7.85M200.5 577.2v7.85M237.5 577.2v7.85M264.5 577.2v7.85M276.5 577.2v7.85M162.5 585.0v7.85M164.5 585.0v7.85M227.5 585.0v7.85M230.5 585.0v7.85M259.5 585.0v7.85M263.5 585.0v7.85M268.5 585.0v7.85M289.5 585.0v7.85M239.5 592.9v7.85M166.5 616.5v7.85M217.5 616.5v7.85M236.5 616.5v7.85M318.5 616.5v7.85M252.5 632.1v7.85M232.5 647.9v7.85M254.5 647.9v7.85" stroke="#c0e0f0" stroke-width="1.05" fill="none"/>
<path d="M371.5 530.1v7.85M382.5 530.1v7.85M385.5 530.1v7.85M398.5 530.1v7.85M404.5 530.1v7.85M435.5 530.1v7.85M457.5 530.1v7.85M483.5 530.1v7.85M505.5 530.1v7.85M549.5 530.1v7.85M551.5 530.1v7.85M564.5 530.1v7.85M345.5 538.0v7.85M358.5 538.0v7.85M373.5 538.0v7.85M466.5 538.0v7.85M482.5 538.0v7.85M486.5 538.0v7.85M164.5 545.8v7.85M219.5 545.8v7.85M272.5 545.8v7.85M344.5 545.8v7.85M348.5 545.8v7.85M389.5 545.8v7.85M412.5 545.8v7.85M181.5 553.6v7.85M182.5 553.6v7.85M190.5 553.6v7.85M202.5 553.6v7.85M274.5 553.6v7.85M278.5 553.6v7.85M288.5 553.6v7.85M311.5 553.6v7.85M347.5 553.6v7.85M358.5 553.6v7.85M362.5 553.6v7.85M388.5 553.6v7.85M398.5 553.6v7.85M427.5 553.6v7.85M429.5 553.6v7.85M474.5 553.6v7.85M172.5 561.5v7.85M174.5 561.5v7.85M175.5 561.5v7.85M219.5 561.5v7.85M230.5 561.5v7.85M234.5 561.5v7.85M250.5 561.5v7.85M252.5 561.5v7.85M256.5 561.5v7.85M270.5 561.5v7.85M277.5 561.5v7.85M283.5 561.5v7.85M384.5 561.5v7.85M385.5 561.5v7.85M392.5 561.5v7.85M426.5 561.5v7.85M428.5 561.5v7.85M444.5 561.5v7.85M445.5 561.5v7.85M535.5 561.5v7.85M312.5 569.4v7.85M335.5 569.4v7.85M404.5 569.4v7.85M420.5 569.4v7.85M424.5 569.4v7.85M471.5 569.4v7.85M477.5 569.4v7.85M488.5 569.4v7.85M225.5 577.2v7.85M254.5 577.2v7.85M266.5 577.2v7.85M275.5 577.2v7.85M292.5 577.2v7.85M301.5 577.2v7.85M324.5 577.2v7.85M476.5 577.2v7.85M165.5 585.0v7.85M228.5 585.0v7.85M252.5 585.0v7.85M255.5 585.0v7.85M267.5 585.0v7.85M273.5 585.0v7.85M276.5 585.0v7.85M313.5 585.0v7.85M388.5 585.0v7.85M485.5 585.0v7.85M157.5 592.9v7.85M189.5 592.9v7.85M227.5 592.9v7.85M301.5 592.9v7.85M352.5 592.9v7.85M388.5 592.9v7.85M401.5 592.9v7.85M463.5 592.9v7.85M474.5 592.9v7.85M481.5 592.9v7.85M188.5 600.8v7.85M203.5 600.8v7.85M212.5 600.8v7.85M268.5 600.8v7.85M312.5 600.8v7.85M321.5 600.8v7.85M323.5 600.8v7.85M360.5 600.8v7.85M367.5 600.8v7.85M368.5 600.8v7.85M162.5 616.5v7.85M168.5 616.5v7.85M174.5 616.5v7.85M191.5 616.5v7.85M195.5 616.5v7.85M208.5 616.5v7.85M219.5 616.5v7.85M244.5 616.5v7.85M255.5 616.5v7.85M321.5 616.5v7.85M369.5 616.5v7.85M164.5 624.3v7.85M167.5 624.3v7.85M236.5 624.3v7.85M270.5 624.3v7.85M323.5 624.3v7.85M416.5 624.3v7.85M429.5 624.3v7.85M464.5 624.3v7.85M484.5 624.3v7.85M548.5 624.3v7.85M192.5 632.1v7.85M204.5 632.1v7.85M261.5 632.1v7.85M276.5 632.1v7.85M281.5 632.1v7.85M302.5 632.1v7.85M310.5 632.1v7.85M386.5 632.1v7.85M439.5 632.1v7.85M164.5 640.0v7.85M187.5 640.0v7.85M192.5 640.0v7.85M216.5 640.0v7.85M222.5 640.0v7.85M234.5 640.0v7.85M246.5 640.0v7.85M251.5 640.0v7.85M253.5 640.0v7.85M267.5 640.0v7.85M272.5 640.0v7.85M280.5 640.0v7.85M282.5 640.0v7.85M287.5 640.0v7.85M292.5 640.0v7.85M296.5 640.0v7.85M303.5 640.0v7.85M304.5 640.0v7.85M309.5 640.0v7.85M310.5 640.0v7.85M317.5 640.0v7.85M337.5 640.0v7.85M357.5 640.0v7.85M368.5 640.0v7.85M387.5 640.0v7.85M392.5 640.0v7.85M478.5 640.0v7.85M536.5 640.0v7.85M166.5 647.9v7.85M204.5 647.9v7.85M273.5 647.9v7.85M280.5 647.9v7.85M292.5 647.9v7.85M310.5 647.9v7.85M321.5 647.9v7.85M365.5 647.9v7.85M490.5 647.9v7.85" stroke="#e8f0f8" stroke-width="1.05" fill="none"/>
<path d="M378.5 530.1v7.85M449.5 530.1v7.85M174.5 545.8v7.85M178.5 545.8v7.85M273.5 545.8v7.85M302.5 545.8v7.85M157.5 569.4v7.85M174.5 569.4v7.85M175.5 569.4v7.85M199.5 569.4v7.85M291.5 569.4v7.85M180.5 577.2v7.85M190.5 577.2v7.85M299.5 577.2v7.85M318.5 577.2v7.85M251.5 585.0v7.85M201.5 592.9v7.85M209.5 592.9v7.85M245.5 592.9v7.85M410.5 592.9v7.85M218.5 600.8v7.85M286.5 600.8v7.85M356.5 600.8v7.85M361.5 600.8v7.85M185.5 616.5v7.85M204.5 616.5v7.85M211.5 616.5v7.85M216.5 616.5v7.85M301.5 616.5v7.85M162.5 624.3v7.85M205.5 624.3v7.85M315.5 624.3v7.85M501.5 624.3v7.85M426.5 640.0v7.85M218.5 647.9v7.85M253.5 647.9v7.85M262.5 647.9v7.85M277.5 647.9v7.85" stroke="#b8d0e8" stroke-width="1.05" fill="none"/>
<path d="M420.5 530.1v7.85M458.5 530.1v7.85M485.5 530.1v7.85M346.5 538.0v7.85M366.5 538.0v7.85M372.5 538.0v7.85M163.5 553.6v7.85M175.5 553.6v7.85M183.5 553.6v7.85M192.5 553.6v7.85M251.5 553.6v7.85M280.5 553.6v7.85M307.5 553.6v7.85M315.5 553.6v7.85M346.5 553.6v7.85M369.5 553.6v7.85M238.5 561.5v7.85M257.5 561.5v7.85M497.5 561.5v7.85M278.5 569.4v7.85M284.5 569.4v7.85M286.5 569.4v7.85M252.5 577.2v7.85M269.5 577.2v7.85M322.5 577.2v7.85M339.5 577.2v7.85M432.5 577.2v7.85M471.5 577.2v7.85M475.5 577.2v7.85M275.5 585.0v7.85M461.5 585.0v7.85M262.5 592.9v7.85M312.5 592.9v7.85M429.5 592.9v7.85M442.5 592.9v7.85M453.5 592.9v7.85M166.5 600.8v7.85M283.5 600.8v7.85M329.5 616.5v7.85M411.5 616.5v7.85M435.5 616.5v7.85M429.5 632.1v7.85M227.5 640.0v7.85M235.5 640.0v7.85M300.5 640.0v7.85M374.5 640.0v7.85M397.5 640.0v7.85M402.5 640.0v7.85M257.5 663.5v7.85M297.5 663.5v7.85" stroke="#f8f8f8" stroke-width="1.05" fill="none"/>
<path d="M500.5 530.1v7.85M533.5 530.1v7.85M484.5 592.9v7.85M393.5 616.5v7.85M233.5 632.1v7.85M420.5 647.9v7.85" stroke="#f0d8c0" stroke-width="1.05" fill="none"/>
<path d="M512.5 530.1v7.85M521.5 530.1v7.85M553.5 530.1v7.85M419.5 538.0v7.85M223.5 553.6v7.85M352.5 553.6v7.85M188.5 561.5v7.85M394.5 561.5v7.85M357.5 569.4v7.85M402.5 569.4v7.85M453.5 569.4v7.85M480.5 569.4v7.85M367.5 585.0v7.85M407.5 585.0v7.85M412.5 585.0v7.85M435.5 585.0v7.85M483.5 585.0v7.85M275.5 592.9v7.85M322.5 592.9v7.85M454.5 592.9v7.85M377.5 600.8v7.85M403.5 616.5v7.85M439.5 624.3v7.85M488.5 624.3v7.85M489.5 624.3v7.85M222.5 632.1v7.85M243.5 632.1v7.85M315.5 632.1v7.85M322.5 632.1v7.85M397.5 632.1v7.85M353.5 640.0v7.85M389.5 640.0v7.85M340.5 647.9v7.85M485.5 647.9v7.85" stroke="#e8e0e0" stroke-width="1.05" fill="none"/>
<path d="M515.5 530.1v7.85M572.5 530.1v7.85M354.5 538.0v7.85M357.5 538.0v7.85M378.5 538.0v7.85M451.5 538.0v7.85M461.5 538.0v7.85M471.5 538.0v7.85M196.5 545.8v7.85M202.5 545.8v7.85M217.5 545.8v7.85M323.5 545.8v7.85M367.5 545.8v7.85M399.5 545.8v7.85M461.5 545.8v7.85M473.5 545.8v7.85M178.5 553.6v7.85M213.5 553.6v7.85M226.5 553.6v7.85M350.5 553.6v7.85M415.5 553.6v7.85M187.5 561.5v7.85M345.5 561.5v7.85M382.5 561.5v7.85M425.5 561.5v7.85M546.5 561.5v7.85M356.5 569.4v7.85M473.5 569.4v7.85M337.5 577.2v7.85M399.5 577.2v7.85M451.5 577.2v7.85M341.5 585.0v7.85M370.5 585.0v7.85M400.5 585.0v7.85M441.5 585.0v7.85M454.5 585.0v7.85M242.5 592.9v7.85M344.5 592.9v7.85M360.5 592.9v7.85M365.5 592.9v7.85M372.5 592.9v7.85M428.5 592.9v7.85M434.5 592.9v7.85M476.5 592.9v7.85M267.5 600.8v7.85M277.5 600.8v7.85M310.5 600.8v7.85M416.5 600.8v7.85M466.5 600.8v7.85M512.5 600.8v7.85M515.5 600.8v7.85M523.5 600.8v7.85M212.5 616.5v7.85M224.5 616.5v7.85M229.5 616.5v7.85M275.5 616.5v7.85M444.5 616.5v7.85M214.5 624.3v7.85M255.5 624.3v7.85M367.5 624.3v7.85M451.5 624.3v7.85M223.5 632.1v7.85M239.5 632.1v7.85M282.5 632.1v7.85M298.5 632.1v7.85M326.5 632.1v7.85M363.5 632.1v7.85M326.5 640.0v7.85M327.5 640.0v7.85M345.5 640.0v7.85M377.5 640.0v7.85M422.5 640.0v7.85M479.5 640.0v7.85M337.5 647.9v7.85M348.5 647.9v7.85M443.5 647.9v7.85" stroke="#e8e8e8" stroke-width="1.05" fill="none"/>
<path d="M519.5 530.1v7.85M460.5 545.8v7.85M422.5 553.6v7.85M545.5 600.8v7.85M460.5 647.9v7.85" stroke="#e8c8b8" stroke-width="1.05" fill="none"/>
<path d="M524.5 530.1v7.85M202.5 538.0v7.85M329.5 538.0v7.85M359.5 538.0v7.85M408.5 545.8v7.85M477.5 553.6v7.85M507.5 553.6v7.85M371.5 561.5v7.85M415.5 561.5v7.85M456.5 561.5v7.85M482.5 561.5v7.85M463.5 569.4v7.85M481.5 569.4v7.85M488.5 577.2v7.85M517.5 577.2v7.85M365.5 585.0v7.85M368.5 585.0v7.85M381.5 585.0v7.85M460.5 585.0v7.85M469.5 585.0v7.85M333.5 592.9v7.85M358.5 592.9v7.85M446.5 592.9v7.85M518.5 592.9v7.85M269.5 600.8v7.85M302.5 600.8v7.85M388.5 600.8v7.85M469.5 600.8v7.85M340.5 616.5v7.85M417.5 616.5v7.85M423.5 616.5v7.85M447.5 616.5v7.85M483.5 616.5v7.85M523.5 616.5v7.85M230.5 624.3v7.85M256.5 624.3v7.85M285.5 624.3v7.85M287.5 624.3v7.85M300.5 624.3v7.85M349.5 624.3v7.85M380.5 624.3v7.85M385.5 624.3v7.85M387.5 624.3v7.85M410.5 624.3v7.85M463.5 624.3v7.85M297.5 632.1v7.85M336.5 632.1v7.85M337.5 632.1v7.85M348.5 632.1v7.85M368.5 632.1v7.85M387.5 632.1v7.85M394.5 632.1v7.85M416.5 632.1v7.85M424.5 632.1v7.85M458.5 632.1v7.85M463.5 632.1v7.85M474.5 632.1v7.85M399.5 640.0v7.85M414.5 640.0v7.85M429.5 640.0v7.85M448.5 640.0v7.85M510.5 640.0v7.85M368.5 647.9v7.85M369.5 647.9v7.85M419.5 647.9v7.85M469.5 647.9v7.85M477.5 647.9v7.85M487.5 647.9v7.85M488.5 647.9v7.85M274.5 663.5v7.85M317.5 663.5v7.85" stroke="#f8e0d8" stroke-width="1.05" fill="none"/>
<path d="M174.5 538.0v7.85M193.5 538.0v7.85M197.5 538.0v7.85M214.5 538.0v7.85M252.5 538.0v7.85M295.5 538.0v7.85M369.5 538.0v7.85M509.5 545.8v7.85M511.5 545.8v7.85M513.5 545.8v7.85M529.5 545.8v7.85M546.5 545.8v7.85M498.5 553.6v7.85M502.5 553.6v7.85M517.5 553.6v7.85M344.5 561.5v7.85M548.5 561.5v7.85M566.5 561.5v7.85M502.5 569.4v7.85M517.5 569.4v7.85M556.5 569.4v7.85M552.5 577.2v7.85M556.5 577.2v7.85M558.5 577.2v7.85M558.5 585.0v7.85M568.5 585.0v7.85M493.5 592.9v7.85M521.5 592.9v7.85M544.5 592.9v7.85M559.5 592.9v7.85M331.5 616.5v7.85M387.5 616.5v7.85M440.5 616.5v7.85M506.5 624.3v7.85M535.5 624.3v7.85M215.5 632.1v7.85M441.5 632.1v7.85M471.5 632.1v7.85M477.5 632.1v7.85M518.5 640.0v7.85M524.5 640.0v7.85M552.5 640.0v7.85M374.5 647.9v7.85M478.5 647.9v7.85M555.5 647.9v7.85M556.5 647.9v7.85M568.5 647.9v7.85M170.5 663.5v7.85M239.5 663.5v7.85M259.5 663.5v7.85M261.5 663.5v7.85M305.5 663.5v7.85M311.5 663.5v7.85" stroke="#f8b890" stroke-width="1.05" fill="none"/>
<path d="M180.5 538.0v7.85M243.5 538.0v7.85M337.5 538.0v7.85M368.5 538.0v7.85M371.5 538.0v7.85M455.5 538.0v7.85M394.5 545.8v7.85M568.5 545.8v7.85M196.5 553.6v7.85M292.5 553.6v7.85M297.5 553.6v7.85M344.5 553.6v7.85M457.5 561.5v7.85M485.5 561.5v7.85M499.5 561.5v7.85M552.5 561.5v7.85M470.5 569.4v7.85M433.5 577.2v7.85M361.5 585.0v7.85M336.5 592.9v7.85M382.5 592.9v7.85M491.5 592.9v7.85M547.5 592.9v7.85M249.5 600.8v7.85M445.5 616.5v7.85M294.5 624.3v7.85M318.5 632.1v7.85M329.5 632.1v7.85M374.5 632.1v7.85M425.5 632.1v7.85M428.5 632.1v7.85M431.5 632.1v7.85M460.5 632.1v7.85M549.5 640.0v7.85M434.5 647.9v7.85M452.5 647.9v7.85M509.5 647.9v7.85M515.5 647.9v7.85M538.5 647.9v7.85M226.5 663.5v7.85M250.5 663.5v7.85M277.5 663.5v7.85M289.5 663.5v7.85" stroke="#f8e0c8" stroke-width="1.05" fill="none"/>
<path d="M200.5 538.0v7.85M315.5 538.0v7.85M347.5 538.0v7.85M536.5 569.4v7.85M572.5 577.2v7.85M502.5 585.0v7.85M503.5 592.9v7.85M345.5 616.5v7.85M524.5 624.3v7.85M535.5 640.0v7.85M224.5 663.5v7.85" stroke="#f8c8a0" stroke-width="1.05" fill="none"/>
<path d="M257.5 538.0v7.85M508.5 545.8v7.85M543.5 545.8v7.85M447.5 553.6v7.85M513.5 569.4v7.85M524.5 569.4v7.85M561.5 569.4v7.85M494.5 577.2v7.85M552.5 585.0v7.85M493.5 600.8v7.85M517.5 600.8v7.85M520.5 600.8v7.85M574.5 616.5v7.85M329.5 647.9v7.85M288.5 663.5v7.85M308.5 663.5v7.85" stroke="#f8b088" stroke-width="1.05" fill="none"/>
<path d="M320.5 538.0v7.85M342.5 538.0v7.85M485.5 592.9v7.85M404.5 600.8v7.85M467.5 600.8v7.85M528.5 600.8v7.85M513.5 624.3v7.85M407.5 632.1v7.85" stroke="#d8d0c8" stroke-width="1.05" fill="none"/>
<path d="M322.5 538.0v7.85M165.5 545.8v7.85M197.5 545.8v7.85M207.5 545.8v7.85M210.5 545.8v7.85M326.5 545.8v7.85M339.5 545.8v7.85M434.5 545.8v7.85M487.5 545.8v7.85M333.5 553.6v7.85M382.5 553.6v7.85M407.5 561.5v7.85M441.5 569.4v7.85M455.5 569.4v7.85M491.5 569.4v7.85M389.5 577.2v7.85M356.5 585.0v7.85M424.5 585.0v7.85M445.5 585.0v7.85M236.5 592.9v7.85M363.5 592.9v7.85M456.5 592.9v7.85M211.5 600.8v7.85M400.5 600.8v7.85M475.5 600.8v7.85M487.5 616.5v7.85M243.5 624.3v7.85M258.5 624.3v7.85M533.5 624.3v7.85M181.5 632.1v7.85M342.5 632.1v7.85M371.5 640.0v7.85M417.5 640.0v7.85M324.5 647.9v7.85" stroke="#e0e8e8" stroke-width="1.05" fill="none"/>
<path d="M332.5 538.0v7.85M363.5 545.8v7.85M372.5 545.8v7.85" stroke="#c0c8d0" stroke-width="1.05" fill="none"/>
<path d="M348.5 538.0v7.85M398.5 538.0v7.85M361.5 545.8v7.85M447.5 545.8v7.85M351.5 553.6v7.85M376.5 553.6v7.85M459.5 553.6v7.85M296.5 561.5v7.85M381.5 561.5v7.85M510.5 561.5v7.85M359.5 569.4v7.85M368.5 569.4v7.85M449.5 569.4v7.85M351.5 585.0v7.85M409.5 585.0v7.85M181.5 592.9v7.85M244.5 592.9v7.85M254.5 600.8v7.85M342.5 616.5v7.85M471.5 616.5v7.85M250.5 624.3v7.85M307.5 624.3v7.85M391.5 624.3v7.85M415.5 632.1v7.85M355.5 640.0v7.85M473.5 640.0v7.85M307.5 647.9v7.85" stroke="#d0e0e8" stroke-width="1.05" fill="none"/>
<path d="M361.5 538.0v7.85M394.5 538.0v7.85M426.5 538.0v7.85M550.5 553.6v7.85M420.5 577.2v7.85M428.5 585.0v7.85M427.5 592.9v7.85M461.5 592.9v7.85M397.5 600.8v7.85M406.5 632.1v7.85M325.5 640.0v7.85" stroke="#e0d0c8" stroke-width="1.05" fill="none"/>
<path d="M387.5 538.0v7.85M473.5 538.0v7.85M368.5 545.8v7.85M437.5 545.8v7.85M165.5 553.6v7.85M198.5 553.6v7.85M234.5 553.6v7.85M253.5 553.6v7.85M287.5 553.6v7.85M439.5 553.6v7.85M294.5 561.5v7.85M360.5 561.5v7.85M364.5 561.5v7.85M568.5 561.5v7.85M574.5 561.5v7.85M406.5 577.2v7.85M467.5 577.2v7.85M321.5 585.0v7.85M377.5 585.0v7.85M389.5 585.0v7.85M418.5 585.0v7.85M247.5 592.9v7.85M255.5 600.8v7.85M333.5 600.8v7.85M347.5 600.8v7.85M371.5 600.8v7.85M412.5 600.8v7.85M491.5 600.8v7.85M532.5 600.8v7.85M250.5 616.5v7.85M317.5 616.5v7.85M163.5 624.3v7.85M210.5 624.3v7.85M375.5 624.3v7.85M449.5 624.3v7.85M160.5 632.1v7.85M247.5 632.1v7.85M279.5 632.1v7.85M286.5 632.1v7.85M304.5 632.1v7.85M396.5 632.1v7.85M418.5 632.1v7.85M329.5 640.0v7.85M202.5 647.9v7.85M378.5 647.9v7.85" stroke="#d8e0e8" stroke-width="1.05" fill="none"/>
<path d="M399.5 538.0v7.85M182.5 632.1v7.85" stroke="#f8f0e0" stroke-width="1.05" fill="none"/>
<path d="M402.5 538.0v7.85M484.5 577.2v7.85M271.5 663.5v7.85" stroke="#d8c0b0" stroke-width="1.05" fill="none"/>
<path d="M406.5 538.0v7.85M413.5 538.0v7.85M490.5 553.6v7.85M338.5 561.5v7.85M339.5 561.5v7.85M361.5 561.5v7.85M344.5 569.4v7.85M241.5 592.9v7.85M282.5 592.9v7.85M370.5 600.8v7.85M392.5 600.8v7.85M392.5 616.5v7.85M263.5 632.1v7.85M393.5 632.1v7.85M355.5 647.9v7.85M359.5 647.9v7.85M416.5 647.9v7.85M421.5 647.9v7.85" stroke="#d8d8d8" stroke-width="1.05" fill="none"/>
<path d="M410.5 538.0v7.85M453.5 545.8v7.85M378.5 561.5v7.85M260.5 624.3v7.85M351.5 624.3v7.85M361.5 624.3v7.85M459.5 647.9v7.85" stroke="#d0d0d0" stroke-width="1.05" fill="none"/>
<path d="M411.5 538.0v7.85" stroke="#e0d0d0" stroke-width="1.05" fill="none"/>
<path d="M415.5 538.0v7.85M458.5 538.0v7.85M485.5 538.0v7.85M340.5 545.8v7.85M412.5 553.6v7.85M239.5 561.5v7.85M350.5 561.5v7.85M376.5 561.5v7.85M453.5 561.5v7.85M470.5 561.5v7.85M448.5 569.4v7.85M487.5 569.4v7.85M357.5 577.2v7.85M438.5 577.2v7.85M362.5 585.0v7.85M380.5 585.0v7.85M475.5 585.0v7.85M204.5 592.9v7.85M347.5 592.9v7.85M452.5 592.9v7.85M458.5 592.9v7.85M197.5 600.8v7.85M219.5 600.8v7.85M349.5 600.8v7.85M430.5 600.8v7.85M461.5 600.8v7.85M471.5 600.8v7.85M542.5 600.8v7.85M309.5 616.5v7.85M385.5 616.5v7.85M253.5 624.3v7.85M366.5 624.3v7.85M171.5 632.1v7.85M179.5 632.1v7.85M259.5 632.1v7.85M308.5 632.1v7.85M419.5 632.1v7.85M410.5 640.0v7.85M403.5 647.9v7.85M473.5 647.9v7.85" stroke="#e8e8f0" stroke-width="1.05" fill="none"/>
<path d="M418.5 538.0v7.85M170.5 545.8v7.85M172.5 545.8v7.85M186.5 545.8v7.85M199.5 545.8v7.85M224.5 545.8v7.85M227.5 545.8v7.85M245.5 545.8v7.85M254.5 545.8v7.85M260.5 545.8v7.85M261.5 545.8v7.85M265.5 545.8v7.85M267.5 545.8v7.85M280.5 545.8v7.85M282.5 545.8v7.85M286.5 545.8v7.85M290.5 545.8v7.85M364.5 545.8v7.85M379.5 545.8v7.85M479.5 545.8v7.85M301.5 553.6v7.85M341.5 553.6v7.85M417.5 553.6v7.85M458.5 553.6v7.85M472.5 553.6v7.85M475.5 553.6v7.85M215.5 561.5v7.85M236.5 561.5v7.85M544.5 561.5v7.85M569.5 561.5v7.85M158.5 569.4v7.85M166.5 569.4v7.85M167.5 569.4v7.85M168.5 569.4v7.85M188.5 569.4v7.85M197.5 569.4v7.85M207.5 569.4v7.85M276.5 569.4v7.85M292.5 569.4v7.85M309.5 569.4v7.85M352.5 569.4v7.85M358.5 569.4v7.85M490.5 569.4v7.85M161.5 577.2v7.85M183.5 577.2v7.85M185.5 577.2v7.85M192.5 577.2v7.85M195.5 577.2v7.85M218.5 577.2v7.85M227.5 577.2v7.85M233.5 577.2v7.85M234.5 577.2v7.85M258.5 577.2v7.85M265.5 577.2v7.85M272.5 577.2v7.85M289.5 577.2v7.85M434.5 577.2v7.85M158.5 585.0v7.85M187.5 585.0v7.85M200.5 585.0v7.85M204.5 585.0v7.85M206.5 585.0v7.85M215.5 585.0v7.85M245.5 585.0v7.85M254.5 585.0v7.85M269.5 585.0v7.85M311.5 585.0v7.85M383.5 585.0v7.85M431.5 585.0v7.85M164.5 592.9v7.85M170.5 592.9v7.85M195.5 592.9v7.85M280.5 592.9v7.85M174.5 600.8v7.85M180.5 600.8v7.85M240.5 600.8v7.85M284.5 600.8v7.85M292.5 600.8v7.85M311.5 600.8v7.85M322.5 600.8v7.85M365.5 600.8v7.85M386.5 600.8v7.85M161.5 616.5v7.85M196.5 616.5v7.85M214.5 616.5v7.85M450.5 616.5v7.85M224.5 624.3v7.85M422.5 624.3v7.85M462.5 624.3v7.85M517.5 624.3v7.85M274.5 632.1v7.85M300.5 632.1v7.85M495.5 632.1v7.85M503.5 632.1v7.85M532.5 632.1v7.85M534.5 632.1v7.85M542.5 632.1v7.85M563.5 632.1v7.85M161.5 647.9v7.85M163.5 647.9v7.85M169.5 647.9v7.85M179.5 647.9v7.85M192.5 647.9v7.85M205.5 647.9v7.85M213.5 647.9v7.85M220.5 647.9v7.85M233.5 647.9v7.85M238.5 647.9v7.85M278.5 647.9v7.85M286.5 647.9v7.85M300.5 647.9v7.85M316.5 647.9v7.85M317.5 647.9v7.85M441.5 647.9v7.85" stroke="#b0d0e8" stroke-width="1.05" fill="none"/>
<path d="M436.5 538.0v7.85M449.5 545.8v7.85M474.5 545.8v7.85M538.5 553.6v7.85M364.5 600.8v7.85M390.5 600.8v7.85M223.5 616.5v7.85M293.5 624.3v7.85M370.5 624.3v7.85" stroke="#d8d0d0" stroke-width="1.05" fill="none"/>
<path d="M442.5 538.0v7.85M470.5 538.0v7.85M258.5 553.6v7.85M390.5 553.6v7.85M312.5 561.5v7.85M316.5 561.5v7.85M519.5 561.5v7.85M529.5 561.5v7.85M541.5 561.5v7.85M168.5 592.9v7.85M240.5 592.9v7.85M226.5 616.5v7.85M267.5 616.5v7.85M245.5 624.3v7.85M291.5 624.3v7.85M352.5 624.3v7.85M459.5 624.3v7.85M275.5 632.1v7.85M398.5 647.9v7.85" stroke="#c8e0e8" stroke-width="1.05" fill="none"/>
<path d="M456.5 538.0v7.85M216.5 553.6v7.85M229.5 553.6v7.85M243.5 553.6v7.85M421.5 553.6v7.85M470.5 553.6v7.85M486.5 553.6v7.85M356.5 561.5v7.85M412.5 561.5v7.85M449.5 561.5v7.85M450.5 561.5v7.85M466.5 561.5v7.85M333.5 569.4v7.85M382.5 569.4v7.85M326.5 577.2v7.85M402.5 577.2v7.85M459.5 577.2v7.85M346.5 585.0v7.85M223.5 592.9v7.85M399.5 592.9v7.85M421.5 592.9v7.85M336.5 600.8v7.85M387.5 600.8v7.85M478.5 600.8v7.85M490.5 600.8v7.85M281.5 616.5v7.85M207.5 624.3v7.85M237.5 624.3v7.85M165.5 632.1v7.85M294.5 632.1v7.85M331.5 632.1v7.85M322.5 640.0v7.85M384.5 640.0v7.85M441.5 640.0v7.85M426.5 647.9v7.85M222.5 663.5v7.85" stroke="#e0e0e0" stroke-width="1.05" fill="none"/>
<path d="M465.5 538.0v7.85" stroke="#a89890" stroke-width="1.05" fill="none"/>
<path d="M469.5 538.0v7.85" stroke="#e0d8c8" stroke-width="1.05" fill="none"/>
<path d="M474.5 538.0v7.85M298.5 600.8v7.85M283.5 624.3v7.85M236.5 647.9v7.85" stroke="#c0e0e8" stroke-width="1.05" fill="none"/>
<path d="M487.5 538.0v7.85M517.5 561.5v7.85M413.5 585.0v7.85M477.5 616.5v7.85M419.5 624.3v7.85M161.5 632.1v7.85" stroke="#e0e0d8" stroke-width="1.05" fill="none"/>
<path d="M494.5 538.0v7.85M499.5 538.0v7.85M509.5 538.0v7.85M524.5 538.0v7.85M566.5 538.0v7.85M567.5 538.0v7.85M515.5 632.1v7.85M561.5 632.1v7.85M566.5 632.1v7.85" stroke="#60a0d0" stroke-width="1.05" fill="none"/>
<path d="M495.5 538.0v7.85M497.5 538.0v7.85M505.5 538.0v7.85M511.5 538.0v7.85M558.5 538.0v7.85M240.5 545.8v7.85M281.5 545.8v7.85M477.5 545.8v7.85M484.5 545.8v7.85M365.5 553.6v7.85M381.5 553.6v7.85M174.5 577.2v7.85M193.5 577.2v7.85M256.5 577.2v7.85M262.5 585.0v7.85M266.5 600.8v7.85M515.5 624.3v7.85M510.5 632.1v7.85M538.5 632.1v7.85M545.5 632.1v7.85M547.5 632.1v7.85M239.5 647.9v7.85M281.5 647.9v7.85M311.5 647.9v7.85" stroke="#98c0e0" stroke-width="1.05" fill="none"/>
<path d="M496.5 538.0v7.85M501.5 538.0v7.85M515.5 538.0v7.85M522.5 538.0v7.85M526.5 538.0v7.85M532.5 538.0v7.85M543.5 538.0v7.85M555.5 538.0v7.85M565.5 538.0v7.85M569.5 538.0v7.85M572.5 538.0v7.85M574.5 538.0v7.85M271.5 545.8v7.85M477.5 561.5v7.85M502.5 632.1v7.85M504.5 632.1v7.85M509.5 632.1v7.85M520.5 632.1v7.85M528.5 632.1v7.85M539.5 632.1v7.85M546.5 632.1v7.85M549.5 632.1v7.85M552.5 632.1v7.85M553.5 632.1v7.85M556.5 632.1v7.85M564.5 632.1v7.85M569.5 632.1v7.85" stroke="#80b8d8" stroke-width="1.05" fill="none"/>
<path d="M498.5 538.0v7.85M507.5 538.0v7.85M508.5 538.0v7.85M512.5 538.0v7.85M517.5 538.0v7.85M533.5 538.0v7.85M546.5 538.0v7.85M548.5 538.0v7.85M551.5 538.0v7.85M563.5 538.0v7.85M233.5 545.8v7.85M250.5 545.8v7.85M251.5 545.8v7.85M165.5 569.4v7.85M253.5 585.0v7.85M265.5 600.8v7.85M157.5 647.9v7.85M187.5 647.9v7.85" stroke="#90c0e0" stroke-width="1.05" fill="none"/>
<path d="M500.5 538.0v7.85M516.5 538.0v7.85M523.5 538.0v7.85M553.5 538.0v7.85M235.5 577.2v7.85M517.5 632.1v7.85M526.5 632.1v7.85M527.5 632.1v7.85" stroke="#88c0e0" stroke-width="1.05" fill="none"/>
<path d="M502.5 538.0v7.85M534.5 538.0v7.85M505.5 632.1v7.85M530.5 632.1v7.85M536.5 632.1v7.85M543.5 632.1v7.85" stroke="#88b8d8" stroke-width="1.05" fill="none"/>
<path d="M503.5 538.0v7.85M506.5 538.0v7.85M514.5 538.0v7.85M518.5 538.0v7.85M519.5 538.0v7.85M525.5 538.0v7.85M528.5 538.0v7.85M529.5 538.0v7.85M538.5 538.0v7.85M544.5 538.0v7.85M547.5 538.0v7.85M562.5 538.0v7.85M279.5 585.0v7.85M508.5 632.1v7.85M516.5 632.1v7.85M518.5 632.1v7.85M540.5 632.1v7.85M555.5 632.1v7.85M558.5 632.1v7.85M573.5 632.1v7.85" stroke="#78b0d8" stroke-width="1.05" fill="none"/>
<path d="M504.5 538.0v7.85M510.5 538.0v7.85M527.5 538.0v7.85M530.5 538.0v7.85M556.5 538.0v7.85M561.5 538.0v7.85M570.5 538.0v7.85M513.5 632.1v7.85" stroke="#70b0d8" stroke-width="1.05" fill="none"/>
<path d="M513.5 538.0v7.85M531.5 538.0v7.85M554.5 538.0v7.85M223.5 545.8v7.85M238.5 545.8v7.85M270.5 545.8v7.85M275.5 545.8v7.85M287.5 545.8v7.85M298.5 545.8v7.85M281.5 553.6v7.85M416.5 553.6v7.85M269.5 561.5v7.85M205.5 569.4v7.85M220.5 569.4v7.85M169.5 577.2v7.85M187.5 577.2v7.85M188.5 577.2v7.85M197.5 577.2v7.85M199.5 577.2v7.85M201.5 577.2v7.85M211.5 577.2v7.85M213.5 577.2v7.85M231.5 577.2v7.85M242.5 577.2v7.85M295.5 577.2v7.85M317.5 577.2v7.85M169.5 585.0v7.85M199.5 585.0v7.85M207.5 585.0v7.85M237.5 585.0v7.85M290.5 585.0v7.85M297.5 585.0v7.85M299.5 585.0v7.85M167.5 592.9v7.85M171.5 592.9v7.85M198.5 592.9v7.85M228.5 592.9v7.85M271.5 592.9v7.85M450.5 592.9v7.85M170.5 600.8v7.85M189.5 600.8v7.85M290.5 600.8v7.85M303.5 600.8v7.85M401.5 600.8v7.85M457.5 600.8v7.85M231.5 616.5v7.85M404.5 624.3v7.85M234.5 632.1v7.85M305.5 632.1v7.85M498.5 632.1v7.85M512.5 632.1v7.85M521.5 632.1v7.85M525.5 632.1v7.85M533.5 632.1v7.85M565.5 632.1v7.85M458.5 640.0v7.85M460.5 640.0v7.85M176.5 647.9v7.85M183.5 647.9v7.85M194.5 647.9v7.85M197.5 647.9v7.85M230.5 647.9v7.85" stroke="#a0c8e0" stroke-width="1.05" fill="none"/>
<path d="M520.5 538.0v7.85M560.5 538.0v7.85M500.5 632.1v7.85M511.5 632.1v7.85" stroke="#70a8d8" stroke-width="1.05" fill="none"/>
<path d="M521.5 538.0v7.85M501.5 632.1v7.85M507.5 632.1v7.85M531.5 632.1v7.85M551.5 632.1v7.85" stroke="#70a8d0" stroke-width="1.05" fill="none"/>
<path d="M535.5 538.0v7.85M539.5 538.0v7.85M545.5 538.0v7.85M573.5 538.0v7.85M231.5 545.8v7.85M432.5 624.3v7.85M514.5 632.1v7.85M535.5 632.1v7.85M548.5 632.1v7.85M557.5 632.1v7.85" stroke="#88b8e0" stroke-width="1.05" fill="none"/>
<path d="M536.5 538.0v7.85M541.5 538.0v7.85M550.5 538.0v7.85M552.5 538.0v7.85M559.5 538.0v7.85M571.5 538.0v7.85M499.5 632.1v7.85M524.5 632.1v7.85M550.5 632.1v7.85" stroke="#68a8d0" stroke-width="1.05" fill="none"/>
<path d="M537.5 538.0v7.85M506.5 632.1v7.85" stroke="#5898d0" stroke-width="1.05" fill="none"/>
<path d="M542.5 538.0v7.85M568.5 538.0v7.85" stroke="#5090c8" stroke-width="1.05" fill="none"/>
<path d="M549.5 538.0v7.85M564.5 538.0v7.85M562.5 632.1v7.85" stroke="#68a0d0" stroke-width="1.05" fill="none"/>
<path d="M557.5 538.0v7.85M469.5 553.6v7.85M308.5 577.2v7.85M239.5 585.0v7.85M193.5 600.8v7.85M519.5 632.1v7.85M537.5 632.1v7.85M570.5 632.1v7.85M314.5 647.9v7.85M411.5 647.9v7.85" stroke="#98c8e0" stroke-width="1.05" fill="none"/>
<path d="M235.5 545.8v7.85M244.5 545.8v7.85M193.5 569.4v7.85M206.5 569.4v7.85M230.5 569.4v7.85M234.5 569.4v7.85M236.5 569.4v7.85M310.5 569.4v7.85M342.5 569.4v7.85M400.5 569.4v7.85M159.5 577.2v7.85M202.5 577.2v7.85M204.5 577.2v7.85M208.5 577.2v7.85M214.5 577.2v7.85M223.5 577.2v7.85M241.5 577.2v7.85M297.5 577.2v7.85M201.5 585.0v7.85M308.5 585.0v7.85M211.5 592.9v7.85M251.5 592.9v7.85M252.5 592.9v7.85M163.5 600.8v7.85M199.5 600.8v7.85M331.5 600.8v7.85M209.5 616.5v7.85M228.5 616.5v7.85M303.5 616.5v7.85M257.5 624.3v7.85M522.5 632.1v7.85M171.5 647.9v7.85M199.5 647.9v7.85M219.5 647.9v7.85M222.5 647.9v7.85M257.5 647.9v7.85M287.5 647.9v7.85" stroke="#a8d0e8" stroke-width="1.05" fill="none"/>
<path d="M241.5 545.8v7.85M404.5 553.6v7.85M362.5 561.5v7.85M176.5 569.4v7.85M168.5 577.2v7.85M160.5 585.0v7.85M158.5 592.9v7.85M215.5 592.9v7.85M284.5 616.5v7.85M374.5 616.5v7.85M497.5 632.1v7.85M560.5 632.1v7.85M567.5 632.1v7.85M321.5 640.0v7.85M184.5 647.9v7.85M264.5 647.9v7.85M342.5 647.9v7.85M417.5 647.9v7.85" stroke="#a8c8e0" stroke-width="1.05" fill="none"/>
<path d="M259.5 545.8v7.85M266.5 545.8v7.85M291.5 545.8v7.85M309.5 545.8v7.85M308.5 569.4v7.85M210.5 577.2v7.85M219.5 577.2v7.85M232.5 577.2v7.85M186.5 592.9v7.85M541.5 632.1v7.85M165.5 647.9v7.85" stroke="#a8d0e0" stroke-width="1.05" fill="none"/>
<path d="M391.5 545.8v7.85" stroke="#c8c8c8" stroke-width="1.05" fill="none"/>
<path d="M405.5 545.8v7.85M290.5 561.5v7.85M488.5 585.0v7.85M284.5 592.9v7.85M302.5 592.9v7.85M314.5 600.8v7.85M468.5 600.8v7.85M483.5 600.8v7.85M495.5 600.8v7.85M277.5 616.5v7.85" stroke="#c8d8e0" stroke-width="1.05" fill="none"/>
<path d="M409.5 545.8v7.85M212.5 561.5v7.85M439.5 569.4v7.85M418.5 592.9v7.85M526.5 600.8v7.85M348.5 616.5v7.85M199.5 632.1v7.85M414.5 632.1v7.85M487.5 640.0v7.85M523.5 647.9v7.85" stroke="#f8e8e8" stroke-width="1.05" fill="none"/>
<path d="M414.5 545.8v7.85M462.5 545.8v7.85M191.5 561.5v7.85M223.5 561.5v7.85M273.5 561.5v7.85M434.5 561.5v7.85M382.5 577.2v7.85M276.5 592.9v7.85M277.5 592.9v7.85M396.5 592.9v7.85M470.5 592.9v7.85M223.5 600.8v7.85M433.5 600.8v7.85M259.5 616.5v7.85M328.5 616.5v7.85M458.5 616.5v7.85M176.5 624.3v7.85M251.5 624.3v7.85M292.5 624.3v7.85M190.5 632.1v7.85M267.5 632.1v7.85M421.5 640.0v7.85M483.5 640.0v7.85M399.5 647.9v7.85" stroke="#e0e0e8" stroke-width="1.05" fill="none"/>
<path d="M418.5 545.8v7.85M332.5 561.5v7.85M419.5 561.5v7.85M222.5 577.2v7.85M369.5 577.2v7.85M314.5 585.0v7.85M379.5 585.0v7.85M361.5 592.9v7.85M362.5 592.9v7.85M285.5 600.8v7.85M358.5 616.5v7.85M232.5 624.3v7.85M411.5 624.3v7.85M175.5 632.1v7.85M379.5 640.0v7.85M409.5 647.9v7.85M278.5 663.5v7.85" stroke="#f8f8f0" stroke-width="1.05" fill="none"/>
<path d="M428.5 545.8v7.85M377.5 553.6v7.85M358.5 561.5v7.85M380.5 561.5v7.85M410.5 561.5v7.85M473.5 561.5v7.85M364.5 577.2v7.85M400.5 577.2v7.85M378.5 592.9v7.85M244.5 600.8v7.85M487.5 600.8v7.85M166.5 624.3v7.85M466.5 624.3v7.85M238.5 632.1v7.85M351.5 640.0v7.85M358.5 647.9v7.85M422.5 647.9v7.85M472.5 647.9v7.85" stroke="#e0d8d8" stroke-width="1.05" fill="none"/>
<path d="M443.5 545.8v7.85M329.5 553.6v7.85M348.5 553.6v7.85M454.5 569.4v7.85M412.5 577.2v7.85M465.5 585.0v7.85M281.5 600.8v7.85" stroke="#b8d0e0" stroke-width="1.05" fill="none"/>
<path d="M445.5 545.8v7.85M314.5 553.6v7.85M435.5 553.6v7.85M545.5 553.6v7.85M282.5 561.5v7.85M396.5 569.4v7.85M288.5 592.9v7.85M295.5 592.9v7.85M496.5 600.8v7.85M505.5 600.8v7.85M240.5 616.5v7.85M291.5 616.5v7.85M389.5 616.5v7.85M171.5 624.3v7.85M209.5 624.3v7.85M304.5 624.3v7.85M317.5 624.3v7.85M339.5 632.1v7.85M430.5 632.1v7.85M439.5 640.0v7.85M570.5 640.0v7.85" stroke="#d0d8e0" stroke-width="1.05" fill="none"/>
<path d="M472.5 545.8v7.85M195.5 561.5v7.85" stroke="#c0d8e0" stroke-width="1.05" fill="none"/>
<path d="M501.5 545.8v7.85M535.5 553.6v7.85" stroke="#e89890" stroke-width="1.05" fill="none"/>
<path d="M506.5 545.8v7.85M529.5 577.2v7.85M562.5 577.2v7.85M505.5 616.5v7.85M538.5 616.5v7.85M569.5 647.9v7.85" stroke="#e88050" stroke-width="1.05" fill="none"/>
<path d="M507.5 545.8v7.85" stroke="#f08858" stroke-width="1.05" fill="none"/>
<path d="M515.5 545.8v7.85M531.5 585.0v7.85M544.5 616.5v7.85" stroke="#e87048" stroke-width="1.05" fill="none"/>
<path d="M526.5 545.8v7.85M552.5 545.8v7.85M554.5 545.8v7.85M506.5 569.4v7.85M535.5 569.4v7.85M564.5 569.4v7.85M513.5 577.2v7.85M518.5 577.2v7.85M496.5 585.0v7.85M564.5 585.0v7.85M574.5 600.8v7.85M546.5 608.6v7.85M531.5 640.0v7.85" stroke="#f09060" stroke-width="1.05" fill="none"/>
<path d="M530.5 545.8v7.85M507.5 569.4v7.85M543.5 569.4v7.85M565.5 569.4v7.85M508.5 585.0v7.85M506.5 592.9v7.85M434.5 624.3v7.85M187.5 663.5v7.85M279.5 663.5v7.85" stroke="#f0a870" stroke-width="1.05" fill="none"/>
<path d="M534.5 545.8v7.85M574.5 545.8v7.85M551.5 569.4v7.85M371.5 632.1v7.85M499.5 640.0v7.85" stroke="#f8a878" stroke-width="1.05" fill="none"/>
<path d="M544.5 545.8v7.85M498.5 569.4v7.85M560.5 577.2v7.85M563.5 585.0v7.85M526.5 640.0v7.85M188.5 663.5v7.85" stroke="#e88060" stroke-width="1.05" fill="none"/>
<path d="M553.5 545.8v7.85M567.5 545.8v7.85M533.5 553.6v7.85M516.5 577.2v7.85M495.5 585.0v7.85M514.5 585.0v7.85M524.5 585.0v7.85M173.5 663.5v7.85M300.5 663.5v7.85" stroke="#e87848" stroke-width="1.05" fill="none"/>
<path d="M558.5 545.8v7.85M573.5 569.4v7.85M527.5 585.0v7.85M496.5 592.9v7.85M497.5 592.9v7.85M553.5 616.5v7.85M547.5 640.0v7.85" stroke="#f09870" stroke-width="1.05" fill="none"/>
<path d="M563.5 545.8v7.85M497.5 553.6v7.85M532.5 561.5v7.85M508.5 569.4v7.85M565.5 577.2v7.85M566.5 585.0v7.85M548.5 592.9v7.85M552.5 616.5v7.85M561.5 616.5v7.85M502.5 640.0v7.85" stroke="#e89070" stroke-width="1.05" fill="none"/>
<path d="M571.5 545.8v7.85" stroke="#f8b090" stroke-width="1.05" fill="none"/>
<path d="M189.5 553.6v7.85M325.5 561.5v7.85M450.5 600.8v7.85M341.5 632.1v7.85" stroke="#e8e0d0" stroke-width="1.05" fill="none"/>
<path d="M264.5 553.6v7.85" stroke="#b8c8d0" stroke-width="1.05" fill="none"/>
<path d="M321.5 553.6v7.85" stroke="#d0b0a0" stroke-width="1.05" fill="none"/>
<path d="M338.5 553.6v7.85M335.5 592.9v7.85M524.5 600.8v7.85M414.5 616.5v7.85" stroke="#d0b8a8" stroke-width="1.05" fill="none"/>
<path d="M366.5 553.6v7.85M525.5 561.5v7.85" stroke="#d8c8b8" stroke-width="1.05" fill="none"/>
<path d="M374.5 553.6v7.85" stroke="#b0a8a0" stroke-width="1.05" fill="none"/>
<path d="M385.5 553.6v7.85" stroke="#e8e0e8" stroke-width="1.05" fill="none"/>
<path d="M393.5 553.6v7.85M538.5 624.3v7.85" stroke="#c0d0d8" stroke-width="1.05" fill="none"/>
<path d="M400.5 553.6v7.85M444.5 553.6v7.85M197.5 624.3v7.85" stroke="#b0c0d0" stroke-width="1.05" fill="none"/>
<path d="M423.5 553.6v7.85" stroke="#e0b8a0" stroke-width="1.05" fill="none"/>
<path d="M426.5 553.6v7.85M442.5 553.6v7.85M468.5 553.6v7.85M297.5 600.8v7.85M313.5 616.5v7.85M377.5 647.9v7.85" stroke="#c0d0e0" stroke-width="1.05" fill="none"/>
<path d="M430.5 553.6v7.85" stroke="#d8b098" stroke-width="1.05" fill="none"/>
<path d="M433.5 553.6v7.85M421.5 577.2v7.85M486.5 632.1v7.85M302.5 647.9v7.85" stroke="#d0d8d8" stroke-width="1.05" fill="none"/>
<path d="M438.5 553.6v7.85" stroke="#b8c8d8" stroke-width="1.05" fill="none"/>
<path d="M445.5 553.6v7.85" stroke="#a8b0c0" stroke-width="1.05" fill="none"/>
<path d="M479.5 553.6v7.85M430.5 561.5v7.85M481.5 585.0v7.85M372.5 616.5v7.85M425.5 616.5v7.85M312.5 632.1v7.85" stroke="#d8d8d0" stroke-width="1.05" fill="none"/>
<path d="M480.5 553.6v7.85M560.5 561.5v7.85M464.5 569.4v7.85M394.5 577.2v7.85M303.5 592.9v7.85M330.5 624.3v7.85M479.5 624.3v7.85M370.5 640.0v7.85M364.5 647.9v7.85M373.5 647.9v7.85" stroke="#d8d8e0" stroke-width="1.05" fill="none"/>
<path d="M491.5 553.6v7.85" stroke="#b0c8d8" stroke-width="1.05" fill="none"/>
<path d="M496.5 553.6v7.85" stroke="#c0b0a0" stroke-width="1.05" fill="none"/>
<path d="M506.5 553.6v7.85M491.5 561.5v7.85" stroke="#d8c8c0" stroke-width="1.05" fill="none"/>
<path d="M524.5 553.6v7.85M539.5 592.9v7.85M216.5 663.5v7.85" stroke="#e88058" stroke-width="1.05" fill="none"/>
<path d="M526.5 553.6v7.85M537.5 553.6v7.85M515.5 592.9v7.85M294.5 655.7v7.85" stroke="#d88890" stroke-width="1.05" fill="none"/>
<path d="M543.5 553.6v7.85" stroke="#d08890" stroke-width="1.05" fill="none"/>
<path d="M563.5 553.6v7.85M370.5 561.5v7.85M534.5 561.5v7.85M414.5 647.9v7.85" stroke="#e0c8c0" stroke-width="1.05" fill="none"/>
<path d="M565.5 553.6v7.85M536.5 561.5v7.85M561.5 561.5v7.85M571.5 577.2v7.85M526.5 585.0v7.85M501.5 600.8v7.85M522.5 616.5v7.85M525.5 647.9v7.85M561.5 647.9v7.85M196.5 687.1v7.85" stroke="#e89078" stroke-width="1.05" fill="none"/>
<path d="M248.5 561.5v7.85M374.5 569.4v7.85M308.5 600.8v7.85M522.5 600.8v7.85M350.5 616.5v7.85" stroke="#d0e0e0" stroke-width="1.05" fill="none"/>
<path d="M249.5 561.5v7.85M403.5 561.5v7.85M169.5 600.8v7.85M179.5 616.5v7.85M278.5 616.5v7.85M343.5 640.0v7.85" stroke="#c8d8e8" stroke-width="1.05" fill="none"/>
<path d="M293.5 561.5v7.85M459.5 569.4v7.85M331.5 592.9v7.85M243.5 616.5v7.85M254.5 616.5v7.85M258.5 616.5v7.85M324.5 632.1v7.85" stroke="#d8e0f0" stroke-width="1.05" fill="none"/>
<path d="M328.5 561.5v7.85M501.5 561.5v7.85M311.5 616.5v7.85M399.5 624.3v7.85" stroke="#c8d0d8" stroke-width="1.05" fill="none"/>
<path d="M373.5 561.5v7.85M438.5 569.4v7.85M417.5 600.8v7.85M496.5 624.3v7.85M344.5 647.9v7.85" stroke="#e0d0c0" stroke-width="1.05" fill="none"/>
<path d="M435.5 561.5v7.85" stroke="#b8b0a8" stroke-width="1.05" fill="none"/>
<path d="M462.5 561.5v7.85M547.5 561.5v7.85M390.5 569.4v7.85M437.5 569.4v7.85M376.5 577.2v7.85M346.5 592.9v7.85M430.5 592.9v7.85M444.5 592.9v7.85M456.5 600.8v7.85M530.5 600.8v7.85M531.5 600.8v7.85M368.5 616.5v7.85M303.5 624.3v7.85M318.5 624.3v7.85M389.5 632.1v7.85M404.5 632.1v7.85M431.5 647.9v7.85M475.5 647.9v7.85" stroke="#e0d8d0" stroke-width="1.05" fill="none"/>
<path d="M486.5 561.5v7.85" stroke="#d0c0b8" stroke-width="1.05" fill="none"/>
<path d="M524.5 561.5v7.85" stroke="#d0b8b0" stroke-width="1.05" fill="none"/>
<path d="M542.5 561.5v7.85M513.5 600.8v7.85M512.5 616.5v7.85M507.5 640.0v7.85M234.5 679.2v7.85" stroke="#e8a098" stroke-width="1.05" fill="none"/>
<path d="M564.5 561.5v7.85M499.5 577.2v7.85M563.5 600.8v7.85" stroke="#f0b098" stroke-width="1.05" fill="none"/>
<path d="M395.5 569.4v7.85" stroke="#e0c0a8" stroke-width="1.05" fill="none"/>
<path d="M456.5 569.4v7.85M250.5 632.1v7.85" stroke="#a0c0e0" stroke-width="1.05" fill="none"/>
<path d="M505.5 569.4v7.85M504.5 585.0v7.85" stroke="#e08060" stroke-width="1.05" fill="none"/>
<path d="M509.5 569.4v7.85M514.5 569.4v7.85M549.5 585.0v7.85M572.5 585.0v7.85" stroke="#d86040" stroke-width="1.05" fill="none"/>
<path d="M527.5 569.4v7.85M515.5 585.0v7.85M526.5 592.9v7.85M552.5 592.9v7.85M573.5 592.9v7.85M529.5 647.9v7.85" stroke="#f09878" stroke-width="1.05" fill="none"/>
<path d="M550.5 569.4v7.85M525.5 592.9v7.85M533.5 600.8v7.85M516.5 616.5v7.85M497.5 640.0v7.85M517.5 647.9v7.85M286.5 663.5v7.85" stroke="#f8b888" stroke-width="1.05" fill="none"/>
<path d="M446.5 577.2v7.85M471.5 585.0v7.85M446.5 640.0v7.85" stroke="#d0d0d8" stroke-width="1.05" fill="none"/>
<path d="M495.5 577.2v7.85" stroke="#f0c8c0" stroke-width="1.05" fill="none"/>
<path d="M503.5 577.2v7.85" stroke="#e07850" stroke-width="1.05" fill="none"/>
<path d="M505.5 577.2v7.85M534.5 585.0v7.85" stroke="#e88870" stroke-width="1.05" fill="none"/>
<path d="M507.5 577.2v7.85" stroke="#e89080" stroke-width="1.05" fill="none"/>
<path d="M574.5 577.2v7.85" stroke="#e07860" stroke-width="1.05" fill="none"/>
<path d="M499.5 585.0v7.85" stroke="#f0c0b0" stroke-width="1.05" fill="none"/>
<path d="M516.5 585.0v7.85M549.5 592.9v7.85M300.5 671.4v7.85" stroke="#d86858" stroke-width="1.05" fill="none"/>
<path d="M532.5 585.0v7.85" stroke="#e88068" stroke-width="1.05" fill="none"/>
<path d="M556.5 585.0v7.85M517.5 592.9v7.85M568.5 592.9v7.85M566.5 608.6v7.85" stroke="#e88868" stroke-width="1.05" fill="none"/>
<path d="M351.5 592.9v7.85M362.5 624.3v7.85M201.5 632.1v7.85" stroke="#c8d0d0" stroke-width="1.05" fill="none"/>
<path d="M386.5 592.9v7.85M479.5 647.9v7.85M547.5 647.9v7.85" stroke="#c8b8b0" stroke-width="1.05" fill="none"/>
<path d="M391.5 592.9v7.85" stroke="#c8b8b8" stroke-width="1.05" fill="none"/>
<path d="M404.5 592.9v7.85" stroke="#d0c0b0" stroke-width="1.05" fill="none"/>
<path d="M412.5 592.9v7.85" stroke="#90b0d8" stroke-width="1.05" fill="none"/>
<path d="M494.5 592.9v7.85M570.5 592.9v7.85M514.5 608.6v7.85M172.5 663.5v7.85" stroke="#e08080" stroke-width="1.05" fill="none"/>
<path d="M512.5 592.9v7.85" stroke="#e87858" stroke-width="1.05" fill="none"/>
<path d="M532.5 592.9v7.85" stroke="#d8a898" stroke-width="1.05" fill="none"/>
<path d="M550.5 592.9v7.85M537.5 600.8v7.85M559.5 616.5v7.85" stroke="#f0a080" stroke-width="1.05" fill="none"/>
<path d="M563.5 592.9v7.85" stroke="#d86058" stroke-width="1.05" fill="none"/>
<path d="M239.5 600.8v7.85" stroke="#b8b8b8" stroke-width="1.05" fill="none"/>
<path d="M261.5 600.8v7.85M496.5 632.1v7.85M554.5 632.1v7.85" stroke="#80b0d8" stroke-width="1.05" fill="none"/>
<path d="M345.5 600.8v7.85M560.5 624.3v7.85" stroke="#b0c0c8" stroke-width="1.05" fill="none"/>
<path d="M348.5 600.8v7.85" stroke="#c8a898" stroke-width="1.05" fill="none"/>
<path d="M391.5 600.8v7.85M284.5 647.9v7.85" stroke="#90b8d8" stroke-width="1.05" fill="none"/>
<path d="M476.5 600.8v7.85" stroke="#c0d0d0" stroke-width="1.05" fill="none"/>
<path d="M479.5 600.8v7.85M560.5 600.8v7.85" stroke="#d0a898" stroke-width="1.05" fill="none"/>
<path d="M499.5 600.8v7.85" stroke="#989090" stroke-width="1.05" fill="none"/>
<path d="M511.5 600.8v7.85" stroke="#b07890" stroke-width="1.05" fill="none"/>
<path d="M525.5 600.8v7.85" stroke="#f09068" stroke-width="1.05" fill="none"/>
<path d="M534.5 600.8v7.85" stroke="#c08090" stroke-width="1.05" fill="none"/>
<path d="M562.5 600.8v7.85" stroke="#c88090" stroke-width="1.05" fill="none"/>
<path d="M453.5 608.6v7.85" stroke="#f0c098" stroke-width="1.05" fill="none"/>
<path d="M501.5 608.6v7.85" stroke="#d07070" stroke-width="1.05" fill="none"/>
<path d="M506.5 608.6v7.85" stroke="#d86870" stroke-width="1.05" fill="none"/>
<path d="M519.5 608.6v7.85" stroke="#e8a8a8" stroke-width="1.05" fill="none"/>
<path d="M521.5 608.6v7.85" stroke="#c84050" stroke-width="1.05" fill="none"/>
<path d="M553.5 608.6v7.85" stroke="#d87878" stroke-width="1.05" fill="none"/>
<path d="M570.5 608.6v7.85" stroke="#d05060" stroke-width="1.05" fill="none"/>
<path d="M366.5 616.5v7.85" stroke="#c8d0e0" stroke-width="1.05" fill="none"/>
<path d="M409.5 616.5v7.85" stroke="#a89898" stroke-width="1.05" fill="none"/>
<path d="M441.5 616.5v7.85" stroke="#d8d0d8" stroke-width="1.05" fill="none"/>
<path d="M527.5 616.5v7.85" stroke="#d05840" stroke-width="1.05" fill="none"/>
<path d="M539.5 616.5v7.85" stroke="#d87068" stroke-width="1.05" fill="none"/>
<path d="M247.5 624.3v7.85" stroke="#d0d0c8" stroke-width="1.05" fill="none"/>
<path d="M331.5 624.3v7.85" stroke="#c8c0b8" stroke-width="1.05" fill="none"/>
<path d="M498.5 624.3v7.85" stroke="#c88890" stroke-width="1.05" fill="none"/>
<path d="M508.5 624.3v7.85" stroke="#c0a090" stroke-width="1.05" fill="none"/>
<path d="M525.5 624.3v7.85" stroke="#b8b0b0" stroke-width="1.05" fill="none"/>
<path d="M207.5 632.1v7.85" stroke="#f0d0b0" stroke-width="1.05" fill="none"/>
<path d="M264.5 632.1v7.85" stroke="#b8d0d8" stroke-width="1.05" fill="none"/>
<path d="M559.5 632.1v7.85" stroke="#4890c8" stroke-width="1.05" fill="none"/>
<path d="M574.5 632.1v7.85" stroke="#58a0d0" stroke-width="1.05" fill="none"/>
<path d="M383.5 640.0v7.85" stroke="#e0c0a0" stroke-width="1.05" fill="none"/>
<path d="M539.5 640.0v7.85" stroke="#d8b0a0" stroke-width="1.05" fill="none"/>
<path d="M548.5 640.0v7.85M241.5 687.1v7.85M278.5 687.1v7.85" stroke="#e07868" stroke-width="1.05" fill="none"/>
<path d="M558.5 640.0v7.85" stroke="#e89088" stroke-width="1.05" fill="none"/>
<path d="M564.5 640.0v7.85" stroke="#e07870" stroke-width="1.05" fill="none"/>
<path d="M336.5 647.9v7.85" stroke="#c0c8c8" stroke-width="1.05" fill="none"/>
<path d="M360.5 647.9v7.85M446.5 647.9v7.85" stroke="#d8c0a8" stroke-width="1.05" fill="none"/>
<path d="M370.5 647.9v7.85" stroke="#c8b0a0" stroke-width="1.05" fill="none"/>
<path d="M372.5 647.9v7.85M255.5 663.5v7.85" stroke="#d8e8e8" stroke-width="1.05" fill="none"/>
<path d="M527.5 647.9v7.85M270.5 663.5v7.85" stroke="#e88878" stroke-width="1.05" fill="none"/>
<path d="M159.5 655.7v7.85" stroke="#d08088" stroke-width="1.05" fill="none"/>
<path d="M370.5 655.7v7.85" stroke="#d07080" stroke-width="1.05" fill="none"/>
<path d="M548.5 655.7v7.85" stroke="#c03848" stroke-width="1.05" fill="none"/>
<path d="M158.5 663.5v7.85M176.5 663.5v7.85" stroke="#f0b8a8" stroke-width="1.05" fill="none"/>
<path d="M161.5 663.5v7.85" stroke="#f0b8b0" stroke-width="1.05" fill="none"/>
<path d="M168.5 663.5v7.85" stroke="#f0b888" stroke-width="1.05" fill="none"/>
<path d="M288.5 671.4v7.85" stroke="#d86850" stroke-width="1.05" fill="none"/>
<path d="M306.5 671.4v7.85M537.5 687.1v7.85" stroke="#c04858" stroke-width="1.05" fill="none"/>
<path d="M320.5 671.4v7.85M558.5 687.1v7.85" stroke="#d898a8" stroke-width="1.05" fill="none"/>
<path d="M231.5 679.2v7.85" stroke="#d06878" stroke-width="1.05" fill="none"/>
<path d="M552.5 687.1v7.85" stroke="#c84858" stroke-width="1.05" fill="none"/>
<line x1="221.4" y1="465.8" x2="221.4" y2="695" stroke="#666" stroke-width="1.0" />
<line x1="221.4" y1="463.8" x2="221.4" y2="467.3" stroke="#666" stroke-width="0.8" />
<line x1="319.1" y1="465.8" x2="319.1" y2="695" stroke="#666" stroke-width="1.0" />
<line x1="319.1" y1="463.8" x2="319.1" y2="467.3" stroke="#666" stroke-width="0.8" />
<line x1="492.5" y1="465.8" x2="492.5" y2="695" stroke="#666" stroke-width="1.0" />
<line x1="492.5" y1="463.8" x2="492.5" y2="467.3" stroke="#666" stroke-width="0.8" />
<line x1="575.6" y1="467.3" x2="575.6" y2="695" stroke="#8a8a8a" stroke-width="0.9" />
<text x="154" y="475.4" font-size="9.9" text-anchor="end" font-style="italic" fill="#333" textLength="25.7" lengthAdjust="spacingAndGlyphs">Gata1</text>
<text x="154" y="483.2" font-size="9.9" text-anchor="end" font-style="italic" fill="#333" textLength="25.7" lengthAdjust="spacingAndGlyphs">Gata2</text>
<text x="154" y="491.1" font-size="9.9" text-anchor="end" font-style="italic" fill="#333" textLength="27.8" lengthAdjust="spacingAndGlyphs">Cebpa</text>
<text x="154" y="498.9" font-size="9.9" text-anchor="end" font-style="italic" fill="#333" textLength="27.3" lengthAdjust="spacingAndGlyphs">Runx1</text>
<text x="154" y="506.8" font-size="9.9" text-anchor="end" font-style="italic" fill="#333" textLength="17.3" lengthAdjust="spacingAndGlyphs">Gfi1</text>
<path d="M133.07 505.25L133.07 500.85M134.97 504.15L131.16 501.95M131.16 504.15L134.97 501.95" stroke="#F28A8A" stroke-width="1.3"/>
<text x="154" y="514.6" font-size="9.9" text-anchor="end" font-style="italic" fill="#333" textLength="21" lengthAdjust="spacingAndGlyphs">Pclaf</text>
<path d="M129.39 513.10L129.39 508.70M131.30 512.00L127.49 509.80M127.49 512.00L131.30 509.80" stroke="#F28A8A" stroke-width="1.3"/>
<text x="154" y="522.4" font-size="9.9" text-anchor="end" font-style="italic" fill="#333" textLength="25.9" lengthAdjust="spacingAndGlyphs">Top2a</text>
<path d="M124.47 520.95L124.47 516.55M126.38 519.85L122.57 517.65M122.57 519.85L126.38 517.65" stroke="#F28A8A" stroke-width="1.3"/>
<text x="154" y="530.3" font-size="9.9" text-anchor="end" font-style="italic" fill="#333" textLength="27.3" lengthAdjust="spacingAndGlyphs">Ube2c</text>
<path d="M123.09 528.80L123.09 524.40M124.99 527.70L121.18 525.50M121.18 527.70L124.99 525.50" stroke="#F28A8A" stroke-width="1.3"/>
<text x="154" y="538.1" font-size="9.9" text-anchor="end" font-style="italic" fill="#333" textLength="27.3" lengthAdjust="spacingAndGlyphs">Ube2s</text>
<path d="M123.09 536.65L123.09 532.25M124.99 535.55L121.18 533.35M121.18 535.55L124.99 533.35" stroke="#F28A8A" stroke-width="1.3"/>
<text x="154" y="546" font-size="9.9" text-anchor="end" font-style="italic" fill="#333" textLength="27.8" lengthAdjust="spacingAndGlyphs">Cebpe</text>
<path d="M122.55 544.50L122.55 540.10M124.46 543.40L120.65 541.20M120.65 543.40L124.46 541.20" stroke="#F28A8A" stroke-width="1.3"/>
<text x="154" y="553.8" font-size="9.9" text-anchor="end" font-style="italic" fill="#333" textLength="27.8" lengthAdjust="spacingAndGlyphs">Cebpb</text>
<path d="M122.55 552.35L122.55 547.95M124.46 551.25L120.65 549.05M120.65 551.25L124.46 549.05" stroke="#A055B5" stroke-width="1.3"/>
<text x="154" y="561.7" font-size="9.9" text-anchor="end" font-style="italic" fill="#333" textLength="27.8" lengthAdjust="spacingAndGlyphs">Cebpd</text>
<path d="M122.55 560.20L122.55 555.80M124.46 559.10L120.65 556.90M120.65 559.10L124.46 556.90" stroke="#A055B5" stroke-width="1.3"/>
<text x="154" y="569.5" font-size="9.9" text-anchor="end" font-style="italic" fill="#333" textLength="18.9" lengthAdjust="spacingAndGlyphs">Spi1</text>
<path d="M131.49 568.05L131.49 563.65M133.39 566.95L129.58 564.75M129.58 566.95L133.39 564.75" stroke="#A055B5" stroke-width="1.3"/>
<text x="154" y="577.4" font-size="9.9" text-anchor="end" font-style="italic" fill="#333" textLength="15.8" lengthAdjust="spacingAndGlyphs">Fos</text>
<text x="154" y="585.2" font-size="9.9" text-anchor="end" font-style="italic" fill="#333" textLength="20.5" lengthAdjust="spacingAndGlyphs">Junb</text>
<path d="M129.91 583.75L129.91 579.35M131.81 582.65L128.00 580.45M128.00 582.65L131.81 580.45" stroke="#A055B5" stroke-width="1.3"/>
<text x="154" y="593.1" font-size="9.9" text-anchor="end" font-style="italic" fill="#333" textLength="20.5" lengthAdjust="spacingAndGlyphs">Jund</text>
<path d="M129.91 591.60L129.91 587.20M131.81 590.50L128.00 588.30M128.00 590.50L131.81 588.30" stroke="#A055B5" stroke-width="1.3"/>
<text x="154" y="600.9" font-size="9.9" text-anchor="end" font-style="italic" fill="#333" textLength="13.7" lengthAdjust="spacingAndGlyphs">Irf1</text>
<text x="154" y="608.8" font-size="9.9" text-anchor="end" font-style="italic" fill="#333" textLength="13.7" lengthAdjust="spacingAndGlyphs">Irf2</text>
<text x="154" y="616.6" font-size="9.9" text-anchor="end" font-style="italic" fill="#333" textLength="13.7" lengthAdjust="spacingAndGlyphs">Irf5</text>
<text x="154" y="624.5" font-size="9.9" text-anchor="end" font-style="italic" fill="#333" textLength="13.7" lengthAdjust="spacingAndGlyphs">Irf7</text>
<path d="M136.75 623.00L136.75 618.60M138.65 621.90L134.84 619.70M134.84 621.90L138.65 619.70" stroke="#A055B5" stroke-width="1.3"/>
<text x="154" y="632.3" font-size="9.9" text-anchor="end" font-style="italic" fill="#333" textLength="13.7" lengthAdjust="spacingAndGlyphs">Irf9</text>
<text x="154" y="640.2" font-size="9.9" text-anchor="end" font-style="italic" fill="#333" textLength="33.6" lengthAdjust="spacingAndGlyphs">Mapk13</text>
<text x="154" y="648" font-size="9.9" text-anchor="end" font-style="italic" fill="#333" textLength="26.3" lengthAdjust="spacingAndGlyphs">Socs3</text>
<text x="154" y="655.9" font-size="9.9" text-anchor="end" font-style="italic" fill="#333" textLength="19.4" lengthAdjust="spacingAndGlyphs">Pten</text>
<text x="154" y="663.7" font-size="9.9" text-anchor="end" font-style="italic" fill="#333" textLength="33.1" lengthAdjust="spacingAndGlyphs">Ms4a6c</text>
<text x="154" y="671.6" font-size="9.9" text-anchor="end" font-style="italic" fill="#333" textLength="28.4" lengthAdjust="spacingAndGlyphs">Ms4a3</text>
<path d="M122.04 670.10L122.04 665.70M123.94 669.00L120.13 666.80M120.13 669.00L123.94 666.80" stroke="#F28A8A" stroke-width="1.3"/>
<text x="154" y="679.4" font-size="9.9" text-anchor="end" font-style="italic" fill="#333" textLength="33.1" lengthAdjust="spacingAndGlyphs">Ms4a4c</text>
<text x="154" y="687.3" font-size="9.9" text-anchor="end" font-style="italic" fill="#333" textLength="35.2" lengthAdjust="spacingAndGlyphs">Pou2af1</text>
<text x="154" y="695.1" font-size="9.9" text-anchor="end" font-style="italic" fill="#333" textLength="33.6" lengthAdjust="spacingAndGlyphs">Ms4a6b</text>
<text x="587.4" y="498.9" font-size="15.5" textLength="51.5" lengthAdjust="spacingAndGlyphs">Identity</text>
<circle cx="592.2" cy="515.2" r="1.3" fill="#F27B72"/>
<text x="606.8" y="519.2" font-size="12" textLength="14.6" lengthAdjust="spacingAndGlyphs">N1</text>
<circle cx="592.2" cy="527.2" r="1.3" fill="#7CB342"/>
<text x="606.8" y="531.3" font-size="12" textLength="14.6" lengthAdjust="spacingAndGlyphs">N2</text>
<circle cx="592.2" cy="539.1" r="1.3" fill="#2FBFC6"/>
<text x="606.8" y="543.5" font-size="12" textLength="14.6" lengthAdjust="spacingAndGlyphs">N3</text>
<circle cx="592.2" cy="551.1" r="1.3" fill="#9F78C0"/>
<text x="606.8" y="555.6" font-size="12" textLength="14.6" lengthAdjust="spacingAndGlyphs">N4</text>
<text x="587.4" y="584.8" font-size="15.5" textLength="78.7" lengthAdjust="spacingAndGlyphs">Expression</text>
<defs><linearGradient id="ex" x1="0" y1="0" x2="0" y2="1"><stop offset="0" stop-color="#B2202E"/><stop offset="0.22" stop-color="#EC8640"/><stop offset="0.4" stop-color="#F9D5BE"/><stop offset="0.58" stop-color="#F7F7F7"/><stop offset="0.78" stop-color="#A7CCE4"/><stop offset="1" stop-color="#2F6FB2"/></linearGradient></defs>
<rect x="587" y="594.8" width="11.6" height="55.9" fill="url(#ex)" />
<text x="606.3" y="604.9" font-size="12.5">2</text>
<text x="606.3" y="615.7" font-size="12.5">1</text>
<text x="606.3" y="626.9" font-size="12.5">0</text>
<text x="606.3" y="637.8" font-size="12.5">&#8722;1</text>
<text x="606.3" y="649" font-size="12.5">&#8722;2</text>
<path d="M104.1 722.4Q105 717.6 110 717.6H529Q535.5 717.6 535.5 698Q535.5 717.6 542 717.6H571Q576 717.6 576.8 722.1" fill="none" stroke="#B07CC6" stroke-width="1.3"/>
<text x="0" y="0" transform="translate(117.4 819.4) rotate(-90)" font-size="11" textLength="74.5" lengthAdjust="spacingAndGlyphs" >Expression Level</text>
<text x="0" y="0" transform="translate(117.4 923) rotate(-90)" font-size="11" textLength="75.7" lengthAdjust="spacingAndGlyphs" >Expression Level</text>
<path d="M131.4 750.4V815.0H188.6" fill="none" stroke="#333" stroke-width="0.8"/>
<line x1="128.9" y1="812" x2="131.4" y2="812" stroke="#333" stroke-width="0.7" />
<text x="127.4" y="815.3" font-size="9.5" text-anchor="end" fill="#222">0</text>
<line x1="128.9" y1="797.9" x2="131.4" y2="797.9" stroke="#333" stroke-width="0.7" />
<text x="127.4" y="801.1" font-size="9.5" text-anchor="end" fill="#222">1</text>
<line x1="128.9" y1="783.7" x2="131.4" y2="783.7" stroke="#333" stroke-width="0.7" />
<text x="127.4" y="787" font-size="9.5" text-anchor="end" fill="#222">2</text>
<line x1="128.9" y1="769.5" x2="131.4" y2="769.5" stroke="#333" stroke-width="0.7" />
<text x="127.4" y="772.8" font-size="9.5" text-anchor="end" fill="#222">3</text>
<line x1="128.9" y1="755.4" x2="131.4" y2="755.4" stroke="#333" stroke-width="0.7" />
<text x="127.4" y="758.7" font-size="9.5" text-anchor="end" fill="#222">4</text>
<line x1="159.6" y1="815" x2="159.6" y2="817.5" stroke="#333" stroke-width="0.7" />
<text x="146.1" y="731.5" font-size="11.5" font-weight="bold" font-style="italic" textLength="27.4" lengthAdjust="spacingAndGlyphs">Stat1</text>
<text x="154.6" y="747.9" font-size="8.8" fill="#222" textLength="34" lengthAdjust="spacingAndGlyphs"><tspan font-style="italic">p</tspan> &lt;0.0001</text>
<path d="M149.3 755.2L152.5 755.2C153.1 755.7 154.7 756.6 155.8 758.0C156.9 759.4 158.6 761.5 159.3 763.5C160.0 765.5 160.1 767.1 160.2 770.0C160.3 772.9 160.1 778.0 159.8 780.7C159.5 783.4 159.1 784.3 158.6 786.0C158.1 787.7 157.8 789.3 157.0 790.7C156.2 792.1 154.7 793.3 153.8 794.5C152.9 795.7 152.1 796.4 151.6 797.9C151.2 799.4 151.0 801.5 151.1 803.3C151.2 805.1 151.7 807.3 152.2 808.8C152.7 810.2 153.7 811.5 154.1 812.0L144.6 812.0C144.9 811.5 145.9 810.2 146.4 808.8C146.9 807.3 147.4 805.1 147.5 803.3C147.6 801.5 147.4 799.4 147.0 797.9C146.6 796.4 145.7 795.7 144.8 794.5C143.9 793.3 142.4 792.1 141.6 790.7C140.8 789.3 140.5 787.7 140.0 786.0C139.5 784.3 139.1 783.4 138.8 780.7C138.5 778.0 138.3 772.9 138.4 770.0C138.5 767.1 138.6 765.5 139.3 763.5C140.0 761.5 141.7 759.4 142.8 758.0C143.9 756.6 145.6 755.7 146.1 755.2Z" fill="#F57C6E" stroke="#222" stroke-width="0.75"/>
<path d="M148.8 766.3h0M152.4 767.5h0M146.9 785.2h0M143.5 776.1h0M145.9 775.6h0M150.5 788.8h0M149.3 784.4h0M145.7 784.9h0M147.5 786.4h0M147.0 759.4h0M144.9 763.3h0M148.8 781.8h0M152.8 774.6h0M149.9 794.6h0M152.5 760.9h0M145.9 785.0h0M153.3 773.3h0M149.9 765.0h0M152.1 785.8h0M150.4 793.3h0M149.9 769.2h0M154.5 763.1h0M147.5 789.3h0M148.1 792.5h0M150.4 771.4h0M146.1 763.4h0M151.4 792.5h0M146.2 764.8h0M148.0 778.5h0M154.0 764.5h0M145.4 770.7h0M147.1 775.7h0M147.7 765.8h0M149.0 763.4h0M147.0 774.0h0M153.5 789.6h0M154.6 778.7h0M144.9 772.6h0M148.3 781.8h0M152.0 764.8h0M146.6 766.8h0M146.6 788.3h0M145.3 777.6h0M153.0 781.3h0M147.5 757.4h0M143.8 779.5h0M150.6 779.0h0M147.7 796.3h0M148.8 761.3h0M149.3 784.6h0M154.9 768.8h0M152.7 766.5h0M145.4 767.6h0M154.0 777.1h0M147.1 788.9h0M148.9 794.9h0M145.9 774.2h0M150.1 767.3h0M150.0 796.9h0M145.2 778.3h0M151.7 778.3h0M151.1 790.3h0M147.4 792.0h0M149.8 776.5h0M150.7 793.3h0M153.7 785.7h0M151.5 779.2h0M150.2 772.7h0M146.7 780.7h0M154.8 772.6h0M147.5 764.4h0M150.7 768.1h0M149.9 770.3h0M145.9 789.7h0M148.4 764.6h0M149.6 765.5h0M143.5 774.4h0M145.4 785.6h0M149.5 776.3h0M148.6 768.4h0M146.3 763.6h0M151.7 772.5h0M149.9 758.3h0M150.7 774.1h0M148.6 762.3h0M153.4 775.2h0M148.0 780.3h0M148.4 769.7h0M145.4 783.4h0M153.6 787.6h0M143.9 765.0h0M148.7 772.1h0M152.0 772.1h0M149.8 781.1h0M147.6 768.9h0M152.6 789.5h0M145.5 761.1h0M146.8 766.5h0M146.1 788.9h0M146.2 771.6h0M151.9 792.8h0M145.3 787.4h0M152.4 781.3h0M151.2 775.6h0M153.8 770.3h0M147.2 760.3h0M153.7 775.7h0M152.8 791.7h0M148.0 781.4h0M148.0 757.6h0M144.8 761.4h0M151.7 786.2h0M152.8 770.9h0M146.0 775.0h0M146.4 762.4h0M146.7 783.8h0M145.2 778.3h0M147.4 765.2h0M147.4 768.6h0M144.0 779.9h0M149.1 781.0h0M148.3 778.2h0M143.7 777.3h0M144.2 773.3h0M146.3 775.3h0M149.0 769.7h0M152.4 769.0h0M145.8 764.7h0M147.5 776.9h0M146.6 793.9h0M154.4 782.3h0M145.1 781.6h0M151.1 759.9h0M149.5 769.2h0M145.3 782.5h0M153.7 763.6h0M150.2 778.8h0M145.7 780.4h0M147.7 769.6h0M144.5 780.5h0M144.2 783.9h0M145.0 769.6h0M150.3 760.8h0M148.0 794.7h0M148.8 769.5h0M149.9 763.7h0M152.6 776.4h0M152.5 789.8h0M151.2 775.5h0M149.4 792.0h0M145.2 764.5h0M149.6 765.1h0M149.7 773.0h0M147.0 793.2h0M150.6 780.7h0M154.7 773.2h0M146.1 757.5h0M147.2 777.7h0M151.8 788.8h0M152.6 778.5h0M152.7 784.4h0M144.7 777.8h0M154.5 770.5h0M148.5 768.5h0M147.7 776.6h0M151.2 769.4h0M150.3 795.1h0M150.1 785.3h0M144.8 781.2h0M152.9 762.0h0M153.2 778.6h0M153.5 776.2h0M146.6 772.8h0M152.5 763.9h0M153.0 788.3h0M145.3 768.4h0M150.7 764.7h0M152.6 763.2h0M145.6 761.0h0M154.8 781.3h0M147.3 767.5h0M154.5 780.9h0M148.9 788.2h0M146.7 762.5h0M145.4 765.3h0M148.6 759.1h0M150.6 780.6h0M146.6 767.1h0M145.9 779.5h0M144.0 772.2h0" stroke="#111" stroke-width="0.95" stroke-linecap="round" fill="none" opacity="1"/>
<path d="M149.4 812.0h0M149.9 812.0h0M147.3 812.3h0M151.2 811.9h0M150.1 812.0h0M149.9 811.7h0M147.6 812.0h0M151.7 812.0h0M149.1 812.2h0M147.4 811.9h0M147.1 811.8h0M150.7 812.2h0M147.5 812.1h0M147.4 811.9h0" stroke="#222" stroke-width="0.9" stroke-linecap="round" fill="none" opacity="1"/>
<path d="M171.0 750.4L171.5 750.4C171.6 752.4 171.9 759.8 172.2 762.6C172.5 765.4 173.0 765.5 173.5 767.0C174.0 768.5 174.6 770.2 175.1 771.7C175.6 773.2 176.0 774.5 176.3 776.0C176.6 777.5 176.9 779.0 176.9 780.7C176.9 782.4 176.5 784.3 176.2 786.0C175.9 787.7 175.5 788.7 175.2 790.7C174.9 792.7 174.2 795.8 174.6 797.9C175.0 800.0 176.7 801.6 177.8 803.3C178.9 805.0 180.7 806.4 181.4 807.9C182.2 809.4 182.2 811.3 182.3 812.0L159.7 812.0C159.8 811.3 159.8 809.4 160.6 807.9C161.3 806.4 163.1 805.0 164.2 803.3C165.3 801.6 167.0 800.0 167.4 797.9C167.8 795.8 167.1 792.7 166.8 790.7C166.5 788.7 166.1 787.7 165.8 786.0C165.5 784.3 165.1 782.4 165.1 780.7C165.1 779.0 165.4 777.5 165.7 776.0C166.0 774.5 166.4 773.2 166.9 771.7C167.4 770.2 168.0 768.5 168.5 767.0C169.0 765.5 169.5 765.4 169.8 762.6C170.1 759.8 170.4 752.4 170.5 750.4Z" fill="#178A8C" stroke="#222" stroke-width="0.75"/>
<path d="M168.9 785.7h0M172.2 770.9h0M168.4 804.6h0M170.1 794.5h0M169.6 803.4h0M170.2 784.7h0M169.0 781.9h0M170.2 782.4h0M168.7 774.1h0M167.8 802.7h0M172.5 771.0h0M173.9 777.5h0M172.5 794.5h0M169.8 767.3h0M173.1 788.4h0M170.1 793.4h0M170.8 785.8h0M173.5 784.0h0M172.7 801.0h0M171.5 781.3h0M168.4 801.6h0M172.2 779.9h0M171.6 789.7h0M169.3 785.2h0M169.0 772.8h0M170.7 760.1h0M172.9 797.9h0M170.3 771.9h0M174.0 803.6h0M171.6 778.5h0" stroke="#111" stroke-width="0.95" stroke-linecap="round" fill="none" opacity="1"/>
<path d="M173.1 811.9h0M168.2 812.2h0M168.0 811.7h0M168.7 811.9h0M176.5 812.0h0M173.9 811.8h0M170.6 812.2h0M176.3 811.7h0M169.7 811.9h0M171.4 811.8h0M174.5 812.3h0M167.8 812.2h0M175.9 811.9h0M170.9 811.9h0M166.5 812.1h0M168.8 812.1h0M168.9 812.0h0M174.5 812.1h0M166.7 812.1h0M171.6 812.2h0M168.6 811.9h0M167.4 812.1h0M166.4 811.9h0M171.9 812.3h0M169.5 812.3h0M168.3 812.3h0M168.0 812.2h0M173.1 811.8h0M170.3 812.0h0M167.2 812.1h0M171.7 811.9h0M166.5 811.9h0M171.1 812.3h0" stroke="#222" stroke-width="0.9" stroke-linecap="round" fill="none" opacity="1"/>
<path d="M205.3 754.4V815.0H263.8" fill="none" stroke="#333" stroke-width="0.8"/>
<line x1="202.8" y1="812" x2="205.3" y2="812" stroke="#333" stroke-width="0.7" />
<text x="201.3" y="815.3" font-size="9.5" text-anchor="end" fill="#222">0</text>
<line x1="202.8" y1="794.8" x2="205.3" y2="794.8" stroke="#333" stroke-width="0.7" />
<text x="201.3" y="798.1" font-size="9.5" text-anchor="end" fill="#222">1</text>
<line x1="202.8" y1="777.6" x2="205.3" y2="777.6" stroke="#333" stroke-width="0.7" />
<text x="201.3" y="780.9" font-size="9.5" text-anchor="end" fill="#222">2</text>
<line x1="202.8" y1="760.4" x2="205.3" y2="760.4" stroke="#333" stroke-width="0.7" />
<text x="201.3" y="763.7" font-size="9.5" text-anchor="end" fill="#222">3</text>
<line x1="234.8" y1="815" x2="234.8" y2="817.5" stroke="#333" stroke-width="0.7" />
<text x="225.7" y="731.5" font-size="11.5" font-weight="bold" font-style="italic" textLength="18.2" lengthAdjust="spacingAndGlyphs">Irf7</text>
<text x="226.6" y="749.9" font-size="8.8" fill="#222" textLength="37.2" lengthAdjust="spacingAndGlyphs"><tspan font-style="italic">p</tspan> = 0.0020</text>
<path d="M223.6 750.4L224.7 750.4C224.9 751.7 225.1 755.6 226.1 758.1C227.1 760.6 229.4 762.7 230.8 765.3C232.1 767.9 233.6 771.4 234.2 773.5C234.8 775.6 234.7 775.8 234.5 778.0C234.3 780.2 233.8 784.3 232.9 787.0C232.0 789.7 230.1 792.2 229.3 794.3C228.5 796.4 227.7 797.8 228.1 799.7C228.5 801.7 230.6 804.0 231.7 806.0C232.8 808.0 234.2 811.0 234.7 812.0L212.5 812.0C213.0 811.0 214.4 808.0 215.5 806.0C216.6 804.0 218.7 801.7 219.1 799.7C219.5 797.8 218.7 796.4 217.9 794.3C217.1 792.2 215.2 789.7 214.3 787.0C213.4 784.3 212.9 780.2 212.7 778.0C212.5 775.8 212.4 775.6 213.0 773.5C213.6 771.4 215.1 767.9 216.4 765.3C217.8 762.7 220.1 760.6 221.1 758.1C222.1 755.6 222.3 751.7 222.5 750.4Z" fill="#F57C6E" stroke="#222" stroke-width="0.75"/>
<path d="M224.2 787.2h0M222.5 762.0h0M219.6 777.1h0M224.2 757.5h0M227.4 770.4h0M224.5 762.0h0M218.5 780.8h0M226.6 794.6h0M223.8 790.0h0M228.8 783.5h0M219.3 786.7h0M222.3 782.8h0M226.7 789.9h0M225.9 781.0h0M225.5 769.6h0M228.0 771.2h0M226.1 782.4h0M226.6 776.8h0M224.2 775.5h0M220.1 784.5h0M225.5 790.6h0M218.0 773.2h0M223.7 791.7h0M228.4 785.1h0M223.5 791.0h0M228.0 787.6h0M226.1 771.0h0M226.3 766.5h0M226.0 770.0h0M219.2 777.1h0M224.6 775.1h0M222.0 794.3h0M227.7 781.0h0M222.5 775.0h0M220.8 775.0h0M221.6 796.8h0M221.9 761.5h0M223.8 794.2h0M221.0 791.6h0M222.3 768.2h0M224.8 763.3h0M220.8 776.5h0M219.2 769.0h0M228.8 772.5h0M226.1 777.3h0M225.9 799.4h0M226.0 781.2h0M222.9 790.4h0M218.5 772.9h0M225.0 780.2h0M220.8 770.6h0M218.8 785.3h0M220.2 774.0h0M222.1 781.2h0M223.3 765.0h0M222.4 780.3h0M218.1 780.3h0M223.6 785.0h0M219.3 776.3h0M228.1 783.1h0M217.7 776.7h0M225.3 760.4h0M221.7 774.6h0M225.7 783.1h0M223.8 771.8h0M226.0 777.6h0M224.0 784.7h0M226.8 773.5h0M222.2 764.9h0M222.8 779.7h0M221.4 778.7h0M226.1 770.0h0M228.9 772.8h0M227.3 786.2h0M224.2 794.3h0M227.2 768.8h0M218.0 780.6h0M222.3 781.5h0M229.0 778.2h0M227.3 775.5h0M227.5 771.8h0M222.0 765.3h0M222.9 765.6h0M218.0 778.9h0M225.1 771.8h0M223.0 776.3h0M223.9 756.9h0M227.7 784.7h0M224.5 790.2h0M221.2 790.1h0M222.7 790.1h0M227.0 786.4h0M224.2 759.7h0M227.3 779.4h0M221.7 784.6h0M222.4 784.8h0M224.3 787.2h0M225.9 786.1h0M220.8 796.4h0M218.2 773.7h0M227.6 787.5h0M223.5 758.7h0M218.4 777.7h0M219.6 786.8h0M220.7 781.1h0M222.6 794.8h0M221.0 762.0h0M226.2 780.4h0M221.1 794.7h0M224.3 779.6h0M223.3 790.2h0M219.8 781.9h0M222.9 769.5h0M218.3 777.9h0M220.3 788.6h0M228.9 777.8h0M226.5 775.8h0M218.8 778.2h0M228.1 780.6h0M219.6 772.9h0M222.2 789.8h0M219.3 778.1h0M218.5 783.3h0M228.1 778.2h0M226.1 798.7h0M225.3 788.6h0M222.8 769.6h0M225.0 759.8h0M222.3 760.9h0M227.5 771.5h0M220.7 787.8h0M220.2 792.9h0M220.0 788.4h0M219.1 769.5h0M226.4 767.0h0M223.0 762.1h0M218.3 782.8h0M223.6 793.8h0M226.5 791.5h0M224.7 759.3h0M222.8 788.8h0M223.1 757.8h0M220.5 765.3h0M227.9 776.4h0M226.5 782.0h0M228.2 776.0h0M225.8 789.9h0M226.5 777.9h0M221.6 763.1h0M220.9 796.2h0" stroke="#111" stroke-width="0.95" stroke-linecap="round" fill="none" opacity="1"/>
<path d="M223.8 812.0h0M223.4 812.0h0M220.2 812.0h0M227.0 812.1h0M225.2 812.0h0M228.9 812.1h0M225.9 811.9h0M220.5 812.2h0M222.0 811.9h0M220.1 812.2h0M224.4 811.9h0M221.1 812.1h0M224.9 812.1h0M226.9 811.8h0M223.3 811.8h0M222.1 812.2h0M219.8 812.2h0M220.5 812.1h0M224.4 812.3h0M221.3 812.1h0M224.9 811.9h0M228.8 812.2h0M223.6 812.0h0M222.3 812.0h0M225.0 811.8h0M227.2 811.8h0M221.8 812.1h0M220.1 811.7h0M227.8 811.8h0M229.0 811.9h0M223.3 812.2h0M219.8 812.2h0M222.8 811.7h0" stroke="#222" stroke-width="0.9" stroke-linecap="round" fill="none" opacity="1"/>
<path d="M234.7 811.4H256.4V812.6H234.7Z" fill="#ddd" stroke="#777" stroke-width="0.5"/>
<path d="M245.1 764.0V812.0" stroke="#333" stroke-width="0.7"/>
<path d="M248.9 781.6h0M241.4 788.0h0M241.6 768.1h0M245.8 796.9h0M246.9 778.3h0M245.7 797.6h0M241.3 795.4h0M246.1 793.9h0M248.7 779.0h0" stroke="#111" stroke-width="0.8" stroke-linecap="round" fill="none" opacity="1"/>
<path d="M239.6 812.0H250.6" stroke="#333" stroke-width="1.4"/>
<path d="M283.5 748.5V815.0H341.9" fill="none" stroke="#333" stroke-width="0.8"/>
<line x1="281" y1="812" x2="283.5" y2="812" stroke="#333" stroke-width="0.7" />
<text x="279.5" y="815.3" font-size="9.5" text-anchor="end" fill="#222">0</text>
<line x1="281" y1="797.4" x2="283.5" y2="797.4" stroke="#333" stroke-width="0.7" />
<text x="279.5" y="800.7" font-size="9.5" text-anchor="end" fill="#222">1</text>
<line x1="281" y1="782.8" x2="283.5" y2="782.8" stroke="#333" stroke-width="0.7" />
<text x="279.5" y="786.1" font-size="9.5" text-anchor="end" fill="#222">2</text>
<line x1="281" y1="768.2" x2="283.5" y2="768.2" stroke="#333" stroke-width="0.7" />
<text x="279.5" y="771.5" font-size="9.5" text-anchor="end" fill="#222">3</text>
<line x1="281" y1="753.6" x2="283.5" y2="753.6" stroke="#333" stroke-width="0.7" />
<text x="279.5" y="756.9" font-size="9.5" text-anchor="end" fill="#222">4</text>
<line x1="312.6" y1="815" x2="312.6" y2="817.5" stroke="#333" stroke-width="0.7" />
<text x="303" y="731.5" font-size="11.5" font-weight="bold" font-style="italic" textLength="20.1" lengthAdjust="spacingAndGlyphs">Ifit3</text>
<text x="309.6" y="776" font-size="8.8" fill="#222" textLength="34.8" lengthAdjust="spacingAndGlyphs"><tspan font-style="italic">p</tspan> &lt;0.0001</text>
<path d="M301.6 750.4L302.1 750.4C302.3 753.2 302.8 763.1 303.4 767.1C304.0 771.1 305.1 771.7 305.7 774.4C306.3 777.1 306.6 780.7 306.8 783.4C307.0 786.1 307.2 788.3 306.8 790.7C306.4 793.1 304.3 795.8 304.5 797.9C304.7 800.0 306.8 801.6 307.9 803.3C309.0 805.0 310.5 806.4 311.3 807.9C312.1 809.4 312.5 811.3 312.7 812.0L290.5 812.0C290.7 811.3 291.1 809.4 291.9 807.9C292.7 806.4 294.2 805.0 295.3 803.3C296.4 801.6 298.5 800.0 298.7 797.9C298.9 795.8 296.8 793.1 296.4 790.7C296.0 788.3 296.2 786.1 296.4 783.4C296.6 780.7 296.9 777.1 297.5 774.4C298.1 771.7 299.2 771.1 299.8 767.1C300.4 763.1 300.9 753.2 301.1 750.4Z" fill="#F57C6E" stroke="#222" stroke-width="0.75"/>
<path d="M304.1 791.7h0M302.0 766.7h0M299.4 782.7h0M304.2 788.8h0M303.4 782.8h0M303.2 787.8h0M301.9 776.4h0M301.5 770.0h0M302.1 776.9h0M302.3 774.4h0M302.1 769.1h0M300.7 794.3h0M300.5 773.6h0M299.2 778.8h0M301.8 773.4h0M300.7 788.0h0M300.7 797.2h0M302.3 797.0h0M301.0 793.7h0M299.3 787.2h0M300.9 760.0h0M302.1 775.0h0M301.9 768.2h0M303.4 783.3h0M301.0 785.4h0M303.0 786.5h0M303.7 791.7h0M303.4 794.8h0M302.2 784.5h0M304.2 783.4h0M303.0 790.2h0M302.1 769.9h0M300.5 796.8h0M302.6 793.2h0M304.3 784.5h0M304.4 783.1h0M302.4 793.0h0M303.8 779.9h0M301.4 791.4h0M301.5 795.9h0M301.2 784.3h0M299.3 778.6h0M303.0 777.8h0M303.2 780.7h0M302.3 782.4h0M304.3 790.8h0M302.3 763.2h0M301.6 778.3h0M301.2 788.6h0M301.6 779.4h0M300.0 783.9h0M299.9 793.2h0M303.5 792.1h0M299.0 781.4h0M301.1 767.8h0M302.1 765.2h0M304.2 789.0h0M300.0 786.8h0M301.1 771.0h0M299.0 783.6h0M301.4 792.0h0M304.4 789.1h0M302.5 773.9h0M300.7 786.6h0M301.3 770.3h0M301.9 775.0h0M299.1 782.0h0M300.0 778.1h0M301.5 797.2h0M300.7 794.2h0M299.5 774.0h0M303.6 789.0h0M302.1 781.7h0M303.7 774.3h0M300.5 797.8h0M299.9 779.1h0M301.4 776.2h0M301.7 756.6h0M301.1 771.4h0M302.7 793.1h0M300.1 779.4h0M301.5 761.6h0M302.6 778.2h0M302.0 771.3h0M301.7 774.2h0M303.5 788.2h0M299.9 776.9h0M300.9 782.0h0M302.0 797.0h0M299.3 780.4h0M301.6 789.7h0M302.5 772.4h0M302.6 778.8h0M302.1 763.7h0M303.4 784.1h0M300.2 775.5h0M299.5 793.2h0M301.3 783.1h0M300.1 772.4h0M299.2 784.8h0M301.0 795.4h0M304.2 784.2h0M300.5 788.5h0M302.1 758.4h0M300.9 782.1h0M302.8 773.0h0M302.0 771.3h0M302.9 775.4h0M301.0 781.3h0M300.3 779.0h0M303.4 773.4h0M302.4 774.9h0M304.4 787.8h0M302.0 755.1h0M304.3 782.6h0M301.5 771.1h0M301.2 771.3h0M302.8 770.3h0M301.8 770.6h0M302.9 791.2h0M301.3 772.0h0M303.0 774.8h0M300.1 797.6h0M299.2 786.2h0M304.0 786.2h0M301.9 784.7h0M301.4 788.6h0M300.7 774.2h0M300.7 792.2h0M299.5 782.6h0M302.3 783.2h0M302.4 759.8h0M302.9 790.0h0M302.4 791.4h0M300.1 788.6h0M299.5 788.8h0M303.4 796.5h0M301.4 772.7h0M302.5 769.1h0M303.3 782.2h0M300.3 773.0h0M303.7 777.0h0M302.6 776.7h0M301.6 781.8h0M300.6 782.6h0M303.7 774.0h0M301.7 773.0h0M300.3 793.3h0M303.2 773.0h0M303.2 784.2h0" stroke="#111" stroke-width="0.95" stroke-linecap="round" fill="none" opacity="1"/>
<path d="M305.8 811.8h0M306.2 811.8h0M300.9 812.2h0M301.8 812.2h0M298.6 812.1h0M306.5 812.3h0M301.1 811.9h0M298.0 812.1h0M302.4 811.7h0M298.9 811.7h0M303.1 812.0h0M301.8 812.2h0M306.9 812.0h0M305.0 812.2h0M299.5 812.2h0M300.6 811.7h0M304.7 812.2h0M296.1 812.1h0M299.4 811.9h0M305.4 812.2h0M297.1 812.1h0M305.1 811.8h0M296.3 812.3h0M305.5 812.2h0M297.9 812.1h0M298.3 811.8h0M296.4 811.9h0M299.7 811.8h0M300.9 811.7h0M304.9 812.1h0M299.7 811.7h0M301.3 812.0h0M303.5 811.8h0" stroke="#222" stroke-width="0.9" stroke-linecap="round" fill="none" opacity="1"/>
<path d="M318.1 811.4H334.4V812.6H318.1Z" fill="#ddd" stroke="#777" stroke-width="0.5"/>
<path d="M323.1 792.3V812.0" stroke="#333" stroke-width="0.7"/>
<path d="M323.4 797.6h0" stroke="#111" stroke-width="0.8" stroke-linecap="round" fill="none" opacity="1"/>
<path d="M317.6 812.0H328.6" stroke="#333" stroke-width="1.4"/>
<path d="M356.6 755.7V815.0H415.1" fill="none" stroke="#333" stroke-width="0.8"/>
<line x1="354.1" y1="812" x2="356.6" y2="812" stroke="#333" stroke-width="0.7" />
<text x="352.6" y="815.3" font-size="9.5" text-anchor="end" fill="#222">0</text>
<line x1="354.1" y1="795.2" x2="356.6" y2="795.2" stroke="#333" stroke-width="0.7" />
<text x="352.6" y="798.5" font-size="9.5" text-anchor="end" fill="#222">1</text>
<line x1="354.1" y1="778.4" x2="356.6" y2="778.4" stroke="#333" stroke-width="0.7" />
<text x="352.6" y="781.7" font-size="9.5" text-anchor="end" fill="#222">2</text>
<line x1="354.1" y1="761.6" x2="356.6" y2="761.6" stroke="#333" stroke-width="0.7" />
<text x="352.6" y="764.9" font-size="9.5" text-anchor="end" fill="#222">3</text>
<line x1="385.3" y1="815" x2="385.3" y2="817.5" stroke="#333" stroke-width="0.7" />
<text x="372.4" y="730.9" font-size="11.5" font-weight="bold" font-style="italic" textLength="29.2" lengthAdjust="spacingAndGlyphs">Ifi204</text>
<text x="378.6" y="756.1" font-size="8.8" fill="#222" textLength="37.3" lengthAdjust="spacingAndGlyphs"><tspan font-style="italic">p</tspan> = 0.0004</text>
<path d="M374.7 750.4L375.5 750.4C375.8 751.7 376.6 755.3 377.4 758.1C378.2 760.9 379.3 763.8 380.1 767.1C380.8 770.4 381.6 774.7 381.9 778.0C382.2 781.3 382.2 784.3 381.9 787.0C381.6 789.7 380.6 792.2 380.1 794.3C379.6 796.4 378.4 797.9 378.8 799.7C379.2 801.5 381.8 803.5 382.8 805.2C383.9 806.9 384.6 808.6 385.1 809.7C385.6 810.8 385.5 811.6 385.6 812.0L363.8 812.0C363.9 811.6 363.8 810.8 364.3 809.7C364.8 808.6 365.5 806.9 366.6 805.2C367.6 803.5 370.1 801.5 370.6 799.7C371.0 797.9 369.8 796.4 369.3 794.3C368.8 792.2 367.8 789.7 367.5 787.0C367.2 784.3 367.2 781.3 367.5 778.0C367.8 774.7 368.6 770.4 369.3 767.1C370.1 763.8 371.2 760.9 372.0 758.1C372.8 755.3 373.6 751.7 373.9 750.4Z" fill="#F57C6E" stroke="#222" stroke-width="0.75"/>
<path d="M375.4 786.7h0M376.9 788.1h0M373.0 783.5h0M375.4 758.8h0M371.3 779.4h0M376.6 773.4h0M371.7 767.3h0M375.1 793.1h0M373.8 793.1h0M371.8 794.8h0M377.8 774.2h0M377.4 771.9h0M377.3 789.6h0M378.1 777.3h0M375.5 761.7h0M375.8 794.0h0M377.0 789.3h0M373.2 784.6h0M372.8 781.2h0M376.1 795.3h0M371.9 785.1h0M377.0 776.1h0M372.7 768.5h0M373.6 792.3h0M374.7 795.2h0M373.6 787.3h0M375.7 756.7h0M373.1 781.4h0M374.3 770.5h0M374.3 762.1h0M373.5 775.0h0M375.3 779.0h0M371.7 787.1h0M375.5 786.0h0M377.8 769.8h0M371.5 790.9h0M376.3 771.0h0M374.1 784.3h0M376.3 776.9h0M370.9 785.7h0M373.2 784.2h0M377.1 781.5h0M375.4 772.2h0M375.2 763.4h0M376.0 764.3h0M375.2 788.3h0M377.0 764.0h0M377.9 784.7h0M374.3 766.3h0M373.0 767.9h0M376.8 798.7h0M371.6 778.0h0M375.7 780.0h0M373.8 784.9h0M377.9 778.2h0M375.9 799.0h0M378.5 776.9h0M371.5 782.5h0M372.1 797.1h0M378.1 781.5h0M374.1 784.1h0M377.2 775.7h0M377.2 795.6h0M373.7 780.2h0M378.0 773.0h0M371.8 787.6h0M376.7 791.5h0M374.7 777.9h0M374.1 765.0h0M373.3 784.0h0M377.3 796.8h0M377.2 766.9h0M372.3 765.3h0M372.0 775.9h0M376.3 786.9h0M374.2 771.7h0M375.4 758.7h0M373.8 760.2h0M371.3 778.3h0M374.2 757.6h0M377.2 784.6h0M372.3 784.2h0M373.5 757.2h0M373.2 762.0h0M377.4 796.1h0M373.9 788.4h0M373.4 758.2h0M370.8 782.5h0M374.8 765.8h0M376.4 793.5h0M376.3 764.5h0M377.3 773.4h0M377.6 784.1h0M377.1 770.3h0M373.1 798.0h0M376.1 784.5h0M373.2 779.7h0M376.5 768.3h0M375.8 767.9h0M373.5 791.5h0M372.9 762.4h0M373.3 765.7h0M375.1 767.9h0M377.5 768.6h0M376.5 785.4h0M378.4 777.7h0M372.9 782.4h0M372.3 787.0h0M377.4 782.1h0M371.2 778.7h0M376.5 773.3h0M373.2 765.8h0M374.0 773.4h0M375.1 767.4h0M374.6 797.0h0M377.2 767.1h0M376.2 773.7h0M375.4 754.6h0M374.9 788.0h0M372.9 768.3h0M376.2 765.5h0M377.0 778.4h0M371.8 787.3h0M377.5 790.6h0M371.4 777.9h0M374.9 779.7h0M375.3 765.8h0M377.4 768.3h0M372.9 787.8h0M376.3 766.2h0M372.0 782.3h0M373.3 758.8h0M372.5 787.1h0M374.9 788.1h0M377.8 785.5h0M372.6 772.2h0M374.9 791.6h0M377.9 784.3h0M374.6 789.4h0M376.9 767.4h0M378.5 786.2h0M374.7 788.4h0M374.9 776.7h0M373.3 767.7h0M372.3 783.1h0M375.1 796.5h0M376.6 783.5h0M375.9 765.0h0M377.5 795.0h0M372.1 788.1h0M373.9 775.2h0M373.2 799.7h0M374.7 797.0h0M376.3 791.9h0M374.7 779.9h0M376.7 797.6h0M377.0 764.1h0M374.4 775.7h0M373.2 765.1h0M377.1 772.7h0" stroke="#111" stroke-width="0.95" stroke-linecap="round" fill="none" opacity="1"/>
<path d="M370.5 811.9h0M375.5 812.1h0M376.1 812.1h0M377.1 811.9h0M375.5 811.9h0M371.5 811.8h0M370.9 811.8h0M373.7 812.1h0M377.3 812.0h0M376.4 812.3h0M370.3 811.9h0M373.4 811.9h0M379.4 811.7h0M374.9 811.8h0M371.4 811.9h0M378.9 812.1h0M376.4 811.9h0M375.7 811.9h0M369.9 811.9h0M369.8 812.2h0M376.7 812.3h0M380.0 812.2h0M378.5 811.7h0M375.2 812.2h0M373.0 812.0h0M375.7 812.0h0M375.5 811.7h0M370.2 812.2h0M374.5 812.0h0M371.9 811.7h0M377.8 811.9h0M377.5 811.9h0" stroke="#222" stroke-width="0.9" stroke-linecap="round" fill="none" opacity="1"/>
<path d="M386.5 811.4H407.8V812.6H386.5Z" fill="#ddd" stroke="#777" stroke-width="0.5"/>
<path d="M396.4 772.1V812.0" stroke="#333" stroke-width="0.7"/>
<path d="M398.4 797.8h0M400.2 794.9h0M395.1 793.9h0M398.7 783.3h0M395.8 796.9h0M392.2 783.0h0" stroke="#111" stroke-width="0.8" stroke-linecap="round" fill="none" opacity="1"/>
<path d="M390.9 812.0H401.9" stroke="#333" stroke-width="1.4"/>
<path d="M430.3 742.0V815.0H488.7" fill="none" stroke="#333" stroke-width="0.8"/>
<line x1="427.8" y1="812" x2="430.3" y2="812" stroke="#333" stroke-width="0.7" />
<text x="426.3" y="815.3" font-size="9.5" text-anchor="end" fill="#222">0</text>
<line x1="427.8" y1="795.9" x2="430.3" y2="795.9" stroke="#333" stroke-width="0.7" />
<text x="426.3" y="799.2" font-size="9.5" text-anchor="end" fill="#222">1</text>
<line x1="427.8" y1="779.8" x2="430.3" y2="779.8" stroke="#333" stroke-width="0.7" />
<text x="426.3" y="783.1" font-size="9.5" text-anchor="end" fill="#222">2</text>
<line x1="427.8" y1="763.7" x2="430.3" y2="763.7" stroke="#333" stroke-width="0.7" />
<text x="426.3" y="767" font-size="9.5" text-anchor="end" fill="#222">3</text>
<line x1="427.8" y1="747.6" x2="430.3" y2="747.6" stroke="#333" stroke-width="0.7" />
<text x="426.3" y="750.9" font-size="9.5" text-anchor="end" fill="#222">4</text>
<line x1="459.7" y1="815" x2="459.7" y2="817.5" stroke="#333" stroke-width="0.7" />
<text x="449" y="730.9" font-size="11.5" font-weight="bold" font-style="italic" textLength="23" lengthAdjust="spacingAndGlyphs">Ifi47</text>
<text x="454.7" y="761.8" font-size="8.8" fill="#222" textLength="36" lengthAdjust="spacingAndGlyphs"><tspan font-style="italic">p</tspan> = 0.0254</text>
<path d="M448.6 750.4L449.2 750.4C449.4 751.7 449.6 755.3 450.1 758.1C450.6 760.9 451.4 763.8 452.0 767.1C452.6 770.4 453.3 774.7 453.6 778.0C453.9 781.3 453.9 784.3 453.8 787.0C453.7 789.7 453.2 792.3 452.7 794.3C452.3 796.3 450.7 797.1 451.1 798.8C451.5 800.5 453.7 802.6 454.9 804.3C456.1 806.0 457.3 807.5 458.1 808.8C458.9 810.1 459.3 811.5 459.5 812.0L437.7 812.0C437.9 811.5 438.3 810.1 439.1 808.8C439.9 807.5 441.1 806.0 442.3 804.3C443.5 802.6 445.7 800.5 446.1 798.8C446.5 797.1 444.9 796.3 444.5 794.3C444.1 792.3 443.6 789.7 443.4 787.0C443.3 784.3 443.3 781.3 443.6 778.0C443.9 774.7 444.6 770.4 445.2 767.1C445.8 763.8 446.6 760.9 447.1 758.1C447.6 755.3 447.9 751.7 448.0 750.4Z" fill="#F57C6E" stroke="#222" stroke-width="0.75"/>
<path d="M447.1 794.7h0M449.5 794.1h0M451.1 785.1h0M450.8 792.9h0M448.2 770.4h0M450.6 783.5h0M448.3 797.2h0M449.9 764.6h0M445.9 784.6h0M446.5 773.0h0M448.2 786.6h0M448.9 787.0h0M447.8 778.9h0M447.8 789.4h0M451.1 783.3h0M449.1 793.3h0M449.1 779.7h0M446.2 787.2h0M449.7 762.9h0M448.5 776.2h0M448.8 767.3h0M450.6 794.4h0M448.3 793.5h0M448.6 777.6h0M448.6 765.5h0M448.2 771.5h0M449.2 791.2h0M451.1 777.4h0M448.3 771.6h0M448.1 780.6h0M450.7 783.3h0M446.9 782.8h0M447.6 788.8h0M446.8 777.5h0M448.7 781.4h0M446.6 785.4h0M450.2 767.2h0M446.8 768.9h0M448.8 771.2h0M447.7 777.7h0M447.9 776.5h0M450.0 767.5h0M448.3 760.7h0M447.0 771.2h0M448.3 774.8h0M446.8 789.8h0M445.8 782.2h0M448.3 795.9h0M446.4 790.6h0M448.7 794.5h0M449.0 757.1h0M445.8 785.2h0M449.2 797.1h0M451.3 780.3h0M450.3 787.3h0M449.3 795.2h0M451.0 789.0h0M448.4 791.6h0M448.2 778.4h0M446.9 772.3h0M449.6 765.0h0M447.9 785.8h0M448.8 788.9h0M449.8 764.4h0M449.6 783.1h0M447.1 764.3h0M448.8 779.7h0M449.4 778.8h0M449.4 788.4h0M449.4 774.5h0M448.2 794.7h0M447.8 792.9h0M450.1 770.9h0M448.8 783.7h0M449.4 759.1h0M447.4 785.2h0M449.4 767.1h0M448.9 764.1h0M449.0 792.1h0M449.8 764.1h0M447.8 781.1h0M447.5 767.7h0M448.0 792.0h0M446.9 787.0h0M449.6 795.9h0M450.5 790.9h0M447.2 776.2h0M446.5 784.0h0M450.7 771.0h0M449.0 762.1h0M450.4 786.2h0M448.3 787.7h0M449.7 777.2h0M447.4 791.8h0M446.7 770.2h0M448.7 777.9h0M450.2 797.1h0M448.6 778.6h0M450.2 795.3h0M447.9 756.8h0M449.0 760.0h0M451.0 785.0h0M447.8 787.5h0M446.6 774.7h0M449.6 777.2h0M450.2 793.3h0M447.5 799.2h0M449.8 791.7h0M450.3 782.4h0M449.7 774.0h0M449.0 757.5h0M449.8 794.1h0M450.5 769.1h0M447.0 766.8h0M448.4 769.4h0M448.2 781.6h0M449.0 784.8h0M447.7 790.4h0M449.2 793.4h0M449.2 781.9h0M447.3 791.8h0M448.4 787.8h0M447.0 767.8h0M447.2 783.9h0M450.0 796.3h0M447.9 799.1h0M448.4 776.0h0M448.0 774.7h0M447.2 795.1h0M449.9 776.0h0M450.9 773.6h0M447.7 790.1h0M448.8 776.6h0M450.1 776.2h0M447.2 798.6h0M449.1 759.9h0M447.1 777.0h0M446.7 777.6h0M449.9 765.7h0M449.7 784.6h0" stroke="#111" stroke-width="0.95" stroke-linecap="round" fill="none" opacity="1"/>
<path d="M443.3 812.1h0M443.5 812.2h0M447.8 812.1h0M451.8 812.2h0M453.9 812.3h0M446.6 811.7h0M445.2 811.7h0M451.6 812.1h0M446.7 812.1h0M453.2 811.8h0M443.5 812.0h0M443.7 812.0h0M444.3 812.1h0M448.7 811.9h0M443.2 811.9h0M446.0 811.8h0M449.6 812.0h0M450.5 812.2h0M447.0 812.3h0M450.6 812.3h0M450.7 811.7h0M452.8 812.0h0M444.7 812.2h0M444.9 812.0h0M449.5 812.0h0M449.2 812.2h0M449.3 812.1h0M454.0 811.9h0M454.0 811.9h0M446.2 812.2h0M451.5 811.9h0M452.4 812.0h0" stroke="#222" stroke-width="0.9" stroke-linecap="round" fill="none" opacity="1"/>
<path d="M465.1 811.4H481.4V812.6H465.1Z" fill="#ddd" stroke="#777" stroke-width="0.5"/>
<path d="M470.4 773.0V812.0" stroke="#333" stroke-width="0.7"/>
<path d="M471.3 784.6h0M470.8 779.9h0M470.3 796.5h0M472.4 786.6h0M470.8 796.7h0M473.9 786.1h0" stroke="#111" stroke-width="0.8" stroke-linecap="round" fill="none" opacity="1"/>
<path d="M464.9 812.0H475.9" stroke="#333" stroke-width="1.4"/>
<path d="M507.5 756.7V815.0H565.9" fill="none" stroke="#333" stroke-width="0.8"/>
<line x1="505" y1="812" x2="507.5" y2="812" stroke="#333" stroke-width="0.7" />
<text x="503.5" y="815.3" font-size="9.5" text-anchor="end" fill="#222">0</text>
<line x1="505" y1="795.5" x2="507.5" y2="795.5" stroke="#333" stroke-width="0.7" />
<text x="503.5" y="798.8" font-size="9.5" text-anchor="end" fill="#222">1</text>
<line x1="505" y1="779" x2="507.5" y2="779" stroke="#333" stroke-width="0.7" />
<text x="503.5" y="782.3" font-size="9.5" text-anchor="end" fill="#222">2</text>
<line x1="505" y1="762.5" x2="507.5" y2="762.5" stroke="#333" stroke-width="0.7" />
<text x="503.5" y="765.8" font-size="9.5" text-anchor="end" fill="#222">3</text>
<line x1="536.6" y1="815" x2="536.6" y2="817.5" stroke="#333" stroke-width="0.7" />
<text x="523.1" y="730.9" font-size="11.5" font-weight="bold" font-style="italic" textLength="29.2" lengthAdjust="spacingAndGlyphs">Isg15</text>
<text x="531.7" y="772.7" font-size="8.8" fill="#222" textLength="36.7" lengthAdjust="spacingAndGlyphs"><tspan font-style="italic">p</tspan> = 0.0001</text>
<path d="M525.8 750.4L526.3 750.4C526.4 751.7 526.6 755.3 527.1 758.1C527.5 760.9 528.2 764.1 529.0 767.1C529.8 770.1 531.1 773.2 531.7 776.2C532.3 779.2 532.5 782.5 532.4 785.2C532.2 787.9 531.4 790.2 530.8 792.5C530.2 794.8 528.4 796.8 528.7 798.8C528.9 800.8 531.2 802.6 532.3 804.3C533.4 806.0 534.8 807.5 535.5 808.8C536.2 810.1 536.5 811.5 536.7 812.0L514.9 812.0C515.1 811.5 515.4 810.1 516.1 808.8C516.8 807.5 518.2 806.0 519.3 804.3C520.4 802.6 522.6 800.8 522.9 798.8C523.1 796.8 521.4 794.8 520.8 792.5C520.2 790.2 519.3 787.9 519.2 785.2C519.0 782.5 519.3 779.2 519.9 776.2C520.5 773.2 521.8 770.1 522.6 767.1C523.4 764.1 524.0 760.9 524.5 758.1C525.0 755.3 525.2 751.7 525.3 750.4Z" fill="#F57C6E" stroke="#222" stroke-width="0.75"/>
<path d="M529.1 786.2h0M525.1 775.3h0M528.1 794.1h0M525.0 778.9h0M524.3 769.7h0M526.1 764.5h0M527.5 774.7h0M525.4 788.8h0M523.1 781.6h0M524.2 797.6h0M522.6 786.3h0M524.9 759.9h0M526.5 793.7h0M525.4 764.5h0M524.1 781.8h0M527.9 771.2h0M525.5 774.4h0M526.9 797.9h0M525.2 774.9h0M525.9 768.1h0M525.2 765.0h0M524.8 768.3h0M522.8 777.8h0M527.7 794.5h0M526.0 791.4h0M525.7 789.5h0M523.7 786.5h0M527.9 787.9h0M523.4 772.8h0M523.5 786.7h0M527.0 764.8h0M527.3 769.4h0M527.6 793.2h0M524.1 797.6h0M527.9 795.3h0M526.3 786.1h0M526.7 759.8h0M523.1 781.9h0M527.1 797.7h0M527.4 798.7h0M526.6 789.3h0M527.1 781.5h0M527.2 765.6h0M526.1 774.3h0M524.3 788.9h0M526.7 776.1h0M527.3 792.7h0M523.5 794.8h0M523.7 791.0h0M525.3 791.4h0M526.3 755.5h0M525.7 791.7h0M525.1 794.8h0M522.9 775.4h0M526.8 771.6h0M525.1 767.9h0M526.5 790.7h0M523.2 789.2h0M527.7 792.8h0M523.4 783.8h0M527.8 779.9h0M524.4 789.9h0M525.9 790.2h0M526.9 784.7h0M524.3 797.3h0M524.7 763.8h0M527.5 783.9h0M527.0 782.6h0M526.7 774.3h0M525.6 787.8h0M526.7 786.0h0M527.5 773.0h0M527.3 773.7h0M526.5 776.1h0M527.6 787.1h0M522.8 778.8h0M526.1 781.1h0M526.3 797.6h0M526.7 763.7h0M528.3 776.2h0M526.7 774.3h0M526.4 784.8h0M524.8 782.8h0M524.9 761.2h0M525.8 793.2h0M525.2 761.8h0M525.9 781.6h0M522.9 782.2h0M525.5 781.3h0M524.0 786.5h0M525.0 776.9h0M527.0 779.0h0M527.7 778.3h0M527.9 789.0h0M526.0 762.3h0M527.8 781.7h0M524.8 795.2h0M523.9 791.7h0M526.0 787.1h0M525.4 783.0h0M528.5 774.7h0M525.2 791.9h0M525.8 788.4h0M526.2 772.0h0M525.5 790.4h0M525.0 798.5h0M524.3 781.8h0M524.3 788.4h0M526.0 797.2h0M527.1 794.6h0M523.9 793.9h0M526.0 786.2h0M523.1 781.5h0M522.2 785.1h0M527.5 775.0h0M528.2 781.5h0M523.0 791.9h0M527.2 784.2h0M525.2 795.3h0M525.2 786.7h0M527.9 785.0h0M524.7 764.7h0M522.2 784.2h0M525.7 759.5h0M523.2 779.9h0M526.9 772.4h0M526.2 755.3h0M526.1 796.6h0M527.7 796.2h0M526.8 768.7h0M528.0 782.1h0M528.3 774.4h0M527.4 786.4h0M527.0 767.4h0M528.7 775.1h0M526.2 777.4h0M523.9 783.0h0M524.7 780.4h0M523.4 780.8h0M525.8 791.8h0M525.6 780.4h0M525.8 760.2h0M524.0 783.6h0M525.9 771.6h0M525.8 759.8h0M528.1 789.1h0M522.9 777.8h0M523.9 777.6h0M525.3 766.6h0M524.4 793.2h0" stroke="#111" stroke-width="0.95" stroke-linecap="round" fill="none" opacity="1"/>
<path d="M528.1 811.8h0M529.0 811.9h0M522.3 812.2h0M524.1 811.9h0M525.4 811.8h0M521.3 812.1h0M530.9 812.0h0M524.7 811.9h0M527.0 811.7h0M530.2 811.9h0M524.2 812.3h0M522.8 811.7h0M525.2 812.3h0M521.6 812.1h0M530.3 811.7h0M524.8 812.2h0M529.4 811.8h0M529.3 812.1h0M530.8 812.0h0M526.0 812.0h0M526.4 812.0h0M529.5 811.7h0M530.1 811.8h0M525.3 811.8h0M520.9 812.1h0M523.0 812.0h0M523.7 811.9h0M526.4 811.9h0M521.8 811.7h0M530.7 811.9h0M528.9 811.7h0M526.1 812.2h0" stroke="#222" stroke-width="0.9" stroke-linecap="round" fill="none" opacity="1"/>
<path d="M543.0 811.4H558.4V812.6H543.0Z" fill="#ddd" stroke="#777" stroke-width="0.5"/>
<path d="M547.4 783.4V812.0" stroke="#333" stroke-width="0.7"/>
<path d="M545.9 790.7h0M544.3 790.5h0M547.0 796.4h0M551.0 792.9h0" stroke="#111" stroke-width="0.8" stroke-linecap="round" fill="none" opacity="1"/>
<path d="M541.9 812.0H552.9" stroke="#333" stroke-width="1.4"/>
<rect x="576.4" y="772.8" width="10.5" height="10.3" fill="#F57C6E" stroke="#333" stroke-width="0.7" />
<rect x="576.4" y="784.1" width="10.5" height="10.5" fill="#178A8C" stroke="#333" stroke-width="0.7" />
<text x="592.7" y="781.2" font-size="10" textLength="20.5" lengthAdjust="spacingAndGlyphs">14dpi</text>
<text x="592.7" y="792.1" font-size="10" textLength="21.2" lengthAdjust="spacingAndGlyphs">Naive</text>
<path d="M131.2 849.2V918.8H189.4" fill="none" stroke="#333" stroke-width="0.8"/>
<line x1="128.7" y1="915.8" x2="131.2" y2="915.8" stroke="#333" stroke-width="0.7" />
<text x="127.2" y="919.1" font-size="9.5" text-anchor="end" fill="#222">0</text>
<line x1="128.7" y1="903.3" x2="131.2" y2="903.3" stroke="#333" stroke-width="0.7" />
<text x="127.2" y="906.6" font-size="9.5" text-anchor="end" fill="#222">1</text>
<line x1="128.7" y1="890.9" x2="131.2" y2="890.9" stroke="#333" stroke-width="0.7" />
<text x="127.2" y="894.2" font-size="9.5" text-anchor="end" fill="#222">2</text>
<line x1="128.7" y1="878.4" x2="131.2" y2="878.4" stroke="#333" stroke-width="0.7" />
<text x="127.2" y="881.7" font-size="9.5" text-anchor="end" fill="#222">3</text>
<line x1="128.7" y1="866" x2="131.2" y2="866" stroke="#333" stroke-width="0.7" />
<text x="127.2" y="869.3" font-size="9.5" text-anchor="end" fill="#222">4</text>
<line x1="128.7" y1="853.5" x2="131.2" y2="853.5" stroke="#333" stroke-width="0.7" />
<text x="127.2" y="856.8" font-size="9.5" text-anchor="end" fill="#222">5</text>
<line x1="159.6" y1="918.8" x2="159.6" y2="921.3" stroke="#333" stroke-width="0.7" />
<text x="145.2" y="834.9" font-size="11.5" font-weight="bold" font-style="italic" textLength="30.5" lengthAdjust="spacingAndGlyphs">Ifitm3</text>
<text x="156.6" y="859.7" font-size="8.8" fill="#222" textLength="34.7" lengthAdjust="spacingAndGlyphs"><tspan font-style="italic">p</tspan> &lt;0.0001</text>
<path d="M149.2 854.4L149.7 854.4C150.3 855.4 152.1 858.2 153.5 860.1C154.9 862.0 157.0 864.1 158.1 865.6C159.2 867.1 160.3 867.8 160.2 869.2C160.1 870.6 158.3 872.1 157.4 873.8C156.4 875.5 155.3 877.3 154.5 879.3C153.7 881.3 153.3 883.7 152.6 885.7C151.9 887.7 150.9 888.8 150.5 891.1C150.1 893.4 150.1 896.0 150.0 899.4C149.9 902.8 149.8 908.5 150.2 911.2C150.6 913.9 152.0 915.0 152.4 915.8L146.0 915.8C146.4 915.0 147.8 913.9 148.2 911.2C148.6 908.5 148.4 902.8 148.4 899.4C148.3 896.0 148.3 893.4 147.9 891.1C147.5 888.8 146.5 887.7 145.8 885.7C145.1 883.7 144.7 881.3 143.9 879.3C143.1 877.3 141.9 875.5 141.0 873.8C140.1 872.1 138.3 870.6 138.2 869.2C138.1 867.8 139.2 867.1 140.3 865.6C141.4 864.1 143.5 862.0 144.9 860.1C146.3 858.2 148.1 855.4 148.7 854.4Z" fill="#F57C6E" stroke="#222" stroke-width="0.75"/>
<path d="M154.8 869.8h0M152.0 877.6h0M148.5 874.8h0M148.0 877.7h0M146.6 868.5h0M149.5 873.9h0M153.5 869.8h0M148.7 878.7h0M144.9 872.2h0M148.7 877.1h0M147.0 865.4h0M148.5 865.2h0M146.0 862.3h0M145.2 867.5h0M150.2 883.5h0M146.5 873.8h0M148.6 875.7h0M143.8 868.5h0M147.7 877.3h0M146.3 877.3h0M148.3 885.7h0M148.7 870.4h0M150.2 887.2h0M148.4 864.7h0M150.1 865.2h0M150.3 870.7h0M153.9 868.0h0M152.0 875.4h0M149.2 883.4h0M148.8 859.8h0M149.1 883.2h0M150.2 857.3h0M150.8 882.9h0M146.5 875.5h0M147.5 882.3h0M146.1 872.3h0M149.9 881.1h0M150.6 868.5h0M148.6 858.0h0M146.2 878.3h0M149.1 871.0h0M150.3 868.6h0M151.5 876.1h0M149.8 873.5h0M147.1 880.5h0M152.7 869.6h0M149.9 871.3h0M146.1 875.2h0M150.3 888.0h0M149.3 886.3h0M148.0 870.1h0M148.3 889.3h0M150.3 889.1h0M151.6 881.6h0M150.1 880.2h0M153.6 869.9h0M147.8 869.0h0M146.6 863.4h0M148.6 858.7h0M148.2 858.2h0M151.0 874.6h0M147.8 875.2h0M153.9 871.0h0M149.5 883.1h0M148.8 856.8h0M148.4 862.5h0M149.1 885.3h0M145.6 872.1h0M149.1 874.5h0M149.4 864.2h0M148.0 862.3h0M148.4 881.1h0M145.6 871.4h0M148.4 881.8h0M145.1 872.7h0M150.8 874.0h0M149.6 884.5h0M146.2 864.4h0M147.0 877.9h0M151.8 864.6h0M151.7 862.0h0M144.4 868.1h0M148.6 874.5h0M152.3 864.3h0M148.9 858.9h0M149.0 884.7h0M149.5 888.5h0M152.9 864.8h0M148.7 882.0h0M150.6 867.0h0M150.5 885.7h0M145.3 869.2h0M150.7 858.8h0M148.1 877.4h0M144.5 872.6h0M153.1 867.5h0M150.0 863.7h0M148.1 888.8h0M146.7 875.5h0M149.1 864.3h0M151.2 859.6h0M148.9 874.3h0M145.6 873.9h0M149.3 863.5h0M149.7 884.1h0M148.9 872.7h0M149.6 884.9h0M151.2 878.5h0M146.8 870.4h0M145.7 872.3h0M146.2 873.9h0M152.0 873.6h0M152.5 873.4h0M147.7 879.8h0M144.8 872.9h0M143.5 869.3h0M146.0 875.6h0M149.8 863.2h0M147.1 862.4h0M147.7 860.0h0M149.4 876.4h0M147.9 877.1h0M146.8 863.8h0M147.8 878.6h0M150.7 875.7h0M148.0 886.4h0M152.7 867.5h0M149.0 869.0h0M148.7 866.5h0M147.9 884.9h0M149.4 889.4h0M148.9 874.7h0M146.0 872.8h0M148.8 887.5h0M152.9 863.6h0M149.8 866.3h0M148.3 870.6h0M148.2 867.4h0M147.3 861.8h0M150.8 858.3h0M146.2 862.0h0M145.1 868.4h0M144.9 872.1h0M146.3 863.2h0M145.1 874.7h0M148.5 878.7h0M146.9 866.5h0M149.3 884.0h0M148.6 885.1h0M152.8 872.1h0M150.2 878.3h0M149.5 867.9h0M153.5 874.0h0M148.8 885.4h0M150.4 880.2h0M146.4 861.9h0M145.7 864.2h0M151.5 877.3h0M150.1 861.5h0M149.1 863.2h0M150.3 874.8h0M150.0 889.4h0M148.1 871.1h0M151.5 870.6h0M147.3 876.3h0M148.1 868.6h0M144.5 865.4h0M149.3 856.5h0M146.6 870.8h0M151.2 870.2h0M145.6 871.0h0M146.5 864.9h0M150.9 876.0h0M152.8 873.2h0M148.2 873.0h0M151.5 869.1h0M151.8 867.8h0M150.9 867.6h0M148.5 858.0h0M145.2 870.7h0M150.0 866.4h0M149.4 887.9h0M153.6 864.8h0M152.7 865.8h0M147.5 859.4h0M149.1 859.7h0M147.4 885.8h0M147.6 864.8h0M147.2 870.9h0M152.2 866.5h0M145.2 872.3h0M147.3 863.7h0M148.9 870.3h0M149.8 869.9h0M150.1 864.8h0M149.3 889.2h0M145.2 869.0h0M146.3 861.4h0M148.8 874.6h0M151.5 870.1h0" stroke="#111" stroke-width="0.95" stroke-linecap="round" fill="none" opacity="1"/>
<path d="M149.5 915.6h0M148.0 915.9h0M149.6 915.5h0M149.0 915.8h0M150.7 916.1h0M147.9 915.8h0M148.3 916.1h0M150.2 915.6h0M150.4 915.9h0" stroke="#222" stroke-width="0.9" stroke-linecap="round" fill="none" opacity="1"/>
<path d="M170.9 868.8L175.2 868.8C175.7 869.8 177.2 872.2 178.2 874.7C179.2 877.2 181.2 881.1 181.4 883.8C181.6 886.5 180.1 888.7 179.1 891.1C178.1 893.5 176.0 896.3 175.2 898.4C174.5 900.5 174.2 902.1 174.6 903.9C175.0 905.7 176.7 907.9 177.7 909.4C178.7 910.9 180.0 912.0 180.5 913.1C181.0 914.2 180.8 915.3 180.9 915.8L160.9 915.8C161.0 915.3 160.8 914.2 161.3 913.1C161.8 912.0 163.1 910.9 164.1 909.4C165.1 907.9 166.8 905.7 167.2 903.9C167.6 902.1 167.3 900.5 166.6 898.4C165.8 896.3 163.7 893.5 162.7 891.1C161.7 888.7 160.2 886.5 160.4 883.8C160.6 881.1 162.6 877.2 163.6 874.7C164.6 872.2 166.1 869.8 166.6 868.8Z" fill="#178A8C" stroke="#222" stroke-width="0.75"/>
<path d="M169.6 895.0h0M174.6 891.3h0M175.3 882.0h0M169.1 893.6h0M170.8 886.6h0M167.2 885.6h0M173.8 874.5h0M166.3 878.8h0M171.2 877.2h0M170.2 883.8h0M169.5 902.3h0M166.3 890.6h0M174.3 892.0h0M167.3 875.7h0M173.2 876.3h0M167.5 875.9h0M167.3 874.8h0M173.5 871.9h0M173.7 874.8h0M166.9 877.6h0M168.5 880.0h0M166.3 886.5h0M169.5 904.8h0M168.3 888.3h0M171.2 904.9h0M170.7 874.1h0M169.2 881.4h0M173.6 874.8h0M170.7 881.7h0M170.8 875.8h0M170.5 872.7h0M171.2 877.5h0M165.1 883.8h0M167.2 891.3h0M172.3 871.2h0M175.6 888.5h0M170.8 885.0h0M169.3 877.9h0M168.8 890.1h0M171.2 882.2h0" stroke="#111" stroke-width="0.95" stroke-linecap="round" fill="none" opacity="1"/>
<path d="M173.5 915.7h0M167.0 915.8h0M172.6 916.0h0M171.7 915.6h0M174.3 915.6h0M169.5 915.8h0M174.5 915.8h0M170.7 915.7h0M167.1 915.9h0M172.7 915.8h0M169.8 916.0h0M173.0 916.0h0M172.3 915.8h0M170.0 915.8h0M175.1 915.6h0M169.1 915.7h0M173.6 916.0h0M166.2 915.7h0M172.8 915.5h0M174.6 915.8h0M171.9 915.6h0M174.1 915.6h0M172.8 915.5h0M172.0 915.6h0M167.6 915.6h0M166.2 915.5h0M166.7 915.8h0M168.1 915.6h0M174.2 915.6h0M174.1 915.7h0" stroke="#222" stroke-width="0.9" stroke-linecap="round" fill="none" opacity="1"/>
<path d="M205.7 856.0V919.3H263.8" fill="none" stroke="#333" stroke-width="0.8"/>
<line x1="203.2" y1="916.3" x2="205.7" y2="916.3" stroke="#333" stroke-width="0.7" />
<text x="201.7" y="919.6" font-size="9.5" text-anchor="end" fill="#222">0</text>
<line x1="203.2" y1="898.3" x2="205.7" y2="898.3" stroke="#333" stroke-width="0.7" />
<text x="201.7" y="901.6" font-size="9.5" text-anchor="end" fill="#222">1</text>
<line x1="203.2" y1="880.3" x2="205.7" y2="880.3" stroke="#333" stroke-width="0.7" />
<text x="201.7" y="883.6" font-size="9.5" text-anchor="end" fill="#222">2</text>
<line x1="203.2" y1="862.3" x2="205.7" y2="862.3" stroke="#333" stroke-width="0.7" />
<text x="201.7" y="865.6" font-size="9.5" text-anchor="end" fill="#222">3</text>
<line x1="235.3" y1="919.3" x2="235.3" y2="921.8" stroke="#333" stroke-width="0.7" />
<text x="225.3" y="834.9" font-size="11.5" font-weight="bold" font-style="italic" textLength="19.9" lengthAdjust="spacingAndGlyphs">Igtp</text>
<text x="230.3" y="863.4" font-size="8.8" fill="#222" textLength="34.7" lengthAdjust="spacingAndGlyphs"><tspan font-style="italic">p</tspan> &lt;0.0001</text>
<path d="M223.9 854.4L225.3 854.4C225.7 855.8 226.8 859.9 227.6 862.8C228.4 865.7 229.5 869.0 230.3 872.0C231.1 875.0 232.1 878.4 232.6 881.1C233.1 883.8 233.7 886.0 233.5 888.4C233.3 890.8 232.1 893.4 231.2 895.7C230.3 898.0 228.2 900.1 228.2 902.1C228.2 904.1 230.3 905.8 231.2 907.6C232.1 909.4 232.9 911.7 233.5 913.1C234.1 914.5 234.7 915.8 234.9 916.3L212.9 916.3C213.1 915.8 213.7 914.5 214.3 913.1C214.9 911.7 215.7 909.4 216.6 907.6C217.5 905.8 219.6 904.1 219.6 902.1C219.6 900.1 217.5 898.0 216.6 895.7C215.7 893.4 214.5 890.8 214.3 888.4C214.1 886.0 214.7 883.8 215.2 881.1C215.7 878.4 216.7 875.0 217.5 872.0C218.3 869.0 219.4 865.7 220.2 862.8C221.0 859.9 222.1 855.8 222.5 854.4Z" fill="#F57C6E" stroke="#222" stroke-width="0.75"/>
<path d="M225.4 886.7h0M223.2 886.5h0M225.0 899.3h0M223.8 894.9h0M221.0 888.2h0M225.8 899.1h0M225.3 879.2h0M223.1 858.1h0M223.3 864.0h0M220.6 888.3h0M224.7 870.8h0M221.0 877.5h0M221.9 877.4h0M223.4 868.4h0M226.9 876.9h0M225.3 888.5h0M226.9 887.8h0M224.9 871.4h0M227.7 876.7h0M220.1 896.6h0M226.7 880.0h0M224.8 890.4h0M224.2 884.4h0M222.9 876.4h0M221.8 901.3h0M222.8 884.5h0M226.1 884.9h0M221.8 897.4h0M224.8 888.8h0M222.9 884.7h0M222.8 889.1h0M227.5 893.5h0M223.2 868.7h0M222.2 878.0h0M221.5 889.6h0M222.6 896.0h0M225.1 886.8h0M219.8 879.9h0M221.9 872.8h0M224.6 884.1h0M223.4 876.2h0M220.1 885.4h0M220.7 876.2h0M227.5 887.9h0M220.1 874.0h0M225.9 884.0h0M221.7 901.7h0M221.8 883.9h0M219.6 880.5h0M219.7 889.6h0M226.8 871.7h0M221.1 894.5h0M224.5 872.9h0M222.9 885.8h0M227.2 897.6h0M227.2 892.6h0M227.2 878.4h0M221.2 867.1h0M226.3 891.8h0M224.5 868.5h0M224.3 883.0h0M221.4 884.1h0M223.2 874.5h0M225.6 878.4h0M223.1 862.6h0M223.5 869.4h0M220.7 894.5h0M223.4 872.2h0M228.4 889.0h0M222.4 871.5h0M224.1 865.4h0M221.0 878.7h0M227.8 884.3h0M228.7 889.8h0M227.0 898.8h0M222.9 869.8h0M227.9 878.3h0M226.4 899.7h0M220.6 894.4h0M224.5 873.6h0M225.6 873.4h0M226.0 878.3h0M225.2 858.3h0M223.8 900.7h0M222.1 883.8h0M228.4 890.4h0M223.9 890.3h0M221.0 886.7h0M220.5 882.2h0M220.7 878.3h0M224.7 878.8h0M224.4 886.3h0M225.5 860.1h0M223.3 865.1h0M226.7 900.3h0M224.1 868.3h0M224.1 874.3h0M220.9 870.1h0M225.7 889.0h0M226.9 896.7h0M222.0 865.2h0M222.7 879.9h0M225.4 891.2h0M220.2 882.9h0M219.0 883.0h0M226.4 890.2h0M222.2 872.9h0M224.4 875.4h0M219.7 887.7h0M226.6 898.6h0M220.6 893.7h0M219.6 887.8h0M219.1 890.2h0M221.8 874.0h0M226.1 899.2h0M221.5 872.6h0M226.3 900.2h0M223.2 872.2h0M226.1 898.0h0M225.8 877.1h0M225.9 880.4h0M227.2 896.8h0M225.3 897.4h0M221.2 885.9h0M221.8 896.9h0M221.2 877.1h0M219.4 881.3h0M224.3 882.3h0M226.0 898.8h0M219.6 887.7h0M225.8 901.4h0M220.0 889.0h0M224.6 890.1h0M225.7 901.1h0M226.8 883.6h0M222.7 863.6h0M220.4 883.2h0M223.8 861.5h0M225.4 870.3h0M227.7 876.5h0M222.6 884.6h0M222.2 893.0h0M225.9 892.7h0M222.3 866.8h0M222.9 861.8h0M224.4 859.9h0M225.0 872.3h0M222.8 880.0h0M220.7 891.0h0M222.4 866.6h0" stroke="#111" stroke-width="0.95" stroke-linecap="round" fill="none" opacity="1"/>
<path d="M229.4 916.1h0M222.0 916.4h0M219.2 916.1h0M222.2 916.3h0M225.0 916.4h0M226.9 916.5h0M219.7 916.2h0M227.1 916.3h0M225.4 916.1h0M229.2 916.6h0M218.6 916.1h0M220.2 916.4h0M225.0 916.4h0M219.2 916.0h0M224.0 916.5h0M226.1 916.1h0M224.0 916.6h0M221.6 916.3h0M219.6 916.2h0M223.1 916.4h0M228.1 916.4h0M221.3 916.2h0M220.7 916.4h0M222.7 916.2h0M221.9 916.2h0M218.6 916.5h0M226.7 916.3h0M220.5 916.0h0M219.4 916.3h0M228.2 916.2h0M224.1 916.1h0M227.9 916.1h0M219.4 916.0h0" stroke="#222" stroke-width="0.9" stroke-linecap="round" fill="none" opacity="1"/>
<path d="M240.8 915.7H256.8V916.9H240.8Z" fill="#ddd" stroke="#777" stroke-width="0.5"/>
<path d="M245.4 883.8V916.3" stroke="#333" stroke-width="0.7"/>
<path d="M247.3 893.3h0M242.1 899.0h0M250.3 889.8h0M243.0 890.0h0M248.2 895.4h0M245.3 890.6h0" stroke="#111" stroke-width="0.8" stroke-linecap="round" fill="none" opacity="1"/>
<path d="M239.9 916.3H250.9" stroke="#333" stroke-width="1.4"/>
<path d="M283.8 857.4V919.0H341.9" fill="none" stroke="#333" stroke-width="0.8"/>
<line x1="281.3" y1="916" x2="283.8" y2="916" stroke="#333" stroke-width="0.7" />
<text x="279.8" y="919.3" font-size="9.5" text-anchor="end" fill="#222">0</text>
<line x1="281.3" y1="898.5" x2="283.8" y2="898.5" stroke="#333" stroke-width="0.7" />
<text x="279.8" y="901.8" font-size="9.5" text-anchor="end" fill="#222">1</text>
<line x1="281.3" y1="881" x2="283.8" y2="881" stroke="#333" stroke-width="0.7" />
<text x="279.8" y="884.3" font-size="9.5" text-anchor="end" fill="#222">2</text>
<line x1="281.3" y1="863.5" x2="283.8" y2="863.5" stroke="#333" stroke-width="0.7" />
<text x="279.8" y="866.8" font-size="9.5" text-anchor="end" fill="#222">3</text>
<line x1="312.6" y1="919" x2="312.6" y2="921.5" stroke="#333" stroke-width="0.7" />
<text x="299.2" y="835.4" font-size="11.5" font-weight="bold" font-style="italic" textLength="29.1" lengthAdjust="spacingAndGlyphs">Gbp7</text>
<text x="307.2" y="853.5" font-size="8.8" fill="#222" textLength="34.2" lengthAdjust="spacingAndGlyphs"><tspan font-style="italic">p</tspan> &lt;0.0001</text>
<path d="M302.3 854.2L304.4 854.2C305.0 855.8 306.8 860.5 308.0 863.7C309.2 866.9 310.7 870.2 311.6 873.2C312.5 876.2 313.3 878.9 313.2 881.7C313.1 884.6 312.0 887.8 311.1 890.3C310.2 892.8 308.7 894.8 307.8 896.9C306.9 899.0 305.5 900.7 305.6 902.6C305.7 904.5 307.6 906.5 308.5 908.3C309.4 910.0 310.5 911.8 311.1 913.1C311.7 914.4 311.9 915.5 312.0 916.0L292.6 916.0C292.8 915.5 292.9 914.4 293.5 913.1C294.1 911.8 295.2 910.0 296.1 908.3C297.0 906.5 298.9 904.5 299.0 902.6C299.1 900.7 297.7 899.0 296.8 896.9C295.9 894.8 294.4 892.8 293.5 890.3C292.6 887.8 291.5 884.6 291.4 881.7C291.3 878.9 292.1 876.2 293.0 873.2C293.9 870.2 295.4 866.9 296.6 863.7C297.8 860.5 299.6 855.8 300.2 854.2Z" fill="#F57C6E" stroke="#222" stroke-width="0.75"/>
<path d="M303.7 874.3h0M301.1 876.7h0M304.0 892.6h0M299.7 886.7h0M300.5 871.2h0M302.9 893.0h0M301.9 862.4h0M300.3 873.8h0M304.5 859.3h0M296.9 882.2h0M302.6 888.6h0M300.5 861.2h0M296.6 881.1h0M305.7 877.6h0M305.5 864.3h0M305.9 868.8h0M306.3 870.6h0M301.8 858.5h0M304.8 867.1h0M300.6 864.9h0M304.8 876.3h0M307.4 874.1h0M298.6 892.5h0M303.8 890.9h0M304.5 888.7h0M304.3 883.1h0M301.6 872.9h0M306.1 884.1h0M304.1 901.1h0M305.3 866.9h0M298.3 869.5h0M302.6 865.4h0M297.8 879.9h0M306.5 890.4h0M307.9 880.9h0M299.4 875.4h0M300.1 868.7h0M302.1 895.7h0M299.3 880.6h0M303.5 865.7h0M307.3 874.2h0M299.7 872.6h0M304.0 888.2h0M298.8 873.4h0M303.9 859.5h0M298.2 879.6h0M304.9 873.7h0M302.8 871.7h0M305.0 881.2h0M306.7 873.1h0M300.5 886.0h0M301.1 891.4h0M299.1 895.3h0M300.6 884.0h0M305.5 888.2h0M307.6 880.6h0M303.3 887.2h0M300.4 872.2h0M302.1 891.3h0M303.9 892.4h0M303.4 896.6h0M300.0 867.8h0M302.2 865.7h0M302.2 889.0h0M302.4 885.3h0M297.3 886.8h0M301.8 896.6h0M296.7 883.1h0M304.3 879.0h0M304.7 865.9h0M305.0 873.9h0M299.6 887.0h0M304.2 882.5h0M301.2 858.9h0M297.4 885.3h0M303.2 887.4h0M304.1 881.3h0M299.6 878.7h0M300.8 879.7h0M299.7 898.6h0M303.5 860.7h0M303.2 893.7h0M301.8 888.9h0M304.4 886.2h0M304.4 887.2h0M298.2 889.3h0M301.8 898.4h0M306.5 883.4h0M304.0 866.0h0M306.8 888.4h0M307.3 887.9h0M303.7 862.5h0M300.2 881.5h0M298.5 890.6h0M298.7 872.7h0M303.7 896.7h0M300.6 900.3h0M303.2 887.1h0M304.0 888.2h0M307.1 881.4h0M301.6 895.2h0M298.2 891.7h0M299.0 873.3h0M307.1 876.2h0M301.5 864.2h0M301.4 886.0h0M298.2 892.7h0M306.3 890.3h0M306.1 892.8h0M299.5 880.8h0M300.9 871.0h0M304.3 873.8h0M305.9 870.8h0M303.9 887.6h0M301.5 883.2h0M303.7 866.7h0M304.1 879.9h0M302.8 865.0h0M300.9 875.6h0M306.0 876.9h0M299.9 865.8h0M300.0 872.7h0M302.3 891.6h0M301.9 884.7h0M303.9 888.4h0M301.7 879.9h0M304.6 878.5h0M297.7 888.3h0M301.3 901.1h0M304.8 870.7h0M299.1 866.2h0M300.5 898.3h0M302.4 883.2h0M306.7 872.8h0M298.4 885.7h0M299.6 891.6h0M305.7 877.0h0M301.6 858.1h0M298.5 875.2h0M305.5 877.2h0M301.5 888.9h0M302.8 900.5h0M300.2 891.9h0M299.3 872.5h0M301.3 888.4h0M302.3 889.0h0M297.3 885.3h0M302.2 884.8h0M301.9 860.3h0M306.1 880.0h0M305.1 875.8h0M303.3 860.3h0M301.5 874.3h0M300.6 883.7h0M300.7 864.9h0M303.1 886.2h0M303.2 865.7h0M300.5 877.3h0M298.3 878.2h0M299.8 874.2h0M298.0 890.9h0M304.1 895.7h0M302.5 892.8h0M301.6 866.5h0M303.5 887.7h0M306.0 877.6h0M298.0 890.1h0M302.6 887.1h0M298.9 880.3h0M299.8 892.1h0" stroke="#111" stroke-width="0.95" stroke-linecap="round" fill="none" opacity="1"/>
<path d="M302.7 916.0h0M305.7 915.8h0M305.1 915.9h0M306.2 916.3h0M304.8 915.8h0M306.2 915.9h0M303.3 916.3h0M297.5 916.3h0M299.6 916.0h0M299.6 915.8h0M302.4 916.3h0M302.4 915.7h0M298.7 916.1h0M305.9 916.1h0M300.8 916.0h0M298.5 915.9h0M300.7 916.2h0M300.7 916.0h0M305.4 915.8h0M306.1 915.7h0M303.4 916.0h0M306.7 916.2h0M304.3 915.8h0M302.6 915.9h0M300.5 916.3h0M302.5 915.9h0M300.2 916.3h0M303.0 915.7h0M298.1 915.7h0" stroke="#222" stroke-width="0.9" stroke-linecap="round" fill="none" opacity="1"/>
<path d="M313.2 915.4H334.6V916.6H313.2Z" fill="#ddd" stroke="#777" stroke-width="0.5"/>
<path d="M323.8 864.9V916.0" stroke="#333" stroke-width="0.7"/>
<path d="M319.7 874.2h0M320.0 896.1h0M320.0 893.4h0M324.1 873.4h0M327.9 872.5h0M324.4 882.3h0" stroke="#111" stroke-width="0.8" stroke-linecap="round" fill="none" opacity="1"/>
<path d="M318.3 916.0H329.3" stroke="#333" stroke-width="1.4"/>
<path d="M357.4 850.0V918.8H415.1" fill="none" stroke="#333" stroke-width="0.8"/>
<line x1="354.9" y1="915.8" x2="357.4" y2="915.8" stroke="#333" stroke-width="0.7" />
<text x="353.4" y="919.1" font-size="9.5" text-anchor="end" fill="#222">0</text>
<line x1="354.9" y1="903.5" x2="357.4" y2="903.5" stroke="#333" stroke-width="0.7" />
<text x="353.4" y="906.8" font-size="9.5" text-anchor="end" fill="#222">1</text>
<line x1="354.9" y1="891.2" x2="357.4" y2="891.2" stroke="#333" stroke-width="0.7" />
<text x="353.4" y="894.5" font-size="9.5" text-anchor="end" fill="#222">2</text>
<line x1="354.9" y1="878.9" x2="357.4" y2="878.9" stroke="#333" stroke-width="0.7" />
<text x="353.4" y="882.2" font-size="9.5" text-anchor="end" fill="#222">3</text>
<line x1="354.9" y1="866.6" x2="357.4" y2="866.6" stroke="#333" stroke-width="0.7" />
<text x="353.4" y="869.9" font-size="9.5" text-anchor="end" fill="#222">4</text>
<line x1="354.9" y1="854.3" x2="357.4" y2="854.3" stroke="#333" stroke-width="0.7" />
<text x="353.4" y="857.6" font-size="9.5" text-anchor="end" fill="#222">5</text>
<line x1="386.6" y1="918.8" x2="386.6" y2="921.3" stroke="#333" stroke-width="0.7" />
<text x="372.9" y="835" font-size="11.5" font-weight="bold" font-style="italic" textLength="28.1" lengthAdjust="spacingAndGlyphs">Junb</text>
<text x="379.9" y="852.7" font-size="8.8" fill="#222" textLength="34" lengthAdjust="spacingAndGlyphs"><tspan font-style="italic">p</tspan> &lt;0.0001</text>
<path d="M375.4 854.6L376.2 854.6C376.7 855.8 378.0 859.8 379.1 861.9C380.2 864.0 381.8 865.6 382.9 867.4C384.0 869.2 385.3 871.2 385.9 872.9C386.5 874.6 387.0 875.7 386.6 877.4C386.2 879.1 384.8 881.1 383.6 882.9C382.4 884.7 380.6 886.7 379.5 888.4C378.4 890.1 377.5 891.2 377.0 893.0C376.5 894.8 376.5 896.4 376.4 899.4C376.3 902.4 376.1 908.5 376.2 911.2C376.3 913.9 376.9 915.0 377.0 915.8L373.8 915.8C373.9 915.0 374.5 913.9 374.6 911.2C374.7 908.5 374.5 902.4 374.4 899.4C374.3 896.4 374.3 894.8 373.8 893.0C373.3 891.2 372.4 890.1 371.3 888.4C370.2 886.7 368.4 884.7 367.2 882.9C366.0 881.1 364.6 879.1 364.2 877.4C363.8 875.7 364.3 874.6 364.9 872.9C365.5 871.2 366.8 869.2 367.9 867.4C369.0 865.6 370.6 864.0 371.7 861.9C372.8 859.8 374.1 855.8 374.6 854.6Z" fill="#F57C6E" stroke="#222" stroke-width="0.75"/>
<path d="M370.7 876.1h0M380.4 878.7h0M380.2 878.8h0M374.1 882.0h0M376.5 866.6h0M373.0 886.5h0M378.6 885.5h0M375.7 862.9h0M374.8 871.7h0M377.4 883.4h0M376.0 891.3h0M371.9 878.2h0M377.4 880.6h0M376.5 863.1h0M372.4 870.3h0M380.7 874.1h0M372.9 887.0h0M374.4 888.5h0M376.8 886.1h0M376.8 880.3h0M375.2 887.6h0M372.3 885.1h0M379.7 879.3h0M373.2 863.8h0M378.5 873.8h0M376.4 869.0h0M372.9 869.1h0M377.6 869.0h0M374.2 884.6h0M375.5 877.3h0M372.0 876.3h0M376.2 871.1h0M375.8 863.9h0M374.9 885.0h0M379.5 882.6h0M378.0 863.4h0M373.1 863.6h0M375.2 876.7h0M371.2 873.3h0M374.1 876.0h0M375.3 886.1h0M380.1 871.3h0M379.6 869.8h0M378.7 871.6h0M376.9 884.4h0M377.1 884.3h0M374.4 881.7h0M378.7 883.0h0M372.8 872.1h0M371.6 876.8h0M370.7 879.3h0M375.9 879.1h0M376.4 878.4h0M372.8 867.9h0M376.6 867.2h0M372.1 869.1h0M375.3 871.9h0M379.1 869.1h0M375.4 871.3h0M373.0 876.8h0M371.4 870.5h0M375.4 862.0h0M375.3 865.3h0M376.2 878.9h0M375.6 871.5h0M377.6 876.4h0M375.4 866.1h0M370.5 880.7h0M379.1 879.8h0M378.1 883.3h0M375.0 878.4h0M372.5 865.0h0M373.1 886.5h0M373.4 865.5h0M374.6 865.0h0M372.7 868.6h0M373.5 885.8h0M375.1 865.8h0M374.8 858.7h0M377.9 873.7h0M378.1 867.2h0M370.5 870.3h0M371.4 883.6h0M371.5 875.3h0M377.3 882.3h0M372.5 865.8h0M374.8 887.8h0M374.1 877.3h0M378.4 878.7h0M374.7 877.9h0M376.2 889.7h0M377.2 868.0h0M379.5 870.8h0M370.4 872.8h0M378.4 878.7h0M376.6 890.6h0M370.4 878.5h0M378.2 884.9h0M371.2 879.9h0M377.3 886.6h0M375.6 873.2h0M375.8 890.1h0M375.7 863.0h0M380.4 880.5h0M373.3 878.9h0M380.5 876.4h0M377.7 880.9h0M381.2 876.9h0M379.7 883.1h0M375.5 884.4h0M379.8 882.4h0M371.5 880.3h0M379.0 869.1h0M379.4 881.5h0M370.5 873.4h0M373.1 878.4h0M375.8 876.0h0M371.7 883.1h0M375.1 889.6h0M376.5 885.0h0M375.3 871.2h0M377.5 862.6h0M378.2 866.9h0M377.1 878.6h0M378.4 869.5h0M374.5 859.6h0M377.1 878.0h0M379.6 869.9h0M375.6 874.7h0M371.5 869.9h0M373.4 862.0h0M376.9 865.1h0M369.4 877.0h0M375.5 874.7h0M375.4 863.6h0M373.1 863.8h0M374.3 862.0h0M372.8 885.1h0M380.6 879.6h0M376.7 872.6h0M377.2 886.2h0M375.0 890.3h0M371.0 881.8h0M371.1 870.4h0M376.6 875.4h0M379.4 878.8h0M376.3 874.5h0M375.6 889.5h0M376.3 866.0h0M377.4 866.9h0M375.8 871.9h0M376.7 873.0h0M374.6 878.8h0M376.1 887.9h0M372.8 873.5h0M375.2 873.4h0M371.1 870.4h0M378.9 873.1h0M378.5 870.7h0M375.5 891.8h0M377.8 884.7h0M377.4 882.2h0M376.2 864.1h0M377.4 870.6h0M376.9 890.1h0M375.6 881.4h0M374.6 885.3h0M380.9 875.9h0M378.5 882.0h0M375.4 882.8h0M380.2 876.5h0M376.2 873.9h0M374.6 864.4h0M374.7 871.0h0M371.5 884.0h0M374.3 861.9h0M377.6 873.9h0M373.9 864.6h0M374.9 884.8h0M373.0 886.9h0M376.8 887.1h0M371.9 884.0h0M376.8 874.5h0M373.2 879.3h0M370.3 870.9h0M376.0 876.6h0M376.3 887.0h0M377.7 882.4h0M381.1 876.2h0M371.9 879.5h0M374.9 889.7h0M380.1 870.4h0M376.2 888.8h0M381.0 877.6h0M379.7 882.5h0M372.4 865.2h0M380.9 872.9h0M370.0 877.7h0M379.2 876.6h0M373.7 875.5h0M376.6 869.7h0M377.1 870.4h0M373.4 874.4h0M378.9 879.8h0M379.5 877.7h0M381.2 876.2h0M372.9 881.3h0M373.1 869.8h0M376.7 884.2h0M373.9 874.0h0" stroke="#111" stroke-width="0.95" stroke-linecap="round" fill="none" opacity="1"/>
<path d="M375.2 916.0h0M375.3 915.9h0M375.8 916.0h0M375.8 915.7h0" stroke="#222" stroke-width="0.9" stroke-linecap="round" fill="none" opacity="1"/>
<path d="M397.6 854.2L399.7 854.2C400.6 855.0 403.4 857.2 404.9 859.2C406.4 861.2 408.3 864.4 408.6 866.5C408.9 868.6 407.7 870.0 406.5 872.0C405.3 874.0 402.8 876.1 401.5 878.4C400.2 880.7 399.2 883.0 398.6 885.7C398.1 888.4 398.3 890.8 398.2 894.8C398.1 898.8 398.1 905.9 398.2 909.4C398.3 912.9 398.9 914.7 399.0 915.8L396.2 915.8C396.3 914.7 396.9 912.9 397.0 909.4C397.1 905.9 397.1 898.8 397.0 894.8C396.9 890.8 397.2 888.4 396.6 885.7C396.1 883.0 395.0 880.7 393.7 878.4C392.4 876.1 389.9 874.0 388.7 872.0C387.5 870.0 386.3 868.6 386.6 866.5C386.9 864.4 388.8 861.2 390.3 859.2C391.8 857.2 394.6 855.0 395.5 854.2Z" fill="#178A8C" stroke="#222" stroke-width="0.75"/>
<path d="M399.0 857.3h0M402.8 869.7h0M398.8 878.9h0M401.1 861.7h0M393.7 869.0h0M398.3 878.2h0M403.3 867.4h0M398.6 872.1h0M397.6 865.7h0M399.2 871.9h0M395.8 875.9h0M393.9 864.5h0M391.9 867.7h0M393.5 861.3h0M398.7 865.6h0M394.4 861.4h0M394.2 859.9h0M396.5 875.9h0M400.4 866.5h0M400.2 862.3h0M395.9 867.0h0M394.8 859.9h0M399.9 869.9h0M398.6 873.2h0M398.0 859.7h0M395.3 869.9h0M394.6 860.3h0M401.0 869.4h0M395.1 876.1h0M398.6 857.0h0M397.8 858.3h0M401.5 859.5h0M395.8 876.1h0M397.7 864.5h0M396.3 862.7h0M399.0 857.4h0M393.0 863.9h0M403.2 868.2h0M399.9 878.0h0M394.7 865.0h0M394.6 870.6h0M397.5 875.4h0M400.5 858.2h0M392.7 864.5h0M399.1 870.8h0M395.1 875.1h0M398.9 858.7h0M396.0 863.9h0M396.2 874.1h0M397.2 865.5h0M392.5 865.1h0M400.4 863.1h0M395.6 874.0h0M397.5 870.0h0M397.3 860.5h0M396.7 863.3h0M398.2 878.4h0M395.6 867.0h0M399.9 874.1h0M393.6 869.7h0" stroke="#111" stroke-width="0.95" stroke-linecap="round" fill="none" opacity="1"/>
<path d="M397.0 915.9h0M397.4 915.6h0M397.2 915.6h0M397.8 916.0h0" stroke="#222" stroke-width="0.9" stroke-linecap="round" fill="none" opacity="1"/>
<path d="M430.6 853.7V918.3H488.7" fill="none" stroke="#333" stroke-width="0.8"/>
<line x1="428.1" y1="915.3" x2="430.6" y2="915.3" stroke="#333" stroke-width="0.7" />
<text x="426.6" y="918.6" font-size="9.5" text-anchor="end" fill="#222">0</text>
<line x1="428.1" y1="901.1" x2="430.6" y2="901.1" stroke="#333" stroke-width="0.7" />
<text x="426.6" y="904.4" font-size="9.5" text-anchor="end" fill="#222">1</text>
<line x1="428.1" y1="887" x2="430.6" y2="887" stroke="#333" stroke-width="0.7" />
<text x="426.6" y="890.3" font-size="9.5" text-anchor="end" fill="#222">2</text>
<line x1="428.1" y1="872.8" x2="430.6" y2="872.8" stroke="#333" stroke-width="0.7" />
<text x="426.6" y="876.1" font-size="9.5" text-anchor="end" fill="#222">3</text>
<line x1="428.1" y1="858.7" x2="430.6" y2="858.7" stroke="#333" stroke-width="0.7" />
<text x="426.6" y="862" font-size="9.5" text-anchor="end" fill="#222">4</text>
<line x1="459.7" y1="918.3" x2="459.7" y2="920.8" stroke="#333" stroke-width="0.7" />
<text x="446.8" y="834.4" font-size="11.5" font-weight="bold" font-style="italic" textLength="27.3" lengthAdjust="spacingAndGlyphs">Jund</text>
<text x="454.7" y="852.2" font-size="8.8" fill="#222" textLength="37.3" lengthAdjust="spacingAndGlyphs"><tspan font-style="italic">p</tspan> = 0.0062</text>
<path d="M449.0 853.2L449.5 853.2C449.6 854.4 449.4 857.7 450.4 860.1C451.3 862.5 453.7 865.0 455.2 867.4C456.7 869.8 458.5 872.7 459.3 874.7C460.1 876.7 460.1 877.2 460.0 879.3C459.9 881.4 459.5 884.9 458.6 887.5C457.8 890.1 456.1 892.7 454.9 894.8C453.7 896.9 452.1 898.5 451.3 900.3C450.5 902.1 449.9 904.1 450.0 905.8C450.1 907.5 451.6 908.7 452.2 910.3C452.8 911.9 453.4 914.5 453.6 915.3L444.4 915.3C444.6 914.5 445.2 911.9 445.8 910.3C446.4 908.7 447.9 907.5 448.0 905.8C448.1 904.1 447.5 902.1 446.7 900.3C445.9 898.5 444.3 896.9 443.1 894.8C441.9 892.7 440.2 890.1 439.4 887.5C438.5 884.9 438.1 881.4 438.0 879.3C437.9 877.2 437.9 876.7 438.7 874.7C439.5 872.7 441.3 869.8 442.8 867.4C444.3 865.0 446.7 862.5 447.6 860.1C448.6 857.7 448.4 854.4 448.5 853.2Z" fill="#F57C6E" stroke="#222" stroke-width="0.75"/>
<path d="M451.3 886.0h0M447.6 865.5h0M446.4 887.9h0M444.7 882.1h0M445.4 885.1h0M453.1 880.3h0M450.3 897.4h0M450.9 880.7h0M447.3 889.6h0M443.7 879.5h0M443.4 875.0h0M445.5 873.2h0M448.4 893.1h0M446.2 883.4h0M452.5 893.2h0M446.7 878.4h0M453.9 883.6h0M453.1 870.3h0M448.5 894.1h0M448.5 892.8h0M449.5 875.8h0M443.9 886.8h0M452.1 884.6h0M445.0 885.0h0M454.3 874.2h0M445.6 885.3h0M447.5 886.8h0M454.6 878.3h0M449.4 888.7h0M443.9 884.3h0M449.7 888.7h0M454.9 878.7h0M453.9 883.4h0M449.6 883.1h0M451.9 868.0h0M453.9 877.0h0M446.6 893.1h0M447.1 881.0h0M449.9 896.3h0M450.7 895.1h0M448.0 868.8h0M450.6 872.6h0M450.7 866.4h0M453.8 883.3h0M449.7 876.5h0M446.8 864.7h0M454.0 881.8h0M454.0 873.6h0M450.1 891.2h0M446.0 882.8h0M451.1 888.8h0M445.3 884.7h0M446.6 882.2h0M443.7 878.1h0M451.7 878.0h0M446.4 880.7h0M450.8 894.4h0M444.7 882.8h0M453.3 878.3h0M447.9 871.8h0M447.5 892.7h0M449.5 882.9h0M447.7 895.5h0M444.8 876.0h0M454.6 879.9h0M452.1 876.4h0M451.5 891.2h0M444.0 883.2h0M446.9 883.7h0M449.0 885.2h0M450.0 875.0h0M448.0 863.8h0M450.6 873.4h0M446.1 890.3h0M453.0 889.9h0M445.9 889.1h0M447.9 892.7h0M452.4 871.1h0M452.3 870.6h0M450.5 879.3h0M443.8 873.6h0M452.4 869.4h0M454.5 881.3h0M449.2 886.7h0M446.5 870.2h0M443.4 881.4h0M452.6 886.7h0M452.1 876.8h0M447.2 888.6h0M448.6 863.6h0M453.8 888.6h0M450.4 862.4h0M448.3 879.9h0M449.0 896.5h0M450.6 894.7h0M448.2 867.6h0M448.3 884.0h0M451.6 890.9h0M449.7 897.4h0M451.1 878.9h0M448.6 871.8h0M449.2 887.7h0M446.1 867.6h0M444.5 886.3h0M448.4 884.8h0M452.3 893.5h0M450.0 866.8h0M447.5 882.0h0M443.4 882.6h0M446.0 880.7h0M450.2 889.1h0M451.8 872.8h0M446.3 885.9h0M448.8 874.8h0M448.4 897.2h0M447.2 877.1h0M451.8 883.1h0M451.4 887.8h0M452.0 876.2h0M445.9 881.6h0M453.4 872.9h0M451.3 896.0h0M447.5 883.8h0M445.7 870.6h0M451.3 875.6h0M444.8 887.9h0M447.4 872.5h0M443.5 877.3h0M450.5 878.6h0M449.1 879.3h0M451.7 889.8h0M444.8 889.1h0M450.9 889.4h0M445.5 869.2h0M449.2 884.8h0M446.0 866.4h0M452.2 879.2h0M450.5 883.1h0M454.7 881.6h0M443.8 873.2h0M450.0 873.9h0M446.8 867.6h0M446.5 893.1h0M448.1 871.6h0M448.9 862.7h0M446.1 872.0h0M451.1 883.7h0M443.9 879.2h0M444.8 871.7h0M449.9 878.3h0M447.6 872.4h0M450.2 896.0h0M446.6 894.4h0M452.2 879.9h0M447.3 870.7h0M447.6 895.1h0M451.9 880.8h0M447.4 863.4h0M444.0 877.1h0M448.2 875.5h0M454.5 884.1h0M450.0 874.0h0M448.0 876.2h0M450.0 897.9h0M447.3 878.5h0M447.1 866.5h0M451.4 884.3h0M444.0 877.7h0M453.8 880.4h0M447.4 863.2h0M449.6 889.2h0M451.8 872.2h0M448.1 868.4h0M447.0 864.4h0M443.8 873.9h0M449.4 883.6h0M446.0 893.4h0M445.9 871.8h0M452.2 870.7h0M446.5 877.6h0M447.8 864.4h0M449.1 882.0h0M448.7 872.6h0M450.0 891.8h0M451.4 894.2h0M449.7 871.6h0M449.2 863.8h0M445.0 881.3h0M449.4 871.2h0M447.6 870.4h0M445.5 873.8h0M448.0 875.3h0M445.0 874.9h0M453.0 872.6h0M446.4 873.9h0M448.1 871.7h0M445.1 880.1h0M446.5 874.1h0M450.1 885.5h0M449.0 888.6h0" stroke="#111" stroke-width="0.95" stroke-linecap="round" fill="none" opacity="1"/>
<path d="M450.9 915.5h0M450.0 915.3h0M450.4 915.4h0M447.0 915.4h0M448.3 915.5h0M450.0 915.4h0M447.3 915.5h0M449.6 915.4h0M447.9 915.2h0M450.5 915.0h0M449.3 915.2h0M449.5 915.5h0M450.1 915.4h0" stroke="#222" stroke-width="0.9" stroke-linecap="round" fill="none" opacity="1"/>
<path d="M470.9 858.3L473.6 858.3C474.5 859.2 477.7 861.4 479.1 863.7C480.5 866.0 481.8 869.5 481.9 872.0C482.0 874.5 480.7 876.4 479.6 878.4C478.4 880.4 476.1 882.0 475.0 883.8C473.9 885.6 473.6 886.7 473.2 889.3C472.8 891.9 472.5 896.2 472.3 899.4C472.1 902.6 471.9 905.9 471.9 908.5C471.9 911.1 472.2 914.2 472.3 915.3L469.5 915.3C469.6 914.2 469.9 911.1 469.9 908.5C469.9 905.9 469.7 902.6 469.5 899.4C469.3 896.2 469.0 891.9 468.6 889.3C468.1 886.7 467.9 885.6 466.8 883.8C465.7 882.0 463.3 880.4 462.2 878.4C461.1 876.4 459.8 874.5 459.9 872.0C460.0 869.5 461.3 866.0 462.7 863.7C464.1 861.4 467.3 859.2 468.2 858.3Z" fill="#178A8C" stroke="#222" stroke-width="0.75"/>
<path d="M471.2 885.3h0M465.1 870.8h0M471.5 860.2h0M469.0 861.7h0M467.7 862.3h0M475.3 874.9h0M466.4 876.3h0M473.9 863.0h0M469.2 867.0h0M471.6 878.9h0M466.3 876.6h0M470.9 881.4h0M471.4 877.5h0M474.0 868.0h0M472.0 889.3h0M471.5 875.2h0M472.6 879.1h0M470.6 860.2h0M468.7 863.0h0M471.0 885.4h0M469.9 871.1h0M468.4 882.9h0M473.9 881.8h0M471.9 888.9h0M467.0 871.9h0M472.6 874.1h0M472.6 876.6h0M473.9 867.5h0M475.8 869.7h0M472.7 881.2h0M470.6 884.5h0M473.7 865.6h0M473.3 875.9h0M473.3 860.7h0M473.0 864.9h0M466.7 873.0h0M472.0 869.2h0M468.6 879.5h0M471.0 868.3h0M470.7 873.1h0M469.4 884.8h0M474.4 880.9h0M469.9 888.6h0M465.8 869.6h0M473.8 874.0h0M468.1 871.1h0M474.4 880.5h0M472.5 875.8h0M475.7 868.7h0M472.4 874.7h0M469.4 886.6h0M470.4 883.3h0M471.8 870.0h0M468.7 879.6h0M474.2 862.6h0M473.4 872.8h0M475.8 874.3h0M472.6 866.5h0M473.8 862.4h0M469.3 868.8h0" stroke="#111" stroke-width="0.95" stroke-linecap="round" fill="none" opacity="1"/>
<path d="M470.7 915.0h0M471.1 915.1h0M471.0 915.4h0M471.3 915.1h0" stroke="#222" stroke-width="0.9" stroke-linecap="round" fill="none" opacity="1"/>
<path d="M507.6 855.7V918.3H565.9" fill="none" stroke="#333" stroke-width="0.8"/>
<line x1="505.1" y1="915.3" x2="507.6" y2="915.3" stroke="#333" stroke-width="0.7" />
<text x="503.6" y="918.6" font-size="9.5" text-anchor="end" fill="#222">0</text>
<line x1="505.1" y1="897.5" x2="507.6" y2="897.5" stroke="#333" stroke-width="0.7" />
<text x="503.6" y="900.8" font-size="9.5" text-anchor="end" fill="#222">1</text>
<line x1="505.1" y1="879.7" x2="507.6" y2="879.7" stroke="#333" stroke-width="0.7" />
<text x="503.6" y="883" font-size="9.5" text-anchor="end" fill="#222">2</text>
<line x1="505.1" y1="861.9" x2="507.6" y2="861.9" stroke="#333" stroke-width="0.7" />
<text x="503.6" y="865.2" font-size="9.5" text-anchor="end" fill="#222">3</text>
<line x1="536.6" y1="918.3" x2="536.6" y2="920.8" stroke="#333" stroke-width="0.7" />
<text x="521.7" y="834.4" font-size="11.5" font-weight="bold" font-style="italic" textLength="31" lengthAdjust="spacingAndGlyphs">Il1rap</text>
<text x="536.1" y="848.5" font-size="8.8" fill="#222" textLength="36.5" lengthAdjust="spacingAndGlyphs"><tspan font-style="italic">p</tspan> = 0.0038</text>
<path d="M515.0 914.7H530.6V915.9H515.0Z" fill="#ddd" stroke="#777" stroke-width="0.5"/>
<path d="M525.5 866.0V915.3" stroke="#333" stroke-width="0.7"/>
<path d="M523.3 886.5h0M521.4 901.7h0M530.0 877.8h0M524.1 891.4h0M530.1 894.9h0M522.6 893.0h0M522.1 888.4h0M524.9 882.9h0M527.9 896.1h0M525.4 889.0h0M526.5 889.3h0M524.4 870.0h0M522.5 880.2h0M528.3 875.7h0M523.3 886.7h0M522.2 873.4h0M525.1 875.6h0M526.5 886.6h0M522.4 873.3h0M521.1 890.5h0M524.1 882.2h0M525.3 896.1h0M527.2 873.2h0M530.4 872.8h0M526.3 903.0h0M530.3 883.9h0M526.5 882.0h0M522.2 895.3h0" stroke="#111" stroke-width="0.8" stroke-linecap="round" fill="none" opacity="1"/>
<path d="M520.0 915.3H531.0" stroke="#333" stroke-width="1.4"/>
<path d="M547.5 853.2L548.3 853.2C548.5 854.8 549.1 859.7 549.6 862.8C550.1 865.9 550.9 869.0 551.4 872.0C551.9 875.0 552.5 878.2 552.5 881.1C552.5 884.0 552.0 886.6 551.6 889.3C551.2 892.0 549.8 895.1 550.0 897.5C550.2 899.9 551.8 901.9 553.0 903.9C554.2 905.9 556.2 907.5 557.1 909.4C558.0 911.3 558.3 914.3 558.5 915.3L536.5 915.3C536.7 914.3 537.0 911.3 537.9 909.4C538.8 907.5 540.8 905.9 542.0 903.9C543.2 901.9 544.8 899.9 545.0 897.5C545.2 895.1 543.8 892.0 543.4 889.3C543.0 886.6 542.5 884.0 542.5 881.1C542.5 878.2 543.1 875.0 543.6 872.0C544.1 869.0 544.9 865.9 545.4 862.8C545.9 859.7 546.5 854.8 546.7 853.2Z" fill="#178A8C" stroke="#222" stroke-width="0.75"/>
<path d="M549.5 874.7h0M549.9 877.6h0M549.6 876.4h0M549.0 872.1h0M550.1 881.0h0M546.3 892.7h0M545.6 881.2h0M545.6 873.7h0M549.2 888.4h0M547.8 883.7h0M549.7 884.6h0M548.9 866.3h0M548.3 865.7h0M548.6 896.7h0M547.1 896.3h0M547.6 893.6h0M548.1 883.6h0M549.0 876.3h0M546.2 892.3h0M547.2 870.8h0M547.1 871.4h0M547.7 877.0h0M547.2 861.8h0M547.0 871.1h0M546.4 871.2h0M549.5 879.0h0M548.3 870.8h0M547.4 869.9h0M545.0 878.5h0M547.5 887.4h0M546.6 889.9h0M544.9 878.9h0M546.2 890.1h0M549.0 880.3h0M546.8 864.7h0M548.7 870.0h0M547.5 879.4h0M548.3 884.1h0M547.3 867.0h0M549.0 895.0h0M545.7 889.8h0M548.0 882.6h0M546.4 876.8h0M549.4 886.1h0M548.8 887.7h0" stroke="#111" stroke-width="0.95" stroke-linecap="round" fill="none" opacity="1"/>
<path d="M544.2 915.2h0M548.1 915.4h0M547.5 915.5h0M544.6 915.2h0M547.8 915.0h0M542.8 915.4h0M550.8 915.6h0M543.7 915.5h0M547.5 915.2h0M551.6 915.4h0M551.4 915.2h0M549.0 915.2h0M550.6 915.3h0M552.0 915.5h0M551.8 915.4h0M545.0 915.3h0M542.6 915.6h0M548.3 915.5h0M542.8 915.1h0M550.2 915.4h0M552.4 915.4h0M549.1 915.1h0M552.7 915.2h0M550.3 915.1h0M543.8 915.2h0M549.7 915.1h0M552.1 915.1h0M546.0 915.3h0M544.6 915.2h0M542.4 915.0h0M547.8 915.6h0M546.8 915.5h0M546.2 915.1h0" stroke="#222" stroke-width="0.9" stroke-linecap="round" fill="none" opacity="1"/>
<rect x="576.4" y="876.1" width="10.5" height="10.9" fill="#F57C6E" stroke="#333" stroke-width="0.7" />
<rect x="576.4" y="887" width="10.5" height="10.7" fill="#178A8C" stroke="#333" stroke-width="0.7" />
<text x="592.7" y="884.1" font-size="10" textLength="20.5" lengthAdjust="spacingAndGlyphs">14dpi</text>
<text x="592.7" y="895.5" font-size="10" textLength="21.2" lengthAdjust="spacingAndGlyphs">Naive</text>
</svg>
</body></html>
